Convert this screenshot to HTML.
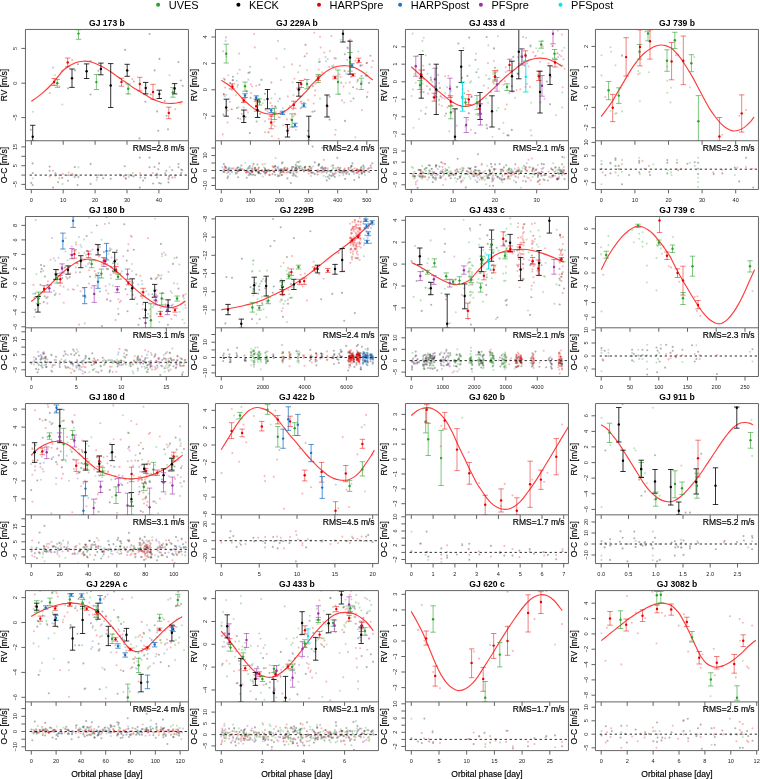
<!DOCTYPE html><html><head><meta charset="utf-8"><style>html,body{margin:0;padding:0;background:#fff;}svg{display:block;will-change:transform;}text{font-family:"Liberation Sans", sans-serif;}.s{stroke:#000;stroke-width:0.18px;}.t{stroke:#333;stroke-width:0.2px;}</style></head><body>
<svg width="760" height="779" viewBox="0 0 760 779">
<rect width="760" height="779" fill="#fff"/>
<circle cx="158.1" cy="4.7" r="2.0" fill="#2ca02c"/>
<text x="168.7" y="8.6" font-size="11" fill="#000">UVES</text>
<circle cx="238.4" cy="4.7" r="2.0" fill="#000000"/>
<text x="249.0" y="8.6" font-size="11" fill="#000">KECK</text>
<circle cx="319.0" cy="4.7" r="2.0" fill="#e60000"/>
<text x="329.6" y="8.6" font-size="11" fill="#000">HARPSpre</text>
<circle cx="400.1" cy="4.7" r="2.0" fill="#1f72c4"/>
<text x="410.7" y="8.6" font-size="11" fill="#000">HARPSpost</text>
<circle cx="480.9" cy="4.7" r="2.0" fill="#9932a8"/>
<text x="491.5" y="8.6" font-size="11" fill="#000">PFSpre</text>
<circle cx="560.5" cy="4.7" r="2.0" fill="#00e8f0"/>
<text x="571.1" y="8.6" font-size="11" fill="#000">PFSpost</text>
<clipPath id="c00a"><rect x="25.4" y="29.4" width="163.0" height="111.3"/></clipPath><clipPath id="c00b"><rect x="25.4" y="140.8" width="163.0" height="48.7"/></clipPath><text x="106.9" y="25.9" font-size="8.6" font-weight="bold" text-anchor="middle" fill="#000">GJ 173 b</text><g clip-path="url(#c00a)"><g stroke="rgba(0,0,0,0.3)" stroke-width="2.10" stroke-linecap="round"><path d="M30.8 129.7h0"/><path d="M67.9 88.3h0"/><path d="M90.5 94.5h0"/><path d="M78.0 64.3h0"/><path d="M90.5 61.0h0"/><path d="M75.1 70.4h0"/><path d="M98.4 70.7h0"/><path d="M149.6 34.0h0"/><path d="M125.1 49.9h0"/><path d="M159.4 58.9h0"/><path d="M178.4 62.1h0"/><path d="M154.6 70.4h0"/><path d="M180.8 80.5h0"/><path d="M182.7 85.8h0"/><path d="M133.8 81.5h0"/><path d="M145.3 101.7h0"/><path d="M164.7 101.0h0"/><path d="M157.1 111.4h0"/><path d="M166.6 115.8h0"/><path d="M158.2 130.7h0"/><path d="M168.0 129.3h0"/><path d="M139.5 138.4h0"/><path d="M150.8 94.5h0"/></g><g stroke="rgba(44,160,44,0.3)" stroke-width="2.10" stroke-linecap="round"><path d="M54.9 75.3h0"/><path d="M62.4 104.5h0"/><path d="M32.9 111.7h0"/><path d="M169.5 75.3h0"/><path d="M180.5 103.8h0"/><path d="M128.0 93.7h0"/></g><g stroke="rgba(230,0,0,0.28)" stroke-width="2.10" stroke-linecap="round"><path d="M53.1 67.6h0"/><path d="M72.2 59.9h0"/><path d="M62.1 70.7h0"/><path d="M49.7 93.0h0"/><path d="M59.5 86.6h0"/><path d="M132.3 79.1h0"/><path d="M175.2 109.3h0"/></g><path d="M31.20,101.40C32.97,100.10 38.17,96.67 41.80,93.60C45.43,90.53 49.28,87.02 53.00,83.00C56.72,78.98 60.38,72.87 64.10,69.50C67.82,66.13 72.12,64.18 75.30,62.80C78.48,61.42 80.40,61.28 83.20,61.20C86.00,61.12 88.75,61.28 92.10,62.30C95.45,63.32 100.22,65.73 103.30,67.30C106.38,68.87 108.45,70.30 110.60,71.70C112.75,73.10 114.33,74.38 116.20,75.70C118.07,77.02 119.93,78.30 121.80,79.60C123.67,80.90 125.53,82.20 127.40,83.50C129.27,84.80 131.13,86.18 133.00,87.40C134.87,88.62 136.75,89.68 138.60,90.80C140.45,91.92 142.25,92.98 144.10,94.10C145.95,95.22 147.83,96.47 149.70,97.50C151.57,98.53 153.43,99.52 155.30,100.30C157.17,101.08 159.03,101.70 160.90,102.20C162.77,102.70 164.63,103.10 166.50,103.30C168.37,103.50 170.23,103.48 172.10,103.40C173.97,103.32 175.93,103.10 177.70,102.80C179.47,102.50 181.87,101.80 182.70,101.60" fill="none" stroke="#ff1a1a" stroke-width="1.15" stroke-opacity="0.85"/><path d="M32.7,125.3V141.0M30.0,125.3H35.4M30.0,141.0H35.4" stroke="rgba(0,0,0,0.8)" stroke-width="1" fill="none"/><path d="M54.1,78.5V85.5M51.4,78.5H56.8M51.4,85.5H56.8" stroke="rgba(230,0,0,0.5)" stroke-width="1" fill="none"/><path d="M57.3,79.5V87.3M54.6,79.5H60.0M54.6,87.3H60.0" stroke="rgba(44,160,44,0.6)" stroke-width="1" fill="none"/><path d="M67.7,58.0V66.8M65.0,58.0H70.4M65.0,66.8H70.4" stroke="rgba(230,0,0,0.5)" stroke-width="1" fill="none"/><path d="M72.0,69.0V87.4M69.3,69.0H74.7M69.3,87.4H74.7" stroke="rgba(0,0,0,0.8)" stroke-width="1" fill="none"/><path d="M78.5,29.8V39.3M75.8,29.8H81.2M75.8,39.3H81.2" stroke="rgba(44,160,44,0.6)" stroke-width="1" fill="none"/><path d="M86.6,63.9V78.5M83.9,63.9H89.3M83.9,78.5H89.3" stroke="rgba(0,0,0,0.8)" stroke-width="1" fill="none"/><path d="M96.4,74.5V89.5M93.7,74.5H99.1M93.7,89.5H99.1" stroke="rgba(44,160,44,0.6)" stroke-width="1" fill="none"/><path d="M100.9,63.1V74.8M98.2,63.1H103.6M98.2,74.8H103.6" stroke="rgba(0,0,0,0.8)" stroke-width="1" fill="none"/><path d="M110.7,63.6V107.5M108.0,63.6H113.4M108.0,107.5H113.4" stroke="rgba(0,0,0,0.8)" stroke-width="1" fill="none"/><path d="M121.5,78.2V86.2M118.8,78.2H124.2M118.8,86.2H124.2" stroke="rgba(230,0,0,0.5)" stroke-width="1" fill="none"/><path d="M127.2,64.3V76.3M124.5,64.3H129.9M124.5,76.3H129.9" stroke="rgba(0,0,0,0.8)" stroke-width="1" fill="none"/><path d="M128.2,84.0V93.9M125.5,84.0H130.9M125.5,93.9H130.9" stroke="rgba(44,160,44,0.6)" stroke-width="1" fill="none"/><path d="M139.8,77.3V90.9M137.1,77.3H142.5M137.1,90.9H142.5" stroke="rgba(230,0,0,0.5)" stroke-width="1" fill="none"/><path d="M145.7,82.4V93.9M143.0,82.4H148.4M143.0,93.9H148.4" stroke="rgba(0,0,0,0.8)" stroke-width="1" fill="none"/><path d="M153.0,84.3V99.3M150.3,84.3H155.7M150.3,99.3H155.7" stroke="rgba(230,0,0,0.5)" stroke-width="1" fill="none"/><path d="M159.3,90.2V98.5M156.6,90.2H162.0M156.6,98.5H162.0" stroke="rgba(0,0,0,0.8)" stroke-width="1" fill="none"/><path d="M168.8,107.2V118.7M166.1,107.2H171.5M166.1,118.7H171.5" stroke="rgba(230,0,0,0.5)" stroke-width="1" fill="none"/><path d="M172.9,87.6V97.2M170.2,87.6H175.6M170.2,97.2H175.6" stroke="rgba(44,160,44,0.6)" stroke-width="1" fill="none"/><path d="M174.6,83.6V93.9M171.9,83.6H177.3M171.9,93.9H177.3" stroke="rgba(0,0,0,0.8)" stroke-width="1" fill="none"/><circle cx="32.7" cy="136.7" r="1.2" fill="#000000"/><circle cx="54.1" cy="81.9" r="1.2" fill="#e60000"/><circle cx="57.3" cy="83.3" r="1.2" fill="#2ca02c"/><circle cx="67.7" cy="62.4" r="1.2" fill="#e60000"/><circle cx="72.0" cy="78.2" r="1.2" fill="#000000"/><circle cx="78.5" cy="33.6" r="1.2" fill="#2ca02c"/><circle cx="86.6" cy="71.2" r="1.2" fill="#000000"/><circle cx="96.4" cy="82.1" r="1.2" fill="#2ca02c"/><circle cx="100.9" cy="69.0" r="1.2" fill="#000000"/><circle cx="110.7" cy="85.5" r="1.2" fill="#000000"/><circle cx="121.5" cy="81.9" r="1.2" fill="#e60000"/><circle cx="127.2" cy="70.4" r="1.2" fill="#000000"/><circle cx="128.2" cy="88.7" r="1.2" fill="#2ca02c"/><circle cx="139.8" cy="84.0" r="1.2" fill="#e60000"/><circle cx="145.7" cy="88.0" r="1.2" fill="#000000"/><circle cx="153.0" cy="92.0" r="1.2" fill="#e60000"/><circle cx="159.3" cy="94.1" r="1.2" fill="#000000"/><circle cx="168.8" cy="112.9" r="1.2" fill="#e60000"/><circle cx="172.9" cy="92.4" r="1.2" fill="#2ca02c"/><circle cx="174.6" cy="88.4" r="1.2" fill="#000000"/></g><g clip-path="url(#c00b)"><g stroke="rgba(0,0,0,0.3)" stroke-width="2.10" stroke-linecap="round"><path d="M32.6 163.4h0"/><path d="M32.8 173.1h0"/><path d="M31.3 182.9h0"/><path d="M32.6 185.0h0"/><path d="M49.6 166.6h0"/><path d="M49.6 170.7h0"/><path d="M55.4 173.4h0"/><path d="M59.5 175.3h0"/><path d="M58.2 182.2h0"/><path d="M62.2 177.9h0"/><path d="M53.0 187.6h0"/><path d="M68.1 175.3h0"/><path d="M67.9 180.7h0"/><path d="M72.5 175.3h0"/><path d="M74.8 167.1h0"/><path d="M74.8 177.1h0"/><path d="M78.4 177.1h0"/><path d="M77.6 185.0h0"/><path d="M76.8 175.3h0"/><path d="M90.6 163.9h0"/><path d="M90.6 175.3h0"/><path d="M90.6 183.9h0"/><path d="M97.1 177.5h0"/><path d="M98.1 175.3h0"/><path d="M102.5 175.3h0"/><path d="M103.2 178.2h0"/><path d="M110.7 178.8h0"/><path d="M119.9 174.7h0"/><path d="M123.8 176.1h0"/><path d="M124.7 166.2h0"/><path d="M126.0 178.6h0"/><path d="M131.5 175.5h0"/><path d="M133.5 176.4h0"/><path d="M139.8 157.6h0"/><path d="M140.4 177.5h0"/><path d="M143.1 180.6h0"/><path d="M144.8 175.3h0"/><path d="M145.0 178.0h0"/><path d="M139.8 187.6h0"/><path d="M149.5 157.6h0"/><path d="M149.5 167.3h0"/><path d="M151.4 175.5h0"/><path d="M154.5 167.0h0"/><path d="M153.1 183.5h0"/><path d="M156.9 173.9h0"/><path d="M157.5 175.3h0"/><path d="M159.1 163.4h0"/><path d="M158.3 169.2h0"/><path d="M159.1 183.0h0"/><path d="M160.8 183.5h0"/><path d="M156.9 177.5h0"/><path d="M165.2 173.3h0"/><path d="M166.3 170.8h0"/><path d="M172.2 170.0h0"/><path d="M169.1 176.1h0"/><path d="M168.5 179.1h0"/><path d="M168.5 182.4h0"/><path d="M172.4 177.5h0"/><path d="M174.9 175.5h0"/><path d="M178.5 164.0h0"/><path d="M178.5 167.3h0"/><path d="M181.2 169.5h0"/><path d="M182.3 170.3h0"/><path d="M181.2 173.0h0"/></g><g stroke="rgba(44,160,44,0.3)" stroke-width="2.10" stroke-linecap="round"><path d="M32.8 178.2h0"/><path d="M55.4 175.7h0"/><path d="M62.5 183.9h0"/><path d="M78.4 167.4h0"/><path d="M96.7 180.1h0"/><path d="M128.2 174.7h0"/><path d="M128.8 176.9h0"/><path d="M169.6 167.0h0"/><path d="M180.5 175.3h0"/></g><g stroke="rgba(230,0,0,0.28)" stroke-width="2.10" stroke-linecap="round"><path d="M53.0 170.7h0"/><path d="M49.6 176.4h0"/><path d="M59.3 178.2h0"/><path d="M62.8 173.9h0"/><path d="M68.7 172.5h0"/><path d="M72.2 173.9h0"/><path d="M120.5 175.5h0"/><path d="M125.4 178.3h0"/><path d="M132.8 173.0h0"/><path d="M140.1 173.0h0"/><path d="M152.7 173.0h0"/><path d="M168.9 177.2h0"/><path d="M174.9 177.5h0"/></g></g><line x1="29.6" y1="175.1" x2="186.9" y2="175.1" stroke="#222" stroke-width="0.95" stroke-dasharray="2.3,2.7"/><path d="M25.45,29.45H188.45V189.45H25.45ZM25.45,140.75H188.45" fill="none" stroke="#646464" stroke-width="1.00"/><path d="M21.4,48.4H25.4M21.4,83.2H25.4M21.4,117.6H25.4M21.4,146.9H25.4M21.4,156.3H25.4M21.4,165.7H25.4M21.4,175.1H25.4M21.4,184.4H25.4M31.3,189.4V193.4M31.3,140.8V144.8M63.2,189.4V193.4M63.2,140.8V144.8M95.1,189.4V193.4M95.1,140.8V144.8M127.0,189.4V193.4M127.0,140.8V144.8M158.9,189.4V193.4M158.9,140.8V144.8" stroke="#646464" stroke-width="1.00" fill="none"/><text transform="translate(17.4,48.4) rotate(-90)" font-size="5.6" text-anchor="middle" fill="#222">5</text><text transform="translate(17.4,83.2) rotate(-90)" font-size="5.6" text-anchor="middle" fill="#222">0</text><text transform="translate(17.4,117.6) rotate(-90)" font-size="5.6" text-anchor="middle" fill="#222">&#8722;5</text><text transform="translate(17.4,146.9) rotate(-90)" font-size="5.6" text-anchor="middle" fill="#222">15</text><text transform="translate(17.4,165.7) rotate(-90)" font-size="5.6" text-anchor="middle" fill="#222">5</text><text transform="translate(17.4,184.4) rotate(-90)" font-size="5.6" text-anchor="middle" fill="#222">&#8722;5</text><text x="31.3" y="202.1" font-size="5.6" text-anchor="middle" fill="#222">0</text><text x="63.2" y="202.1" font-size="5.6" text-anchor="middle" fill="#222">10</text><text x="95.1" y="202.1" font-size="5.6" text-anchor="middle" fill="#222">20</text><text x="127.0" y="202.1" font-size="5.6" text-anchor="middle" fill="#222">30</text><text x="158.9" y="202.1" font-size="5.6" text-anchor="middle" fill="#222">40</text><text transform="translate(6.6,85.1) rotate(-90)" font-size="8.5" text-anchor="middle" fill="#000" class="s">RV [m/s]</text><text transform="translate(6.6,165.1) rotate(-90)" font-size="8.5" text-anchor="middle" fill="#000" class="s">O-C [m/s]</text><text x="184.5" y="151.2" font-size="8.5" text-anchor="end" fill="#000" class="s">RMS=2.8 m/s</text>
<clipPath id="c01a"><rect x="215.4" y="29.4" width="163.0" height="111.3"/></clipPath><clipPath id="c01b"><rect x="215.4" y="140.8" width="163.0" height="48.7"/></clipPath><text x="296.9" y="25.9" font-size="8.6" font-weight="bold" text-anchor="middle" fill="#000">GJ 229A b</text><g clip-path="url(#c01a)"><g stroke="rgba(0,0,0,0.3)" stroke-width="2.10" stroke-linecap="round"><path d="M300.8 108.3h0"/><path d="M248.4 73.0h0"/><path d="M260.1 113.8h0"/><path d="M344.8 54.2h0"/><path d="M224.7 79.6h0"/><path d="M366.6 63.0h0"/><path d="M231.7 85.3h0"/><path d="M259.8 101.5h0"/><path d="M360.4 65.9h0"/><path d="M335.7 58.5h0"/><path d="M249.7 72.3h0"/><path d="M349.1 40.7h0"/><path d="M304.0 102.8h0"/><path d="M309.0 86.9h0"/><path d="M256.6 121.5h0"/><path d="M230.1 82.9h0"/><path d="M314.6 111.3h0"/><path d="M223.8 94.4h0"/><path d="M249.8 133.1h0"/><path d="M369.1 82.9h0"/><path d="M316.6 79.7h0"/><path d="M361.5 76.0h0"/><path d="M246.8 91.5h0"/><path d="M232.7 80.2h0"/><path d="M233.0 76.8h0"/><path d="M287.9 133.3h0"/><path d="M268.5 132.4h0"/><path d="M275.2 106.2h0"/><path d="M250.6 97.9h0"/><path d="M237.0 108.1h0"/><path d="M245.7 117.0h0"/><path d="M357.8 80.1h0"/><path d="M319.7 61.7h0"/><path d="M365.7 75.8h0"/><path d="M304.7 56.3h0"/><path d="M238.0 118.2h0"/><path d="M341.3 82.7h0"/><path d="M353.5 98.5h0"/><path d="M312.9 86.1h0"/><path d="M347.5 47.6h0"/><path d="M367.0 75.6h0"/><path d="M353.1 87.3h0"/><path d="M370.5 55.8h0"/><path d="M312.4 111.7h0"/><path d="M279.8 98.7h0"/><path d="M329.6 96.7h0"/><path d="M271.4 82.5h0"/><path d="M329.6 119.6h0"/><path d="M264.9 93.8h0"/><path d="M344.6 70.9h0"/><path d="M345.0 120.9h0"/><path d="M367.0 96.9h0"/><path d="M231.7 109.2h0"/><path d="M223.4 114.6h0"/><path d="M259.4 84.7h0"/><path d="M305.5 44.9h0"/><path d="M308.0 130.8h0"/></g><g stroke="rgba(44,160,44,0.3)" stroke-width="2.10" stroke-linecap="round"><path d="M238.6 107.2h0"/><path d="M318.7 62.0h0"/><path d="M282.9 108.3h0"/><path d="M246.4 90.8h0"/><path d="M236.0 95.1h0"/><path d="M255.6 98.2h0"/><path d="M345.8 83.0h0"/><path d="M248.0 112.5h0"/><path d="M262.7 103.2h0"/><path d="M288.8 108.1h0"/><path d="M366.5 72.6h0"/><path d="M339.5 94.0h0"/><path d="M257.8 116.5h0"/><path d="M333.3 65.4h0"/><path d="M325.5 56.9h0"/><path d="M271.3 98.3h0"/><path d="M275.1 94.0h0"/><path d="M278.2 101.2h0"/><path d="M228.2 75.2h0"/><path d="M280.0 117.3h0"/><path d="M237.7 73.5h0"/><path d="M354.0 13.7h0"/><path d="M295.9 129.7h0"/><path d="M307.0 70.2h0"/><path d="M292.6 82.2h0"/><path d="M357.6 63.3h0"/><path d="M237.4 87.0h0"/><path d="M260.9 79.7h0"/><path d="M349.6 93.4h0"/><path d="M284.1 67.1h0"/><path d="M284.6 48.9h0"/><path d="M340.7 39.7h0"/><path d="M226.5 56.5h0"/><path d="M358.3 51.6h0"/><path d="M293.4 95.1h0"/><path d="M335.7 129.9h0"/><path d="M319.3 59.3h0"/><path d="M355.4 137.3h0"/><path d="M264.3 99.9h0"/><path d="M298.1 72.3h0"/></g><g stroke="rgba(230,0,0,0.28)" stroke-width="2.10" stroke-linecap="round"><path d="M318.7 69.5h0"/><path d="M372.8 60.9h0"/><path d="M243.1 101.4h0"/><path d="M272.0 105.9h0"/><path d="M355.3 60.8h0"/><path d="M278.6 117.4h0"/><path d="M239.7 69.8h0"/><path d="M251.1 93.1h0"/><path d="M272.6 124.8h0"/><path d="M293.5 116.3h0"/><path d="M225.1 87.6h0"/><path d="M367.1 62.9h0"/><path d="M343.5 86.6h0"/><path d="M294.5 78.8h0"/><path d="M299.9 65.8h0"/><path d="M367.6 92.3h0"/><path d="M275.7 112.4h0"/><path d="M300.3 88.9h0"/><path d="M335.5 68.4h0"/><path d="M229.8 101.7h0"/><path d="M329.2 67.0h0"/><path d="M339.5 74.4h0"/><path d="M290.8 119.5h0"/><path d="M350.4 39.6h0"/><path d="M286.6 124.9h0"/><path d="M283.2 125.2h0"/><path d="M301.4 101.5h0"/><path d="M271.1 119.3h0"/><path d="M268.9 119.1h0"/><path d="M294.9 113.7h0"/><path d="M340.5 77.1h0"/><path d="M287.8 96.4h0"/><path d="M322.2 72.5h0"/><path d="M231.9 90.0h0"/><path d="M304.6 79.3h0"/><path d="M265.6 110.0h0"/><path d="M296.9 88.4h0"/><path d="M272.6 114.0h0"/><path d="M287.0 119.4h0"/><path d="M244.4 119.1h0"/><path d="M334.3 58.0h0"/><path d="M278.7 138.8h0"/><path d="M223.8 78.5h0"/><path d="M356.8 88.9h0"/><path d="M232.8 80.1h0"/><path d="M333.4 67.6h0"/><path d="M241.8 113.9h0"/><path d="M295.4 114.4h0"/><path d="M293.3 104.0h0"/><path d="M288.6 128.9h0"/><path d="M271.7 115.9h0"/><path d="M223.2 51.2h0"/><path d="M274.6 126.0h0"/><path d="M314.3 32.8h0"/><path d="M243.7 107.6h0"/><path d="M267.7 111.5h0"/><path d="M361.9 110.3h0"/><path d="M313.7 103.5h0"/><path d="M331.5 36.1h0"/><path d="M324.3 52.5h0"/><path d="M350.8 101.3h0"/><path d="M341.9 100.4h0"/><path d="M284.5 112.8h0"/><path d="M293.1 109.4h0"/><path d="M315.3 90.4h0"/><path d="M300.7 102.1h0"/><path d="M270.5 103.0h0"/><path d="M308.3 100.0h0"/><path d="M298.6 87.7h0"/><path d="M356.3 11.5h0"/><path d="M250.9 84.2h0"/><path d="M357.2 81.8h0"/><path d="M237.9 84.9h0"/><path d="M281.0 80.0h0"/><path d="M335.1 134.7h0"/><path d="M254.2 34.0h0"/><path d="M329.9 51.0h0"/><path d="M256.3 85.8h0"/><path d="M315.4 83.8h0"/><path d="M292.3 127.3h0"/><path d="M226.0 37.4h0"/><path d="M320.7 47.5h0"/><path d="M246.7 110.3h0"/><path d="M362.4 65.4h0"/><path d="M307.1 135.6h0"/><path d="M286.5 126.7h0"/><path d="M292.1 64.4h0"/><path d="M271.9 136.2h0"/><path d="M227.6 110.4h0"/><path d="M239.2 53.5h0"/><path d="M349.6 82.4h0"/><path d="M318.9 75.6h0"/><path d="M270.5 115.7h0"/><path d="M371.6 67.2h0"/><path d="M320.0 36.7h0"/><path d="M276.6 58.6h0"/><path d="M328.1 106.4h0"/><path d="M274.4 121.7h0"/><path d="M265.1 132.3h0"/><path d="M222.8 134.4h0"/><path d="M223.8 94.1h0"/><path d="M227.6 122.5h0"/><path d="M314.8 95.4h0"/><path d="M252.1 86.5h0"/><path d="M306.8 53.6h0"/><path d="M254.8 47.4h0"/></g><g stroke="rgba(31,114,196,0.3)" stroke-width="2.10" stroke-linecap="round"><path d="M298.6 90.5h0"/><path d="M229.6 88.9h0"/><path d="M332.1 66.4h0"/><path d="M229.4 98.9h0"/><path d="M289.9 106.2h0"/><path d="M351.2 77.0h0"/><path d="M226.2 94.7h0"/><path d="M326.1 61.2h0"/><path d="M275.6 107.2h0"/><path d="M362.4 81.5h0"/><path d="M236.8 80.8h0"/><path d="M344.2 102.5h0"/><path d="M265.0 121.3h0"/><path d="M360.7 65.0h0"/><path d="M224.7 96.4h0"/><path d="M348.1 48.6h0"/><path d="M347.2 59.9h0"/><path d="M225.6 40.9h0"/><path d="M327.7 59.0h0"/><path d="M250.2 66.9h0"/><path d="M320.0 98.8h0"/><path d="M328.6 116.5h0"/><path d="M248.3 79.6h0"/><path d="M261.8 79.9h0"/><path d="M240.4 118.9h0"/><path d="M346.2 73.5h0"/><path d="M277.9 40.9h0"/></g><path d="M221.20,80.10C222.97,81.32 228.17,84.23 231.80,87.40C235.43,90.57 240.20,96.30 243.00,99.10C245.80,101.90 246.75,102.60 248.60,104.20C250.45,105.80 252.25,107.48 254.10,108.70C255.95,109.92 257.83,110.70 259.70,111.50C261.57,112.30 263.43,113.03 265.30,113.50C267.17,113.97 269.03,114.23 270.90,114.30C272.77,114.37 274.63,114.18 276.50,113.90C278.37,113.62 280.23,113.38 282.10,112.60C283.97,111.82 285.83,110.52 287.70,109.20C289.57,107.88 291.15,106.73 293.30,104.70C295.45,102.67 298.45,99.22 300.60,97.00C302.75,94.78 304.33,93.45 306.20,91.40C308.07,89.35 309.93,86.75 311.80,84.70C313.67,82.65 315.53,80.88 317.40,79.10C319.27,77.32 321.13,75.50 323.00,74.00C324.87,72.50 326.75,71.22 328.60,70.10C330.45,68.98 332.25,67.98 334.10,67.30C335.95,66.62 337.83,66.27 339.70,66.00C341.57,65.73 343.43,65.67 345.30,65.70C347.17,65.73 349.03,65.73 350.90,66.20C352.77,66.67 354.63,67.57 356.50,68.50C358.37,69.43 360.23,70.55 362.10,71.80C363.97,73.05 365.93,74.63 367.70,76.00C369.47,77.37 371.87,79.33 372.70,80.00" fill="none" stroke="#ff1a1a" stroke-width="1.15" stroke-opacity="0.85"/><path d="M226.2,44.2V63.0M223.6,44.2H228.9M223.6,63.0H228.9" stroke="rgba(44,160,44,0.6)" stroke-width="1" fill="none"/><path d="M226.2,99.2V116.2M223.6,99.2H228.9M223.6,116.2H228.9" stroke="rgba(0,0,0,0.8)" stroke-width="1" fill="none"/><path d="M232.5,83.8V88.8M229.8,83.8H235.2M229.8,88.8H235.2" stroke="rgba(230,0,0,0.5)" stroke-width="1" fill="none"/><path d="M243.8,110.0V122.5M241.1,110.0H246.4M241.1,122.5H246.4" stroke="rgba(0,0,0,0.8)" stroke-width="1" fill="none"/><path d="M243.8,98.8V102.5M241.1,98.8H246.4M241.1,102.5H246.4" stroke="rgba(230,0,0,0.5)" stroke-width="1" fill="none"/><path d="M245.0,93.8V97.5M242.3,93.8H247.7M242.3,97.5H247.7" stroke="rgba(31,114,196,0.75)" stroke-width="1" fill="none"/><path d="M245.0,82.0V91.2M242.3,82.0H247.7M242.3,91.2H247.7" stroke="rgba(44,160,44,0.6)" stroke-width="1" fill="none"/><path d="M256.2,95.8V99.2M253.6,95.8H258.9M253.6,99.2H258.9" stroke="rgba(31,114,196,0.75)" stroke-width="1" fill="none"/><path d="M256.2,101.2V111.2M253.6,101.2H258.9M253.6,111.2H258.9" stroke="rgba(230,0,0,0.5)" stroke-width="1" fill="none"/><path d="M257.5,100.0V117.5M254.8,100.0H260.2M254.8,117.5H260.2" stroke="rgba(0,0,0,0.8)" stroke-width="1" fill="none"/><path d="M259.5,98.8V105.0M256.8,98.8H262.2M256.8,105.0H262.2" stroke="rgba(44,160,44,0.6)" stroke-width="1" fill="none"/><path d="M267.5,89.5V108.8M264.8,89.5H270.2M264.8,108.8H270.2" stroke="rgba(0,0,0,0.8)" stroke-width="1" fill="none"/><path d="M271.2,108.8V112.5M268.6,108.8H273.9M268.6,112.5H273.9" stroke="rgba(31,114,196,0.75)" stroke-width="1" fill="none"/><path d="M271.2,116.2V128.8M268.6,116.2H273.9M268.6,128.8H273.9" stroke="rgba(230,0,0,0.5)" stroke-width="1" fill="none"/><path d="M274.5,108.2V119.5M271.8,108.2H277.2M271.8,119.5H277.2" stroke="rgba(44,160,44,0.6)" stroke-width="1" fill="none"/><path d="M282.5,111.2V114.5M279.8,111.2H285.2M279.8,114.5H285.2" stroke="rgba(31,114,196,0.75)" stroke-width="1" fill="none"/><path d="M287.5,124.5V137.0M284.8,124.5H290.2M284.8,137.0H290.2" stroke="rgba(0,0,0,0.8)" stroke-width="1" fill="none"/><path d="M292.0,113.8V127.0M289.3,113.8H294.7M289.3,127.0H294.7" stroke="rgba(44,160,44,0.6)" stroke-width="1" fill="none"/><path d="M293.8,101.2V108.2M291.1,101.2H296.4M291.1,108.2H296.4" stroke="rgba(230,0,0,0.5)" stroke-width="1" fill="none"/><path d="M295.0,123.2V126.8M292.3,123.2H297.7M292.3,126.8H297.7" stroke="rgba(31,114,196,0.75)" stroke-width="1" fill="none"/><path d="M298.8,82.5V96.2M296.1,82.5H301.4M296.1,96.2H301.4" stroke="rgba(0,0,0,0.8)" stroke-width="1" fill="none"/><path d="M301.2,80.5V87.5M298.6,80.5H303.9M298.6,87.5H303.9" stroke="rgba(230,0,0,0.5)" stroke-width="1" fill="none"/><path d="M307.0,79.5V88.8M304.3,79.5H309.7M304.3,88.8H309.7" stroke="rgba(44,160,44,0.6)" stroke-width="1" fill="none"/><path d="M303.8,103.8V107.0M301.1,103.8H306.4M301.1,107.0H306.4" stroke="rgba(31,114,196,0.75)" stroke-width="1" fill="none"/><path d="M308.8,116.2V141.0M306.1,116.2H311.4M306.1,141.0H311.4" stroke="rgba(0,0,0,0.8)" stroke-width="1" fill="none"/><path d="M318.2,74.5V82.5M315.6,74.5H320.9M315.6,82.5H320.9" stroke="rgba(44,160,44,0.6)" stroke-width="1" fill="none"/><path d="M318.2,76.2V80.5M315.6,76.2H320.9M315.6,80.5H320.9" stroke="rgba(230,0,0,0.5)" stroke-width="1" fill="none"/><path d="M327.0,95.0V117.0M324.3,95.0H329.7M324.3,117.0H329.7" stroke="rgba(0,0,0,0.8)" stroke-width="1" fill="none"/><path d="M335.0,76.2V78.8M332.3,76.2H337.7M332.3,78.8H337.7" stroke="rgba(230,0,0,0.5)" stroke-width="1" fill="none"/><path d="M338.0,70.0V94.2M335.3,70.0H340.7M335.3,94.2H340.7" stroke="rgba(44,160,44,0.6)" stroke-width="1" fill="none"/><path d="M343.0,28.0V42.0M340.3,28.0H345.7M340.3,42.0H345.7" stroke="rgba(0,0,0,0.8)" stroke-width="1" fill="none"/><path d="M350.0,41.2V74.2M347.3,41.2H352.7M347.3,74.2H352.7" stroke="rgba(0,0,0,0.8)" stroke-width="1" fill="none"/><path d="M350.0,52.5V71.2M347.3,52.5H352.7M347.3,71.2H352.7" stroke="rgba(44,160,44,0.6)" stroke-width="1" fill="none"/><path d="M352.0,63.8V67.5M349.3,63.8H354.7M349.3,67.5H354.7" stroke="rgba(31,114,196,0.75)" stroke-width="1" fill="none"/><path d="M353.0,73.8V76.2M350.3,73.8H355.7M350.3,76.2H355.7" stroke="rgba(230,0,0,0.5)" stroke-width="1" fill="none"/><path d="M358.8,58.2V62.5M356.1,58.2H361.4M356.1,62.5H361.4" stroke="rgba(230,0,0,0.5)" stroke-width="1" fill="none"/><path d="M361.2,78.2V89.5M358.6,78.2H363.9M358.6,89.5H363.9" stroke="rgba(44,160,44,0.6)" stroke-width="1" fill="none"/><circle cx="226.2" cy="53.8" r="1.2" fill="#2ca02c"/><circle cx="226.2" cy="107.5" r="1.2" fill="#000000"/><circle cx="232.5" cy="86.8" r="1.2" fill="#e60000"/><circle cx="243.8" cy="116.2" r="1.2" fill="#000000"/><circle cx="243.8" cy="100.5" r="1.2" fill="#e60000"/><circle cx="245.0" cy="95.5" r="1.2" fill="#1f72c4"/><circle cx="245.0" cy="86.2" r="1.2" fill="#2ca02c"/><circle cx="256.2" cy="97.5" r="1.2" fill="#1f72c4"/><circle cx="256.2" cy="106.2" r="1.2" fill="#e60000"/><circle cx="257.5" cy="110.0" r="1.2" fill="#000000"/><circle cx="259.5" cy="102.0" r="1.2" fill="#2ca02c"/><circle cx="267.5" cy="99.0" r="1.2" fill="#000000"/><circle cx="271.2" cy="110.5" r="1.2" fill="#1f72c4"/><circle cx="271.2" cy="122.5" r="1.2" fill="#e60000"/><circle cx="274.5" cy="113.8" r="1.2" fill="#2ca02c"/><circle cx="282.5" cy="113.0" r="1.2" fill="#1f72c4"/><circle cx="287.5" cy="130.8" r="1.2" fill="#000000"/><circle cx="292.0" cy="120.0" r="1.2" fill="#2ca02c"/><circle cx="293.8" cy="105.0" r="1.2" fill="#e60000"/><circle cx="295.0" cy="125.0" r="1.2" fill="#1f72c4"/><circle cx="298.8" cy="89.5" r="1.2" fill="#000000"/><circle cx="301.2" cy="84.0" r="1.2" fill="#e60000"/><circle cx="307.0" cy="84.0" r="1.2" fill="#2ca02c"/><circle cx="303.8" cy="105.5" r="1.2" fill="#1f72c4"/><circle cx="308.8" cy="136.8" r="1.2" fill="#000000"/><circle cx="318.2" cy="78.8" r="1.2" fill="#2ca02c"/><circle cx="318.2" cy="78.2" r="1.2" fill="#e60000"/><circle cx="327.0" cy="105.8" r="1.2" fill="#000000"/><circle cx="335.0" cy="77.5" r="1.2" fill="#e60000"/><circle cx="338.0" cy="82.0" r="1.2" fill="#2ca02c"/><circle cx="343.0" cy="33.8" r="1.2" fill="#000000"/><circle cx="350.0" cy="57.5" r="1.2" fill="#000000"/><circle cx="350.0" cy="62.0" r="1.2" fill="#2ca02c"/><circle cx="352.0" cy="65.5" r="1.2" fill="#1f72c4"/><circle cx="353.0" cy="75.0" r="1.2" fill="#e60000"/><circle cx="358.8" cy="60.8" r="1.2" fill="#e60000"/><circle cx="361.2" cy="83.8" r="1.2" fill="#2ca02c"/></g><g clip-path="url(#c01b)"><g stroke="rgba(0,0,0,0.3)" stroke-width="2.10" stroke-linecap="round"><path d="M238.1 177.3h0"/><path d="M251.0 174.3h0"/><path d="M278.8 170.6h0"/><path d="M284.5 169.5h0"/><path d="M305.3 166.7h0"/><path d="M317.6 174.5h0"/><path d="M329.3 178.5h0"/><path d="M295.6 168.0h0"/><path d="M281.9 163.5h0"/><path d="M358.7 171.4h0"/><path d="M237.2 168.1h0"/><path d="M323.2 168.2h0"/><path d="M297.3 169.1h0"/><path d="M269.7 171.3h0"/><path d="M283.1 171.4h0"/><path d="M340.3 172.2h0"/><path d="M258.6 172.8h0"/><path d="M291.7 170.0h0"/><path d="M351.7 166.0h0"/><path d="M273.5 167.2h0"/><path d="M291.9 168.5h0"/><path d="M292.9 175.6h0"/><path d="M338.0 167.6h0"/><path d="M333.1 165.3h0"/><path d="M336.5 169.9h0"/><path d="M329.5 171.2h0"/><path d="M331.6 175.8h0"/><path d="M238.0 171.1h0"/><path d="M310.1 171.1h0"/><path d="M340.2 167.9h0"/><path d="M292.1 166.9h0"/><path d="M288.0 172.1h0"/><path d="M224.9 166.3h0"/><path d="M260.6 173.7h0"/><path d="M304.8 167.3h0"/><path d="M268.6 170.6h0"/><path d="M359.0 177.4h0"/><path d="M244.3 170.4h0"/><path d="M343.5 171.0h0"/><path d="M298.3 162.1h0"/><path d="M295.9 168.2h0"/><path d="M332.8 173.6h0"/><path d="M299.8 168.5h0"/><path d="M223.6 172.0h0"/><path d="M290.6 172.4h0"/><path d="M349.2 174.2h0"/><path d="M228.8 168.8h0"/><path d="M302.1 169.5h0"/><path d="M249.8 166.1h0"/><path d="M280.6 172.2h0"/><path d="M276.1 170.1h0"/><path d="M330.9 171.9h0"/><path d="M363.2 165.5h0"/><path d="M278.0 176.3h0"/><path d="M345.2 178.9h0"/><path d="M248.5 168.4h0"/><path d="M339.5 170.1h0"/><path d="M257.4 164.5h0"/><path d="M231.9 172.0h0"/><path d="M227.4 178.1h0"/><path d="M255.1 167.8h0"/><path d="M279.4 175.7h0"/><path d="M360.9 169.4h0"/><path d="M238.1 167.3h0"/><path d="M318.8 164.8h0"/><path d="M272.5 174.1h0"/><path d="M361.0 167.6h0"/><path d="M274.3 171.8h0"/><path d="M264.0 171.8h0"/><path d="M258.9 172.4h0"/><path d="M295.6 175.9h0"/><path d="M304.0 171.4h0"/><path d="M281.7 175.1h0"/><path d="M326.6 172.6h0"/><path d="M319.1 164.1h0"/><path d="M352.5 171.6h0"/><path d="M326.7 180.4h0"/><path d="M287.4 178.4h0"/><path d="M361.7 173.4h0"/><path d="M275.3 166.6h0"/><path d="M322.3 166.9h0"/><path d="M296.3 167.0h0"/><path d="M249.8 173.5h0"/><path d="M311.8 172.5h0"/><path d="M258.8 173.3h0"/><path d="M309.2 166.5h0"/><path d="M369.3 172.1h0"/><path d="M246.7 170.9h0"/><path d="M241.3 165.5h0"/><path d="M370.8 165.5h0"/><path d="M346.2 173.7h0"/><path d="M275.1 165.9h0"/><path d="M318.5 165.6h0"/><path d="M267.2 170.8h0"/><path d="M253.4 174.6h0"/><path d="M252.1 171.7h0"/><path d="M228.1 176.4h0"/><path d="M239.0 170.1h0"/><path d="M329.5 175.1h0"/><path d="M246.7 177.8h0"/><path d="M334.8 176.9h0"/><path d="M253.5 163.9h0"/><path d="M223.8 164.1h0"/><path d="M224.4 171.8h0"/><path d="M290.2 172.7h0"/><path d="M240.6 169.7h0"/><path d="M257.8 171.9h0"/><path d="M372.3 163.3h0"/><path d="M228.7 169.7h0"/><path d="M339.5 172.4h0"/><path d="M255.1 175.2h0"/><path d="M333.3 175.4h0"/><path d="M307.9 169.7h0"/><path d="M293.3 173.3h0"/><path d="M268.7 169.7h0"/><path d="M327.6 170.5h0"/><path d="M327.9 176.7h0"/><path d="M344.4 171.1h0"/><path d="M264.8 172.9h0"/><path d="M295.8 164.9h0"/><path d="M351.3 166.0h0"/><path d="M348.6 167.8h0"/><path d="M287.5 168.4h0"/><path d="M228.4 171.9h0"/><path d="M314.8 174.1h0"/><path d="M275.1 174.7h0"/><path d="M350.8 167.6h0"/><path d="M299.5 166.5h0"/><path d="M248.7 175.2h0"/><path d="M281.3 171.9h0"/><path d="M309.9 166.8h0"/><path d="M362.0 173.5h0"/><path d="M325.7 168.3h0"/><path d="M239.7 169.9h0"/><path d="M322.2 147.7h0"/><path d="M321.0 167.9h0"/><path d="M281.1 169.4h0"/><path d="M314.8 162.4h0"/><path d="M255.9 171.2h0"/><path d="M352.5 163.4h0"/><path d="M354.3 180.0h0"/><path d="M290.8 183.0h0"/><path d="M312.6 146.6h0"/><path d="M337.3 157.7h0"/><path d="M282.5 162.2h0"/></g><g stroke="rgba(44,160,44,0.3)" stroke-width="2.10" stroke-linecap="round"><path d="M265.1 164.0h0"/><path d="M352.7 171.0h0"/><path d="M363.8 166.2h0"/><path d="M254.4 169.0h0"/><path d="M331.8 165.9h0"/><path d="M264.1 167.3h0"/><path d="M297.5 166.0h0"/><path d="M258.2 172.5h0"/><path d="M240.7 168.9h0"/><path d="M333.6 168.0h0"/><path d="M297.1 176.8h0"/><path d="M343.3 175.1h0"/><path d="M305.3 166.8h0"/><path d="M295.1 169.2h0"/><path d="M323.6 175.8h0"/><path d="M252.8 166.0h0"/><path d="M361.6 167.0h0"/><path d="M245.5 162.8h0"/><path d="M308.5 169.8h0"/><path d="M333.0 167.9h0"/><path d="M303.4 170.1h0"/><path d="M283.2 170.7h0"/><path d="M258.7 171.7h0"/><path d="M265.4 170.7h0"/><path d="M258.6 167.9h0"/><path d="M311.4 168.4h0"/><path d="M287.1 170.5h0"/><path d="M252.1 175.2h0"/><path d="M325.8 176.7h0"/><path d="M247.4 168.8h0"/><path d="M347.7 172.8h0"/><path d="M302.1 168.1h0"/><path d="M310.9 175.9h0"/><path d="M262.8 176.5h0"/><path d="M285.5 167.8h0"/><path d="M311.2 171.0h0"/><path d="M237.3 173.3h0"/><path d="M317.2 170.4h0"/><path d="M324.4 171.0h0"/><path d="M325.1 167.8h0"/><path d="M335.8 168.2h0"/><path d="M306.2 169.7h0"/><path d="M298.4 167.1h0"/><path d="M319.7 171.8h0"/><path d="M265.1 168.3h0"/><path d="M269.3 175.3h0"/><path d="M279.8 173.9h0"/><path d="M343.4 173.3h0"/><path d="M275.6 158.1h0"/><path d="M284.6 167.6h0"/><path d="M254.7 169.0h0"/><path d="M365.0 175.1h0"/><path d="M296.8 162.4h0"/><path d="M299.8 161.4h0"/><path d="M294.4 174.6h0"/></g><g stroke="rgba(230,0,0,0.28)" stroke-width="2.10" stroke-linecap="round"><path d="M352.5 169.6h0"/><path d="M235.9 169.3h0"/><path d="M252.6 170.7h0"/><path d="M296.3 172.7h0"/><path d="M232.2 168.5h0"/><path d="M237.3 171.4h0"/><path d="M296.3 170.4h0"/><path d="M290.9 170.3h0"/><path d="M239.5 170.2h0"/><path d="M249.4 173.0h0"/><path d="M280.4 170.5h0"/><path d="M348.8 169.6h0"/><path d="M252.6 172.1h0"/><path d="M360.7 170.1h0"/><path d="M356.9 172.3h0"/><path d="M317.0 171.6h0"/><path d="M364.2 172.0h0"/><path d="M357.5 169.9h0"/><path d="M258.5 170.2h0"/><path d="M247.1 172.3h0"/><path d="M318.2 169.7h0"/><path d="M251.5 171.7h0"/><path d="M324.3 171.5h0"/><path d="M282.3 169.4h0"/><path d="M263.4 171.5h0"/><path d="M308.1 169.7h0"/><path d="M274.0 171.7h0"/><path d="M364.4 172.4h0"/><path d="M248.1 171.7h0"/><path d="M240.6 170.1h0"/><path d="M269.4 174.7h0"/><path d="M241.3 169.5h0"/><path d="M274.3 171.8h0"/><path d="M309.3 170.7h0"/><path d="M360.9 170.3h0"/><path d="M348.4 168.9h0"/><path d="M258.0 169.3h0"/><path d="M227.2 173.0h0"/><path d="M344.8 168.5h0"/><path d="M273.6 167.0h0"/><path d="M327.7 168.4h0"/><path d="M275.6 169.3h0"/><path d="M225.9 167.9h0"/><path d="M362.8 170.6h0"/><path d="M256.0 169.7h0"/><path d="M286.8 169.8h0"/><path d="M229.9 170.9h0"/><path d="M359.2 170.7h0"/><path d="M309.1 169.8h0"/><path d="M367.9 171.5h0"/><path d="M312.7 172.9h0"/><path d="M335.8 173.0h0"/><path d="M331.9 169.8h0"/><path d="M252.2 171.6h0"/><path d="M335.5 171.5h0"/><path d="M304.9 168.0h0"/><path d="M259.3 171.7h0"/><path d="M283.2 171.9h0"/><path d="M318.0 171.7h0"/><path d="M266.1 172.8h0"/><path d="M252.0 171.7h0"/><path d="M246.0 172.3h0"/><path d="M351.0 170.6h0"/><path d="M339.3 169.4h0"/><path d="M280.4 170.5h0"/><path d="M308.8 169.1h0"/><path d="M304.3 167.7h0"/><path d="M343.9 170.1h0"/><path d="M356.2 172.9h0"/><path d="M284.4 169.6h0"/><path d="M259.0 167.5h0"/><path d="M261.9 170.6h0"/><path d="M265.4 169.4h0"/><path d="M231.0 170.2h0"/><path d="M352.0 170.2h0"/><path d="M363.5 168.3h0"/><path d="M224.3 169.2h0"/><path d="M344.1 172.2h0"/><path d="M371.3 168.0h0"/><path d="M245.9 172.7h0"/><path d="M256.3 169.6h0"/><path d="M358.5 170.5h0"/><path d="M364.0 171.4h0"/><path d="M273.3 171.0h0"/><path d="M285.7 170.0h0"/><path d="M279.8 169.4h0"/><path d="M370.4 167.5h0"/><path d="M357.3 173.0h0"/><path d="M356.7 168.8h0"/><path d="M267.1 171.7h0"/><path d="M361.0 171.7h0"/><path d="M235.4 169.8h0"/><path d="M359.2 169.9h0"/><path d="M282.0 174.7h0"/><path d="M287.3 169.3h0"/><path d="M244.9 170.2h0"/><path d="M251.8 169.0h0"/><path d="M293.7 167.1h0"/><path d="M323.2 172.0h0"/><path d="M354.5 168.4h0"/><path d="M255.0 167.9h0"/><path d="M308.8 171.2h0"/><path d="M338.0 171.5h0"/><path d="M296.9 170.2h0"/><path d="M362.3 171.0h0"/><path d="M353.9 171.9h0"/><path d="M339.0 169.7h0"/><path d="M319.5 171.0h0"/><path d="M351.4 171.6h0"/><path d="M308.7 173.6h0"/><path d="M265.7 170.2h0"/><path d="M299.0 167.7h0"/><path d="M356.9 169.9h0"/><path d="M224.4 169.9h0"/><path d="M291.8 170.5h0"/><path d="M297.4 172.2h0"/><path d="M321.6 172.7h0"/><path d="M235.8 174.0h0"/><path d="M284.1 168.2h0"/><path d="M262.0 171.0h0"/><path d="M368.8 168.6h0"/><path d="M294.9 169.2h0"/><path d="M322.3 168.9h0"/><path d="M269.7 174.9h0"/><path d="M365.3 171.0h0"/><path d="M242.5 169.1h0"/><path d="M303.1 170.3h0"/><path d="M300.3 170.6h0"/><path d="M272.2 170.4h0"/><path d="M311.1 172.9h0"/><path d="M293.7 171.2h0"/><path d="M264.9 169.0h0"/><path d="M284.2 172.6h0"/><path d="M367.4 169.3h0"/><path d="M289.7 171.7h0"/><path d="M356.7 170.1h0"/><path d="M286.3 172.7h0"/><path d="M252.4 168.1h0"/><path d="M311.1 169.2h0"/><path d="M334.6 174.1h0"/><path d="M296.1 170.8h0"/><path d="M282.4 170.4h0"/><path d="M277.8 175.2h0"/><path d="M310.7 167.6h0"/><path d="M226.0 167.8h0"/><path d="M224.9 167.2h0"/><path d="M286.0 170.4h0"/><path d="M325.1 170.0h0"/><path d="M267.1 170.4h0"/><path d="M324.2 170.4h0"/><path d="M277.4 167.5h0"/><path d="M265.9 172.1h0"/><path d="M323.7 169.1h0"/><path d="M239.0 171.0h0"/><path d="M346.6 172.3h0"/><path d="M358.2 172.0h0"/><path d="M344.6 169.5h0"/><path d="M342.1 171.4h0"/><path d="M266.0 172.7h0"/><path d="M344.8 171.1h0"/><path d="M262.6 164.4h0"/><path d="M233.4 168.4h0"/><path d="M317.7 171.4h0"/><path d="M272.6 166.0h0"/><path d="M323.8 159.9h0"/></g><g stroke="rgba(31,114,196,0.3)" stroke-width="2.10" stroke-linecap="round"><path d="M235.6 172.4h0"/><path d="M363.7 169.6h0"/><path d="M247.1 170.5h0"/><path d="M364.4 171.9h0"/><path d="M248.3 171.7h0"/><path d="M227.1 169.6h0"/><path d="M293.7 174.5h0"/><path d="M364.5 167.6h0"/><path d="M361.7 172.3h0"/><path d="M237.9 169.8h0"/><path d="M265.0 169.8h0"/><path d="M322.0 171.3h0"/><path d="M280.7 169.6h0"/><path d="M249.9 174.5h0"/><path d="M278.3 168.7h0"/><path d="M347.9 171.4h0"/><path d="M352.8 171.2h0"/><path d="M313.1 166.5h0"/><path d="M222.4 167.4h0"/><path d="M251.0 171.0h0"/><path d="M334.3 173.7h0"/><path d="M308.2 171.0h0"/><path d="M368.4 168.2h0"/><path d="M228.8 167.5h0"/><path d="M294.8 170.7h0"/><path d="M236.4 173.0h0"/><path d="M330.9 176.1h0"/><path d="M280.7 172.6h0"/><path d="M250.0 168.1h0"/><path d="M225.8 167.2h0"/><path d="M296.6 168.7h0"/><path d="M359.1 174.5h0"/><path d="M248.6 167.1h0"/><path d="M332.0 170.6h0"/><path d="M230.6 168.3h0"/><path d="M265.3 174.5h0"/><path d="M255.3 169.6h0"/><path d="M341.8 171.4h0"/><path d="M230.1 174.0h0"/><path d="M339.4 175.6h0"/><path d="M227.8 170.2h0"/><path d="M278.3 166.9h0"/><path d="M353.8 171.4h0"/><path d="M275.5 169.1h0"/><path d="M255.9 170.1h0"/><path d="M300.8 166.2h0"/><path d="M305.0 169.7h0"/><path d="M313.4 172.7h0"/><path d="M346.0 172.1h0"/><path d="M353.9 173.9h0"/><path d="M327.5 171.0h0"/><path d="M222.7 170.9h0"/><path d="M252.2 169.9h0"/><path d="M325.0 167.8h0"/><path d="M342.3 173.0h0"/><path d="M293.2 167.0h0"/><path d="M250.6 171.3h0"/><path d="M322.5 170.5h0"/><path d="M262.1 170.0h0"/><path d="M240.0 168.0h0"/></g></g><line x1="219.6" y1="170.5" x2="376.9" y2="170.5" stroke="#222" stroke-width="0.95" stroke-dasharray="2.3,2.7"/><path d="M215.45,29.45H378.45V189.45H215.45ZM215.45,140.75H378.45" fill="none" stroke="#646464" stroke-width="1.00"/><path d="M211.4,37.0H215.4M211.4,63.4H215.4M211.4,89.8H215.4M211.4,116.2H215.4M211.4,148.0H215.4M211.4,155.5H215.4M211.4,163.0H215.4M211.4,170.5H215.4M211.4,178.0H215.4M211.4,185.5H215.4M221.3,189.4V193.4M221.3,140.8V144.8M250.4,189.4V193.4M250.4,140.8V144.8M279.5,189.4V193.4M279.5,140.8V144.8M308.6,189.4V193.4M308.6,140.8V144.8M337.7,189.4V193.4M337.7,140.8V144.8M366.8,189.4V193.4M366.8,140.8V144.8" stroke="#646464" stroke-width="1.00" fill="none"/><text transform="translate(207.4,37.0) rotate(-90)" font-size="5.6" text-anchor="middle" fill="#222">4</text><text transform="translate(207.4,63.4) rotate(-90)" font-size="5.6" text-anchor="middle" fill="#222">2</text><text transform="translate(207.4,89.8) rotate(-90)" font-size="5.6" text-anchor="middle" fill="#222">0</text><text transform="translate(207.4,116.2) rotate(-90)" font-size="5.6" text-anchor="middle" fill="#222">&#8722;2</text><text transform="translate(207.4,155.5) rotate(-90)" font-size="5.6" text-anchor="middle" fill="#222">10</text><text transform="translate(207.4,170.5) rotate(-90)" font-size="5.6" text-anchor="middle" fill="#222">0</text><text transform="translate(207.4,185.5) rotate(-90)" font-size="5.6" text-anchor="middle" fill="#222">&#8722;10</text><text x="221.3" y="202.1" font-size="5.6" text-anchor="middle" fill="#222">0</text><text x="250.4" y="202.1" font-size="5.6" text-anchor="middle" fill="#222">100</text><text x="279.5" y="202.1" font-size="5.6" text-anchor="middle" fill="#222">200</text><text x="308.6" y="202.1" font-size="5.6" text-anchor="middle" fill="#222">300</text><text x="337.7" y="202.1" font-size="5.6" text-anchor="middle" fill="#222">400</text><text x="366.8" y="202.1" font-size="5.6" text-anchor="middle" fill="#222">500</text><text transform="translate(196.6,85.1) rotate(-90)" font-size="8.5" text-anchor="middle" fill="#000" class="s">RV [m/s]</text><text transform="translate(196.6,165.1) rotate(-90)" font-size="8.5" text-anchor="middle" fill="#000" class="s">O-C [m/s]</text><text x="374.6" y="151.2" font-size="8.5" text-anchor="end" fill="#000" class="s">RMS=2.4 m/s</text>
<clipPath id="c02a"><rect x="405.4" y="29.4" width="163.0" height="111.3"/></clipPath><clipPath id="c02b"><rect x="405.4" y="140.8" width="163.0" height="48.7"/></clipPath><text x="487.0" y="25.9" font-size="8.6" font-weight="bold" text-anchor="middle" fill="#000">GJ 433 d</text><g clip-path="url(#c02a)"><g stroke="rgba(0,0,0,0.3)" stroke-width="2.10" stroke-linecap="round"><path d="M486.6 125.1h0"/><path d="M511.8 86.3h0"/><path d="M530.5 45.6h0"/><path d="M424.1 70.0h0"/><path d="M464.3 93.2h0"/><path d="M435.2 86.6h0"/><path d="M471.5 96.9h0"/><path d="M457.2 86.9h0"/><path d="M429.6 64.4h0"/><path d="M419.9 78.2h0"/><path d="M557.3 53.2h0"/><path d="M462.1 98.3h0"/><path d="M517.5 73.5h0"/><path d="M439.9 87.9h0"/><path d="M425.5 113.7h0"/><path d="M518.2 74.0h0"/><path d="M431.0 79.9h0"/><path d="M462.1 77.7h0"/><path d="M430.0 89.4h0"/><path d="M446.1 113.5h0"/><path d="M468.5 102.4h0"/><path d="M550.0 104.3h0"/><path d="M549.2 26.4h0"/><path d="M487.1 128.4h0"/><path d="M458.3 43.5h0"/><path d="M547.0 81.6h0"/><path d="M430.9 77.6h0"/><path d="M440.7 96.4h0"/><path d="M423.5 92.0h0"/><path d="M475.3 133.1h0"/><path d="M467.4 75.9h0"/><path d="M478.3 115.0h0"/><path d="M495.0 67.8h0"/><path d="M539.3 76.6h0"/><path d="M469.2 37.6h0"/><path d="M486.6 37.0h0"/><path d="M552.6 46.2h0"/><path d="M476.4 72.3h0"/><path d="M421.9 76.4h0"/><path d="M508.6 135.4h0"/><path d="M475.5 59.7h0"/><path d="M507.4 135.3h0"/><path d="M513.3 56.9h0"/><path d="M511.8 129.9h0"/><path d="M494.0 48.4h0"/></g><g stroke="rgba(44,160,44,0.3)" stroke-width="2.10" stroke-linecap="round"><path d="M422.4 40.9h0"/><path d="M537.9 51.0h0"/><path d="M478.7 77.4h0"/><path d="M412.9 89.4h0"/><path d="M432.2 82.1h0"/><path d="M426.2 107.5h0"/><path d="M499.5 129.0h0"/><path d="M465.3 126.5h0"/><path d="M414.5 73.7h0"/><path d="M438.8 100.5h0"/><path d="M461.7 83.0h0"/><path d="M538.0 74.4h0"/><path d="M415.7 82.8h0"/><path d="M435.8 78.7h0"/><path d="M491.2 92.3h0"/><path d="M488.4 79.0h0"/><path d="M441.9 105.8h0"/><path d="M526.2 56.9h0"/><path d="M488.0 102.8h0"/><path d="M445.3 93.1h0"/><path d="M427.6 73.8h0"/><path d="M486.2 75.2h0"/><path d="M451.3 104.9h0"/><path d="M456.9 109.1h0"/><path d="M564.3 47.8h0"/><path d="M461.6 97.0h0"/><path d="M560.2 64.5h0"/><path d="M450.9 91.0h0"/><path d="M562.6 65.4h0"/><path d="M542.0 40.8h0"/><path d="M478.0 69.3h0"/><path d="M531.2 102.8h0"/><path d="M462.1 108.0h0"/><path d="M510.3 72.3h0"/><path d="M417.7 55.8h0"/><path d="M555.1 -14.2h0"/><path d="M521.8 55.5h0"/><path d="M469.5 65.6h0"/><path d="M425.7 55.2h0"/><path d="M444.9 115.9h0"/><path d="M514.9 97.7h0"/><path d="M486.0 98.2h0"/><path d="M494.2 83.7h0"/><path d="M493.2 74.0h0"/><path d="M498.0 36.3h0"/><path d="M503.5 133.3h0"/><path d="M542.7 53.3h0"/><path d="M419.0 119.0h0"/><path d="M476.0 114.2h0"/><path d="M471.1 81.4h0"/><path d="M496.7 110.6h0"/><path d="M480.9 118.3h0"/><path d="M498.1 107.7h0"/><path d="M411.6 96.0h0"/><path d="M530.6 46.7h0"/><path d="M423.7 37.7h0"/><path d="M422.7 50.9h0"/><path d="M413.5 127.8h0"/><path d="M556.1 115.2h0"/><path d="M470.0 82.7h0"/><path d="M538.6 78.7h0"/><path d="M503.4 122.7h0"/><path d="M499.0 84.2h0"/><path d="M526.0 37.7h0"/><path d="M492.5 136.7h0"/><path d="M488.4 45.4h0"/><path d="M536.2 48.2h0"/><path d="M530.7 130.4h0"/><path d="M468.1 119.8h0"/><path d="M412.7 33.6h0"/><path d="M422.6 83.6h0"/><path d="M456.6 87.1h0"/><path d="M562.3 92.5h0"/></g><g stroke="rgba(230,0,0,0.28)" stroke-width="2.10" stroke-linecap="round"><path d="M510.9 61.2h0"/><path d="M439.2 104.5h0"/><path d="M504.9 81.3h0"/><path d="M526.8 83.9h0"/><path d="M564.6 68.8h0"/><path d="M561.2 56.3h0"/><path d="M420.5 92.2h0"/><path d="M437.2 91.7h0"/><path d="M462.5 88.9h0"/><path d="M518.1 57.1h0"/><path d="M542.7 46.4h0"/><path d="M497.6 70.4h0"/><path d="M525.3 54.1h0"/><path d="M562.7 87.2h0"/><path d="M439.3 99.4h0"/><path d="M423.2 65.8h0"/><path d="M426.9 86.1h0"/><path d="M520.3 89.2h0"/><path d="M503.7 84.7h0"/><path d="M550.9 76.8h0"/><path d="M448.7 95.6h0"/><path d="M559.4 54.7h0"/><path d="M525.5 86.9h0"/><path d="M445.1 76.2h0"/><path d="M493.2 82.5h0"/><path d="M479.7 101.5h0"/><path d="M428.1 93.6h0"/><path d="M453.2 111.4h0"/><path d="M424.1 79.3h0"/><path d="M533.3 52.2h0"/><path d="M525.5 55.4h0"/><path d="M468.3 91.1h0"/><path d="M452.3 152.6h0"/><path d="M415.4 65.6h0"/><path d="M450.2 86.4h0"/><path d="M470.9 129.7h0"/><path d="M523.1 37.1h0"/><path d="M516.6 90.1h0"/><path d="M524.5 65.6h0"/><path d="M552.5 45.6h0"/><path d="M529.3 -2.7h0"/><path d="M483.8 85.6h0"/><path d="M448.4 75.8h0"/><path d="M479.5 102.0h0"/><path d="M529.9 86.9h0"/><path d="M535.7 55.8h0"/><path d="M488.0 63.0h0"/><path d="M463.4 48.1h0"/><path d="M561.8 34.5h0"/><path d="M505.2 109.3h0"/><path d="M528.6 66.5h0"/><path d="M531.4 135.5h0"/><path d="M548.6 63.6h0"/><path d="M506.6 104.6h0"/><path d="M447.5 107.4h0"/></g><g stroke="rgba(153,50,168,0.3)" stroke-width="2.10" stroke-linecap="round"><path d="M540.1 62.0h0"/><path d="M444.4 98.8h0"/><path d="M563.5 59.2h0"/><path d="M534.9 56.3h0"/><path d="M442.3 97.9h0"/><path d="M505.8 72.1h0"/><path d="M468.7 113.1h0"/><path d="M495.1 88.4h0"/><path d="M500.6 81.0h0"/><path d="M562.0 50.8h0"/><path d="M512.3 91.9h0"/><path d="M505.7 67.2h0"/><path d="M527.2 63.4h0"/><path d="M548.8 22.0h0"/><path d="M509.3 93.1h0"/><path d="M450.5 100.2h0"/><path d="M438.2 74.9h0"/><path d="M488.3 88.0h0"/><path d="M493.8 61.0h0"/><path d="M476.0 53.7h0"/><path d="M469.0 113.5h0"/><path d="M562.2 107.5h0"/><path d="M447.1 87.3h0"/><path d="M520.5 48.9h0"/><path d="M563.6 15.9h0"/><path d="M439.1 83.3h0"/><path d="M540.5 102.4h0"/><path d="M564.2 28.7h0"/><path d="M557.8 30.6h0"/><path d="M456.7 125.6h0"/><path d="M421.1 110.7h0"/><path d="M544.5 98.8h0"/><path d="M489.6 78.7h0"/><path d="M449.3 131.2h0"/><path d="M558.1 57.0h0"/><path d="M498.8 128.9h0"/><path d="M471.6 96.1h0"/></g><path d="M411.20,66.70C412.03,67.45 414.43,69.60 416.20,71.20C417.97,72.80 419.93,74.62 421.80,76.30C423.67,77.98 425.53,79.63 427.40,81.30C429.27,82.97 431.13,84.62 433.00,86.30C434.87,87.98 436.75,89.82 438.60,91.40C440.45,92.98 442.25,94.32 444.10,95.80C445.95,97.28 447.83,98.98 449.70,100.30C451.57,101.62 453.43,102.77 455.30,103.70C457.17,104.63 459.40,105.43 460.90,105.90C462.40,106.37 463.18,106.45 464.30,106.50C465.42,106.55 466.30,106.43 467.60,106.20C468.90,105.97 470.42,105.72 472.10,105.10C473.78,104.48 475.80,103.72 477.70,102.50C479.60,101.28 481.40,99.63 483.50,97.80C485.60,95.97 488.18,93.48 490.30,91.50C492.42,89.52 494.28,87.77 496.20,85.90C498.12,84.03 499.93,82.08 501.80,80.30C503.67,78.52 505.53,76.78 507.40,75.20C509.27,73.62 511.13,72.28 513.00,70.80C514.87,69.32 516.75,67.70 518.60,66.30C520.45,64.90 522.25,63.47 524.10,62.40C525.95,61.33 527.83,60.55 529.70,59.90C531.57,59.25 533.62,58.80 535.30,58.50C536.98,58.20 537.93,58.05 539.80,58.10C541.67,58.15 544.45,58.37 546.50,58.80C548.55,59.23 550.23,59.92 552.10,60.70C553.97,61.48 556.02,62.52 557.70,63.50C559.38,64.48 561.45,66.08 562.20,66.60" fill="none" stroke="#ff1a1a" stroke-width="1.15" stroke-opacity="0.85"/><path d="M415.8,56.2V76.2M413.1,56.2H418.4M413.1,76.2H418.4" stroke="rgba(153,50,168,0.6)" stroke-width="1" fill="none"/><path d="M421.2,54.5V98.2M418.6,54.5H423.9M418.6,98.2H423.9" stroke="rgba(0,0,0,0.8)" stroke-width="1" fill="none"/><path d="M421.2,70.0V78.2M418.6,70.0H423.9M418.6,78.2H423.9" stroke="rgba(230,0,0,0.5)" stroke-width="1" fill="none"/><path d="M420.0,80.5V89.5M417.3,80.5H422.7M417.3,89.5H422.7" stroke="rgba(44,160,44,0.6)" stroke-width="1" fill="none"/><path d="M435.0,68.2V97.0M432.3,68.2H437.7M432.3,97.0H437.7" stroke="rgba(153,50,168,0.6)" stroke-width="1" fill="none"/><path d="M436.2,64.2V114.5M433.6,64.2H438.9M433.6,114.5H438.9" stroke="rgba(0,0,0,0.8)" stroke-width="1" fill="none"/><path d="M434.2,93.2V101.2M431.6,93.2H436.9M431.6,101.2H436.9" stroke="rgba(230,0,0,0.5)" stroke-width="1" fill="none"/><path d="M450.0,78.2V97.5M447.3,78.2H452.7M447.3,97.5H452.7" stroke="rgba(153,50,168,0.6)" stroke-width="1" fill="none"/><path d="M450.8,95.8V105.8M448.1,95.8H453.4M448.1,105.8H453.4" stroke="rgba(230,0,0,0.5)" stroke-width="1" fill="none"/><path d="M450.8,106.2V118.8M448.1,106.2H453.4M448.1,118.8H453.4" stroke="rgba(44,160,44,0.6)" stroke-width="1" fill="none"/><path d="M455.0,108.8V141.0M452.3,108.8H457.7M452.3,141.0H457.7" stroke="rgba(0,0,0,0.8)" stroke-width="1" fill="none"/><path d="M461.2,50.5V82.5M458.6,50.5H463.9M458.6,82.5H463.9" stroke="rgba(0,0,0,0.8)" stroke-width="1" fill="none"/><path d="M462.5,82.0V111.2M459.8,82.0H465.2M459.8,111.2H465.2" stroke="rgba(0,225,235,0.85)" stroke-width="1" fill="none"/><path d="M465.5,98.8V106.2M462.8,98.8H468.2M462.8,106.2H468.2" stroke="rgba(44,160,44,0.6)" stroke-width="1" fill="none"/><path d="M468.8,94.5V104.5M466.1,94.5H471.4M466.1,104.5H471.4" stroke="rgba(230,0,0,0.5)" stroke-width="1" fill="none"/><path d="M466.2,117.5V132.5M463.6,117.5H468.9M463.6,132.5H468.9" stroke="rgba(153,50,168,0.6)" stroke-width="1" fill="none"/><path d="M477.0,95.5V109.5M474.3,95.5H479.7M474.3,109.5H479.7" stroke="rgba(44,160,44,0.6)" stroke-width="1" fill="none"/><path d="M480.0,92.5V119.5M477.3,92.5H482.7M477.3,119.5H482.7" stroke="rgba(0,0,0,0.8)" stroke-width="1" fill="none"/><path d="M479.5,103.8V113.8M476.8,103.8H482.2M476.8,113.8H482.2" stroke="rgba(230,0,0,0.5)" stroke-width="1" fill="none"/><path d="M480.5,103.8V125.0M477.8,103.8H483.2M477.8,125.0H483.2" stroke="rgba(153,50,168,0.6)" stroke-width="1" fill="none"/><path d="M492.0,95.8V127.0M489.3,95.8H494.7M489.3,127.0H494.7" stroke="rgba(0,0,0,0.8)" stroke-width="1" fill="none"/><path d="M495.0,72.0V81.2M492.3,72.0H497.7M492.3,81.2H497.7" stroke="rgba(44,160,44,0.6)" stroke-width="1" fill="none"/><path d="M495.0,70.5V80.0M492.3,70.5H497.7M492.3,80.0H497.7" stroke="rgba(230,0,0,0.5)" stroke-width="1" fill="none"/><path d="M497.0,77.5V91.2M494.3,77.5H499.7M494.3,91.2H499.7" stroke="rgba(153,50,168,0.6)" stroke-width="1" fill="none"/><path d="M507.0,83.8V90.5M504.3,83.8H509.7M504.3,90.5H509.7" stroke="rgba(44,160,44,0.6)" stroke-width="1" fill="none"/><path d="M509.5,59.2V70.8M506.8,59.2H512.2M506.8,70.8H512.2" stroke="rgba(230,0,0,0.5)" stroke-width="1" fill="none"/><path d="M512.0,61.2V91.2M509.3,61.2H514.7M509.3,91.2H514.7" stroke="rgba(0,0,0,0.8)" stroke-width="1" fill="none"/><path d="M518.8,28.0V78.8M516.0,28.0H521.5M516.0,78.8H521.5" stroke="rgba(0,0,0,0.8)" stroke-width="1" fill="none"/><path d="M521.8,48.8V63.8M519.0,48.8H524.5M519.0,63.8H524.5" stroke="rgba(44,160,44,0.6)" stroke-width="1" fill="none"/><path d="M522.0,48.8V65.0M519.3,48.8H524.7M519.3,65.0H524.7" stroke="rgba(153,50,168,0.6)" stroke-width="1" fill="none"/><path d="M525.5,50.8V61.2M522.8,50.8H528.2M522.8,61.2H528.2" stroke="rgba(230,0,0,0.5)" stroke-width="1" fill="none"/><path d="M525.8,61.2V92.0M523.0,61.2H528.5M523.0,92.0H528.5" stroke="rgba(0,225,235,0.85)" stroke-width="1" fill="none"/><path d="M538.8,71.2V80.5M536.0,71.2H541.5M536.0,80.5H541.5" stroke="rgba(230,0,0,0.5)" stroke-width="1" fill="none"/><path d="M540.0,71.2V113.0M537.3,71.2H542.7M537.3,113.0H542.7" stroke="rgba(0,0,0,0.8)" stroke-width="1" fill="none"/><path d="M542.0,75.5V96.2M539.3,75.5H544.7M539.3,96.2H544.7" stroke="rgba(153,50,168,0.6)" stroke-width="1" fill="none"/><path d="M541.2,41.2V48.2M538.5,41.2H544.0M538.5,48.2H544.0" stroke="rgba(44,160,44,0.6)" stroke-width="1" fill="none"/><path d="M550.0,65.8V84.5M547.3,65.8H552.7M547.3,84.5H552.7" stroke="rgba(0,0,0,0.8)" stroke-width="1" fill="none"/><path d="M553.0,29.5V43.8M550.3,29.5H555.7M550.3,43.8H555.7" stroke="rgba(153,50,168,0.6)" stroke-width="1" fill="none"/><path d="M554.5,49.5V58.2M551.8,49.5H557.2M551.8,58.2H557.2" stroke="rgba(44,160,44,0.6)" stroke-width="1" fill="none"/><path d="M555.0,59.5V67.0M552.3,59.5H557.7M552.3,67.0H557.7" stroke="rgba(230,0,0,0.5)" stroke-width="1" fill="none"/><circle cx="415.8" cy="66.2" r="1.2" fill="#9932a8"/><circle cx="421.2" cy="76.2" r="1.2" fill="#000000"/><circle cx="421.2" cy="74.2" r="1.2" fill="#e60000"/><circle cx="420.0" cy="85.0" r="1.2" fill="#2ca02c"/><circle cx="435.0" cy="79.2" r="1.2" fill="#9932a8"/><circle cx="436.2" cy="89.5" r="1.2" fill="#000000"/><circle cx="434.2" cy="97.5" r="1.2" fill="#e60000"/><circle cx="450.0" cy="88.8" r="1.2" fill="#9932a8"/><circle cx="450.8" cy="101.8" r="1.2" fill="#e60000"/><circle cx="450.8" cy="112.5" r="1.2" fill="#2ca02c"/><circle cx="455.0" cy="136.8" r="1.2" fill="#000000"/><circle cx="461.2" cy="66.8" r="1.2" fill="#000000"/><circle cx="462.5" cy="96.8" r="1.2" fill="#00e8f0"/><circle cx="465.5" cy="102.5" r="1.2" fill="#2ca02c"/><circle cx="468.8" cy="99.5" r="1.2" fill="#e60000"/><circle cx="466.2" cy="125.0" r="1.2" fill="#9932a8"/><circle cx="477.0" cy="102.5" r="1.2" fill="#2ca02c"/><circle cx="480.0" cy="105.8" r="1.2" fill="#000000"/><circle cx="479.5" cy="108.8" r="1.2" fill="#e60000"/><circle cx="480.5" cy="113.8" r="1.2" fill="#9932a8"/><circle cx="492.0" cy="111.2" r="1.2" fill="#000000"/><circle cx="495.0" cy="76.2" r="1.2" fill="#2ca02c"/><circle cx="495.0" cy="76.8" r="1.2" fill="#e60000"/><circle cx="497.0" cy="84.5" r="1.2" fill="#9932a8"/><circle cx="507.0" cy="87.0" r="1.2" fill="#2ca02c"/><circle cx="509.5" cy="65.0" r="1.2" fill="#e60000"/><circle cx="512.0" cy="76.2" r="1.2" fill="#000000"/><circle cx="518.8" cy="51.8" r="1.2" fill="#000000"/><circle cx="521.8" cy="56.8" r="1.2" fill="#2ca02c"/><circle cx="522.0" cy="56.8" r="1.2" fill="#9932a8"/><circle cx="525.5" cy="55.5" r="1.2" fill="#e60000"/><circle cx="525.8" cy="76.8" r="1.2" fill="#00e8f0"/><circle cx="538.8" cy="76.2" r="1.2" fill="#e60000"/><circle cx="540.0" cy="92.0" r="1.2" fill="#000000"/><circle cx="542.0" cy="85.8" r="1.2" fill="#9932a8"/><circle cx="541.2" cy="44.5" r="1.2" fill="#2ca02c"/><circle cx="550.0" cy="75.0" r="1.2" fill="#000000"/><circle cx="553.0" cy="33.8" r="1.2" fill="#9932a8"/><circle cx="554.5" cy="53.8" r="1.2" fill="#2ca02c"/><circle cx="555.0" cy="62.5" r="1.2" fill="#e60000"/></g><g clip-path="url(#c02b)"><g stroke="rgba(0,0,0,0.3)" stroke-width="2.10" stroke-linecap="round"><path d="M495.8 174.9h0"/><path d="M502.1 179.6h0"/><path d="M557.3 179.0h0"/><path d="M515.6 176.6h0"/><path d="M476.0 170.5h0"/><path d="M449.1 175.0h0"/><path d="M521.8 171.0h0"/><path d="M557.3 179.6h0"/><path d="M491.7 166.7h0"/><path d="M459.9 177.7h0"/><path d="M503.3 170.9h0"/><path d="M553.3 175.9h0"/><path d="M508.7 176.3h0"/><path d="M465.3 174.3h0"/><path d="M437.5 174.8h0"/><path d="M501.3 169.7h0"/><path d="M428.8 165.3h0"/><path d="M419.5 170.1h0"/><path d="M561.2 172.1h0"/><path d="M435.8 166.7h0"/><path d="M518.0 170.8h0"/><path d="M489.9 172.1h0"/><path d="M433.2 177.4h0"/><path d="M544.5 180.1h0"/><path d="M512.0 172.6h0"/><path d="M426.6 168.0h0"/><path d="M537.9 177.1h0"/><path d="M562.8 171.7h0"/><path d="M451.2 173.9h0"/><path d="M479.0 174.5h0"/><path d="M460.6 176.5h0"/><path d="M452.9 174.5h0"/><path d="M422.9 175.9h0"/><path d="M519.3 169.8h0"/><path d="M516.2 171.8h0"/><path d="M420.4 170.3h0"/><path d="M431.9 168.7h0"/><path d="M503.9 179.5h0"/><path d="M492.4 172.8h0"/><path d="M489.4 170.5h0"/><path d="M535.9 170.1h0"/><path d="M538.3 174.4h0"/><path d="M439.5 166.6h0"/><path d="M463.5 168.4h0"/><path d="M492.4 179.1h0"/><path d="M489.2 178.2h0"/><path d="M547.9 180.5h0"/><path d="M508.1 176.7h0"/><path d="M432.1 175.4h0"/><path d="M479.6 174.0h0"/><path d="M434.4 172.4h0"/><path d="M490.0 171.1h0"/><path d="M475.1 170.1h0"/><path d="M462.8 170.5h0"/><path d="M487.6 178.2h0"/><path d="M544.2 175.2h0"/><path d="M532.5 173.7h0"/><path d="M457.6 179.0h0"/><path d="M499.6 164.0h0"/><path d="M516.0 182.2h0"/><path d="M480.1 172.5h0"/><path d="M467.1 173.9h0"/><path d="M493.8 169.0h0"/><path d="M557.6 172.9h0"/><path d="M434.6 178.6h0"/><path d="M455.3 170.5h0"/><path d="M499.7 178.6h0"/><path d="M461.5 172.0h0"/><path d="M539.2 173.0h0"/><path d="M527.2 170.7h0"/><path d="M461.3 181.3h0"/><path d="M459.6 176.6h0"/><path d="M509.0 168.7h0"/><path d="M504.5 178.9h0"/><path d="M456.3 172.5h0"/><path d="M497.9 176.9h0"/><path d="M449.1 176.1h0"/><path d="M441.1 177.3h0"/><path d="M421.2 176.2h0"/><path d="M466.7 171.1h0"/><path d="M562.9 173.3h0"/><path d="M470.0 168.8h0"/><path d="M508.7 172.8h0"/><path d="M497.3 176.8h0"/><path d="M557.3 178.4h0"/><path d="M560.4 171.4h0"/><path d="M520.8 172.9h0"/><path d="M479.4 170.5h0"/><path d="M540.4 173.8h0"/><path d="M516.8 171.4h0"/><path d="M541.6 175.7h0"/><path d="M560.7 169.8h0"/><path d="M429.9 165.5h0"/><path d="M420.8 172.8h0"/><path d="M545.2 174.6h0"/><path d="M559.1 169.9h0"/><path d="M515.3 164.3h0"/><path d="M505.1 173.5h0"/><path d="M471.9 173.6h0"/><path d="M473.8 171.8h0"/><path d="M453.7 175.1h0"/><path d="M532.1 170.9h0"/><path d="M502.5 169.5h0"/><path d="M558.7 173.5h0"/><path d="M555.6 167.5h0"/><path d="M564.5 179.1h0"/><path d="M429.2 170.5h0"/><path d="M435.9 177.7h0"/><path d="M423.1 173.0h0"/><path d="M541.6 171.7h0"/><path d="M525.8 181.4h0"/><path d="M518.9 174.1h0"/><path d="M478.2 170.7h0"/><path d="M457.0 169.2h0"/><path d="M440.5 172.3h0"/><path d="M415.0 176.5h0"/><path d="M489.5 169.8h0"/><path d="M468.5 168.1h0"/><path d="M503.9 167.4h0"/><path d="M488.6 174.9h0"/><path d="M424.6 169.5h0"/><path d="M430.7 174.6h0"/><path d="M436.3 165.2h0"/><path d="M491.2 174.0h0"/><path d="M470.1 168.7h0"/><path d="M488.3 177.5h0"/><path d="M418.5 169.8h0"/><path d="M512.0 172.1h0"/><path d="M552.9 169.8h0"/><path d="M511.6 170.0h0"/><path d="M539.8 179.9h0"/><path d="M552.2 175.7h0"/><path d="M443.9 173.5h0"/><path d="M534.7 174.4h0"/><path d="M543.9 164.2h0"/><path d="M491.0 163.9h0"/><path d="M493.2 185.8h0"/><path d="M482.0 173.0h0"/><path d="M538.0 175.5h0"/><path d="M450.7 178.2h0"/><path d="M494.6 169.3h0"/><path d="M564.1 170.1h0"/><path d="M478.0 154.3h0"/><path d="M508.5 169.8h0"/><path d="M562.2 164.2h0"/><path d="M432.8 182.1h0"/><path d="M525.4 168.4h0"/><path d="M417.6 187.9h0"/><path d="M457.6 158.8h0"/><path d="M474.0 176.4h0"/><path d="M429.0 177.5h0"/><path d="M433.5 173.5h0"/><path d="M428.3 173.8h0"/><path d="M441.2 162.3h0"/><path d="M533.1 168.5h0"/><path d="M419.9 176.5h0"/><path d="M447.2 173.2h0"/><path d="M436.0 165.5h0"/><path d="M465.8 187.4h0"/><path d="M541.8 163.9h0"/><path d="M495.1 164.4h0"/><path d="M524.1 166.0h0"/><path d="M561.7 170.8h0"/><path d="M475.0 166.9h0"/><path d="M477.2 182.1h0"/><path d="M482.5 177.5h0"/><path d="M562.3 156.9h0"/><path d="M414.4 176.1h0"/><path d="M493.0 180.6h0"/><path d="M506.1 165.3h0"/><path d="M447.1 170.3h0"/><path d="M558.2 178.7h0"/><path d="M440.6 178.1h0"/><path d="M552.8 175.5h0"/><path d="M455.6 174.6h0"/></g><g stroke="rgba(44,160,44,0.3)" stroke-width="2.10" stroke-linecap="round"><path d="M442.4 172.3h0"/><path d="M510.8 175.9h0"/><path d="M484.9 180.2h0"/><path d="M450.7 172.7h0"/><path d="M510.2 172.5h0"/><path d="M420.5 177.3h0"/><path d="M445.6 168.9h0"/><path d="M532.6 177.1h0"/><path d="M458.0 171.7h0"/><path d="M444.2 174.6h0"/><path d="M461.3 174.7h0"/><path d="M462.3 170.2h0"/><path d="M515.1 172.9h0"/><path d="M431.2 169.0h0"/><path d="M422.2 177.0h0"/><path d="M468.2 174.4h0"/><path d="M419.5 176.1h0"/><path d="M422.3 166.1h0"/><path d="M475.6 180.1h0"/><path d="M524.6 176.1h0"/><path d="M517.2 169.7h0"/><path d="M499.5 177.8h0"/><path d="M474.3 175.0h0"/><path d="M439.4 178.0h0"/><path d="M425.9 167.9h0"/><path d="M477.9 177.7h0"/><path d="M441.2 170.9h0"/><path d="M427.5 179.7h0"/><path d="M481.6 165.0h0"/><path d="M470.9 168.0h0"/><path d="M529.9 174.3h0"/><path d="M475.8 173.7h0"/><path d="M549.0 176.6h0"/><path d="M534.3 174.3h0"/><path d="M538.0 175.2h0"/><path d="M430.1 171.3h0"/><path d="M449.1 171.7h0"/><path d="M561.3 174.1h0"/><path d="M469.4 176.5h0"/><path d="M411.7 167.1h0"/><path d="M412.8 176.8h0"/><path d="M480.3 176.4h0"/><path d="M470.5 178.6h0"/><path d="M493.4 175.3h0"/><path d="M511.0 168.7h0"/><path d="M424.9 168.8h0"/><path d="M559.2 167.5h0"/><path d="M424.1 172.9h0"/><path d="M414.6 171.9h0"/><path d="M446.3 173.3h0"/><path d="M508.8 169.9h0"/><path d="M489.7 174.4h0"/><path d="M415.1 176.3h0"/><path d="M501.4 180.4h0"/><path d="M509.2 168.2h0"/><path d="M559.0 174.2h0"/><path d="M492.4 176.2h0"/><path d="M562.1 175.2h0"/><path d="M426.1 171.0h0"/><path d="M486.1 184.3h0"/><path d="M475.9 174.0h0"/><path d="M552.2 169.8h0"/><path d="M445.7 170.8h0"/><path d="M475.5 172.7h0"/><path d="M562.8 169.5h0"/><path d="M462.1 167.9h0"/><path d="M446.8 173.6h0"/><path d="M532.8 167.8h0"/><path d="M450.8 171.3h0"/><path d="M432.6 171.5h0"/><path d="M474.4 170.3h0"/><path d="M464.2 178.0h0"/><path d="M522.6 168.1h0"/><path d="M535.8 169.8h0"/><path d="M513.9 180.8h0"/><path d="M448.8 167.4h0"/><path d="M418.1 175.5h0"/><path d="M559.1 168.1h0"/><path d="M487.4 177.9h0"/><path d="M543.5 167.5h0"/><path d="M500.4 174.3h0"/><path d="M477.2 173.8h0"/><path d="M487.1 165.8h0"/><path d="M470.7 172.7h0"/><path d="M484.5 176.3h0"/><path d="M496.3 173.3h0"/><path d="M488.4 175.4h0"/><path d="M506.7 170.6h0"/><path d="M520.9 187.8h0"/><path d="M455.0 178.1h0"/><path d="M500.2 173.7h0"/><path d="M526.1 173.3h0"/><path d="M422.7 171.7h0"/><path d="M429.7 172.3h0"/><path d="M513.4 171.2h0"/><path d="M413.1 167.9h0"/><path d="M520.4 171.4h0"/><path d="M413.7 176.1h0"/><path d="M541.6 168.9h0"/><path d="M422.7 176.9h0"/><path d="M530.4 167.1h0"/><path d="M447.3 170.1h0"/><path d="M481.8 179.6h0"/><path d="M557.2 170.1h0"/><path d="M456.4 181.5h0"/><path d="M483.6 172.4h0"/><path d="M538.0 181.5h0"/><path d="M458.9 172.3h0"/><path d="M502.4 182.3h0"/><path d="M500.6 171.9h0"/><path d="M553.2 163.2h0"/><path d="M436.2 178.7h0"/><path d="M520.7 171.7h0"/></g><g stroke="rgba(230,0,0,0.28)" stroke-width="2.10" stroke-linecap="round"><path d="M563.7 167.0h0"/><path d="M507.2 174.2h0"/><path d="M485.1 171.0h0"/><path d="M550.4 177.5h0"/><path d="M510.0 178.7h0"/><path d="M518.8 171.0h0"/><path d="M475.7 174.6h0"/><path d="M483.4 178.8h0"/><path d="M421.3 174.3h0"/><path d="M558.9 178.4h0"/><path d="M543.3 179.4h0"/><path d="M476.2 167.0h0"/><path d="M555.2 167.6h0"/><path d="M450.8 175.5h0"/><path d="M514.4 174.6h0"/><path d="M551.4 168.9h0"/><path d="M460.1 169.3h0"/><path d="M534.3 171.4h0"/><path d="M526.2 170.4h0"/><path d="M564.1 173.6h0"/><path d="M494.0 178.6h0"/><path d="M527.4 177.6h0"/><path d="M532.7 169.7h0"/><path d="M479.4 173.2h0"/><path d="M487.9 177.3h0"/><path d="M545.9 175.1h0"/><path d="M525.3 169.5h0"/><path d="M541.1 174.4h0"/><path d="M421.0 171.6h0"/><path d="M456.2 173.8h0"/><path d="M507.7 178.7h0"/><path d="M457.5 170.9h0"/><path d="M494.2 170.6h0"/><path d="M507.7 172.4h0"/><path d="M525.9 167.5h0"/><path d="M412.6 173.8h0"/><path d="M442.5 167.1h0"/><path d="M501.3 178.9h0"/><path d="M555.1 175.6h0"/><path d="M508.5 177.7h0"/><path d="M500.4 169.5h0"/><path d="M425.1 176.4h0"/><path d="M548.6 171.6h0"/><path d="M512.0 174.9h0"/><path d="M518.1 171.6h0"/><path d="M538.8 172.5h0"/><path d="M504.9 174.6h0"/><path d="M513.6 173.1h0"/><path d="M445.5 179.4h0"/><path d="M462.8 180.4h0"/><path d="M415.8 182.3h0"/><path d="M538.7 181.1h0"/><path d="M452.3 173.0h0"/><path d="M440.2 175.8h0"/><path d="M555.2 171.2h0"/><path d="M479.8 173.4h0"/><path d="M564.9 174.2h0"/><path d="M414.4 178.4h0"/><path d="M528.8 178.1h0"/><path d="M532.8 169.3h0"/><path d="M433.3 172.9h0"/><path d="M445.2 163.7h0"/><path d="M420.0 174.3h0"/><path d="M490.1 174.8h0"/><path d="M489.7 185.9h0"/><path d="M537.6 181.9h0"/><path d="M442.8 169.7h0"/><path d="M422.0 178.6h0"/><path d="M420.8 170.0h0"/><path d="M425.0 177.1h0"/><path d="M467.6 171.3h0"/><path d="M530.7 180.4h0"/><path d="M531.8 158.5h0"/><path d="M539.5 184.3h0"/><path d="M442.5 163.1h0"/><path d="M518.4 167.9h0"/><path d="M529.1 167.4h0"/><path d="M518.2 177.4h0"/><path d="M478.0 175.1h0"/><path d="M471.2 170.8h0"/><path d="M473.3 174.2h0"/><path d="M471.4 174.1h0"/><path d="M508.8 173.1h0"/><path d="M481.7 178.0h0"/><path d="M481.8 163.9h0"/></g><g stroke="rgba(153,50,168,0.3)" stroke-width="2.10" stroke-linecap="round"><path d="M563.7 171.4h0"/><path d="M542.8 168.6h0"/><path d="M562.5 172.7h0"/><path d="M481.2 178.0h0"/><path d="M412.9 175.7h0"/><path d="M501.3 171.4h0"/><path d="M487.0 176.2h0"/><path d="M433.0 177.5h0"/><path d="M552.2 177.2h0"/><path d="M502.4 175.3h0"/><path d="M495.7 169.0h0"/><path d="M551.1 168.4h0"/><path d="M442.6 172.0h0"/><path d="M461.2 182.4h0"/><path d="M433.1 173.5h0"/><path d="M524.3 176.5h0"/><path d="M542.8 172.2h0"/><path d="M436.7 174.1h0"/><path d="M557.0 179.0h0"/><path d="M476.7 176.1h0"/><path d="M435.7 180.1h0"/><path d="M470.3 172.7h0"/><path d="M492.4 177.7h0"/><path d="M510.3 173.8h0"/><path d="M442.9 176.0h0"/><path d="M435.3 175.6h0"/><path d="M437.7 169.0h0"/><path d="M423.3 177.0h0"/><path d="M479.4 179.7h0"/><path d="M536.6 169.3h0"/><path d="M559.0 176.8h0"/><path d="M537.5 172.8h0"/><path d="M510.2 171.3h0"/><path d="M525.7 166.7h0"/><path d="M445.2 171.0h0"/><path d="M468.5 172.1h0"/><path d="M422.1 173.7h0"/><path d="M472.6 176.1h0"/><path d="M444.8 164.1h0"/><path d="M443.0 185.0h0"/><path d="M533.9 168.6h0"/><path d="M486.4 174.4h0"/><path d="M537.8 165.1h0"/><path d="M417.4 180.8h0"/><path d="M514.7 168.7h0"/><path d="M502.3 176.5h0"/><path d="M415.8 184.4h0"/><path d="M413.3 173.8h0"/><path d="M474.7 172.7h0"/><path d="M442.5 171.9h0"/><path d="M440.4 176.6h0"/><path d="M564.4 157.6h0"/><path d="M523.0 180.9h0"/><path d="M491.9 181.5h0"/><path d="M526.8 163.2h0"/><path d="M554.5 172.0h0"/><path d="M528.5 159.7h0"/></g></g><line x1="409.6" y1="173.5" x2="567.0" y2="173.5" stroke="#222" stroke-width="0.95" stroke-dasharray="2.3,2.7"/><path d="M405.45,29.45H568.45V189.45H405.45ZM405.45,140.75H568.45" fill="none" stroke="#646464" stroke-width="1.00"/><path d="M401.4,46.8H405.4M401.4,64.2H405.4M401.4,81.8H405.4M401.4,99.2H405.4M401.4,116.8H405.4M401.4,134.2H405.4M401.4,151.0H405.4M401.4,162.2H405.4M401.4,173.5H405.4M401.4,184.8H405.4M411.3,189.4V193.4M411.3,140.8V144.8M453.1,189.4V193.4M453.1,140.8V144.8M494.9,189.4V193.4M494.9,140.8V144.8M536.7,189.4V193.4M536.7,140.8V144.8" stroke="#646464" stroke-width="1.00" fill="none"/><text transform="translate(397.4,46.8) rotate(-90)" font-size="5.6" text-anchor="middle" fill="#222">2</text><text transform="translate(397.4,64.2) rotate(-90)" font-size="5.6" text-anchor="middle" fill="#222">1</text><text transform="translate(397.4,81.8) rotate(-90)" font-size="5.6" text-anchor="middle" fill="#222">0</text><text transform="translate(397.4,99.2) rotate(-90)" font-size="5.6" text-anchor="middle" fill="#222">&#8722;1</text><text transform="translate(397.4,116.8) rotate(-90)" font-size="5.6" text-anchor="middle" fill="#222">&#8722;2</text><text transform="translate(397.4,134.2) rotate(-90)" font-size="5.6" text-anchor="middle" fill="#222">&#8722;3</text><text transform="translate(397.4,151.0) rotate(-90)" font-size="5.6" text-anchor="middle" fill="#222">10</text><text transform="translate(397.4,162.2) rotate(-90)" font-size="5.6" text-anchor="middle" fill="#222">5</text><text transform="translate(397.4,173.5) rotate(-90)" font-size="5.6" text-anchor="middle" fill="#222">0</text><text transform="translate(397.4,184.8) rotate(-90)" font-size="5.6" text-anchor="middle" fill="#222">&#8722;5</text><text x="411.3" y="202.1" font-size="5.6" text-anchor="middle" fill="#222">0</text><text x="453.1" y="202.1" font-size="5.6" text-anchor="middle" fill="#222">10</text><text x="494.9" y="202.1" font-size="5.6" text-anchor="middle" fill="#222">20</text><text x="536.7" y="202.1" font-size="5.6" text-anchor="middle" fill="#222">30</text><text transform="translate(386.6,85.1) rotate(-90)" font-size="8.5" text-anchor="middle" fill="#000" class="s">RV [m/s]</text><text transform="translate(386.6,165.1) rotate(-90)" font-size="8.5" text-anchor="middle" fill="#000" class="s">O-C [m/s]</text><text x="564.6" y="151.2" font-size="8.5" text-anchor="end" fill="#000" class="s">RMS=2.1 m/s</text>
<clipPath id="c03a"><rect x="595.5" y="29.4" width="163.0" height="111.3"/></clipPath><clipPath id="c03b"><rect x="595.5" y="140.8" width="163.0" height="48.7"/></clipPath><text x="677.0" y="25.9" font-size="8.6" font-weight="bold" text-anchor="middle" fill="#000">GJ 739 b</text><g clip-path="url(#c03a)"><g stroke="rgba(44,160,44,0.3)" stroke-width="2.10" stroke-linecap="round"><path d="M601.5 55.3h0"/><path d="M610.5 47.3h0"/><path d="M611.2 51.7h0"/><path d="M601.5 75.4h0"/><path d="M615.5 65.3h0"/><path d="M622.0 56.0h0"/><path d="M610.5 111.0h0"/><path d="M622.0 111.4h0"/><path d="M616.6 113.2h0"/><path d="M639.9 73.2h0"/><path d="M638.2 71.1h0"/><path d="M639.9 101.3h0"/><path d="M648.9 72.2h0"/><path d="M645.1 31.6h0"/><path d="M667.3 80.8h0"/><path d="M671.0 87.7h0"/><path d="M667.3 92.7h0"/><path d="M670.5 102.4h0"/><path d="M667.3 66.8h0"/><path d="M690.0 87.3h0"/><path d="M694.3 57.1h0"/></g><g stroke="rgba(230,0,0,0.28)" stroke-width="2.10" stroke-linecap="round"><path d="M622.0 55.3h0"/><path d="M605.4 97.0h0"/><path d="M615.5 113.6h0"/><path d="M638.2 74.3h0"/><path d="M675.9 55.3h0"/><path d="M678.1 54.9h0"/><path d="M722.3 134.7h0"/><path d="M739.2 115.7h0"/><path d="M746.1 109.9h0"/></g><path d="M601.20,116.60C602.03,115.48 604.43,112.32 606.20,109.90C607.97,107.48 609.93,104.98 611.80,102.10C613.67,99.22 615.53,95.77 617.40,92.60C619.27,89.43 621.13,86.27 623.00,83.10C624.87,79.93 626.75,76.58 628.60,73.60C630.45,70.62 632.25,67.82 634.10,65.20C635.95,62.58 637.83,60.05 639.70,57.90C641.57,55.75 643.43,53.88 645.30,52.30C647.17,50.72 649.03,49.48 650.90,48.40C652.77,47.32 654.82,46.37 656.50,45.80C658.18,45.23 659.50,45.03 661.00,45.00C662.50,44.97 663.82,45.08 665.50,45.60C667.18,46.12 669.43,47.00 671.10,48.10C672.77,49.20 673.88,50.50 675.50,52.20C677.12,53.90 678.95,55.78 680.80,58.30C682.65,60.82 684.68,64.25 686.60,67.30C688.52,70.35 690.38,73.23 692.30,76.60C694.22,79.97 696.17,83.85 698.10,87.50C700.03,91.15 701.97,94.93 703.90,98.50C705.83,102.07 707.78,105.82 709.70,108.90C711.62,111.98 713.48,114.50 715.40,117.00C717.32,119.50 719.27,121.97 721.20,123.90C723.13,125.83 725.07,127.43 727.00,128.60C728.93,129.77 730.88,130.62 732.80,130.90C734.72,131.18 736.58,130.88 738.50,130.30C740.42,129.72 742.37,128.75 744.30,127.40C746.23,126.05 748.47,123.97 750.10,122.20C751.73,120.43 753.43,117.70 754.10,116.80" fill="none" stroke="#ff1a1a" stroke-width="1.15" stroke-opacity="0.85"/><path d="M608.6,81.5V99.7M605.9,81.5H611.3M605.9,99.7H611.3" stroke="rgba(44,160,44,0.6)" stroke-width="1" fill="none"/><path d="M612.7,94.4V121.6M610.0,94.4H615.4M610.0,121.6H615.4" stroke="rgba(230,0,0,0.5)" stroke-width="1" fill="none"/><path d="M618.8,87.8V103.4M616.1,87.8H621.5M616.1,103.4H621.5" stroke="rgba(44,160,44,0.6)" stroke-width="1" fill="none"/><path d="M626.1,37.7V76.1M623.4,37.7H628.8M623.4,76.1H628.8" stroke="rgba(230,0,0,0.5)" stroke-width="1" fill="none"/><path d="M639.5,44.5V59.1M636.8,44.5H642.2M636.8,59.1H642.2" stroke="rgba(44,160,44,0.6)" stroke-width="1" fill="none"/><path d="M640.0,29.9V65.9M637.3,29.9H642.7M637.3,65.9H642.7" stroke="rgba(230,0,0,0.5)" stroke-width="1" fill="none"/><path d="M648.0,31.1V40.8M645.3,31.1H650.7M645.3,40.8H650.7" stroke="rgba(44,160,44,0.6)" stroke-width="1" fill="none"/><path d="M650.0,29.9V59.1M647.3,29.9H652.7M647.3,59.1H652.7" stroke="rgba(230,0,0,0.5)" stroke-width="1" fill="none"/><path d="M667.0,49.8V71.3M664.3,49.8H669.7M664.3,71.3H669.7" stroke="rgba(44,160,44,0.6)" stroke-width="1" fill="none"/><path d="M671.6,42.5V79.8M668.9,42.5H674.3M668.9,79.8H674.3" stroke="rgba(230,0,0,0.5)" stroke-width="1" fill="none"/><path d="M674.8,32.3V48.6M672.1,32.3H677.5M672.1,48.6H677.5" stroke="rgba(44,160,44,0.6)" stroke-width="1" fill="none"/><path d="M683.3,36.0V84.6M680.6,36.0H686.0M680.6,84.6H686.0" stroke="rgba(230,0,0,0.5)" stroke-width="1" fill="none"/><path d="M691.4,54.7V71.7M688.7,54.7H694.1M688.7,71.7H694.1" stroke="rgba(44,160,44,0.6)" stroke-width="1" fill="none"/><path d="M698.4,95.6V141.0M695.7,95.6H701.1M695.7,141.0H701.1" stroke="rgba(44,160,44,0.6)" stroke-width="1" fill="none"/><path d="M719.4,117.5V141.0M716.7,117.5H722.1M716.7,141.0H722.1" stroke="rgba(230,0,0,0.5)" stroke-width="1" fill="none"/><path d="M741.7,94.9V132.1M739.0,94.9H744.4M739.0,132.1H744.4" stroke="rgba(230,0,0,0.5)" stroke-width="1" fill="none"/><circle cx="608.6" cy="90.2" r="1.2" fill="#2ca02c"/><circle cx="612.7" cy="107.8" r="1.2" fill="#e60000"/><circle cx="618.8" cy="95.6" r="1.2" fill="#2ca02c"/><circle cx="626.1" cy="57.1" r="1.2" fill="#e60000"/><circle cx="639.5" cy="51.8" r="1.2" fill="#2ca02c"/><circle cx="640.0" cy="46.9" r="1.2" fill="#e60000"/><circle cx="648.0" cy="33.5" r="1.2" fill="#2ca02c"/><circle cx="650.0" cy="41.3" r="1.2" fill="#e60000"/><circle cx="667.0" cy="60.8" r="1.2" fill="#2ca02c"/><circle cx="671.6" cy="61.5" r="1.2" fill="#e60000"/><circle cx="674.8" cy="40.3" r="1.2" fill="#2ca02c"/><circle cx="683.3" cy="60.8" r="1.2" fill="#e60000"/><circle cx="691.4" cy="63.2" r="1.2" fill="#2ca02c"/><circle cx="698.4" cy="121.2" r="1.2" fill="#2ca02c"/><circle cx="719.4" cy="136.5" r="1.2" fill="#e60000"/><circle cx="741.7" cy="113.4" r="1.2" fill="#e60000"/></g><g clip-path="url(#c03b)"><g stroke="rgba(0,0,0,0.3)" stroke-width="2.10" stroke-linecap="round"><path d="M601.5 164.2h0"/><path d="M601.5 168.7h0"/><path d="M605.4 175.2h0"/><path d="M610.5 162.7h0"/><path d="M610.5 173.4h0"/><path d="M615.5 158.3h0"/><path d="M615.5 159.9h0"/><path d="M615.5 165.9h0"/><path d="M618.7 165.9h0"/><path d="M618.7 169.1h0"/><path d="M622.0 184.2h0"/><path d="M629.1 175.0h0"/><path d="M639.2 160.9h0"/><path d="M639.2 162.7h0"/><path d="M639.2 172.4h0"/><path d="M644.6 168.7h0"/><path d="M649.4 171.9h0"/><path d="M650.0 175.0h0"/><path d="M667.3 160.1h0"/><path d="M667.3 162.7h0"/><path d="M667.3 173.4h0"/><path d="M677.0 162.7h0"/><path d="M678.1 170.2h0"/><path d="M687.4 163.7h0"/><path d="M694.7 162.2h0"/><path d="M698.1 162.7h0"/><path d="M698.1 168.7h0"/><path d="M698.1 174.1h0"/><path d="M713.7 174.1h0"/><path d="M722.3 173.4h0"/><path d="M734.8 167.6h0"/><path d="M739.2 181.4h0"/><path d="M746.1 157.7h0"/><path d="M753.2 187.5h0"/></g><g stroke="rgba(44,160,44,0.3)" stroke-width="2.10" stroke-linecap="round"><path d="M601.5 160.9h0"/><path d="M601.5 184.2h0"/><path d="M610.5 163.7h0"/><path d="M618.3 175.6h0"/><path d="M622.0 159.9h0"/><path d="M622.0 171.9h0"/><path d="M639.2 157.7h0"/><path d="M639.9 174.1h0"/><path d="M653.3 164.2h0"/><path d="M667.9 170.2h0"/><path d="M671.0 172.4h0"/><path d="M671.6 175.0h0"/><path d="M677.0 159.9h0"/><path d="M690.0 162.7h0"/><path d="M694.7 165.9h0"/><path d="M698.1 157.7h0"/><path d="M698.1 177.8h0"/><path d="M698.1 182.1h0"/><path d="M698.1 187.0h0"/><path d="M734.8 175.0h0"/></g><g stroke="rgba(230,0,0,0.28)" stroke-width="2.10" stroke-linecap="round"><path d="M602.6 172.4h0"/><path d="M615.5 172.4h0"/><path d="M622.0 164.2h0"/><path d="M642.5 160.9h0"/><path d="M649.0 165.9h0"/><path d="M676.6 169.1h0"/><path d="M681.3 168.7h0"/><path d="M713.3 172.4h0"/><path d="M722.3 169.8h0"/><path d="M737.4 167.6h0"/><path d="M746.1 167.0h0"/><path d="M752.5 168.7h0"/></g></g><line x1="599.7" y1="169.2" x2="757.0" y2="169.2" stroke="#222" stroke-width="0.95" stroke-dasharray="2.3,2.7"/><path d="M595.45,29.45H758.45V189.45H595.45ZM595.45,140.75H758.45" fill="none" stroke="#646464" stroke-width="1.00"/><path d="M591.5,46.4H595.5M591.5,66.8H595.5M591.5,87.1H595.5M591.5,107.4H595.5M591.5,127.7H595.5M591.5,142.4H595.5M591.5,155.8H595.5M591.5,169.2H595.5M591.5,182.6H595.5M601.3,189.4V193.4M601.3,140.8V144.8M634.9,189.4V193.4M634.9,140.8V144.8M668.5,189.4V193.4M668.5,140.8V144.8M702.1,189.4V193.4M702.1,140.8V144.8M735.7,189.4V193.4M735.7,140.8V144.8" stroke="#646464" stroke-width="1.00" fill="none"/><text transform="translate(587.5,46.4) rotate(-90)" font-size="5.6" text-anchor="middle" fill="#222">2</text><text transform="translate(587.5,66.8) rotate(-90)" font-size="5.6" text-anchor="middle" fill="#222">1</text><text transform="translate(587.5,87.1) rotate(-90)" font-size="5.6" text-anchor="middle" fill="#222">0</text><text transform="translate(587.5,107.4) rotate(-90)" font-size="5.6" text-anchor="middle" fill="#222">&#8722;1</text><text transform="translate(587.5,127.7) rotate(-90)" font-size="5.6" text-anchor="middle" fill="#222">&#8722;2</text><text transform="translate(587.5,142.4) rotate(-90)" font-size="5.6" text-anchor="middle" fill="#222">10</text><text transform="translate(587.5,155.8) rotate(-90)" font-size="5.6" text-anchor="middle" fill="#222">5</text><text transform="translate(587.5,169.2) rotate(-90)" font-size="5.6" text-anchor="middle" fill="#222">0</text><text transform="translate(587.5,182.6) rotate(-90)" font-size="5.6" text-anchor="middle" fill="#222">&#8722;5</text><text x="601.3" y="202.1" font-size="5.6" text-anchor="middle" fill="#222">0</text><text x="634.9" y="202.1" font-size="5.6" text-anchor="middle" fill="#222">10</text><text x="668.5" y="202.1" font-size="5.6" text-anchor="middle" fill="#222">20</text><text x="702.1" y="202.1" font-size="5.6" text-anchor="middle" fill="#222">30</text><text x="735.7" y="202.1" font-size="5.6" text-anchor="middle" fill="#222">40</text><text transform="translate(576.7,85.1) rotate(-90)" font-size="8.5" text-anchor="middle" fill="#000" class="s">RV [m/s]</text><text transform="translate(576.7,165.1) rotate(-90)" font-size="8.5" text-anchor="middle" fill="#000" class="s">O-C [m/s]</text><text x="754.6" y="151.2" font-size="8.5" text-anchor="end" fill="#000" class="s">RMS=2.3 m/s</text>
<clipPath id="c10a"><rect x="25.4" y="216.5" width="163.0" height="111.3"/></clipPath><clipPath id="c10b"><rect x="25.4" y="327.8" width="163.0" height="48.7"/></clipPath><text x="106.9" y="213.0" font-size="8.6" font-weight="bold" text-anchor="middle" fill="#000">GJ 180 b</text><g clip-path="url(#c10a)"><g stroke="rgba(0,0,0,0.3)" stroke-width="2.10" stroke-linecap="round"><path d="M44.2 288.6h0"/><path d="M44.9 276.5h0"/><path d="M108.1 269.1h0"/><path d="M106.7 268.7h0"/><path d="M139.8 318.6h0"/><path d="M113.0 263.2h0"/><path d="M62.3 278.1h0"/><path d="M54.8 295.0h0"/><path d="M167.9 324.7h0"/><path d="M156.8 313.8h0"/><path d="M90.1 276.6h0"/><path d="M132.6 294.7h0"/><path d="M152.4 294.3h0"/><path d="M69.7 277.3h0"/><path d="M44.1 266.1h0"/><path d="M151.9 333.1h0"/><path d="M34.4 297.6h0"/><path d="M98.4 273.1h0"/><path d="M46.5 297.9h0"/><path d="M43.7 302.1h0"/><path d="M39.9 296.3h0"/><path d="M64.8 267.6h0"/><path d="M165.6 304.6h0"/><path d="M47.5 284.7h0"/><path d="M40.4 284.8h0"/><path d="M110.0 250.6h0"/><path d="M87.1 250.7h0"/><path d="M44.7 296.2h0"/><path d="M145.1 308.9h0"/><path d="M120.3 273.6h0"/><path d="M111.0 266.8h0"/><path d="M132.8 286.3h0"/><path d="M41.0 271.7h0"/><path d="M154.2 300.4h0"/><path d="M126.7 260.6h0"/><path d="M125.6 289.1h0"/><path d="M97.0 275.6h0"/><path d="M99.9 291.5h0"/><path d="M106.6 217.0h0"/><path d="M176.7 257.5h0"/><path d="M183.4 295.4h0"/><path d="M136.2 274.6h0"/><path d="M41.6 268.9h0"/><path d="M81.0 261.6h0"/><path d="M96.8 225.5h0"/><path d="M35.3 309.6h0"/><path d="M103.9 252.1h0"/><path d="M151.5 279.0h0"/><path d="M67.5 278.5h0"/><path d="M173.0 263.9h0"/><path d="M41.0 265.0h0"/><path d="M82.9 295.9h0"/><path d="M160.9 243.9h0"/><path d="M80.0 272.2h0"/><path d="M110.4 300.9h0"/><path d="M116.8 250.4h0"/><path d="M35.2 293.6h0"/><path d="M101.9 326.0h0"/><path d="M138.5 324.7h0"/><path d="M162.7 293.1h0"/><path d="M160.8 278.6h0"/><path d="M150.9 278.2h0"/><path d="M124.3 224.3h0"/><path d="M127.5 311.3h0"/><path d="M86.6 236.0h0"/><path d="M178.5 288.6h0"/><path d="M118.5 314.1h0"/><path d="M133.8 249.7h0"/></g><g stroke="rgba(44,160,44,0.3)" stroke-width="2.10" stroke-linecap="round"><path d="M75.3 251.0h0"/><path d="M113.4 272.7h0"/><path d="M78.9 253.0h0"/><path d="M76.8 262.9h0"/><path d="M77.5 285.6h0"/><path d="M149.5 303.5h0"/><path d="M146.3 291.2h0"/><path d="M141.9 280.8h0"/><path d="M108.7 250.7h0"/><path d="M75.9 242.4h0"/><path d="M65.7 238.0h0"/><path d="M43.3 270.9h0"/><path d="M111.0 278.2h0"/><path d="M179.6 311.9h0"/><path d="M161.6 292.9h0"/><path d="M158.2 274.8h0"/><path d="M127.8 250.5h0"/><path d="M183.9 298.2h0"/><path d="M137.2 304.0h0"/><path d="M160.5 312.3h0"/><path d="M157.3 301.5h0"/><path d="M65.5 251.5h0"/><path d="M180.9 331.6h0"/><path d="M117.7 264.1h0"/><path d="M185.6 307.9h0"/><path d="M121.8 271.3h0"/><path d="M95.3 277.1h0"/><path d="M160.1 311.6h0"/><path d="M36.4 274.1h0"/><path d="M88.8 217.6h0"/><path d="M183.8 301.6h0"/><path d="M144.8 315.5h0"/><path d="M77.8 263.4h0"/><path d="M152.8 307.0h0"/><path d="M101.4 239.7h0"/><path d="M83.9 239.6h0"/><path d="M109.5 284.4h0"/><path d="M184.5 323.3h0"/><path d="M39.6 296.1h0"/><path d="M55.2 260.6h0"/><path d="M171.9 293.1h0"/><path d="M111.4 249.3h0"/><path d="M177.4 283.7h0"/><path d="M125.8 346.3h0"/><path d="M61.7 267.0h0"/><path d="M84.4 252.7h0"/><path d="M174.3 258.1h0"/><path d="M116.9 260.0h0"/><path d="M132.0 271.0h0"/><path d="M154.8 350.1h0"/><path d="M118.1 308.7h0"/><path d="M44.7 291.7h0"/><path d="M34.2 317.0h0"/><path d="M131.8 264.0h0"/><path d="M80.4 244.8h0"/><path d="M161.9 256.3h0"/><path d="M182.5 319.6h0"/><path d="M164.1 252.6h0"/><path d="M112.8 285.6h0"/><path d="M85.8 266.0h0"/><path d="M84.7 323.4h0"/><path d="M141.4 292.1h0"/><path d="M148.3 314.1h0"/><path d="M155.9 278.6h0"/><path d="M95.4 244.0h0"/><path d="M155.1 218.7h0"/><path d="M67.6 260.3h0"/></g><g stroke="rgba(230,0,0,0.28)" stroke-width="2.10" stroke-linecap="round"><path d="M66.1 276.7h0"/><path d="M156.7 290.1h0"/><path d="M143.5 292.6h0"/><path d="M47.7 296.8h0"/><path d="M121.1 278.9h0"/><path d="M163.5 299.2h0"/><path d="M84.4 259.3h0"/><path d="M58.2 270.0h0"/><path d="M95.8 274.1h0"/><path d="M75.8 267.6h0"/><path d="M182.9 296.5h0"/><path d="M60.4 285.6h0"/><path d="M63.6 286.8h0"/><path d="M142.5 309.2h0"/><path d="M101.6 264.8h0"/><path d="M61.6 267.2h0"/><path d="M140.8 295.9h0"/><path d="M112.5 267.5h0"/><path d="M135.3 297.7h0"/><path d="M72.7 289.3h0"/><path d="M108.2 293.5h0"/><path d="M174.4 315.1h0"/><path d="M50.6 259.7h0"/><path d="M80.6 291.2h0"/><path d="M185.2 305.1h0"/><path d="M70.5 254.8h0"/><path d="M47.9 281.2h0"/><path d="M76.8 263.0h0"/><path d="M118.2 289.5h0"/><path d="M149.8 309.5h0"/><path d="M76.1 244.5h0"/><path d="M89.1 283.6h0"/><path d="M127.3 294.5h0"/><path d="M118.4 299.2h0"/><path d="M89.1 270.3h0"/><path d="M75.9 272.4h0"/><path d="M152.2 297.6h0"/><path d="M70.3 273.2h0"/><path d="M142.4 297.9h0"/><path d="M82.0 258.6h0"/><path d="M95.2 260.4h0"/><path d="M83.4 288.5h0"/><path d="M133.4 282.8h0"/><path d="M94.7 271.1h0"/><path d="M33.5 284.9h0"/><path d="M140.3 275.7h0"/><path d="M43.6 348.7h0"/><path d="M128.4 244.2h0"/><path d="M105.0 224.0h0"/><path d="M85.7 297.4h0"/><path d="M98.9 256.5h0"/><path d="M150.0 316.2h0"/><path d="M119.7 302.1h0"/><path d="M99.8 247.1h0"/><path d="M63.8 302.8h0"/><path d="M157.3 277.4h0"/><path d="M79.0 324.6h0"/><path d="M185.5 294.3h0"/><path d="M131.8 236.8h0"/><path d="M115.5 320.0h0"/><path d="M109.1 223.2h0"/><path d="M55.8 293.4h0"/><path d="M158.9 275.6h0"/><path d="M165.6 254.9h0"/><path d="M107.1 299.1h0"/><path d="M148.1 238.3h0"/></g><g stroke="rgba(31,114,196,0.3)" stroke-width="2.10" stroke-linecap="round"><path d="M102.2 262.0h0"/><path d="M148.6 294.4h0"/><path d="M54.0 290.8h0"/><path d="M81.4 246.8h0"/><path d="M99.4 277.9h0"/><path d="M68.9 267.7h0"/><path d="M57.2 278.1h0"/><path d="M138.3 284.5h0"/><path d="M78.9 237.1h0"/><path d="M159.3 322.0h0"/><path d="M131.2 290.9h0"/><path d="M108.4 253.8h0"/><path d="M142.2 284.1h0"/><path d="M33.2 293.7h0"/><path d="M60.3 282.0h0"/></g><g stroke="rgba(153,50,168,0.3)" stroke-width="2.10" stroke-linecap="round"><path d="M91.5 232.5h0"/><path d="M170.8 291.3h0"/><path d="M90.9 253.9h0"/><path d="M89.4 262.8h0"/><path d="M160.6 307.8h0"/><path d="M171.3 319.0h0"/><path d="M58.6 257.7h0"/><path d="M171.9 306.0h0"/><path d="M106.2 290.4h0"/><path d="M92.5 249.5h0"/><path d="M74.0 289.7h0"/><path d="M88.0 264.0h0"/><path d="M156.1 294.4h0"/><path d="M120.9 300.7h0"/><path d="M87.6 251.5h0"/><path d="M53.8 258.3h0"/><path d="M105.6 286.3h0"/><path d="M171.4 305.5h0"/><path d="M176.1 315.6h0"/><path d="M71.8 246.5h0"/><path d="M68.0 289.5h0"/><path d="M173.9 283.3h0"/><path d="M86.1 254.8h0"/><path d="M110.7 274.9h0"/><path d="M172.9 304.5h0"/><path d="M127.7 250.7h0"/><path d="M116.5 259.5h0"/><path d="M59.6 294.0h0"/><path d="M111.6 257.6h0"/><path d="M47.3 303.4h0"/><path d="M91.4 287.9h0"/><path d="M123.2 256.2h0"/><path d="M52.1 238.1h0"/><path d="M130.8 235.9h0"/><path d="M179.4 264.5h0"/><path d="M109.9 248.2h0"/><path d="M35.7 220.0h0"/><path d="M73.4 217.5h0"/><path d="M106.9 300.0h0"/><path d="M142.8 304.2h0"/><path d="M161.4 275.4h0"/><path d="M168.5 271.9h0"/><path d="M155.6 278.9h0"/><path d="M162.0 253.9h0"/></g><path d="M31.20,301.50C32.03,300.85 34.43,299.10 36.20,297.60C37.97,296.10 39.93,294.18 41.80,292.50C43.67,290.82 45.53,289.27 47.40,287.50C49.27,285.73 51.13,283.77 53.00,281.90C54.87,280.03 56.75,278.07 58.60,276.30C60.45,274.53 62.25,272.88 64.10,271.30C65.95,269.72 67.83,268.20 69.70,266.80C71.57,265.40 73.43,263.97 75.30,262.90C77.17,261.83 79.03,261.02 80.90,260.40C82.77,259.78 84.63,259.38 86.50,259.20C88.37,259.02 90.23,259.05 92.10,259.30C93.97,259.55 95.75,260.05 97.70,260.70C99.65,261.35 101.65,262.20 103.80,263.20C105.95,264.20 108.53,265.37 110.60,266.70C112.67,268.03 114.33,269.60 116.20,271.20C118.07,272.80 119.93,274.62 121.80,276.30C123.67,277.98 125.53,279.53 127.40,281.30C129.27,283.07 131.13,285.13 133.00,286.90C134.87,288.67 136.75,290.32 138.60,291.90C140.45,293.48 142.25,295.00 144.10,296.40C145.95,297.80 147.83,299.08 149.70,300.30C151.57,301.52 153.43,302.77 155.30,303.70C157.17,304.63 159.03,305.32 160.90,305.90C162.77,306.48 165.00,306.92 166.50,307.20C168.00,307.48 168.58,307.63 169.90,307.60C171.22,307.57 172.73,307.47 174.40,307.00C176.07,306.53 178.05,305.78 179.90,304.80C181.75,303.82 184.57,301.72 185.50,301.10" fill="none" stroke="#ff1a1a" stroke-width="1.15" stroke-opacity="0.85"/><path d="M38.0,296.5V312.1M35.3,296.5H40.7M35.3,312.1H40.7" stroke="rgba(0,0,0,0.8)" stroke-width="1" fill="none"/><path d="M38.5,292.1V303.7M35.8,292.1H41.2M35.8,303.7H41.2" stroke="rgba(44,160,44,0.6)" stroke-width="1" fill="none"/><path d="M44.1,285.7V292.1M41.4,285.7H46.8M41.4,292.1H46.8" stroke="rgba(230,0,0,0.5)" stroke-width="1" fill="none"/><path d="M49.3,285.0V292.1M46.6,285.0H52.0M46.6,292.1H52.0" stroke="rgba(153,50,168,0.6)" stroke-width="1" fill="none"/><path d="M55.9,269.5V279.3M53.2,269.5H58.6M53.2,279.3H58.6" stroke="rgba(0,0,0,0.8)" stroke-width="1" fill="none"/><path d="M57.0,273.6V283.1M54.3,273.6H59.7M54.3,283.1H59.7" stroke="rgba(44,160,44,0.6)" stroke-width="1" fill="none"/><path d="M60.3,275.4V283.1M57.6,275.4H63.0M57.6,283.1H63.0" stroke="rgba(230,0,0,0.5)" stroke-width="1" fill="none"/><path d="M62.1,263.9V272.9M59.4,263.9H64.8M59.4,272.9H64.8" stroke="rgba(153,50,168,0.6)" stroke-width="1" fill="none"/><path d="M68.0,265.9V274.2M65.3,265.9H70.7M65.3,274.2H70.7" stroke="rgba(0,0,0,0.8)" stroke-width="1" fill="none"/><path d="M62.9,233.1V249.0M60.2,233.1H65.6M60.2,249.0H65.6" stroke="rgba(31,114,196,0.75)" stroke-width="1" fill="none"/><path d="M73.1,211.3V227.4M70.4,211.3H75.8M70.4,227.4H75.8" stroke="rgba(31,114,196,0.75)" stroke-width="1" fill="none"/><path d="M71.9,248.5V258.8M69.2,248.5H74.6M69.2,258.8H74.6" stroke="rgba(153,50,168,0.6)" stroke-width="1" fill="none"/><path d="M74.4,249.8V258.2M71.7,249.8H77.1M71.7,258.2H77.1" stroke="rgba(230,0,0,0.5)" stroke-width="1" fill="none"/><path d="M80.8,255.7V267.7M78.1,255.7H83.5M78.1,267.7H83.5" stroke="rgba(0,0,0,0.8)" stroke-width="1" fill="none"/><path d="M88.5,251.1V257.5M85.8,251.1H91.2M85.8,257.5H91.2" stroke="rgba(230,0,0,0.5)" stroke-width="1" fill="none"/><path d="M91.6,260.6V267.7M88.9,260.6H94.3M88.9,267.7H94.3" stroke="rgba(44,160,44,0.6)" stroke-width="1" fill="none"/><path d="M84.7,287.5V303.7M82.0,287.5H87.4M82.0,303.7H87.4" stroke="rgba(31,114,196,0.75)" stroke-width="1" fill="none"/><path d="M94.2,285.7V302.4M91.5,285.7H96.9M91.5,302.4H96.9" stroke="rgba(153,50,168,0.6)" stroke-width="1" fill="none"/><path d="M98.0,244.6V254.9M95.3,244.6H100.7M95.3,254.9H100.7" stroke="rgba(0,0,0,0.8)" stroke-width="1" fill="none"/><path d="M103.9,257.5V266.5M101.2,257.5H106.6M101.2,266.5H106.6" stroke="rgba(153,50,168,0.6)" stroke-width="1" fill="none"/><path d="M105.2,258.8V263.9M102.5,258.8H107.9M102.5,263.9H107.9" stroke="rgba(230,0,0,0.5)" stroke-width="1" fill="none"/><path d="M106.5,243.4V260.0M103.8,243.4H109.2M103.8,260.0H109.2" stroke="rgba(31,114,196,0.75)" stroke-width="1" fill="none"/><path d="M101.4,269.0V278.0M98.7,269.0H104.1M98.7,278.0H104.1" stroke="rgba(44,160,44,0.6)" stroke-width="1" fill="none"/><path d="M98.0,275.4V288.3M95.3,275.4H100.7M95.3,288.3H100.7" stroke="rgba(31,114,196,0.75)" stroke-width="1" fill="none"/><path d="M114.7,252.3V271.1M112.0,252.3H117.4M112.0,271.1H117.4" stroke="rgba(0,0,0,0.8)" stroke-width="1" fill="none"/><path d="M116.0,266.5V272.9M113.3,266.5H118.7M113.3,272.9H118.7" stroke="rgba(230,0,0,0.5)" stroke-width="1" fill="none"/><path d="M118.0,274.2V279.3M115.3,274.2H120.7M115.3,279.3H120.7" stroke="rgba(44,160,44,0.6)" stroke-width="1" fill="none"/><path d="M117.3,286.5V292.6M114.6,286.5H120.0M114.6,292.6H120.0" stroke="rgba(153,50,168,0.6)" stroke-width="1" fill="none"/><path d="M127.5,269.0V279.3M124.8,269.0H130.2M124.8,279.3H130.2" stroke="rgba(153,50,168,0.6)" stroke-width="1" fill="none"/><path d="M128.3,281.3V284.9M125.6,281.3H131.0M125.6,284.9H131.0" stroke="rgba(230,0,0,0.5)" stroke-width="1" fill="none"/><path d="M132.2,278.8V299.3M129.5,278.8H134.9M129.5,299.3H134.9" stroke="rgba(0,0,0,0.8)" stroke-width="1" fill="none"/><path d="M143.2,288.3V296.0M140.5,288.3H145.9M140.5,296.0H145.9" stroke="rgba(230,0,0,0.5)" stroke-width="1" fill="none"/><path d="M145.5,302.4V317.8M142.8,302.4H148.2M142.8,317.8H148.2" stroke="rgba(0,0,0,0.8)" stroke-width="1" fill="none"/><path d="M145.5,317.8V328.0M142.8,317.8H148.2M142.8,328.0H148.2" stroke="rgba(153,50,168,0.6)" stroke-width="1" fill="none"/><path d="M150.9,303.7V328.0M148.2,303.7H153.6M148.2,328.0H153.6" stroke="rgba(44,160,44,0.6)" stroke-width="1" fill="none"/><path d="M154.7,284.4V297.2M152.0,284.4H157.4M152.0,297.2H157.4" stroke="rgba(0,0,0,0.8)" stroke-width="1" fill="none"/><path d="M155.8,296.0V304.9M153.1,296.0H158.5M153.1,304.9H158.5" stroke="rgba(153,50,168,0.6)" stroke-width="1" fill="none"/><path d="M160.4,311.4V316.5M157.7,311.4H163.1M157.7,316.5H163.1" stroke="rgba(230,0,0,0.5)" stroke-width="1" fill="none"/><path d="M161.7,293.4V304.9M159.0,293.4H164.4M159.0,304.9H164.4" stroke="rgba(44,160,44,0.6)" stroke-width="1" fill="none"/><path d="M168.1,299.8V311.4M165.4,299.8H170.8M165.4,311.4H170.8" stroke="rgba(0,0,0,0.8)" stroke-width="1" fill="none"/><path d="M167.3,306.2V314.7M164.6,306.2H170.0M164.6,314.7H170.0" stroke="rgba(153,50,168,0.6)" stroke-width="1" fill="none"/><path d="M175.0,308.3V312.1M172.3,308.3H177.7M172.3,312.1H177.7" stroke="rgba(230,0,0,0.5)" stroke-width="1" fill="none"/><path d="M177.1,296.0V301.1M174.4,296.0H179.8M174.4,301.1H179.8" stroke="rgba(44,160,44,0.6)" stroke-width="1" fill="none"/><circle cx="38.0" cy="305.0" r="1.2" fill="#000000"/><circle cx="38.5" cy="298.5" r="1.2" fill="#2ca02c"/><circle cx="44.1" cy="289.0" r="1.2" fill="#e60000"/><circle cx="49.3" cy="288.3" r="1.2" fill="#9932a8"/><circle cx="55.9" cy="274.4" r="1.2" fill="#000000"/><circle cx="57.0" cy="278.0" r="1.2" fill="#2ca02c"/><circle cx="60.3" cy="279.3" r="1.2" fill="#e60000"/><circle cx="62.1" cy="268.5" r="1.2" fill="#9932a8"/><circle cx="68.0" cy="270.0" r="1.2" fill="#000000"/><circle cx="62.9" cy="241.0" r="1.2" fill="#1f72c4"/><circle cx="73.1" cy="220.8" r="1.2" fill="#1f72c4"/><circle cx="71.9" cy="254.9" r="1.2" fill="#9932a8"/><circle cx="74.4" cy="254.1" r="1.2" fill="#e60000"/><circle cx="80.8" cy="260.8" r="1.2" fill="#000000"/><circle cx="88.5" cy="254.1" r="1.2" fill="#e60000"/><circle cx="91.6" cy="263.9" r="1.2" fill="#2ca02c"/><circle cx="84.7" cy="296.0" r="1.2" fill="#1f72c4"/><circle cx="94.2" cy="293.9" r="1.2" fill="#9932a8"/><circle cx="98.0" cy="249.8" r="1.2" fill="#000000"/><circle cx="103.9" cy="260.8" r="1.2" fill="#9932a8"/><circle cx="105.2" cy="261.3" r="1.2" fill="#e60000"/><circle cx="106.5" cy="251.1" r="1.2" fill="#1f72c4"/><circle cx="101.4" cy="273.6" r="1.2" fill="#2ca02c"/><circle cx="98.0" cy="281.8" r="1.2" fill="#1f72c4"/><circle cx="114.7" cy="261.3" r="1.2" fill="#000000"/><circle cx="116.0" cy="269.8" r="1.2" fill="#e60000"/><circle cx="118.0" cy="276.7" r="1.2" fill="#2ca02c"/><circle cx="117.3" cy="289.5" r="1.2" fill="#9932a8"/><circle cx="127.5" cy="274.2" r="1.2" fill="#9932a8"/><circle cx="128.3" cy="283.1" r="1.2" fill="#e60000"/><circle cx="132.2" cy="288.3" r="1.2" fill="#000000"/><circle cx="143.2" cy="292.1" r="1.2" fill="#e60000"/><circle cx="145.5" cy="310.1" r="1.2" fill="#000000"/><circle cx="145.5" cy="322.9" r="1.2" fill="#9932a8"/><circle cx="150.9" cy="320.3" r="1.2" fill="#2ca02c"/><circle cx="154.7" cy="290.8" r="1.2" fill="#000000"/><circle cx="155.8" cy="300.3" r="1.2" fill="#9932a8"/><circle cx="160.4" cy="313.9" r="1.2" fill="#e60000"/><circle cx="161.7" cy="298.5" r="1.2" fill="#2ca02c"/><circle cx="168.1" cy="305.5" r="1.2" fill="#000000"/><circle cx="167.3" cy="310.1" r="1.2" fill="#9932a8"/><circle cx="175.0" cy="310.1" r="1.2" fill="#e60000"/><circle cx="177.1" cy="298.5" r="1.2" fill="#2ca02c"/></g><g clip-path="url(#c10b)"><g stroke="rgba(0,0,0,0.3)" stroke-width="2.10" stroke-linecap="round"><path d="M134.0 360.6h0"/><path d="M132.9 364.5h0"/><path d="M85.4 363.0h0"/><path d="M40.4 359.6h0"/><path d="M65.8 367.3h0"/><path d="M145.5 358.0h0"/><path d="M78.8 365.3h0"/><path d="M143.2 361.1h0"/><path d="M162.3 360.0h0"/><path d="M100.5 366.0h0"/><path d="M38.8 365.0h0"/><path d="M36.1 368.9h0"/><path d="M76.6 367.6h0"/><path d="M78.1 365.5h0"/><path d="M165.7 353.5h0"/><path d="M143.1 363.6h0"/><path d="M138.2 356.4h0"/><path d="M46.4 367.0h0"/><path d="M173.8 359.9h0"/><path d="M137.8 368.5h0"/><path d="M125.5 363.3h0"/><path d="M49.7 362.1h0"/><path d="M129.9 363.6h0"/><path d="M150.8 360.8h0"/><path d="M180.2 365.8h0"/><path d="M72.7 363.8h0"/><path d="M120.7 360.5h0"/><path d="M91.7 365.1h0"/><path d="M45.0 361.4h0"/><path d="M126.9 350.6h0"/><path d="M79.8 366.1h0"/><path d="M43.3 353.5h0"/><path d="M149.3 364.3h0"/><path d="M117.1 363.6h0"/><path d="M137.5 358.6h0"/><path d="M95.9 362.9h0"/><path d="M59.8 367.0h0"/><path d="M82.5 361.4h0"/><path d="M138.3 359.9h0"/><path d="M59.8 363.5h0"/><path d="M85.6 355.9h0"/><path d="M85.1 372.2h0"/><path d="M105.9 360.9h0"/><path d="M150.6 366.4h0"/><path d="M181.4 358.8h0"/><path d="M64.2 361.2h0"/><path d="M101.5 370.6h0"/><path d="M93.1 369.9h0"/><path d="M102.7 357.7h0"/><path d="M68.0 367.4h0"/><path d="M125.4 349.7h0"/><path d="M69.6 361.3h0"/><path d="M89.4 358.9h0"/><path d="M64.7 351.5h0"/><path d="M155.5 354.3h0"/><path d="M98.3 372.2h0"/><path d="M170.5 358.5h0"/><path d="M140.4 360.0h0"/><path d="M141.2 377.0h0"/><path d="M125.2 357.4h0"/><path d="M71.1 354.2h0"/><path d="M126.6 354.9h0"/><path d="M145.8 363.1h0"/><path d="M168.8 362.1h0"/><path d="M164.7 368.3h0"/><path d="M148.8 361.8h0"/><path d="M74.4 355.1h0"/><path d="M77.3 361.4h0"/><path d="M179.7 364.0h0"/><path d="M148.0 369.5h0"/><path d="M137.6 357.5h0"/><path d="M114.6 361.5h0"/><path d="M45.2 357.4h0"/><path d="M171.5 359.9h0"/><path d="M65.6 354.1h0"/><path d="M92.3 353.2h0"/><path d="M97.9 360.0h0"/><path d="M109.9 370.4h0"/><path d="M150.9 363.9h0"/><path d="M144.9 361.7h0"/><path d="M150.8 366.0h0"/><path d="M176.7 364.6h0"/><path d="M173.4 366.2h0"/><path d="M79.1 355.5h0"/><path d="M88.4 362.0h0"/><path d="M94.2 361.9h0"/><path d="M45.8 358.8h0"/><path d="M47.5 362.2h0"/><path d="M158.3 358.6h0"/><path d="M89.0 358.5h0"/><path d="M41.9 358.4h0"/><path d="M147.3 365.2h0"/><path d="M118.1 363.8h0"/><path d="M45.8 356.9h0"/><path d="M175.8 367.9h0"/><path d="M184.7 360.2h0"/><path d="M146.8 367.5h0"/><path d="M63.6 355.8h0"/><path d="M85.3 358.4h0"/><path d="M165.7 358.7h0"/><path d="M89.8 362.3h0"/><path d="M46.0 364.6h0"/><path d="M41.3 365.7h0"/><path d="M36.1 359.2h0"/><path d="M121.5 360.8h0"/><path d="M160.3 375.1h0"/><path d="M109.5 372.0h0"/><path d="M119.1 362.8h0"/><path d="M146.7 371.7h0"/><path d="M38.8 356.1h0"/><path d="M182.1 374.9h0"/><path d="M154.9 355.9h0"/><path d="M144.8 359.6h0"/><path d="M51.6 355.2h0"/><path d="M73.2 349.6h0"/><path d="M37.5 372.4h0"/><path d="M118.2 361.8h0"/><path d="M161.3 365.8h0"/><path d="M50.1 387.7h0"/><path d="M130.8 366.2h0"/><path d="M140.3 363.6h0"/><path d="M31.3 363.5h0"/><path d="M43.9 358.4h0"/><path d="M74.4 370.9h0"/><path d="M56.0 356.8h0"/><path d="M51.4 370.8h0"/><path d="M41.6 356.4h0"/><path d="M170.0 353.0h0"/><path d="M76.0 353.2h0"/><path d="M94.1 358.6h0"/><path d="M71.9 362.2h0"/><path d="M177.4 356.0h0"/><path d="M38.5 369.5h0"/><path d="M157.1 365.6h0"/><path d="M168.8 361.0h0"/><path d="M169.8 365.2h0"/><path d="M177.4 360.2h0"/></g><g stroke="rgba(44,160,44,0.3)" stroke-width="2.10" stroke-linecap="round"><path d="M147.9 372.3h0"/><path d="M184.3 362.9h0"/><path d="M66.1 368.3h0"/><path d="M168.1 362.1h0"/><path d="M42.0 363.1h0"/><path d="M170.7 358.1h0"/><path d="M42.5 367.4h0"/><path d="M83.9 360.4h0"/><path d="M112.3 362.7h0"/><path d="M168.4 365.2h0"/><path d="M136.8 360.0h0"/><path d="M86.1 357.1h0"/><path d="M144.5 366.5h0"/><path d="M51.1 354.5h0"/><path d="M167.4 367.9h0"/><path d="M118.7 363.3h0"/><path d="M176.1 363.0h0"/><path d="M133.3 373.4h0"/><path d="M119.1 361.4h0"/><path d="M34.1 364.5h0"/><path d="M71.7 379.6h0"/><path d="M143.3 361.5h0"/><path d="M117.0 359.9h0"/><path d="M163.8 355.0h0"/><path d="M37.5 362.6h0"/><path d="M181.0 366.1h0"/><path d="M79.7 367.9h0"/><path d="M54.9 364.7h0"/><path d="M94.5 368.7h0"/><path d="M46.0 367.1h0"/><path d="M147.4 357.9h0"/><path d="M168.7 370.0h0"/><path d="M181.4 362.9h0"/><path d="M56.1 360.0h0"/><path d="M104.3 359.9h0"/><path d="M125.9 364.8h0"/><path d="M41.4 359.5h0"/><path d="M82.2 363.0h0"/><path d="M64.1 362.6h0"/><path d="M183.7 365.6h0"/><path d="M117.3 366.4h0"/><path d="M136.3 363.6h0"/><path d="M61.5 359.3h0"/><path d="M150.2 367.7h0"/><path d="M44.3 365.1h0"/><path d="M168.7 366.7h0"/><path d="M145.1 368.4h0"/><path d="M129.6 365.5h0"/><path d="M111.9 359.8h0"/><path d="M101.0 366.4h0"/><path d="M111.7 366.9h0"/><path d="M180.3 358.2h0"/><path d="M103.8 365.0h0"/><path d="M130.7 364.1h0"/><path d="M113.1 362.8h0"/><path d="M170.9 363.3h0"/><path d="M165.7 386.0h0"/><path d="M34.9 361.8h0"/><path d="M110.9 360.7h0"/><path d="M120.9 362.8h0"/><path d="M43.7 352.0h0"/><path d="M123.9 356.4h0"/><path d="M164.7 371.7h0"/><path d="M132.7 371.3h0"/><path d="M168.2 376.9h0"/><path d="M71.0 363.4h0"/><path d="M89.2 372.3h0"/><path d="M149.9 378.2h0"/><path d="M72.3 369.2h0"/><path d="M165.8 366.2h0"/><path d="M151.0 353.0h0"/><path d="M169.4 352.5h0"/><path d="M78.1 351.7h0"/><path d="M132.2 379.0h0"/><path d="M94.1 363.8h0"/></g><g stroke="rgba(230,0,0,0.28)" stroke-width="2.10" stroke-linecap="round"><path d="M94.6 361.7h0"/><path d="M150.9 362.5h0"/><path d="M132.0 362.6h0"/><path d="M123.3 364.4h0"/><path d="M71.2 372.8h0"/><path d="M163.8 358.9h0"/><path d="M152.0 369.6h0"/><path d="M37.5 363.2h0"/><path d="M43.8 354.0h0"/><path d="M182.1 359.3h0"/><path d="M171.9 360.5h0"/><path d="M93.0 360.9h0"/><path d="M119.3 365.0h0"/><path d="M33.9 357.3h0"/><path d="M119.5 348.9h0"/><path d="M71.0 363.1h0"/><path d="M156.2 368.5h0"/><path d="M182.5 366.1h0"/><path d="M139.9 358.9h0"/><path d="M158.8 359.3h0"/><path d="M84.2 366.8h0"/><path d="M93.9 364.1h0"/><path d="M150.4 363.5h0"/><path d="M177.6 356.5h0"/><path d="M168.4 358.7h0"/><path d="M95.4 360.2h0"/><path d="M183.9 365.5h0"/><path d="M156.3 360.8h0"/><path d="M114.7 361.4h0"/><path d="M116.3 371.7h0"/><path d="M124.1 353.3h0"/><path d="M82.8 373.7h0"/><path d="M52.1 367.1h0"/><path d="M185.5 359.8h0"/><path d="M139.4 362.3h0"/><path d="M176.0 364.0h0"/><path d="M135.1 361.7h0"/><path d="M102.8 360.9h0"/><path d="M53.4 365.2h0"/><path d="M69.8 368.2h0"/><path d="M134.7 356.0h0"/><path d="M96.1 361.3h0"/><path d="M170.7 369.5h0"/><path d="M159.3 357.8h0"/><path d="M96.1 371.8h0"/><path d="M151.6 354.9h0"/><path d="M112.7 372.1h0"/><path d="M47.4 359.5h0"/><path d="M81.9 367.0h0"/><path d="M59.9 361.1h0"/><path d="M105.0 363.2h0"/><path d="M145.2 350.3h0"/><path d="M110.0 366.6h0"/><path d="M77.5 363.0h0"/><path d="M85.6 367.3h0"/><path d="M166.6 363.8h0"/></g><g stroke="rgba(31,114,196,0.3)" stroke-width="2.10" stroke-linecap="round"><path d="M137.8 370.6h0"/><path d="M72.5 363.9h0"/><path d="M52.2 371.9h0"/><path d="M104.7 364.5h0"/><path d="M42.4 367.6h0"/><path d="M166.2 360.3h0"/><path d="M121.4 365.0h0"/><path d="M112.9 361.1h0"/><path d="M41.5 365.0h0"/><path d="M121.7 364.8h0"/><path d="M76.9 359.9h0"/><path d="M159.2 361.8h0"/><path d="M180.0 361.9h0"/><path d="M108.2 360.5h0"/><path d="M40.7 354.9h0"/><path d="M147.0 354.9h0"/><path d="M76.2 365.9h0"/><path d="M65.5 360.0h0"/><path d="M139.5 360.2h0"/><path d="M118.1 354.4h0"/><path d="M35.9 358.2h0"/><path d="M118.6 352.2h0"/></g><g stroke="rgba(153,50,168,0.3)" stroke-width="2.10" stroke-linecap="round"><path d="M141.9 366.8h0"/><path d="M82.9 364.5h0"/><path d="M155.1 367.0h0"/><path d="M73.0 365.7h0"/><path d="M79.1 365.2h0"/><path d="M154.2 357.1h0"/><path d="M176.4 367.1h0"/><path d="M141.9 356.4h0"/><path d="M54.6 359.9h0"/><path d="M81.0 369.8h0"/><path d="M52.7 365.0h0"/><path d="M46.5 366.8h0"/><path d="M159.4 363.3h0"/><path d="M67.7 355.0h0"/><path d="M117.8 366.2h0"/><path d="M156.4 361.2h0"/><path d="M79.0 369.5h0"/><path d="M38.2 351.9h0"/><path d="M137.6 361.9h0"/><path d="M59.6 365.1h0"/><path d="M123.9 361.3h0"/><path d="M82.5 360.7h0"/><path d="M109.3 359.9h0"/><path d="M34.2 360.3h0"/><path d="M176.8 360.4h0"/><path d="M168.8 361.7h0"/><path d="M44.5 353.2h0"/><path d="M154.9 369.6h0"/><path d="M32.7 362.0h0"/><path d="M82.7 371.3h0"/><path d="M50.4 362.7h0"/><path d="M157.7 367.5h0"/><path d="M162.5 366.4h0"/><path d="M43.1 352.9h0"/><path d="M182.4 373.6h0"/><path d="M148.3 351.6h0"/><path d="M183.0 372.0h0"/><path d="M148.0 365.1h0"/><path d="M167.1 352.0h0"/><path d="M176.5 361.8h0"/><path d="M65.0 366.0h0"/><path d="M72.4 363.9h0"/><path d="M164.1 357.9h0"/><path d="M168.8 371.2h0"/><path d="M41.0 358.4h0"/><path d="M157.6 362.0h0"/><path d="M76.9 349.5h0"/><path d="M172.3 348.5h0"/><path d="M74.3 351.2h0"/><path d="M152.2 366.3h0"/></g></g><line x1="29.6" y1="362.3" x2="186.9" y2="362.3" stroke="#222" stroke-width="0.95" stroke-dasharray="2.3,2.7"/><path d="M25.45,216.50H188.45V376.50H25.45ZM25.45,327.80H188.45" fill="none" stroke="#646464" stroke-width="1.00"/><path d="M21.4,225.4H25.4M21.4,239.9H25.4M21.4,254.4H25.4M21.4,268.8H25.4M21.4,283.3H25.4M21.4,297.8H25.4M21.4,312.3H25.4M21.4,326.8H25.4M21.4,331.8H25.4M21.4,339.5H25.4M21.4,347.1H25.4M21.4,354.7H25.4M21.4,362.3H25.4M21.4,369.8H25.4M31.3,376.5V380.5M31.3,327.8V331.8M76.3,376.5V380.5M76.3,327.8V331.8M121.3,376.5V380.5M121.3,327.8V331.8M166.3,376.5V380.5M166.3,327.8V331.8" stroke="#646464" stroke-width="1.00" fill="none"/><text transform="translate(17.4,225.4) rotate(-90)" font-size="5.6" text-anchor="middle" fill="#222">8</text><text transform="translate(17.4,239.9) rotate(-90)" font-size="5.6" text-anchor="middle" fill="#222">6</text><text transform="translate(17.4,254.4) rotate(-90)" font-size="5.6" text-anchor="middle" fill="#222">4</text><text transform="translate(17.4,268.8) rotate(-90)" font-size="5.6" text-anchor="middle" fill="#222">2</text><text transform="translate(17.4,283.3) rotate(-90)" font-size="5.6" text-anchor="middle" fill="#222">0</text><text transform="translate(17.4,297.8) rotate(-90)" font-size="5.6" text-anchor="middle" fill="#222">&#8722;2</text><text transform="translate(17.4,312.3) rotate(-90)" font-size="5.6" text-anchor="middle" fill="#222">&#8722;4</text><text transform="translate(17.4,326.8) rotate(-90)" font-size="5.6" text-anchor="middle" fill="#222">&#8722;6</text><text transform="translate(17.4,339.5) rotate(-90)" font-size="5.6" text-anchor="middle" fill="#222">15</text><text transform="translate(17.4,354.7) rotate(-90)" font-size="5.6" text-anchor="middle" fill="#222">5</text><text transform="translate(17.4,369.8) rotate(-90)" font-size="5.6" text-anchor="middle" fill="#222">&#8722;5</text><text x="31.3" y="389.2" font-size="5.6" text-anchor="middle" fill="#222">0</text><text x="76.3" y="389.2" font-size="5.6" text-anchor="middle" fill="#222">5</text><text x="121.3" y="389.2" font-size="5.6" text-anchor="middle" fill="#222">10</text><text x="166.3" y="389.2" font-size="5.6" text-anchor="middle" fill="#222">15</text><text transform="translate(6.6,272.1) rotate(-90)" font-size="8.5" text-anchor="middle" fill="#000" class="s">RV [m/s]</text><text transform="translate(6.6,352.1) rotate(-90)" font-size="8.5" text-anchor="middle" fill="#000" class="s">O-C [m/s]</text><text x="184.5" y="338.3" font-size="8.5" text-anchor="end" fill="#000" class="s">RMS=3.1 m/s</text>
<clipPath id="c11a"><rect x="215.4" y="216.5" width="163.0" height="111.3"/></clipPath><clipPath id="c11b"><rect x="215.4" y="327.8" width="163.0" height="48.7"/></clipPath><text x="296.9" y="213.0" font-size="8.6" font-weight="bold" text-anchor="middle" fill="#000">GJ 229B</text><g clip-path="url(#c11a)"><g stroke="rgba(0,0,0,0.3)" stroke-width="2.10" stroke-linecap="round"><path d="M261.5 281.3h0"/><path d="M259.1 286.3h0"/><path d="M253.9 289.0h0"/><path d="M253.3 260.5h0"/><path d="M259.7 319.3h0"/><path d="M267.3 302.1h0"/><path d="M266.2 278.9h0"/><path d="M265.6 358.9h0"/><path d="M259.3 289.7h0"/><path d="M265.3 288.2h0"/><path d="M261.0 345.8h0"/><path d="M266.6 344.0h0"/><path d="M262.2 303.4h0"/><path d="M258.1 293.6h0"/><path d="M265.7 280.7h0"/><path d="M289.4 272.3h0"/><path d="M282.8 295.5h0"/><path d="M290.9 284.0h0"/><path d="M282.9 316.9h0"/><path d="M286.9 257.0h0"/><path d="M283.0 286.7h0"/><path d="M288.0 303.7h0"/><path d="M342.0 292.9h0"/><path d="M250.5 287.1h0"/><path d="M225.4 323.4h0"/><path d="M371.0 243.3h0"/><path d="M232.0 277.8h0"/><path d="M226.4 277.1h0"/><path d="M290.9 297.8h0"/><path d="M293.9 238.1h0"/><path d="M270.4 246.3h0"/><path d="M241.9 258.8h0"/><path d="M332.3 293.9h0"/><path d="M356.3 258.3h0"/><path d="M321.2 299.3h0"/><path d="M280.7 227.3h0"/><path d="M274.4 240.7h0"/><path d="M354.8 313.1h0"/><path d="M273.1 219.0h0"/><path d="M251.9 319.1h0"/><path d="M344.2 320.8h0"/><path d="M273.8 286.5h0"/><path d="M310.4 231.2h0"/><path d="M363.4 223.5h0"/><path d="M272.8 292.8h0"/><path d="M338.6 252.7h0"/><path d="M351.0 248.6h0"/></g><g stroke="rgba(44,160,44,0.3)" stroke-width="2.10" stroke-linecap="round"><path d="M253.0 291.4h0"/><path d="M253.0 288.6h0"/><path d="M253.8 353.2h0"/><path d="M254.6 282.9h0"/><path d="M252.9 264.2h0"/><path d="M253.4 295.5h0"/><path d="M256.9 323.3h0"/><path d="M260.1 283.7h0"/><path d="M254.1 290.5h0"/><path d="M256.5 314.3h0"/><path d="M252.4 270.9h0"/><path d="M257.5 299.1h0"/><path d="M252.0 271.8h0"/><path d="M256.3 283.4h0"/><path d="M257.0 303.3h0"/><path d="M266.5 300.7h0"/><path d="M262.8 305.1h0"/><path d="M262.0 296.9h0"/><path d="M266.9 270.6h0"/><path d="M263.1 279.1h0"/><path d="M263.6 309.1h0"/><path d="M266.4 317.2h0"/><path d="M259.7 271.0h0"/><path d="M267.6 295.7h0"/><path d="M265.8 281.9h0"/><path d="M292.1 287.1h0"/><path d="M292.3 297.5h0"/><path d="M281.4 279.3h0"/><path d="M289.6 298.0h0"/><path d="M285.2 301.1h0"/><path d="M286.9 322.1h0"/><path d="M282.1 300.0h0"/><path d="M291.2 277.2h0"/><path d="M286.6 270.6h0"/><path d="M289.3 294.2h0"/><path d="M280.2 301.6h0"/><path d="M288.8 273.3h0"/><path d="M283.5 303.9h0"/><path d="M280.8 266.3h0"/></g><g stroke="rgba(230,0,0,0.28)" stroke-width="2.10" stroke-linecap="round"><path d="M292.1 256.1h0"/><path d="M281.7 311.0h0"/><path d="M287.8 299.8h0"/><path d="M283.6 262.7h0"/><path d="M281.2 299.6h0"/><path d="M282.8 308.3h0"/><path d="M288.5 289.6h0"/><path d="M283.6 290.2h0"/><path d="M288.0 267.9h0"/><path d="M352.6 228.8h0"/><path d="M358.9 236.3h0"/><path d="M353.0 253.9h0"/><path d="M355.4 257.8h0"/><path d="M355.1 242.5h0"/><path d="M353.4 227.7h0"/><path d="M357.6 230.7h0"/><path d="M353.4 246.3h0"/><path d="M356.3 225.1h0"/><path d="M358.3 201.6h0"/><path d="M360.6 222.3h0"/><path d="M359.4 242.1h0"/><path d="M350.6 245.2h0"/><path d="M354.6 220.1h0"/><path d="M357.8 257.7h0"/><path d="M353.8 231.3h0"/><path d="M352.2 256.6h0"/><path d="M356.0 233.8h0"/><path d="M359.9 229.3h0"/><path d="M352.5 222.1h0"/><path d="M355.7 232.6h0"/><path d="M357.5 242.8h0"/><path d="M359.7 218.0h0"/><path d="M352.0 233.0h0"/><path d="M350.4 262.9h0"/><path d="M358.5 237.4h0"/><path d="M356.2 224.4h0"/><path d="M359.1 235.3h0"/><path d="M356.9 228.1h0"/><path d="M359.7 260.0h0"/><path d="M354.5 248.6h0"/><path d="M353.7 243.9h0"/><path d="M352.3 241.6h0"/><path d="M358.6 232.1h0"/><path d="M360.2 228.2h0"/><path d="M350.1 237.7h0"/><path d="M351.5 230.5h0"/><path d="M351.5 249.5h0"/><path d="M356.8 247.1h0"/><path d="M351.5 238.0h0"/><path d="M359.9 230.3h0"/><path d="M359.6 235.1h0"/><path d="M359.9 227.7h0"/><path d="M355.1 248.4h0"/><path d="M351.0 233.0h0"/><path d="M357.5 234.7h0"/><path d="M353.0 251.4h0"/><path d="M360.9 221.5h0"/><path d="M350.3 243.0h0"/><path d="M353.7 236.7h0"/><path d="M355.0 215.6h0"/><path d="M359.1 228.4h0"/><path d="M350.9 243.0h0"/><path d="M360.9 247.6h0"/><path d="M360.5 224.7h0"/><path d="M350.2 240.7h0"/><path d="M358.3 227.8h0"/><path d="M355.6 229.1h0"/><path d="M351.3 229.8h0"/><path d="M353.5 227.1h0"/><path d="M356.0 238.6h0"/><path d="M360.3 239.7h0"/><path d="M355.1 220.3h0"/><path d="M351.6 240.2h0"/><path d="M360.8 229.7h0"/><path d="M356.7 253.1h0"/><path d="M355.8 226.9h0"/><path d="M355.2 249.8h0"/><path d="M353.8 245.3h0"/><path d="M358.4 225.0h0"/><path d="M350.3 249.6h0"/><path d="M355.5 249.0h0"/><path d="M354.7 239.9h0"/><path d="M357.8 254.7h0"/><path d="M350.5 237.4h0"/><path d="M354.7 226.3h0"/><path d="M354.1 229.4h0"/><path d="M360.6 243.4h0"/><path d="M359.3 229.0h0"/><path d="M356.0 245.7h0"/><path d="M351.4 233.9h0"/><path d="M358.5 221.5h0"/><path d="M359.7 234.2h0"/><path d="M359.4 243.9h0"/><path d="M359.1 215.1h0"/><path d="M357.2 251.2h0"/><path d="M351.7 257.6h0"/><path d="M356.5 246.2h0"/><path d="M354.1 238.3h0"/><path d="M350.6 252.4h0"/><path d="M352.8 226.6h0"/><path d="M354.6 240.3h0"/><path d="M360.5 211.0h0"/><path d="M356.0 244.7h0"/><path d="M358.2 221.4h0"/><path d="M358.4 233.9h0"/><path d="M352.1 228.6h0"/><path d="M359.2 246.4h0"/><path d="M352.1 259.4h0"/><path d="M357.9 258.5h0"/><path d="M359.9 232.9h0"/><path d="M352.7 244.1h0"/><path d="M359.2 215.4h0"/><path d="M350.1 223.8h0"/><path d="M360.7 238.2h0"/><path d="M356.5 244.0h0"/><path d="M359.5 215.1h0"/><path d="M359.5 243.3h0"/><path d="M356.5 248.7h0"/><path d="M354.8 222.2h0"/><path d="M323.5 278.8h0"/><path d="M302.4 286.4h0"/><path d="M313.6 261.8h0"/><path d="M306.9 300.5h0"/><path d="M343.0 248.3h0"/><path d="M300.6 274.7h0"/><path d="M317.5 266.7h0"/><path d="M319.3 274.4h0"/><path d="M344.3 271.0h0"/><path d="M304.9 273.6h0"/></g><g stroke="rgba(31,114,196,0.3)" stroke-width="2.10" stroke-linecap="round"><path d="M371.0 228.1h0"/><path d="M371.3 214.9h0"/><path d="M370.2 214.7h0"/><path d="M363.9 245.1h0"/><path d="M364.0 210.5h0"/><path d="M366.4 216.9h0"/><path d="M364.4 198.4h0"/><path d="M363.6 196.2h0"/><path d="M370.2 223.6h0"/><path d="M364.4 242.9h0"/><path d="M367.6 233.0h0"/><path d="M365.4 217.7h0"/><path d="M370.4 208.4h0"/><path d="M366.8 219.8h0"/><path d="M368.6 223.6h0"/><path d="M365.2 235.3h0"/><path d="M368.7 226.6h0"/><path d="M369.5 199.8h0"/><path d="M363.8 215.4h0"/><path d="M371.6 222.8h0"/><path d="M370.6 212.4h0"/><path d="M363.6 238.7h0"/><path d="M366.1 227.7h0"/><path d="M367.5 214.1h0"/><path d="M364.5 227.6h0"/><path d="M363.7 221.3h0"/><path d="M364.7 219.3h0"/><path d="M366.5 213.7h0"/><path d="M367.0 240.4h0"/><path d="M367.6 237.9h0"/><path d="M369.2 212.5h0"/><path d="M365.0 228.6h0"/><path d="M364.0 229.4h0"/><path d="M366.5 230.9h0"/><path d="M372.3 225.5h0"/><path d="M371.7 221.7h0"/><path d="M366.1 213.9h0"/><path d="M369.0 225.6h0"/><path d="M371.1 221.0h0"/><path d="M363.9 256.2h0"/></g><path d="M221.30,309.60C222.88,309.38 227.90,308.77 230.80,308.30C233.70,307.83 236.07,307.37 238.70,306.80C241.33,306.23 243.97,305.55 246.60,304.90C249.23,304.25 251.87,303.70 254.50,302.90C257.13,302.10 259.78,301.15 262.40,300.10C265.02,299.05 267.08,298.07 270.20,296.60C273.32,295.13 277.53,293.10 281.10,291.30C284.67,289.50 288.10,287.87 291.60,285.80C295.10,283.73 298.60,281.35 302.10,278.90C305.60,276.45 309.08,273.82 312.60,271.10C316.12,268.38 319.68,265.42 323.20,262.60C326.72,259.78 330.43,256.68 333.70,254.20C336.97,251.72 339.68,250.03 342.80,247.70C345.92,245.37 349.20,242.90 352.40,240.20C355.60,237.50 358.68,234.47 362.00,231.50C365.32,228.53 370.58,223.92 372.30,222.40" fill="none" stroke="#ff1a1a" stroke-width="1.15" stroke-opacity="0.85"/><path d="M228.0,304.4V314.7M225.3,304.4H230.7M225.3,314.7H230.7" stroke="rgba(0,0,0,0.8)" stroke-width="1" fill="none"/><path d="M241.3,319.1V328.0M238.6,319.1H244.0M238.6,328.0H244.0" stroke="rgba(0,0,0,0.8)" stroke-width="1" fill="none"/><path d="M252.4,302.4V312.1M249.7,302.4H255.1M249.7,312.1H255.1" stroke="rgba(44,160,44,0.6)" stroke-width="1" fill="none"/><path d="M259.3,305.5V310.1M256.6,305.5H262.0M256.6,310.1H262.0" stroke="rgba(44,160,44,0.6)" stroke-width="1" fill="none"/><path d="M254.2,277.2V293.4M251.5,277.2H256.9M251.5,293.4H256.9" stroke="rgba(0,0,0,0.8)" stroke-width="1" fill="none"/><path d="M266.2,276.2V296.0M263.5,276.2H268.9M263.5,296.0H268.9" stroke="rgba(0,0,0,0.8)" stroke-width="1" fill="none"/><path d="M268.3,297.2V303.7M265.6,297.2H271.0M265.6,303.7H271.0" stroke="rgba(44,160,44,0.6)" stroke-width="1" fill="none"/><path d="M282.4,280.6V294.7M279.7,280.6H285.1M279.7,294.7H285.1" stroke="rgba(0,0,0,0.8)" stroke-width="1" fill="none"/><path d="M281.9,281.9V289.5M279.2,281.9H284.6M279.2,289.5H284.6" stroke="rgba(44,160,44,0.6)" stroke-width="1" fill="none"/><path d="M282.4,289.5V294.2M279.7,289.5H285.1M279.7,294.2H285.1" stroke="rgba(230,0,0,0.5)" stroke-width="1" fill="none"/><path d="M288.8,274.2V278.8M286.1,274.2H291.5M286.1,278.8H291.5" stroke="rgba(44,160,44,0.6)" stroke-width="1" fill="none"/><path d="M291.4,269.0V275.4M288.7,269.0H294.1M288.7,275.4H294.1" stroke="rgba(230,0,0,0.5)" stroke-width="1" fill="none"/><path d="M298.5,265.2V269.0M295.8,265.2H301.2M295.8,269.0H301.2" stroke="rgba(44,160,44,0.6)" stroke-width="1" fill="none"/><path d="M293.9,279.3V289.5M291.2,279.3H296.6M291.2,289.5H296.6" stroke="rgba(0,0,0,0.8)" stroke-width="1" fill="none"/><path d="M299.8,279.3V284.4M297.1,279.3H302.5M297.1,284.4H302.5" stroke="rgba(230,0,0,0.5)" stroke-width="1" fill="none"/><path d="M304.2,278.0V284.4M301.5,278.0H306.9M301.5,284.4H306.9" stroke="rgba(230,0,0,0.5)" stroke-width="1" fill="none"/><path d="M314.5,267.0V271.1M311.8,267.0H317.2M311.8,271.1H317.2" stroke="rgba(230,0,0,0.5)" stroke-width="1" fill="none"/><path d="M317.5,265.2V272.9M314.8,265.2H320.2M314.8,272.9H320.2" stroke="rgba(0,0,0,0.8)" stroke-width="1" fill="none"/><path d="M327.8,268.5V272.4M325.1,268.5H330.5M325.1,272.4H330.5" stroke="rgba(230,0,0,0.5)" stroke-width="1" fill="none"/><path d="M335.0,264.4V274.2M332.3,264.4H337.7M332.3,274.2H337.7" stroke="rgba(0,0,0,0.8)" stroke-width="1" fill="none"/><path d="M342.2,248.5V271.6M339.5,248.5H344.9M339.5,271.6H344.9" stroke="rgba(0,0,0,0.8)" stroke-width="1" fill="none"/><path d="M352.2,238.7V242.1M349.5,238.7H354.9M349.5,242.1H354.9" stroke="rgba(230,0,0,0.5)" stroke-width="1" fill="none"/><path d="M358.1,235.7V238.2M355.4,235.7H360.8M355.4,238.2H360.8" stroke="rgba(230,0,0,0.5)" stroke-width="1" fill="none"/><path d="M365.8,219.0V221.5M363.1,219.0H368.5M363.1,221.5H368.5" stroke="rgba(31,114,196,0.75)" stroke-width="1" fill="none"/><path d="M366.5,224.1V228.0M363.8,224.1H369.2M363.8,228.0H369.2" stroke="rgba(31,114,196,0.75)" stroke-width="1" fill="none"/><path d="M368.3,231.8V235.7M365.6,231.8H371.0M365.6,235.7H371.0" stroke="rgba(31,114,196,0.75)" stroke-width="1" fill="none"/><path d="M367.1,240.3V243.4M364.4,240.3H369.8M364.4,243.4H369.8" stroke="rgba(31,114,196,0.75)" stroke-width="1" fill="none"/><path d="M372.2,220.8V224.1M369.5,220.8H374.9M369.5,224.1H374.9" stroke="rgba(31,114,196,0.75)" stroke-width="1" fill="none"/><circle cx="228.0" cy="309.6" r="1.2" fill="#000000"/><circle cx="241.3" cy="323.7" r="1.2" fill="#000000"/><circle cx="252.4" cy="307.5" r="1.2" fill="#2ca02c"/><circle cx="259.3" cy="307.8" r="1.2" fill="#2ca02c"/><circle cx="254.2" cy="285.2" r="1.2" fill="#000000"/><circle cx="266.2" cy="286.0" r="1.2" fill="#000000"/><circle cx="268.3" cy="300.6" r="1.2" fill="#2ca02c"/><circle cx="282.4" cy="287.0" r="1.2" fill="#000000"/><circle cx="281.9" cy="285.7" r="1.2" fill="#2ca02c"/><circle cx="282.4" cy="291.6" r="1.2" fill="#e60000"/><circle cx="288.8" cy="276.2" r="1.2" fill="#2ca02c"/><circle cx="291.4" cy="272.1" r="1.2" fill="#e60000"/><circle cx="298.5" cy="267.0" r="1.2" fill="#2ca02c"/><circle cx="293.9" cy="284.4" r="1.2" fill="#000000"/><circle cx="299.8" cy="281.8" r="1.2" fill="#e60000"/><circle cx="304.2" cy="281.1" r="1.2" fill="#e60000"/><circle cx="314.5" cy="269.0" r="1.2" fill="#e60000"/><circle cx="317.5" cy="269.0" r="1.2" fill="#000000"/><circle cx="327.8" cy="270.6" r="1.2" fill="#e60000"/><circle cx="335.0" cy="269.0" r="1.2" fill="#000000"/><circle cx="342.2" cy="260.0" r="1.2" fill="#000000"/><circle cx="352.2" cy="240.3" r="1.2" fill="#e60000"/><circle cx="358.1" cy="236.9" r="1.2" fill="#e60000"/><circle cx="365.8" cy="220.3" r="1.2" fill="#1f72c4"/><circle cx="366.5" cy="225.9" r="1.2" fill="#1f72c4"/><circle cx="368.3" cy="233.6" r="1.2" fill="#1f72c4"/><circle cx="367.1" cy="241.8" r="1.2" fill="#1f72c4"/><circle cx="372.2" cy="222.3" r="1.2" fill="#1f72c4"/></g><g clip-path="url(#c11b)"><g stroke="rgba(0,0,0,0.3)" stroke-width="2.10" stroke-linecap="round"><path d="M223.7 358.0h0"/><path d="M223.8 358.0h0"/><path d="M223.8 353.6h0"/><path d="M223.2 361.1h0"/><path d="M224.1 357.7h0"/><path d="M223.2 355.6h0"/><path d="M229.5 354.4h0"/><path d="M228.0 349.7h0"/><path d="M230.3 359.2h0"/><path d="M229.5 357.5h0"/><path d="M229.0 356.9h0"/><path d="M229.7 362.2h0"/><path d="M230.5 360.6h0"/><path d="M230.7 362.0h0"/><path d="M237.1 347.8h0"/><path d="M236.9 355.2h0"/><path d="M237.3 356.6h0"/><path d="M236.5 353.3h0"/><path d="M244.7 360.3h0"/><path d="M244.9 359.1h0"/><path d="M244.5 355.5h0"/><path d="M246.1 361.0h0"/><path d="M245.7 358.5h0"/><path d="M244.9 360.7h0"/><path d="M253.9 351.3h0"/><path d="M250.9 352.0h0"/><path d="M254.3 362.3h0"/><path d="M254.1 353.8h0"/><path d="M253.9 364.6h0"/><path d="M250.9 355.5h0"/><path d="M254.0 354.2h0"/><path d="M257.7 357.5h0"/><path d="M259.2 356.2h0"/><path d="M259.4 352.1h0"/><path d="M266.1 363.3h0"/><path d="M266.7 357.1h0"/><path d="M265.5 358.7h0"/><path d="M267.5 361.3h0"/><path d="M267.9 361.1h0"/><path d="M265.4 352.7h0"/><path d="M266.9 358.0h0"/><path d="M273.5 356.1h0"/><path d="M273.1 356.4h0"/><path d="M273.3 354.3h0"/><path d="M273.8 358.1h0"/><path d="M282.5 360.3h0"/><path d="M283.9 356.8h0"/><path d="M283.5 358.9h0"/><path d="M282.6 361.5h0"/><path d="M284.0 357.7h0"/><path d="M297.9 358.4h0"/><path d="M298.1 356.6h0"/><path d="M296.4 350.9h0"/><path d="M298.8 354.3h0"/><path d="M311.1 357.4h0"/><path d="M310.3 349.7h0"/><path d="M310.9 359.3h0"/><path d="M310.8 356.8h0"/><path d="M312.3 356.7h0"/><path d="M309.8 360.7h0"/><path d="M310.5 356.2h0"/><path d="M316.1 353.2h0"/><path d="M315.5 361.4h0"/><path d="M316.1 353.6h0"/><path d="M315.8 359.3h0"/><path d="M316.3 365.3h0"/><path d="M321.4 353.6h0"/><path d="M321.1 353.5h0"/><path d="M321.8 355.8h0"/><path d="M322.4 357.4h0"/><path d="M321.8 356.3h0"/><path d="M320.3 358.5h0"/><path d="M321.3 357.3h0"/><path d="M322.4 354.3h0"/><path d="M332.2 357.6h0"/><path d="M333.3 358.1h0"/><path d="M334.4 354.1h0"/><path d="M332.6 358.3h0"/><path d="M334.2 355.1h0"/><path d="M333.0 356.5h0"/><path d="M333.9 364.0h0"/><path d="M333.8 350.8h0"/><path d="M341.8 351.6h0"/><path d="M340.0 355.7h0"/><path d="M338.5 359.7h0"/><path d="M341.7 356.5h0"/><path d="M340.8 357.1h0"/><path d="M339.2 353.9h0"/><path d="M340.7 349.8h0"/><path d="M337.4 356.9h0"/><path d="M338.8 362.9h0"/><path d="M340.8 351.9h0"/><path d="M337.1 359.1h0"/><path d="M341.7 357.1h0"/><path d="M353.0 355.6h0"/><path d="M351.0 356.0h0"/><path d="M352.0 355.1h0"/><path d="M349.4 356.7h0"/><path d="M352.9 356.1h0"/><path d="M351.1 358.2h0"/><path d="M348.9 358.9h0"/><path d="M353.1 358.1h0"/><path d="M349.2 357.0h0"/><path d="M352.7 353.7h0"/><path d="M349.5 356.3h0"/><path d="M350.3 359.1h0"/><path d="M349.3 351.7h0"/><path d="M349.2 355.7h0"/><path d="M354.0 361.8h0"/><path d="M349.7 352.7h0"/><path d="M360.0 354.7h0"/><path d="M358.5 354.4h0"/><path d="M357.2 359.4h0"/><path d="M357.6 354.1h0"/><path d="M356.5 362.9h0"/><path d="M360.1 357.4h0"/><path d="M357.2 358.7h0"/><path d="M359.5 354.1h0"/><path d="M360.1 357.7h0"/><path d="M359.4 355.2h0"/><path d="M359.8 356.1h0"/><path d="M357.1 357.1h0"/><path d="M356.2 356.7h0"/><path d="M357.6 352.3h0"/><path d="M363.5 357.5h0"/><path d="M365.9 355.6h0"/><path d="M367.8 348.6h0"/><path d="M363.6 353.5h0"/><path d="M365.7 356.4h0"/><path d="M365.3 355.4h0"/><path d="M365.2 361.3h0"/><path d="M366.3 357.9h0"/><path d="M366.7 352.7h0"/><path d="M365.0 360.6h0"/><path d="M367.9 362.4h0"/><path d="M365.0 361.4h0"/><path d="M367.5 360.3h0"/><path d="M367.2 355.6h0"/><path d="M365.5 356.0h0"/><path d="M364.9 357.0h0"/><path d="M367.6 361.7h0"/><path d="M372.8 362.2h0"/><path d="M370.5 361.3h0"/><path d="M370.5 356.1h0"/><path d="M372.2 357.4h0"/><path d="M370.6 359.1h0"/><path d="M370.8 355.7h0"/><path d="M372.7 357.8h0"/><path d="M373.0 359.8h0"/><path d="M372.5 357.8h0"/><path d="M370.7 354.3h0"/><path d="M358.4 358.4h0"/><path d="M361.1 369.5h0"/><path d="M349.0 362.0h0"/><path d="M353.6 355.4h0"/><path d="M371.6 355.9h0"/><path d="M355.1 357.2h0"/><path d="M358.0 344.7h0"/><path d="M348.2 352.4h0"/><path d="M346.2 345.9h0"/><path d="M354.0 357.0h0"/><path d="M360.8 367.2h0"/><path d="M360.7 353.1h0"/><path d="M360.6 368.9h0"/><path d="M347.9 360.8h0"/><path d="M364.0 352.9h0"/><path d="M348.2 370.5h0"/><path d="M354.1 361.7h0"/><path d="M350.0 364.9h0"/><path d="M354.4 366.9h0"/><path d="M357.9 352.6h0"/><path d="M369.6 354.7h0"/><path d="M356.5 364.8h0"/><path d="M356.8 346.1h0"/><path d="M367.5 365.3h0"/><path d="M361.9 346.8h0"/></g><g stroke="rgba(44,160,44,0.3)" stroke-width="2.10" stroke-linecap="round"><path d="M253.0 350.4h0"/><path d="M254.6 360.9h0"/><path d="M251.2 365.3h0"/><path d="M251.1 348.7h0"/><path d="M253.5 360.5h0"/><path d="M253.8 357.7h0"/><path d="M254.3 350.1h0"/><path d="M253.3 351.3h0"/><path d="M253.8 357.9h0"/><path d="M255.1 347.6h0"/><path d="M251.3 360.2h0"/><path d="M255.1 352.9h0"/><path d="M251.4 352.9h0"/><path d="M254.9 357.7h0"/><path d="M252.9 351.1h0"/><path d="M253.5 361.0h0"/><path d="M254.7 354.5h0"/><path d="M254.0 366.8h0"/><path d="M254.8 358.9h0"/><path d="M252.9 356.3h0"/><path d="M252.4 355.4h0"/><path d="M251.2 353.0h0"/><path d="M253.5 362.3h0"/><path d="M258.9 356.4h0"/><path d="M260.4 360.2h0"/><path d="M259.5 357.9h0"/><path d="M260.3 355.0h0"/><path d="M259.8 353.5h0"/><path d="M258.6 359.2h0"/><path d="M258.7 352.7h0"/><path d="M258.0 358.0h0"/><path d="M260.7 353.7h0"/><path d="M257.6 354.5h0"/><path d="M259.3 355.1h0"/><path d="M260.9 359.5h0"/><path d="M260.8 369.2h0"/><path d="M259.2 358.6h0"/><path d="M257.4 359.7h0"/><path d="M258.1 354.7h0"/><path d="M258.4 358.7h0"/><path d="M257.9 362.0h0"/><path d="M259.9 359.1h0"/><path d="M258.6 358.9h0"/><path d="M259.7 357.9h0"/><path d="M258.7 351.6h0"/><path d="M258.4 355.6h0"/><path d="M260.8 361.9h0"/><path d="M258.7 358.1h0"/><path d="M257.6 353.6h0"/><path d="M257.6 347.3h0"/><path d="M267.5 359.5h0"/><path d="M266.5 356.7h0"/><path d="M267.5 351.5h0"/><path d="M266.3 351.5h0"/><path d="M266.2 355.4h0"/><path d="M266.0 361.9h0"/><path d="M266.0 357.7h0"/><path d="M266.5 360.1h0"/><path d="M267.2 357.1h0"/><path d="M266.1 361.6h0"/><path d="M265.8 359.7h0"/><path d="M282.7 362.6h0"/><path d="M281.3 357.1h0"/><path d="M282.7 351.9h0"/><path d="M281.8 353.5h0"/><path d="M282.5 353.2h0"/><path d="M283.2 352.2h0"/><path d="M289.9 357.1h0"/><path d="M290.4 355.4h0"/><path d="M290.4 358.9h0"/><path d="M290.7 354.1h0"/><path d="M289.3 352.3h0"/><path d="M297.3 351.8h0"/><path d="M298.9 351.3h0"/><path d="M299.6 352.7h0"/><path d="M298.9 361.0h0"/><path d="M297.3 361.4h0"/><path d="M299.1 355.0h0"/><path d="M297.4 353.8h0"/><path d="M299.2 354.3h0"/><path d="M298.3 360.5h0"/><path d="M298.6 362.8h0"/></g><g stroke="rgba(230,0,0,0.28)" stroke-width="2.10" stroke-linecap="round"><path d="M282.3 357.5h0"/><path d="M282.9 356.5h0"/><path d="M281.9 344.9h0"/><path d="M283.1 352.9h0"/><path d="M282.6 360.2h0"/><path d="M289.2 352.2h0"/><path d="M289.6 366.3h0"/><path d="M290.1 354.5h0"/><path d="M289.6 354.1h0"/><path d="M289.5 356.0h0"/><path d="M289.2 358.7h0"/><path d="M289.7 356.5h0"/><path d="M302.9 355.6h0"/><path d="M304.0 355.2h0"/><path d="M303.7 358.0h0"/><path d="M304.1 356.6h0"/><path d="M304.5 365.7h0"/><path d="M310.3 358.0h0"/><path d="M311.8 362.5h0"/><path d="M311.1 355.0h0"/><path d="M315.4 359.7h0"/><path d="M316.3 356.5h0"/><path d="M316.4 356.5h0"/><path d="M316.9 360.7h0"/><path d="M317.0 354.7h0"/><path d="M326.9 351.4h0"/><path d="M327.4 359.6h0"/><path d="M326.9 360.0h0"/><path d="M327.6 357.0h0"/><path d="M327.1 355.9h0"/><path d="M349.2 367.6h0"/><path d="M353.9 360.0h0"/><path d="M351.9 356.2h0"/><path d="M351.3 359.7h0"/><path d="M352.5 356.4h0"/><path d="M351.3 355.8h0"/><path d="M353.9 359.0h0"/><path d="M353.8 359.6h0"/><path d="M348.9 357.4h0"/><path d="M349.6 352.8h0"/><path d="M351.8 355.7h0"/><path d="M353.5 358.1h0"/><path d="M353.2 356.2h0"/><path d="M352.3 356.4h0"/><path d="M350.4 360.6h0"/><path d="M351.2 353.3h0"/><path d="M353.9 360.0h0"/><path d="M351.7 357.2h0"/><path d="M353.7 359.5h0"/><path d="M349.5 361.2h0"/><path d="M351.1 358.5h0"/><path d="M352.7 357.8h0"/><path d="M350.9 363.0h0"/><path d="M349.6 353.1h0"/><path d="M350.5 358.2h0"/><path d="M349.0 357.3h0"/><path d="M350.2 356.5h0"/><path d="M351.6 358.8h0"/><path d="M353.3 361.1h0"/><path d="M353.1 357.3h0"/><path d="M348.8 360.1h0"/><path d="M349.1 360.9h0"/><path d="M352.6 356.0h0"/><path d="M351.0 360.6h0"/><path d="M352.2 354.4h0"/><path d="M351.8 354.3h0"/><path d="M351.2 359.7h0"/><path d="M350.9 353.9h0"/><path d="M350.5 355.7h0"/><path d="M349.2 358.2h0"/><path d="M352.9 357.5h0"/><path d="M350.4 358.6h0"/><path d="M349.1 359.1h0"/><path d="M350.8 361.6h0"/><path d="M349.4 356.0h0"/><path d="M349.2 355.5h0"/><path d="M350.9 350.3h0"/><path d="M349.8 356.2h0"/><path d="M353.9 358.8h0"/><path d="M352.1 353.7h0"/><path d="M352.1 358.3h0"/><path d="M352.6 362.8h0"/><path d="M350.0 356.9h0"/><path d="M349.8 350.7h0"/><path d="M350.5 351.4h0"/><path d="M352.7 359.8h0"/><path d="M350.3 366.0h0"/><path d="M350.6 360.6h0"/><path d="M353.1 352.6h0"/><path d="M348.8 364.7h0"/><path d="M350.2 355.6h0"/><path d="M351.8 358.3h0"/><path d="M348.7 358.5h0"/><path d="M353.1 360.7h0"/><path d="M356.1 357.0h0"/><path d="M356.8 360.1h0"/><path d="M358.7 354.0h0"/><path d="M357.3 358.4h0"/><path d="M360.1 355.6h0"/><path d="M359.1 361.3h0"/><path d="M358.8 355.1h0"/><path d="M356.9 354.9h0"/><path d="M358.0 354.6h0"/><path d="M359.3 355.7h0"/><path d="M358.6 361.1h0"/><path d="M359.4 359.8h0"/><path d="M357.7 356.5h0"/><path d="M358.6 360.9h0"/><path d="M359.3 362.3h0"/><path d="M359.6 356.4h0"/><path d="M357.0 350.7h0"/><path d="M359.3 362.0h0"/><path d="M358.0 360.3h0"/><path d="M358.3 359.2h0"/><path d="M359.6 352.8h0"/><path d="M356.6 358.2h0"/><path d="M359.8 355.6h0"/><path d="M356.9 355.8h0"/><path d="M358.1 356.6h0"/><path d="M357.3 353.9h0"/><path d="M358.0 361.1h0"/><path d="M358.3 359.4h0"/><path d="M358.8 355.6h0"/><path d="M358.9 354.7h0"/><path d="M356.2 355.0h0"/><path d="M357.0 360.2h0"/><path d="M358.7 352.8h0"/><path d="M358.4 358.7h0"/><path d="M356.9 357.4h0"/><path d="M358.4 354.5h0"/><path d="M357.1 359.3h0"/><path d="M356.7 355.3h0"/><path d="M357.7 358.4h0"/><path d="M358.6 360.8h0"/><path d="M359.8 364.0h0"/><path d="M360.0 358.5h0"/><path d="M359.2 353.6h0"/><path d="M359.5 357.2h0"/><path d="M358.5 354.1h0"/><path d="M358.1 358.8h0"/><path d="M359.9 360.1h0"/><path d="M356.4 355.1h0"/><path d="M356.6 359.7h0"/><path d="M358.4 355.5h0"/><path d="M357.9 355.8h0"/><path d="M357.4 354.6h0"/><path d="M359.2 362.1h0"/><path d="M357.2 353.7h0"/><path d="M360.5 356.3h0"/><path d="M356.9 354.0h0"/></g><g stroke="rgba(31,114,196,0.3)" stroke-width="2.10" stroke-linecap="round"><path d="M363.7 357.1h0"/><path d="M366.0 355.6h0"/><path d="M367.1 355.6h0"/><path d="M365.1 360.2h0"/><path d="M365.5 356.2h0"/><path d="M367.7 350.2h0"/><path d="M364.6 357.1h0"/><path d="M364.8 353.0h0"/><path d="M363.1 357.5h0"/><path d="M367.8 355.3h0"/><path d="M366.7 364.6h0"/><path d="M363.0 364.3h0"/><path d="M368.0 356.4h0"/><path d="M366.0 356.0h0"/><path d="M363.2 359.7h0"/><path d="M365.3 354.1h0"/><path d="M362.6 353.8h0"/><path d="M364.6 356.9h0"/><path d="M367.5 352.9h0"/><path d="M363.7 356.1h0"/><path d="M363.8 352.4h0"/><path d="M363.3 356.8h0"/><path d="M366.9 357.9h0"/><path d="M367.6 357.0h0"/><path d="M363.0 362.6h0"/><path d="M366.2 358.0h0"/><path d="M367.7 353.9h0"/><path d="M363.2 351.7h0"/><path d="M366.0 357.6h0"/><path d="M363.4 361.8h0"/><path d="M366.7 361.6h0"/><path d="M363.1 360.0h0"/><path d="M366.8 357.8h0"/><path d="M364.9 355.0h0"/><path d="M362.8 356.6h0"/><path d="M362.9 357.1h0"/><path d="M365.1 359.2h0"/><path d="M363.1 360.8h0"/><path d="M363.2 363.1h0"/><path d="M367.7 357.0h0"/><path d="M363.3 354.4h0"/><path d="M364.1 357.1h0"/><path d="M366.3 363.4h0"/><path d="M362.9 357.5h0"/><path d="M364.6 361.6h0"/><path d="M364.9 354.7h0"/><path d="M362.6 356.2h0"/><path d="M366.3 361.2h0"/><path d="M362.6 359.6h0"/><path d="M367.7 356.4h0"/><path d="M363.0 357.4h0"/><path d="M367.2 355.2h0"/><path d="M362.7 363.0h0"/><path d="M363.3 354.1h0"/><path d="M362.6 356.9h0"/><path d="M367.0 354.5h0"/><path d="M366.6 357.6h0"/><path d="M365.4 361.5h0"/><path d="M365.6 349.3h0"/><path d="M367.9 357.9h0"/><path d="M367.9 358.5h0"/><path d="M367.0 360.2h0"/><path d="M364.0 357.8h0"/><path d="M372.9 356.1h0"/><path d="M372.9 358.5h0"/><path d="M372.7 357.0h0"/><path d="M371.9 355.3h0"/><path d="M370.3 358.0h0"/><path d="M372.4 364.1h0"/><path d="M371.7 356.5h0"/><path d="M370.9 356.0h0"/><path d="M372.6 358.8h0"/><path d="M373.1 363.2h0"/><path d="M372.1 356.6h0"/><path d="M370.8 358.3h0"/><path d="M370.3 359.2h0"/><path d="M372.5 358.0h0"/><path d="M370.9 354.3h0"/><path d="M371.7 354.0h0"/><path d="M372.3 354.9h0"/><path d="M372.0 359.0h0"/><path d="M370.6 355.1h0"/><path d="M373.0 357.4h0"/></g></g><line x1="219.6" y1="357.5" x2="376.9" y2="357.5" stroke="#222" stroke-width="0.95" stroke-dasharray="2.3,2.7"/><path d="M215.45,216.50H378.45V376.50H215.45ZM215.45,327.80H378.45" fill="none" stroke="#646464" stroke-width="1.00"/><path d="M211.4,218.9H215.4M211.4,237.1H215.4M211.4,255.3H215.4M211.4,273.5H215.4M211.4,291.7H215.4M211.4,309.9H215.4M211.4,334.5H215.4M211.4,342.2H215.4M211.4,349.9H215.4M211.4,357.5H215.4M211.4,365.2H215.4M211.4,372.9H215.4M221.3,376.5V380.5M221.3,327.8V331.8M263.0,376.5V380.5M263.0,327.8V331.8M304.7,376.5V380.5M304.7,327.8V331.8M346.4,376.5V380.5M346.4,327.8V331.8" stroke="#646464" stroke-width="1.00" fill="none"/><text transform="translate(207.4,218.9) rotate(-90)" font-size="5.6" text-anchor="middle" fill="#222">&#8722;8</text><text transform="translate(207.4,237.1) rotate(-90)" font-size="5.6" text-anchor="middle" fill="#222">&#8722;10</text><text transform="translate(207.4,255.3) rotate(-90)" font-size="5.6" text-anchor="middle" fill="#222">&#8722;12</text><text transform="translate(207.4,273.5) rotate(-90)" font-size="5.6" text-anchor="middle" fill="#222">&#8722;14</text><text transform="translate(207.4,291.7) rotate(-90)" font-size="5.6" text-anchor="middle" fill="#222">&#8722;16</text><text transform="translate(207.4,309.9) rotate(-90)" font-size="5.6" text-anchor="middle" fill="#222">&#8722;18</text><text transform="translate(207.4,342.2) rotate(-90)" font-size="5.6" text-anchor="middle" fill="#222">10</text><text transform="translate(207.4,357.5) rotate(-90)" font-size="5.6" text-anchor="middle" fill="#222">0</text><text transform="translate(207.4,372.9) rotate(-90)" font-size="5.6" text-anchor="middle" fill="#222">&#8722;10</text><text x="221.3" y="389.2" font-size="5.6" text-anchor="middle" fill="#222">0</text><text x="263.0" y="389.2" font-size="5.6" text-anchor="middle" fill="#222">2000</text><text x="304.7" y="389.2" font-size="5.6" text-anchor="middle" fill="#222">4000</text><text x="346.4" y="389.2" font-size="5.6" text-anchor="middle" fill="#222">6000</text><text transform="translate(196.6,272.1) rotate(-90)" font-size="8.5" text-anchor="middle" fill="#000" class="s">RV [m/s]</text><text transform="translate(196.6,352.1) rotate(-90)" font-size="8.5" text-anchor="middle" fill="#000" class="s">O-C [m/s]</text><text x="374.6" y="338.3" font-size="8.5" text-anchor="end" fill="#000" class="s">RMS=2.4 m/s</text>
<clipPath id="c12a"><rect x="405.4" y="216.5" width="163.0" height="111.3"/></clipPath><clipPath id="c12b"><rect x="405.4" y="327.8" width="163.0" height="48.7"/></clipPath><text x="487.0" y="213.0" font-size="8.6" font-weight="bold" text-anchor="middle" fill="#000">GJ 433 c</text><g clip-path="url(#c12a)"><g stroke="rgba(0,0,0,0.3)" stroke-width="2.10" stroke-linecap="round"><path d="M425.6 287.8h0"/><path d="M518.3 254.6h0"/><path d="M431.2 304.7h0"/><path d="M423.1 271.2h0"/><path d="M469.1 262.2h0"/><path d="M446.5 295.9h0"/><path d="M514.3 251.2h0"/><path d="M559.4 278.5h0"/><path d="M496.7 247.8h0"/><path d="M480.5 256.3h0"/><path d="M541.5 265.3h0"/><path d="M499.6 258.6h0"/><path d="M416.6 281.0h0"/><path d="M530.2 265.3h0"/><path d="M517.2 250.4h0"/><path d="M445.1 243.8h0"/><path d="M470.8 278.6h0"/><path d="M468.3 271.7h0"/><path d="M411.5 261.0h0"/><path d="M458.9 284.0h0"/><path d="M564.0 288.5h0"/><path d="M480.7 273.1h0"/><path d="M559.7 304.5h0"/><path d="M524.4 224.1h0"/><path d="M530.1 314.9h0"/><path d="M421.7 310.9h0"/><path d="M468.4 311.3h0"/><path d="M469.9 228.6h0"/><path d="M455.8 279.4h0"/><path d="M497.4 317.5h0"/><path d="M470.9 324.6h0"/><path d="M444.5 251.9h0"/><path d="M531.3 297.3h0"/><path d="M531.2 264.1h0"/><path d="M531.5 213.2h0"/><path d="M533.3 235.8h0"/><path d="M531.9 255.5h0"/><path d="M532.4 260.5h0"/><path d="M559.5 268.8h0"/><path d="M561.7 258.6h0"/><path d="M562.1 249.6h0"/><path d="M560.0 234.5h0"/><path d="M561.1 276.8h0"/><path d="M561.9 273.6h0"/><path d="M559.3 249.5h0"/><path d="M559.4 285.3h0"/><path d="M560.1 235.5h0"/><path d="M504.1 245.4h0"/><path d="M506.6 305.1h0"/><path d="M506.2 240.9h0"/><path d="M505.6 300.8h0"/><path d="M506.7 299.7h0"/><path d="M504.8 215.2h0"/><path d="M506.4 249.0h0"/><path d="M506.2 241.3h0"/><path d="M503.7 244.0h0"/><path d="M486.7 277.4h0"/><path d="M493.1 252.9h0"/><path d="M491.9 265.5h0"/><path d="M487.7 243.9h0"/><path d="M486.4 294.7h0"/><path d="M490.7 270.3h0"/><path d="M480.2 224.8h0"/><path d="M487.3 235.4h0"/><path d="M486.2 285.1h0"/><path d="M488.1 259.7h0"/></g><g stroke="rgba(44,160,44,0.3)" stroke-width="2.10" stroke-linecap="round"><path d="M428.4 288.6h0"/><path d="M528.6 252.5h0"/><path d="M540.7 262.6h0"/><path d="M504.4 257.2h0"/><path d="M522.8 216.1h0"/><path d="M467.7 263.6h0"/><path d="M477.1 282.3h0"/><path d="M539.8 236.5h0"/><path d="M556.5 284.4h0"/><path d="M427.4 263.2h0"/><path d="M498.5 250.6h0"/><path d="M483.0 301.6h0"/><path d="M478.7 271.5h0"/><path d="M510.8 224.1h0"/><path d="M444.8 288.8h0"/><path d="M422.1 268.8h0"/><path d="M491.9 278.3h0"/><path d="M455.8 312.3h0"/><path d="M524.3 213.7h0"/><path d="M538.4 246.8h0"/><path d="M485.5 253.3h0"/><path d="M564.8 250.3h0"/><path d="M429.4 294.5h0"/><path d="M473.3 297.7h0"/><path d="M538.9 270.2h0"/><path d="M561.7 276.9h0"/><path d="M543.9 276.2h0"/><path d="M429.1 281.8h0"/><path d="M530.7 231.6h0"/><path d="M480.9 285.4h0"/><path d="M526.6 239.6h0"/><path d="M452.9 281.6h0"/><path d="M503.2 273.6h0"/><path d="M524.0 279.1h0"/><path d="M531.4 289.4h0"/><path d="M523.2 250.8h0"/><path d="M536.9 244.6h0"/><path d="M450.0 323.2h0"/><path d="M538.5 230.4h0"/><path d="M545.6 263.0h0"/><path d="M430.4 294.0h0"/><path d="M463.6 219.7h0"/><path d="M420.7 300.4h0"/><path d="M545.0 276.6h0"/><path d="M528.0 310.5h0"/><path d="M543.2 292.0h0"/><path d="M495.9 319.2h0"/><path d="M472.9 292.5h0"/><path d="M564.7 261.7h0"/><path d="M428.3 258.8h0"/><path d="M464.1 288.4h0"/><path d="M472.2 283.5h0"/><path d="M469.2 277.3h0"/><path d="M472.0 272.2h0"/><path d="M469.3 268.2h0"/><path d="M471.0 284.8h0"/><path d="M470.8 268.8h0"/><path d="M471.9 274.3h0"/><path d="M470.6 262.4h0"/><path d="M469.0 242.2h0"/><path d="M472.9 265.8h0"/><path d="M471.0 294.7h0"/><path d="M469.6 283.0h0"/><path d="M469.1 285.3h0"/><path d="M469.6 276.3h0"/><path d="M470.0 291.9h0"/><path d="M470.0 271.6h0"/><path d="M469.4 258.7h0"/><path d="M471.2 292.0h0"/><path d="M470.0 295.6h0"/><path d="M469.1 270.4h0"/><path d="M470.1 281.3h0"/><path d="M470.4 230.6h0"/><path d="M471.9 265.2h0"/><path d="M469.3 273.7h0"/><path d="M470.0 302.0h0"/><path d="M506.7 256.9h0"/><path d="M504.1 280.9h0"/><path d="M506.6 228.6h0"/><path d="M505.9 272.9h0"/><path d="M503.9 232.4h0"/><path d="M506.8 254.3h0"/><path d="M506.6 247.9h0"/><path d="M505.7 235.4h0"/><path d="M504.9 253.8h0"/><path d="M506.1 266.6h0"/><path d="M505.6 280.7h0"/><path d="M493.6 252.1h0"/><path d="M490.2 247.2h0"/><path d="M493.3 264.5h0"/><path d="M485.2 258.1h0"/><path d="M478.9 244.7h0"/><path d="M478.5 279.1h0"/><path d="M483.4 250.1h0"/><path d="M492.0 273.0h0"/><path d="M486.9 274.6h0"/><path d="M491.7 252.2h0"/><path d="M490.9 256.2h0"/><path d="M481.8 270.7h0"/><path d="M481.3 266.8h0"/><path d="M491.8 250.3h0"/><path d="M479.5 273.2h0"/></g><g stroke="rgba(230,0,0,0.28)" stroke-width="2.10" stroke-linecap="round"><path d="M445.9 299.4h0"/><path d="M505.3 241.4h0"/><path d="M523.0 227.1h0"/><path d="M545.1 248.2h0"/><path d="M472.6 284.6h0"/><path d="M414.4 263.9h0"/><path d="M563.1 236.9h0"/><path d="M495.0 266.4h0"/><path d="M468.2 318.7h0"/><path d="M492.6 258.4h0"/><path d="M462.0 295.1h0"/><path d="M519.6 287.3h0"/><path d="M522.0 242.6h0"/><path d="M522.9 264.0h0"/><path d="M523.0 228.4h0"/><path d="M520.5 242.8h0"/><path d="M520.5 237.5h0"/><path d="M523.7 242.6h0"/><path d="M518.1 223.3h0"/><path d="M523.6 245.4h0"/><path d="M518.1 237.8h0"/><path d="M518.4 265.9h0"/><path d="M519.0 264.5h0"/><path d="M523.5 253.9h0"/><path d="M522.5 238.5h0"/><path d="M520.3 256.4h0"/><path d="M523.7 224.5h0"/><path d="M524.0 242.2h0"/><path d="M520.9 254.0h0"/><path d="M517.9 227.0h0"/><path d="M522.3 254.2h0"/><path d="M517.4 247.0h0"/><path d="M519.6 252.7h0"/><path d="M522.6 279.4h0"/><path d="M523.2 268.5h0"/><path d="M519.7 259.5h0"/><path d="M517.1 264.8h0"/><path d="M522.4 236.3h0"/><path d="M517.9 266.4h0"/><path d="M522.9 233.4h0"/><path d="M523.7 258.9h0"/><path d="M523.9 232.1h0"/><path d="M522.8 279.0h0"/><path d="M518.8 259.1h0"/><path d="M517.5 271.0h0"/><path d="M518.0 256.0h0"/><path d="M523.3 240.1h0"/><path d="M519.5 276.0h0"/><path d="M519.1 249.9h0"/><path d="M523.2 264.3h0"/><path d="M520.6 244.7h0"/><path d="M532.4 269.4h0"/><path d="M533.9 282.6h0"/><path d="M532.3 244.0h0"/><path d="M534.8 223.2h0"/><path d="M532.3 243.2h0"/><path d="M531.6 263.4h0"/><path d="M532.2 248.0h0"/><path d="M533.4 277.2h0"/><path d="M533.7 241.6h0"/><path d="M533.0 212.7h0"/><path d="M533.4 266.2h0"/><path d="M534.9 264.8h0"/><path d="M533.1 211.0h0"/><path d="M534.9 239.0h0"/><path d="M532.3 271.5h0"/><path d="M531.8 285.8h0"/><path d="M532.1 240.9h0"/><path d="M531.9 224.0h0"/><path d="M533.2 264.4h0"/><path d="M560.6 237.5h0"/><path d="M562.9 254.5h0"/><path d="M560.1 280.1h0"/><path d="M562.7 266.2h0"/><path d="M559.7 262.8h0"/><path d="M560.2 235.3h0"/><path d="M560.7 259.8h0"/><path d="M559.7 259.5h0"/><path d="M560.8 251.5h0"/><path d="M562.9 272.0h0"/><path d="M561.0 250.5h0"/><path d="M562.1 274.2h0"/><path d="M562.0 255.2h0"/><path d="M561.6 259.8h0"/><path d="M562.7 293.1h0"/><path d="M560.4 258.6h0"/><path d="M559.5 274.5h0"/><path d="M561.4 281.1h0"/><path d="M560.0 255.1h0"/><path d="M560.9 253.2h0"/><path d="M562.8 244.1h0"/></g><g stroke="rgba(153,50,168,0.3)" stroke-width="2.10" stroke-linecap="round"><path d="M529.2 260.3h0"/><path d="M441.4 293.2h0"/><path d="M556.7 229.7h0"/><path d="M472.7 279.8h0"/><path d="M510.2 218.4h0"/><path d="M413.6 296.7h0"/><path d="M490.4 247.3h0"/><path d="M512.7 253.4h0"/><path d="M489.1 263.8h0"/><path d="M444.4 229.1h0"/><path d="M554.3 303.7h0"/><path d="M430.6 240.4h0"/><path d="M537.2 270.7h0"/><path d="M454.3 256.5h0"/><path d="M479.9 238.7h0"/><path d="M415.1 245.9h0"/></g><path d="M411.50,262.40C413.38,263.40 418.95,266.12 422.80,268.40C426.65,270.68 431.05,274.00 434.60,276.10C438.15,278.20 441.13,279.67 444.10,281.00C447.07,282.33 450.43,283.50 452.40,284.10C454.37,284.70 454.33,284.65 455.90,284.60C457.47,284.55 459.43,284.63 461.80,283.80C464.17,282.97 467.33,281.88 470.10,279.60C472.87,277.32 475.43,273.25 478.40,270.10C481.37,266.95 485.13,263.17 487.90,260.70C490.67,258.23 492.90,256.65 495.00,255.30C497.10,253.95 497.83,253.48 500.50,252.60C503.17,251.72 507.48,250.55 511.00,250.00C514.52,249.45 518.08,249.22 521.60,249.30C525.12,249.38 528.60,249.82 532.10,250.50C535.60,251.18 539.08,252.25 542.60,253.40C546.12,254.55 549.68,255.95 553.20,257.40C556.72,258.85 561.95,261.32 563.70,262.10" fill="none" stroke="#ff1a1a" stroke-width="1.15" stroke-opacity="0.85"/><path d="M419.8,248.0V264.7M417.1,248.0H422.5M417.1,264.7H422.5" stroke="rgba(0,0,0,0.8)" stroke-width="1" fill="none"/><path d="M420.3,271.6V280.6M417.6,271.6H423.0M417.6,280.6H423.0" stroke="rgba(153,50,168,0.6)" stroke-width="1" fill="none"/><path d="M427.5,270.3V274.2M424.8,270.3H430.2M424.8,274.2H430.2" stroke="rgba(44,160,44,0.6)" stroke-width="1" fill="none"/><path d="M430.8,282.4V294.7M428.1,282.4H433.5M428.1,294.7H433.5" stroke="rgba(0,0,0,0.8)" stroke-width="1" fill="none"/><path d="M433.9,275.4V284.4M431.2,275.4H436.6M431.2,284.4H436.6" stroke="rgba(153,50,168,0.6)" stroke-width="1" fill="none"/><path d="M434.4,258.8V267.0M431.7,258.8H437.1M431.7,267.0H437.1" stroke="rgba(44,160,44,0.6)" stroke-width="1" fill="none"/><path d="M446.2,272.9V279.8M443.5,272.9H448.9M443.5,279.8H448.9" stroke="rgba(44,160,44,0.6)" stroke-width="1" fill="none"/><path d="M447.2,294.2V328.0M444.5,294.2H449.9M444.5,328.0H449.9" stroke="rgba(0,0,0,0.8)" stroke-width="1" fill="none"/><path d="M449.8,279.3V287.0M447.1,279.3H452.5M447.1,287.0H452.5" stroke="rgba(153,50,168,0.6)" stroke-width="1" fill="none"/><path d="M453.1,279.8V283.9M450.4,279.8H455.8M450.4,283.9H455.8" stroke="rgba(44,160,44,0.6)" stroke-width="1" fill="none"/><path d="M459.5,276.7V284.4M456.8,276.7H462.2M456.8,284.4H462.2" stroke="rgba(44,160,44,0.6)" stroke-width="1" fill="none"/><path d="M463.9,265.9V274.2M461.2,265.9H466.6M461.2,274.2H466.6" stroke="rgba(153,50,168,0.6)" stroke-width="1" fill="none"/><path d="M464.7,283.9V308.8M462.0,283.9H467.4M462.0,308.8H467.4" stroke="rgba(0,0,0,0.8)" stroke-width="1" fill="none"/><path d="M467.8,303.1V318.5M465.1,303.1H470.5M465.1,318.5H470.5" stroke="rgba(230,0,0,0.5)" stroke-width="1" fill="none"/><path d="M471.1,276.2V282.4M468.4,276.2H473.8M468.4,282.4H473.8" stroke="rgba(44,160,44,0.6)" stroke-width="1" fill="none"/><path d="M480.6,283.1V292.1M477.9,283.1H483.3M477.9,292.1H483.3" stroke="rgba(44,160,44,0.6)" stroke-width="1" fill="none"/><path d="M481.4,247.2V271.6M478.7,247.2H484.1M478.7,271.6H484.1" stroke="rgba(0,0,0,0.8)" stroke-width="1" fill="none"/><path d="M483.9,271.6V279.8M481.2,271.6H486.6M481.2,279.8H486.6" stroke="rgba(230,0,0,0.5)" stroke-width="1" fill="none"/><path d="M482.6,256.2V263.9M479.9,256.2H485.3M479.9,263.9H485.3" stroke="rgba(44,160,44,0.6)" stroke-width="1" fill="none"/><path d="M488.5,254.9V269.0M485.8,254.9H491.2M485.8,269.0H491.2" stroke="rgba(0,225,235,0.85)" stroke-width="1" fill="none"/><path d="M491.6,230.0V261.3M488.9,230.0H494.3M488.9,261.3H494.3" stroke="rgba(0,0,0,0.8)" stroke-width="1" fill="none"/><path d="M491.6,239.5V249.8M488.9,239.5H494.3M488.9,249.8H494.3" stroke="rgba(44,160,44,0.6)" stroke-width="1" fill="none"/><path d="M493.7,265.2V272.9M491.0,265.2H496.4M491.0,272.9H496.4" stroke="rgba(230,0,0,0.5)" stroke-width="1" fill="none"/><path d="M503.2,231.8V245.9M500.5,231.8H505.9M500.5,245.9H505.9" stroke="rgba(230,0,0,0.5)" stroke-width="1" fill="none"/><path d="M505.0,252.3V258.8M502.3,252.3H507.7M502.3,258.8H507.7" stroke="rgba(44,160,44,0.6)" stroke-width="1" fill="none"/><path d="M510.1,234.4V251.6M507.4,234.4H512.8M507.4,251.6H512.8" stroke="rgba(0,0,0,0.8)" stroke-width="1" fill="none"/><path d="M510.4,245.9V252.3M507.7,245.9H513.1M507.7,252.3H513.1" stroke="rgba(230,0,0,0.5)" stroke-width="1" fill="none"/><path d="M520.6,257.5V280.6M517.9,257.5H523.3M517.9,280.6H523.3" stroke="rgba(0,0,0,0.8)" stroke-width="1" fill="none"/><path d="M519.8,244.6V249.8M517.1,244.6H522.5M517.1,249.8H522.5" stroke="rgba(230,0,0,0.5)" stroke-width="1" fill="none"/><path d="M532.7,257.5V263.9M530.0,257.5H535.4M530.0,263.9H535.4" stroke="rgba(230,0,0,0.5)" stroke-width="1" fill="none"/><path d="M539.1,250.5V275.4M536.4,250.5H541.8M536.4,275.4H541.8" stroke="rgba(0,0,0,0.8)" stroke-width="1" fill="none"/><path d="M538.3,260.0V275.4M535.6,260.0H541.0M535.6,275.4H541.0" stroke="rgba(230,0,0,0.5)" stroke-width="1" fill="none"/><path d="M549.4,216.4V233.1M546.7,216.4H552.1M546.7,233.1H552.1" stroke="rgba(0,0,0,0.8)" stroke-width="1" fill="none"/><path d="M554.0,259.5V274.2M551.3,259.5H556.7M551.3,274.2H556.7" stroke="rgba(153,50,168,0.6)" stroke-width="1" fill="none"/><path d="M561.4,257.5V261.3M558.7,257.5H564.1M558.7,261.3H564.1" stroke="rgba(230,0,0,0.5)" stroke-width="1" fill="none"/><circle cx="419.8" cy="256.2" r="1.2" fill="#000000"/><circle cx="420.3" cy="276.0" r="1.2" fill="#9932a8"/><circle cx="427.5" cy="272.1" r="1.2" fill="#2ca02c"/><circle cx="430.8" cy="288.3" r="1.2" fill="#000000"/><circle cx="433.9" cy="279.3" r="1.2" fill="#9932a8"/><circle cx="434.4" cy="263.1" r="1.2" fill="#2ca02c"/><circle cx="446.2" cy="276.2" r="1.2" fill="#2ca02c"/><circle cx="447.2" cy="323.7" r="1.2" fill="#000000"/><circle cx="449.8" cy="283.1" r="1.2" fill="#9932a8"/><circle cx="453.1" cy="281.8" r="1.2" fill="#2ca02c"/><circle cx="459.5" cy="280.6" r="1.2" fill="#2ca02c"/><circle cx="463.9" cy="270.3" r="1.2" fill="#9932a8"/><circle cx="464.7" cy="296.0" r="1.2" fill="#000000"/><circle cx="467.8" cy="310.8" r="1.2" fill="#e60000"/><circle cx="471.1" cy="279.8" r="1.2" fill="#2ca02c"/><circle cx="480.6" cy="287.5" r="1.2" fill="#2ca02c"/><circle cx="481.4" cy="259.5" r="1.2" fill="#000000"/><circle cx="483.9" cy="275.7" r="1.2" fill="#e60000"/><circle cx="482.6" cy="260.0" r="1.2" fill="#2ca02c"/><circle cx="488.5" cy="262.1" r="1.2" fill="#00e8f0"/><circle cx="491.6" cy="244.6" r="1.2" fill="#000000"/><circle cx="491.6" cy="244.6" r="1.2" fill="#2ca02c"/><circle cx="493.7" cy="269.8" r="1.2" fill="#e60000"/><circle cx="503.2" cy="238.7" r="1.2" fill="#e60000"/><circle cx="505.0" cy="255.7" r="1.2" fill="#2ca02c"/><circle cx="510.1" cy="242.8" r="1.2" fill="#000000"/><circle cx="510.4" cy="249.0" r="1.2" fill="#e60000"/><circle cx="520.6" cy="269.5" r="1.2" fill="#000000"/><circle cx="519.8" cy="247.2" r="1.2" fill="#e60000"/><circle cx="532.7" cy="261.3" r="1.2" fill="#e60000"/><circle cx="539.1" cy="263.1" r="1.2" fill="#000000"/><circle cx="538.3" cy="268.5" r="1.2" fill="#e60000"/><circle cx="549.4" cy="220.8" r="1.2" fill="#000000"/><circle cx="554.0" cy="267.0" r="1.2" fill="#9932a8"/><circle cx="561.4" cy="259.3" r="1.2" fill="#e60000"/></g><g clip-path="url(#c12b)"><g stroke="rgba(0,0,0,0.3)" stroke-width="2.10" stroke-linecap="round"><path d="M411.9 369.7h0"/><path d="M417.4 362.2h0"/><path d="M412.1 360.5h0"/><path d="M415.2 356.5h0"/><path d="M412.1 368.0h0"/><path d="M415.9 355.2h0"/><path d="M412.1 361.4h0"/><path d="M417.6 359.0h0"/><path d="M413.1 358.6h0"/><path d="M417.6 362.7h0"/><path d="M413.9 363.8h0"/><path d="M415.7 351.5h0"/><path d="M425.1 361.1h0"/><path d="M430.0 354.3h0"/><path d="M428.9 359.8h0"/><path d="M430.3 356.8h0"/><path d="M430.9 361.1h0"/><path d="M434.2 356.2h0"/><path d="M432.5 358.6h0"/><path d="M431.5 361.0h0"/><path d="M430.2 368.4h0"/><path d="M433.8 358.2h0"/><path d="M434.7 353.0h0"/><path d="M434.6 357.8h0"/><path d="M429.3 362.5h0"/><path d="M433.3 353.7h0"/><path d="M429.9 356.6h0"/><path d="M433.3 365.5h0"/><path d="M434.8 367.9h0"/><path d="M434.0 362.1h0"/><path d="M433.8 359.1h0"/><path d="M430.2 363.8h0"/><path d="M430.1 355.0h0"/><path d="M427.9 368.1h0"/><path d="M423.2 365.4h0"/><path d="M424.3 362.1h0"/><path d="M428.8 358.3h0"/><path d="M426.6 359.4h0"/><path d="M424.3 368.9h0"/><path d="M424.2 355.1h0"/><path d="M426.4 361.0h0"/><path d="M431.0 362.7h0"/><path d="M424.5 364.5h0"/><path d="M426.2 364.5h0"/><path d="M423.8 361.2h0"/><path d="M425.6 358.7h0"/><path d="M430.8 355.6h0"/><path d="M423.1 356.3h0"/><path d="M425.9 358.1h0"/><path d="M430.8 358.6h0"/><path d="M433.0 358.4h0"/><path d="M446.6 365.0h0"/><path d="M443.6 359.6h0"/><path d="M440.2 360.3h0"/><path d="M450.2 353.0h0"/><path d="M450.4 360.9h0"/><path d="M448.5 356.5h0"/><path d="M450.2 355.1h0"/><path d="M445.2 359.5h0"/><path d="M439.7 354.6h0"/><path d="M441.0 363.5h0"/><path d="M442.1 361.0h0"/><path d="M441.0 361.5h0"/><path d="M446.5 361.0h0"/><path d="M441.2 365.2h0"/><path d="M440.9 360.1h0"/><path d="M448.3 364.0h0"/><path d="M443.1 357.2h0"/><path d="M447.5 364.9h0"/><path d="M448.2 353.3h0"/><path d="M445.9 357.7h0"/><path d="M440.5 361.0h0"/><path d="M446.4 349.9h0"/><path d="M444.4 353.4h0"/><path d="M456.8 366.4h0"/><path d="M459.7 354.0h0"/><path d="M455.0 360.2h0"/><path d="M459.1 359.2h0"/><path d="M458.8 358.8h0"/><path d="M456.5 354.6h0"/><path d="M454.6 361.8h0"/><path d="M455.8 366.2h0"/><path d="M454.4 360.5h0"/><path d="M455.8 361.2h0"/><path d="M460.0 364.4h0"/><path d="M457.9 359.5h0"/><path d="M472.3 364.6h0"/><path d="M471.7 369.0h0"/><path d="M472.0 360.7h0"/><path d="M482.8 356.4h0"/><path d="M483.3 365.3h0"/><path d="M481.5 351.7h0"/><path d="M479.2 365.2h0"/><path d="M481.3 363.1h0"/><path d="M483.0 362.8h0"/><path d="M480.2 359.7h0"/><path d="M478.0 354.5h0"/><path d="M481.1 367.5h0"/><path d="M480.0 354.4h0"/><path d="M483.3 360.0h0"/><path d="M482.2 363.3h0"/><path d="M479.0 363.8h0"/><path d="M481.0 361.2h0"/><path d="M478.8 352.2h0"/><path d="M484.0 355.0h0"/><path d="M479.0 352.5h0"/><path d="M482.6 364.3h0"/><path d="M478.6 352.1h0"/><path d="M492.6 366.5h0"/><path d="M493.0 357.3h0"/><path d="M492.6 355.3h0"/><path d="M491.7 362.4h0"/><path d="M490.1 352.6h0"/><path d="M492.1 353.1h0"/><path d="M493.7 355.8h0"/><path d="M490.8 359.9h0"/><path d="M505.1 354.3h0"/><path d="M505.5 357.7h0"/><path d="M502.6 358.9h0"/><path d="M501.7 355.4h0"/><path d="M504.2 359.8h0"/><path d="M501.8 364.5h0"/><path d="M506.1 360.8h0"/><path d="M519.5 357.4h0"/><path d="M520.9 361.7h0"/><path d="M515.8 363.2h0"/><path d="M517.2 362.0h0"/><path d="M516.6 367.3h0"/><path d="M521.4 366.2h0"/><path d="M516.6 355.7h0"/><path d="M520.8 362.9h0"/><path d="M520.0 361.1h0"/><path d="M521.6 362.2h0"/><path d="M516.2 360.2h0"/><path d="M520.3 361.2h0"/><path d="M521.5 362.8h0"/><path d="M518.3 357.3h0"/><path d="M516.9 358.1h0"/><path d="M519.5 360.8h0"/><path d="M518.7 365.7h0"/><path d="M517.6 366.2h0"/><path d="M516.7 363.1h0"/><path d="M532.5 353.4h0"/><path d="M531.0 358.4h0"/><path d="M533.5 359.7h0"/><path d="M531.9 366.6h0"/><path d="M532.4 364.6h0"/><path d="M533.1 363.5h0"/><path d="M551.8 364.6h0"/><path d="M550.9 366.8h0"/><path d="M551.5 364.1h0"/><path d="M551.7 368.3h0"/><path d="M550.1 361.6h0"/><path d="M548.6 359.9h0"/><path d="M550.8 362.9h0"/><path d="M551.7 359.3h0"/><path d="M549.1 358.3h0"/><path d="M562.2 360.6h0"/><path d="M562.3 363.5h0"/><path d="M561.3 363.9h0"/><path d="M560.3 363.3h0"/><path d="M558.9 363.2h0"/><path d="M558.7 365.0h0"/><path d="M561.2 366.1h0"/><path d="M559.0 359.8h0"/><path d="M562.2 364.2h0"/><path d="M559.3 352.5h0"/><path d="M561.2 361.3h0"/><path d="M560.1 363.3h0"/><path d="M561.4 359.0h0"/><path d="M535.5 351.6h0"/><path d="M494.1 358.8h0"/><path d="M437.3 370.4h0"/><path d="M546.2 367.2h0"/><path d="M500.3 366.5h0"/><path d="M412.1 366.4h0"/><path d="M419.3 362.0h0"/><path d="M434.3 357.3h0"/><path d="M539.5 366.7h0"/><path d="M499.8 357.6h0"/></g><g stroke="rgba(44,160,44,0.3)" stroke-width="2.10" stroke-linecap="round"><path d="M426.6 356.4h0"/><path d="M428.2 360.0h0"/><path d="M427.7 357.5h0"/><path d="M432.4 363.2h0"/><path d="M432.7 358.9h0"/><path d="M424.5 364.3h0"/><path d="M426.7 357.8h0"/><path d="M429.5 358.0h0"/><path d="M431.8 361.0h0"/><path d="M424.4 368.8h0"/><path d="M435.2 355.7h0"/><path d="M425.8 361.4h0"/><path d="M423.3 360.5h0"/><path d="M430.6 357.3h0"/><path d="M423.4 358.4h0"/><path d="M428.2 355.1h0"/><path d="M426.6 361.0h0"/><path d="M427.2 361.9h0"/><path d="M431.4 365.3h0"/><path d="M434.8 362.1h0"/><path d="M428.7 357.8h0"/><path d="M432.7 357.2h0"/><path d="M427.1 361.9h0"/><path d="M422.9 365.5h0"/><path d="M429.8 365.4h0"/><path d="M425.8 355.2h0"/><path d="M429.6 365.4h0"/><path d="M422.8 363.9h0"/><path d="M428.0 353.4h0"/><path d="M432.8 368.8h0"/><path d="M433.4 360.2h0"/><path d="M423.9 361.4h0"/><path d="M423.7 368.4h0"/><path d="M443.4 356.5h0"/><path d="M448.6 357.8h0"/><path d="M441.3 352.6h0"/><path d="M449.5 363.5h0"/><path d="M441.9 368.9h0"/><path d="M442.9 365.3h0"/><path d="M447.7 355.7h0"/><path d="M459.7 356.0h0"/><path d="M453.9 360.6h0"/><path d="M460.9 356.9h0"/><path d="M461.0 364.3h0"/><path d="M455.5 361.2h0"/><path d="M457.0 354.9h0"/><path d="M453.9 365.9h0"/><path d="M460.3 361.2h0"/><path d="M458.8 357.8h0"/><path d="M460.7 355.7h0"/><path d="M457.9 360.3h0"/><path d="M459.8 355.0h0"/><path d="M459.8 355.8h0"/><path d="M457.3 349.3h0"/><path d="M458.0 364.0h0"/><path d="M459.3 369.3h0"/><path d="M455.3 362.1h0"/><path d="M461.3 361.3h0"/><path d="M454.4 360.6h0"/><path d="M460.4 361.8h0"/><path d="M455.4 363.0h0"/><path d="M456.5 361.0h0"/><path d="M460.8 355.8h0"/><path d="M471.2 361.3h0"/><path d="M470.4 359.8h0"/><path d="M470.9 361.4h0"/><path d="M470.4 358.1h0"/><path d="M469.2 363.2h0"/><path d="M469.5 359.0h0"/><path d="M471.3 356.6h0"/><path d="M471.0 358.9h0"/><path d="M471.0 363.1h0"/><path d="M470.0 360.3h0"/><path d="M471.6 368.8h0"/><path d="M471.5 361.9h0"/><path d="M470.1 359.8h0"/><path d="M472.2 371.8h0"/><path d="M472.1 365.2h0"/><path d="M471.4 359.6h0"/><path d="M471.1 358.1h0"/><path d="M470.5 353.9h0"/><path d="M471.1 363.1h0"/><path d="M469.8 358.4h0"/><path d="M471.0 347.7h0"/><path d="M472.0 362.3h0"/><path d="M469.4 361.7h0"/><path d="M472.3 360.7h0"/><path d="M470.8 356.8h0"/><path d="M470.2 358.7h0"/><path d="M472.0 363.9h0"/><path d="M481.2 362.0h0"/><path d="M482.9 362.6h0"/><path d="M478.9 362.1h0"/><path d="M483.6 354.6h0"/><path d="M479.2 354.4h0"/><path d="M478.3 361.5h0"/><path d="M477.8 360.1h0"/><path d="M483.7 367.5h0"/><path d="M480.3 361.5h0"/><path d="M483.6 360.6h0"/><path d="M482.1 362.9h0"/><path d="M478.5 360.3h0"/><path d="M482.8 368.4h0"/><path d="M478.8 357.5h0"/><path d="M479.4 358.2h0"/><path d="M478.1 360.3h0"/><path d="M482.8 355.3h0"/><path d="M480.8 355.4h0"/><path d="M481.2 360.1h0"/><path d="M480.8 361.8h0"/><path d="M480.0 359.6h0"/><path d="M482.2 360.6h0"/><path d="M482.3 361.3h0"/><path d="M480.4 363.8h0"/><path d="M492.7 353.5h0"/><path d="M493.3 365.4h0"/><path d="M490.6 361.3h0"/><path d="M491.4 354.7h0"/><path d="M490.7 360.3h0"/><path d="M490.5 354.0h0"/><path d="M490.0 355.8h0"/><path d="M490.1 361.8h0"/><path d="M492.3 358.3h0"/><path d="M493.1 365.6h0"/><path d="M491.4 358.1h0"/><path d="M493.2 362.9h0"/><path d="M492.0 355.2h0"/><path d="M491.9 359.1h0"/><path d="M491.6 362.6h0"/><path d="M493.1 356.8h0"/><path d="M493.4 363.3h0"/><path d="M493.5 357.6h0"/><path d="M493.0 356.1h0"/><path d="M491.6 361.6h0"/><path d="M493.5 370.0h0"/><path d="M490.6 360.9h0"/><path d="M490.8 358.7h0"/><path d="M492.5 361.4h0"/><path d="M490.2 355.0h0"/><path d="M493.4 359.1h0"/><path d="M492.8 361.9h0"/><path d="M491.0 360.4h0"/><path d="M490.2 361.7h0"/><path d="M490.9 352.8h0"/><path d="M491.6 361.0h0"/><path d="M491.3 361.8h0"/><path d="M504.2 363.3h0"/><path d="M504.2 363.5h0"/><path d="M504.6 355.9h0"/><path d="M501.7 362.8h0"/><path d="M505.2 352.5h0"/><path d="M501.9 358.2h0"/><path d="M504.8 359.3h0"/><path d="M505.9 360.6h0"/><path d="M505.3 355.8h0"/><path d="M503.8 362.4h0"/><path d="M505.9 362.4h0"/><path d="M504.6 366.3h0"/><path d="M506.6 360.1h0"/><path d="M505.9 356.4h0"/><path d="M506.3 367.7h0"/><path d="M504.7 366.9h0"/><path d="M504.8 366.6h0"/><path d="M503.1 354.0h0"/><path d="M503.0 363.9h0"/><path d="M503.7 360.0h0"/><path d="M503.1 363.7h0"/><path d="M504.7 369.2h0"/><path d="M504.9 361.4h0"/><path d="M502.6 363.2h0"/><path d="M502.2 360.6h0"/><path d="M505.6 365.3h0"/><path d="M504.0 356.8h0"/><path d="M504.8 354.9h0"/><path d="M470.7 358.2h0"/><path d="M476.1 355.1h0"/><path d="M530.4 363.0h0"/><path d="M514.6 368.5h0"/><path d="M412.4 352.9h0"/><path d="M504.0 366.9h0"/></g><g stroke="rgba(230,0,0,0.28)" stroke-width="2.10" stroke-linecap="round"><path d="M520.4 356.4h0"/><path d="M516.5 355.0h0"/><path d="M515.1 360.5h0"/><path d="M517.6 363.5h0"/><path d="M516.6 361.0h0"/><path d="M518.3 359.9h0"/><path d="M516.2 366.9h0"/><path d="M515.7 361.5h0"/><path d="M521.1 362.0h0"/><path d="M521.1 359.3h0"/><path d="M520.5 355.6h0"/><path d="M520.0 361.3h0"/><path d="M518.7 356.4h0"/><path d="M520.0 360.2h0"/><path d="M518.8 354.0h0"/><path d="M521.5 358.5h0"/><path d="M521.0 355.3h0"/><path d="M515.6 360.3h0"/><path d="M516.2 356.8h0"/><path d="M517.0 358.8h0"/><path d="M521.2 357.2h0"/><path d="M516.1 361.5h0"/><path d="M518.0 352.5h0"/><path d="M515.5 359.9h0"/><path d="M519.3 359.8h0"/><path d="M521.0 362.2h0"/><path d="M520.1 362.4h0"/><path d="M521.1 358.0h0"/><path d="M518.0 366.5h0"/><path d="M520.5 358.8h0"/><path d="M521.3 359.0h0"/><path d="M515.9 366.7h0"/><path d="M520.9 357.1h0"/><path d="M515.5 359.6h0"/><path d="M521.6 359.0h0"/><path d="M517.6 357.8h0"/><path d="M516.5 354.2h0"/><path d="M522.0 364.0h0"/><path d="M521.8 359.2h0"/><path d="M520.5 358.9h0"/><path d="M520.0 358.5h0"/><path d="M532.1 363.2h0"/><path d="M532.2 357.5h0"/><path d="M533.9 362.3h0"/><path d="M533.6 354.3h0"/><path d="M533.1 356.1h0"/><path d="M533.9 358.7h0"/><path d="M533.6 363.3h0"/><path d="M533.8 363.0h0"/><path d="M533.5 358.0h0"/><path d="M532.1 362.4h0"/><path d="M533.7 368.0h0"/><path d="M533.1 357.9h0"/><path d="M533.8 361.5h0"/><path d="M531.5 359.3h0"/><path d="M533.1 355.0h0"/><path d="M533.2 365.7h0"/><path d="M531.9 361.1h0"/><path d="M532.6 360.7h0"/><path d="M531.9 356.5h0"/><path d="M560.8 357.0h0"/><path d="M558.2 360.6h0"/><path d="M560.7 356.3h0"/><path d="M559.3 369.5h0"/><path d="M559.5 360.6h0"/><path d="M559.5 361.5h0"/><path d="M559.5 359.2h0"/><path d="M560.2 353.8h0"/><path d="M561.4 359.1h0"/><path d="M561.5 363.7h0"/><path d="M560.6 356.6h0"/><path d="M559.9 359.2h0"/><path d="M558.2 367.2h0"/><path d="M561.9 362.1h0"/><path d="M562.0 368.6h0"/><path d="M558.9 354.4h0"/><path d="M558.9 362.7h0"/><path d="M560.3 356.9h0"/><path d="M562.3 366.3h0"/><path d="M562.2 369.4h0"/><path d="M561.4 358.8h0"/><path d="M561.7 365.2h0"/><path d="M559.5 362.4h0"/><path d="M559.6 366.2h0"/><path d="M558.8 353.0h0"/><path d="M558.6 362.9h0"/><path d="M560.5 361.7h0"/><path d="M560.9 361.7h0"/><path d="M561.1 350.5h0"/><path d="M558.8 356.5h0"/><path d="M560.5 363.2h0"/><path d="M559.8 359.3h0"/><path d="M425.9 363.8h0"/><path d="M559.7 373.5h0"/><path d="M452.6 372.5h0"/><path d="M506.6 357.4h0"/><path d="M516.0 361.8h0"/><path d="M470.9 351.1h0"/><path d="M515.7 357.5h0"/><path d="M522.5 359.7h0"/><path d="M551.0 338.6h0"/><path d="M539.6 362.7h0"/><path d="M490.4 351.8h0"/><path d="M489.5 351.6h0"/><path d="M511.3 358.3h0"/><path d="M490.7 349.5h0"/><path d="M509.2 364.2h0"/><path d="M426.7 360.6h0"/></g><g stroke="rgba(153,50,168,0.3)" stroke-width="2.10" stroke-linecap="round"><path d="M414.0 362.9h0"/><path d="M415.5 363.0h0"/><path d="M412.5 362.3h0"/><path d="M417.4 363.5h0"/><path d="M416.4 356.0h0"/><path d="M415.7 364.0h0"/><path d="M413.4 361.7h0"/><path d="M417.2 359.9h0"/><path d="M424.0 366.8h0"/><path d="M432.9 369.0h0"/><path d="M428.4 359.6h0"/><path d="M428.4 354.7h0"/><path d="M426.8 364.0h0"/><path d="M431.5 358.1h0"/><path d="M426.3 357.4h0"/><path d="M431.6 358.6h0"/><path d="M426.9 364.9h0"/><path d="M423.8 365.3h0"/><path d="M431.9 355.6h0"/><path d="M432.1 356.2h0"/><path d="M431.8 368.1h0"/><path d="M425.0 360.3h0"/><path d="M425.5 354.5h0"/><path d="M432.2 359.5h0"/><path d="M422.7 359.4h0"/><path d="M432.5 355.7h0"/><path d="M441.6 359.2h0"/><path d="M440.1 353.6h0"/><path d="M447.9 363.4h0"/><path d="M443.8 365.9h0"/><path d="M449.1 365.7h0"/><path d="M443.9 362.3h0"/><path d="M450.0 366.5h0"/><path d="M446.0 351.7h0"/><path d="M446.7 356.2h0"/><path d="M443.1 360.8h0"/><path d="M483.2 365.6h0"/><path d="M480.8 363.3h0"/><path d="M479.1 359.5h0"/><path d="M481.5 361.3h0"/><path d="M482.9 358.0h0"/><path d="M482.4 356.1h0"/><path d="M483.8 359.3h0"/><path d="M551.9 359.0h0"/><path d="M551.8 368.8h0"/><path d="M550.5 357.1h0"/><path d="M543.7 350.8h0"/><path d="M454.3 371.3h0"/><path d="M516.3 361.0h0"/><path d="M521.2 357.1h0"/><path d="M498.8 360.2h0"/><path d="M457.4 371.4h0"/><path d="M447.9 360.4h0"/><path d="M510.2 360.1h0"/></g></g><line x1="409.6" y1="360.6" x2="567.0" y2="360.6" stroke="#222" stroke-width="0.95" stroke-dasharray="2.3,2.7"/><path d="M405.45,216.50H568.45V376.50H405.45ZM405.45,327.80H568.45" fill="none" stroke="#646464" stroke-width="1.00"/><path d="M401.4,220.3H405.4M401.4,242.2H405.4M401.4,264.1H405.4M401.4,286.0H405.4M401.4,307.9H405.4M401.4,337.8H405.4M401.4,349.3H405.4M401.4,360.6H405.4M401.4,372.1H405.4M411.3,376.5V380.5M411.3,327.8V331.8M442.8,376.5V380.5M442.8,327.8V331.8M474.3,376.5V380.5M474.3,327.8V331.8M505.8,376.5V380.5M505.8,327.8V331.8M537.3,376.5V380.5M537.3,327.8V331.8" stroke="#646464" stroke-width="1.00" fill="none"/><text transform="translate(397.4,220.3) rotate(-90)" font-size="5.6" text-anchor="middle" fill="#222">4</text><text transform="translate(397.4,242.2) rotate(-90)" font-size="5.6" text-anchor="middle" fill="#222">2</text><text transform="translate(397.4,264.1) rotate(-90)" font-size="5.6" text-anchor="middle" fill="#222">0</text><text transform="translate(397.4,286.0) rotate(-90)" font-size="5.6" text-anchor="middle" fill="#222">&#8722;2</text><text transform="translate(397.4,307.9) rotate(-90)" font-size="5.6" text-anchor="middle" fill="#222">&#8722;4</text><text transform="translate(397.4,337.8) rotate(-90)" font-size="5.6" text-anchor="middle" fill="#222">10</text><text transform="translate(397.4,349.3) rotate(-90)" font-size="5.6" text-anchor="middle" fill="#222">5</text><text transform="translate(397.4,360.6) rotate(-90)" font-size="5.6" text-anchor="middle" fill="#222">0</text><text transform="translate(397.4,372.1) rotate(-90)" font-size="5.6" text-anchor="middle" fill="#222">&#8722;5</text><text x="411.3" y="389.2" font-size="5.6" text-anchor="middle" fill="#222">0</text><text x="442.8" y="389.2" font-size="5.6" text-anchor="middle" fill="#222">1000</text><text x="474.3" y="389.2" font-size="5.6" text-anchor="middle" fill="#222">2000</text><text x="505.8" y="389.2" font-size="5.6" text-anchor="middle" fill="#222">3000</text><text x="537.3" y="389.2" font-size="5.6" text-anchor="middle" fill="#222">4000</text><text transform="translate(386.6,272.1) rotate(-90)" font-size="8.5" text-anchor="middle" fill="#000" class="s">RV [m/s]</text><text transform="translate(386.6,352.1) rotate(-90)" font-size="8.5" text-anchor="middle" fill="#000" class="s">O-C [m/s]</text><text x="564.6" y="338.3" font-size="8.5" text-anchor="end" fill="#000" class="s">RMS=2.1 m/s</text>
<clipPath id="c13a"><rect x="595.5" y="216.5" width="163.0" height="111.3"/></clipPath><clipPath id="c13b"><rect x="595.5" y="327.8" width="163.0" height="48.7"/></clipPath><text x="677.0" y="213.0" font-size="8.6" font-weight="bold" text-anchor="middle" fill="#000">GJ 739 c</text><g clip-path="url(#c13a)"><g stroke="rgba(44,160,44,0.3)" stroke-width="2.10" stroke-linecap="round"><path d="M601.0 247.3h0"/><path d="M601.0 254.4h0"/><path d="M608.4 235.9h0"/><path d="M608.4 245.1h0"/><path d="M601.5 311.4h0"/><path d="M632.1 230.0h0"/><path d="M633.8 242.3h0"/><path d="M639.2 233.7h0"/><path d="M642.5 232.2h0"/><path d="M639.2 238.7h0"/><path d="M642.5 241.9h0"/><path d="M646.8 243.6h0"/><path d="M642.5 246.6h0"/><path d="M646.8 265.6h0"/><path d="M646.8 282.5h0"/><path d="M656.5 290.4h0"/><path d="M656.5 258.1h0"/><path d="M657.6 246.2h0"/><path d="M659.3 243.0h0"/><path d="M660.8 248.4h0"/><path d="M661.9 253.8h0"/><path d="M673.1 237.1h0"/><path d="M752.5 291.1h0"/></g><g stroke="rgba(230,0,0,0.28)" stroke-width="2.10" stroke-linecap="round"><path d="M603.2 274.7h0"/><path d="M663.6 246.6h0"/><path d="M666.2 250.5h0"/><path d="M668.8 266.3h0"/><path d="M671.0 267.4h0"/><path d="M679.2 281.8h0"/><path d="M694.7 296.9h0"/><path d="M697.5 296.3h0"/><path d="M696.9 310.9h0"/><path d="M700.3 315.7h0"/></g><path d="M601.20,269.80C602.03,268.12 604.43,262.97 606.20,259.70C607.97,256.43 609.93,253.08 611.80,250.20C613.67,247.32 615.53,244.82 617.40,242.40C619.27,239.98 621.13,237.65 623.00,235.70C624.87,233.75 626.75,232.10 628.60,230.70C630.45,229.30 632.62,228.05 634.10,227.30C635.58,226.55 636.18,226.30 637.50,226.20C638.82,226.10 640.32,226.15 642.00,226.70C643.68,227.25 645.73,228.28 647.60,229.50C649.47,230.72 651.33,232.13 653.20,234.00C655.07,235.87 656.93,238.37 658.80,240.70C660.67,243.03 662.53,245.38 664.40,248.00C666.27,250.62 668.23,253.35 670.00,256.40C671.77,259.45 673.23,262.90 675.00,266.30C676.77,269.70 678.73,273.47 680.60,276.80C682.47,280.13 684.33,283.13 686.20,286.30C688.07,289.47 689.93,292.73 691.80,295.80C693.67,298.87 695.53,301.90 697.40,304.70C699.27,307.50 701.13,310.27 703.00,312.60C704.87,314.93 706.75,317.03 708.60,318.70C710.45,320.37 712.52,321.75 714.10,322.60C715.68,323.45 716.78,323.70 718.10,323.80C719.42,323.90 720.42,323.95 722.00,323.20C723.58,322.45 725.73,321.07 727.60,319.30C729.47,317.53 731.33,315.22 733.20,312.60C735.07,309.98 736.93,306.97 738.80,303.60C740.67,300.23 742.55,296.32 744.40,292.40C746.25,288.48 748.20,283.87 749.90,280.10C751.60,276.33 753.82,271.52 754.60,269.80" fill="none" stroke="#ff1a1a" stroke-width="1.15" stroke-opacity="0.85"/><path d="M606.2,251.2V258.2M603.5,251.2H609.0M603.5,258.2H609.0" stroke="rgba(44,160,44,0.6)" stroke-width="1" fill="none"/><path d="M638.0,224.2V227.5M635.3,224.2H640.7M635.3,227.5H640.7" stroke="rgba(44,160,44,0.6)" stroke-width="1" fill="none"/><path d="M659.5,215.0V232.5M656.8,215.0H662.2M656.8,232.5H662.2" stroke="rgba(230,0,0,0.5)" stroke-width="1" fill="none"/><path d="M658.8,240.0V245.0M656.0,240.0H661.5M656.0,245.0H661.5" stroke="rgba(44,160,44,0.6)" stroke-width="1" fill="none"/><path d="M672.5,245.0V252.5M669.8,245.0H675.2M669.8,252.5H675.2" stroke="rgba(44,160,44,0.6)" stroke-width="1" fill="none"/><path d="M667.0,252.0V259.5M664.3,252.0H669.7M664.3,259.5H669.7" stroke="rgba(230,0,0,0.5)" stroke-width="1" fill="none"/><path d="M677.5,268.8V277.5M674.8,268.8H680.2M674.8,277.5H680.2" stroke="rgba(230,0,0,0.5)" stroke-width="1" fill="none"/><path d="M683.0,266.2V295.0M680.3,266.2H685.7M680.3,295.0H685.7" stroke="rgba(230,0,0,0.5)" stroke-width="1" fill="none"/><path d="M683.0,292.5V304.5M680.3,292.5H685.7M680.3,304.5H685.7" stroke="rgba(44,160,44,0.6)" stroke-width="1" fill="none"/><path d="M692.5,256.2V276.2M689.8,256.2H695.2M689.8,276.2H695.2" stroke="rgba(44,160,44,0.6)" stroke-width="1" fill="none"/><path d="M698.0,300.5V308.8M695.3,300.5H700.7M695.3,308.8H700.7" stroke="rgba(230,0,0,0.5)" stroke-width="1" fill="none"/><path d="M750.0,260.8V272.0M747.3,260.8H752.7M747.3,272.0H752.7" stroke="rgba(44,160,44,0.6)" stroke-width="1" fill="none"/><circle cx="606.2" cy="255.0" r="1.2" fill="#2ca02c"/><circle cx="638.0" cy="225.8" r="1.2" fill="#2ca02c"/><circle cx="659.5" cy="220.5" r="1.2" fill="#e60000"/><circle cx="658.8" cy="242.5" r="1.2" fill="#2ca02c"/><circle cx="672.5" cy="248.8" r="1.2" fill="#2ca02c"/><circle cx="667.0" cy="255.8" r="1.2" fill="#e60000"/><circle cx="677.5" cy="273.0" r="1.2" fill="#e60000"/><circle cx="683.0" cy="280.5" r="1.2" fill="#e60000"/><circle cx="683.0" cy="298.2" r="1.2" fill="#2ca02c"/><circle cx="692.5" cy="266.2" r="1.2" fill="#2ca02c"/><circle cx="698.0" cy="305.0" r="1.2" fill="#e60000"/><circle cx="750.0" cy="266.2" r="1.2" fill="#2ca02c"/></g><g clip-path="url(#c13b)"><g stroke="rgba(0,0,0,0.3)" stroke-width="2.10" stroke-linecap="round"><path d="M601.5 348.1h0"/><path d="M603.2 360.4h0"/><path d="M604.7 350.7h0"/><path d="M608.4 356.1h0"/><path d="M632.1 349.7h0"/><path d="M632.1 356.1h0"/><path d="M633.8 354.0h0"/><path d="M632.1 360.4h0"/><path d="M638.2 355.5h0"/><path d="M642.5 349.7h0"/><path d="M642.5 355.1h0"/><path d="M647.2 350.3h0"/><path d="M646.8 355.5h0"/><path d="M647.2 374.5h0"/><path d="M656.5 347.5h0"/><path d="M657.6 350.7h0"/><path d="M656.5 355.1h0"/><path d="M659.7 361.5h0"/><path d="M657.1 372.3h0"/><path d="M660.8 348.6h0"/><path d="M666.2 344.7h0"/><path d="M665.1 367.6h0"/><path d="M670.5 352.9h0"/><path d="M672.7 346.9h0"/><path d="M672.7 350.7h0"/><path d="M675.9 357.2h0"/><path d="M682.4 349.7h0"/><path d="M692.1 345.3h0"/><path d="M698.1 351.8h0"/><path d="M694.7 361.5h0"/><path d="M696.4 358.9h0"/><path d="M716.9 374.1h0"/><path d="M752.5 349.2h0"/></g><g stroke="rgba(44,160,44,0.3)" stroke-width="2.10" stroke-linecap="round"><path d="M601.5 350.3h0"/><path d="M601.5 352.9h0"/><path d="M601.5 371.2h0"/><path d="M608.4 349.7h0"/><path d="M608.4 352.9h0"/><path d="M632.1 352.9h0"/><path d="M633.8 361.5h0"/><path d="M638.2 349.7h0"/><path d="M639.2 358.9h0"/><path d="M642.5 358.9h0"/><path d="M647.2 344.7h0"/><path d="M646.8 361.5h0"/><path d="M647.2 369.1h0"/><path d="M658.0 358.9h0"/><path d="M659.3 352.9h0"/><path d="M656.5 362.6h0"/><path d="M660.8 344.7h0"/><path d="M660.8 356.1h0"/><path d="M682.4 362.0h0"/><path d="M696.4 345.3h0"/><path d="M749.9 351.8h0"/><path d="M752.5 361.5h0"/></g><g stroke="rgba(230,0,0,0.28)" stroke-width="2.10" stroke-linecap="round"><path d="M602.6 359.4h0"/><path d="M666.2 354.0h0"/><path d="M668.4 359.4h0"/><path d="M670.5 358.3h0"/><path d="M674.8 356.1h0"/><path d="M677.0 355.1h0"/><path d="M682.4 355.1h0"/><path d="M694.7 354.0h0"/><path d="M699.7 355.1h0"/><path d="M699.7 358.9h0"/><path d="M716.9 355.1h0"/></g></g><line x1="599.7" y1="356.0" x2="757.0" y2="356.0" stroke="#222" stroke-width="0.95" stroke-dasharray="2.3,2.7"/><path d="M595.45,216.50H758.45V376.50H595.45ZM595.45,327.80H758.45" fill="none" stroke="#646464" stroke-width="1.00"/><path d="M591.5,228.8H595.5M591.5,243.5H595.5M591.5,258.2H595.5M591.5,273.0H595.5M591.5,287.8H595.5M591.5,302.5H595.5M591.5,317.2H595.5M591.5,330.0H595.5M591.5,343.0H595.5M591.5,356.0H595.5M591.5,369.0H595.5M601.2,376.5V380.5M601.2,327.8V331.8M630.0,376.5V380.5M630.0,327.8V331.8M658.8,376.5V380.5M658.8,327.8V331.8M687.5,376.5V380.5M687.5,327.8V331.8M716.2,376.5V380.5M716.2,327.8V331.8M745.0,376.5V380.5M745.0,327.8V331.8" stroke="#646464" stroke-width="1.00" fill="none"/><text transform="translate(587.5,228.8) rotate(-90)" font-size="5.6" text-anchor="middle" fill="#222">6</text><text transform="translate(587.5,243.5) rotate(-90)" font-size="5.6" text-anchor="middle" fill="#222">4</text><text transform="translate(587.5,258.2) rotate(-90)" font-size="5.6" text-anchor="middle" fill="#222">2</text><text transform="translate(587.5,273.0) rotate(-90)" font-size="5.6" text-anchor="middle" fill="#222">0</text><text transform="translate(587.5,287.8) rotate(-90)" font-size="5.6" text-anchor="middle" fill="#222">&#8722;2</text><text transform="translate(587.5,302.5) rotate(-90)" font-size="5.6" text-anchor="middle" fill="#222">&#8722;4</text><text transform="translate(587.5,317.2) rotate(-90)" font-size="5.6" text-anchor="middle" fill="#222">&#8722;6</text><text transform="translate(587.5,330.0) rotate(-90)" font-size="5.6" text-anchor="middle" fill="#222">10</text><text transform="translate(587.5,343.0) rotate(-90)" font-size="5.6" text-anchor="middle" fill="#222">5</text><text transform="translate(587.5,356.0) rotate(-90)" font-size="5.6" text-anchor="middle" fill="#222">0</text><text transform="translate(587.5,369.0) rotate(-90)" font-size="5.6" text-anchor="middle" fill="#222">&#8722;5</text><text x="601.2" y="389.2" font-size="5.6" text-anchor="middle" fill="#222">0</text><text x="630.0" y="389.2" font-size="5.6" text-anchor="middle" fill="#222">50</text><text x="658.8" y="389.2" font-size="5.6" text-anchor="middle" fill="#222">100</text><text x="687.5" y="389.2" font-size="5.6" text-anchor="middle" fill="#222">150</text><text x="716.2" y="389.2" font-size="5.6" text-anchor="middle" fill="#222">200</text><text x="745.0" y="389.2" font-size="5.6" text-anchor="middle" fill="#222">250</text><text transform="translate(576.7,272.1) rotate(-90)" font-size="8.5" text-anchor="middle" fill="#000" class="s">RV [m/s]</text><text transform="translate(576.7,352.1) rotate(-90)" font-size="8.5" text-anchor="middle" fill="#000" class="s">O-C [m/s]</text><text x="754.6" y="338.3" font-size="8.5" text-anchor="end" fill="#000" class="s">RMS=2.3 m/s</text>
<clipPath id="c20a"><rect x="25.4" y="403.6" width="163.0" height="111.3"/></clipPath><clipPath id="c20b"><rect x="25.4" y="514.9" width="163.0" height="48.7"/></clipPath><text x="106.9" y="400.1" font-size="8.6" font-weight="bold" text-anchor="middle" fill="#000">GJ 180 d</text><g clip-path="url(#c20a)"><g stroke="rgba(0,0,0,0.3)" stroke-width="2.10" stroke-linecap="round"><path d="M143.9 487.0h0"/><path d="M140.0 453.4h0"/><path d="M153.4 501.5h0"/><path d="M49.8 412.9h0"/><path d="M114.3 466.8h0"/><path d="M139.6 491.7h0"/><path d="M72.8 422.8h0"/><path d="M96.9 457.2h0"/><path d="M176.6 449.6h0"/><path d="M71.8 451.7h0"/><path d="M122.2 485.1h0"/><path d="M56.1 462.1h0"/><path d="M183.9 449.0h0"/><path d="M47.5 436.7h0"/><path d="M60.8 451.5h0"/><path d="M181.0 468.1h0"/><path d="M99.2 475.5h0"/><path d="M115.3 479.0h0"/><path d="M42.8 437.7h0"/><path d="M37.5 460.2h0"/><path d="M62.3 460.3h0"/><path d="M73.3 459.5h0"/><path d="M58.8 455.4h0"/><path d="M63.7 409.8h0"/><path d="M129.0 446.9h0"/><path d="M168.7 470.8h0"/><path d="M175.6 437.6h0"/><path d="M35.4 445.2h0"/><path d="M79.7 472.0h0"/><path d="M162.0 479.5h0"/><path d="M51.6 424.1h0"/><path d="M45.6 419.7h0"/><path d="M40.2 463.5h0"/><path d="M109.8 489.9h0"/><path d="M143.1 448.8h0"/><path d="M39.8 419.1h0"/><path d="M109.8 502.4h0"/><path d="M78.9 472.7h0"/><path d="M138.1 460.8h0"/><path d="M164.3 449.3h0"/><path d="M81.2 467.9h0"/><path d="M184.0 481.3h0"/><path d="M128.6 433.0h0"/><path d="M140.8 511.0h0"/><path d="M72.3 421.1h0"/><path d="M51.9 441.3h0"/><path d="M55.4 411.4h0"/><path d="M31.2 490.1h0"/><path d="M146.1 497.3h0"/><path d="M98.6 511.7h0"/><path d="M37.3 480.5h0"/><path d="M174.6 466.5h0"/><path d="M143.1 483.7h0"/><path d="M149.8 464.1h0"/><path d="M146.0 483.4h0"/><path d="M145.2 481.7h0"/><path d="M147.0 464.5h0"/><path d="M150.0 482.1h0"/></g><g stroke="rgba(44,160,44,0.3)" stroke-width="2.10" stroke-linecap="round"><path d="M165.4 494.1h0"/><path d="M154.9 465.1h0"/><path d="M31.1 464.1h0"/><path d="M45.8 445.6h0"/><path d="M52.6 422.9h0"/><path d="M180.8 443.6h0"/><path d="M146.9 477.9h0"/><path d="M167.0 464.7h0"/><path d="M41.1 452.5h0"/><path d="M82.7 451.9h0"/><path d="M67.6 442.6h0"/><path d="M149.3 474.5h0"/><path d="M179.9 440.8h0"/><path d="M104.7 471.0h0"/><path d="M124.8 479.4h0"/><path d="M175.3 456.7h0"/><path d="M95.6 476.0h0"/><path d="M82.1 463.1h0"/><path d="M63.7 420.8h0"/><path d="M165.4 454.0h0"/><path d="M142.1 459.5h0"/><path d="M173.2 465.8h0"/><path d="M91.4 437.2h0"/><path d="M86.6 444.0h0"/><path d="M147.0 463.8h0"/><path d="M101.3 462.3h0"/><path d="M32.6 449.2h0"/><path d="M169.1 445.5h0"/><path d="M132.9 465.5h0"/><path d="M110.4 453.2h0"/><path d="M126.0 478.8h0"/><path d="M70.5 449.6h0"/><path d="M66.0 461.3h0"/><path d="M88.4 498.1h0"/><path d="M170.0 443.2h0"/><path d="M182.0 452.8h0"/><path d="M95.0 502.7h0"/><path d="M40.9 479.7h0"/><path d="M62.1 421.4h0"/><path d="M181.7 486.4h0"/><path d="M156.2 503.2h0"/><path d="M158.2 513.2h0"/><path d="M176.6 456.0h0"/><path d="M73.7 439.7h0"/><path d="M110.2 443.3h0"/><path d="M56.1 484.3h0"/><path d="M179.9 495.9h0"/><path d="M45.5 419.9h0"/><path d="M148.8 493.6h0"/><path d="M69.0 480.7h0"/><path d="M156.3 447.0h0"/><path d="M128.0 432.6h0"/><path d="M112.0 497.0h0"/><path d="M146.2 496.3h0"/><path d="M102.2 477.1h0"/><path d="M122.8 415.3h0"/><path d="M149.6 480.8h0"/></g><g stroke="rgba(230,0,0,0.28)" stroke-width="2.10" stroke-linecap="round"><path d="M102.8 466.0h0"/><path d="M170.2 482.8h0"/><path d="M57.1 449.0h0"/><path d="M48.2 407.0h0"/><path d="M74.6 415.0h0"/><path d="M61.9 467.2h0"/><path d="M52.6 444.1h0"/><path d="M180.4 482.9h0"/><path d="M82.2 440.5h0"/><path d="M96.1 450.2h0"/><path d="M57.7 410.1h0"/><path d="M146.5 474.7h0"/><path d="M178.4 460.3h0"/><path d="M145.1 498.8h0"/><path d="M81.3 463.2h0"/><path d="M78.6 449.2h0"/><path d="M108.1 471.2h0"/><path d="M57.5 448.2h0"/><path d="M32.8 460.6h0"/><path d="M100.8 474.3h0"/><path d="M75.2 437.5h0"/><path d="M85.1 480.6h0"/><path d="M73.9 469.0h0"/><path d="M122.9 477.7h0"/><path d="M115.4 456.8h0"/><path d="M41.0 448.3h0"/><path d="M40.4 467.1h0"/><path d="M166.8 444.6h0"/><path d="M94.0 469.4h0"/><path d="M43.5 471.6h0"/><path d="M127.8 461.3h0"/><path d="M47.9 449.3h0"/><path d="M88.7 464.6h0"/><path d="M103.5 457.2h0"/><path d="M177.3 456.7h0"/><path d="M51.5 447.7h0"/><path d="M97.7 494.4h0"/><path d="M63.7 420.6h0"/><path d="M119.5 466.9h0"/><path d="M171.8 455.4h0"/><path d="M175.0 478.9h0"/><path d="M120.7 439.6h0"/><path d="M107.9 472.5h0"/><path d="M117.2 512.8h0"/><path d="M148.9 433.9h0"/><path d="M77.1 473.4h0"/><path d="M180.5 446.0h0"/><path d="M159.8 436.5h0"/><path d="M147.0 490.2h0"/><path d="M79.3 453.5h0"/><path d="M63.0 473.9h0"/><path d="M81.1 486.3h0"/><path d="M86.5 481.6h0"/><path d="M146.9 505.4h0"/><path d="M96.6 498.8h0"/><path d="M57.2 464.2h0"/><path d="M111.4 479.6h0"/><path d="M182.8 399.5h0"/><path d="M98.9 468.0h0"/><path d="M82.3 451.4h0"/><path d="M167.6 447.3h0"/><path d="M67.1 437.0h0"/><path d="M159.9 498.7h0"/><path d="M32.4 501.7h0"/><path d="M100.3 423.2h0"/><path d="M72.3 512.3h0"/><path d="M51.8 459.2h0"/><path d="M86.5 506.2h0"/><path d="M115.3 476.0h0"/><path d="M72.4 422.1h0"/><path d="M35.1 466.4h0"/><path d="M136.6 424.3h0"/><path d="M42.5 420.8h0"/><path d="M113.3 405.4h0"/><path d="M118.9 475.1h0"/><path d="M61.8 478.5h0"/><path d="M32.3 448.2h0"/><path d="M143.5 406.8h0"/><path d="M155.9 474.9h0"/><path d="M135.2 460.6h0"/><path d="M45.6 428.1h0"/><path d="M150.0 432.7h0"/><path d="M35.0 410.3h0"/><path d="M140.8 442.7h0"/><path d="M145.1 479.4h0"/><path d="M143.3 492.8h0"/><path d="M144.9 482.1h0"/><path d="M140.2 471.8h0"/><path d="M139.6 479.4h0"/><path d="M138.8 477.0h0"/><path d="M144.0 503.5h0"/><path d="M143.0 512.1h0"/><path d="M141.5 465.3h0"/><path d="M148.0 463.9h0"/><path d="M140.4 476.8h0"/><path d="M148.3 461.4h0"/><path d="M147.5 501.9h0"/><path d="M142.0 479.6h0"/><path d="M138.7 445.2h0"/><path d="M147.3 473.1h0"/><path d="M138.6 479.2h0"/><path d="M139.3 491.6h0"/><path d="M141.5 478.0h0"/><path d="M143.0 499.2h0"/><path d="M144.6 482.7h0"/><path d="M145.5 497.8h0"/><path d="M145.8 469.7h0"/><path d="M138.2 481.0h0"/></g><g stroke="rgba(31,114,196,0.3)" stroke-width="2.10" stroke-linecap="round"><path d="M83.4 464.1h0"/><path d="M169.9 443.8h0"/><path d="M51.6 458.6h0"/><path d="M133.8 475.5h0"/><path d="M43.9 462.6h0"/><path d="M139.4 486.7h0"/><path d="M88.8 446.1h0"/><path d="M66.8 455.8h0"/><path d="M73.8 427.8h0"/><path d="M83.4 483.4h0"/><path d="M149.4 481.4h0"/><path d="M42.8 451.0h0"/></g><g stroke="rgba(153,50,168,0.3)" stroke-width="2.10" stroke-linecap="round"><path d="M151.0 473.7h0"/><path d="M135.5 455.2h0"/><path d="M168.9 471.1h0"/><path d="M49.8 421.9h0"/><path d="M101.0 492.4h0"/><path d="M61.8 467.3h0"/><path d="M34.9 470.4h0"/><path d="M138.9 494.3h0"/><path d="M164.2 474.6h0"/><path d="M121.1 483.7h0"/><path d="M127.5 483.0h0"/><path d="M32.3 474.7h0"/><path d="M155.0 501.5h0"/><path d="M107.2 456.5h0"/><path d="M180.2 426.3h0"/><path d="M81.9 449.8h0"/><path d="M131.6 460.9h0"/><path d="M78.4 463.1h0"/><path d="M110.9 465.8h0"/><path d="M88.7 472.6h0"/><path d="M129.7 450.6h0"/><path d="M179.9 439.0h0"/><path d="M114.2 521.9h0"/><path d="M44.8 450.1h0"/><path d="M73.9 441.7h0"/><path d="M101.1 535.0h0"/><path d="M181.9 466.0h0"/><path d="M53.3 457.1h0"/><path d="M168.9 476.2h0"/><path d="M122.5 475.9h0"/><path d="M42.5 468.9h0"/><path d="M56.2 478.1h0"/><path d="M139.1 466.9h0"/><path d="M77.6 478.5h0"/><path d="M41.8 456.6h0"/><path d="M107.4 463.3h0"/><path d="M180.8 477.2h0"/><path d="M147.5 470.8h0"/><path d="M47.7 404.6h0"/><path d="M177.7 475.1h0"/><path d="M128.2 448.5h0"/><path d="M141.8 480.0h0"/><path d="M131.2 421.0h0"/><path d="M51.3 513.2h0"/><path d="M113.6 439.3h0"/></g><path d="M31.20,455.40C32.03,454.53 34.43,451.72 36.20,450.20C37.97,448.68 39.93,447.42 41.80,446.30C43.67,445.18 45.53,444.25 47.40,443.50C49.27,442.75 51.33,442.17 53.00,441.80C54.67,441.43 55.92,441.22 57.40,441.30C58.88,441.38 60.22,441.75 61.90,442.30C63.58,442.85 65.63,443.57 67.50,444.60C69.37,445.63 71.23,447.02 73.10,448.50C74.97,449.98 76.83,451.82 78.70,453.50C80.57,455.18 82.43,456.92 84.30,458.60C86.17,460.28 88.03,462.02 89.90,463.60C91.77,465.18 93.63,466.80 95.50,468.10C97.37,469.40 99.35,470.48 101.10,471.40C102.85,472.32 104.42,473.00 106.00,473.60C107.58,474.20 108.90,474.48 110.60,475.00C112.30,475.52 114.33,476.20 116.20,476.70C118.07,477.20 119.93,477.67 121.80,478.00C123.67,478.33 125.53,478.57 127.40,478.70C129.27,478.83 131.13,478.87 133.00,478.80C134.87,478.73 136.75,478.58 138.60,478.30C140.45,478.02 142.25,477.55 144.10,477.10C145.95,476.65 147.83,476.18 149.70,475.60C151.57,475.02 153.43,474.35 155.30,473.60C157.17,472.85 159.03,472.03 160.90,471.10C162.77,470.17 164.63,469.27 166.50,468.00C168.37,466.73 170.23,465.00 172.10,463.50C173.97,462.00 175.93,460.40 177.70,459.00C179.47,457.60 181.87,455.75 182.70,455.10" fill="none" stroke="#ff1a1a" stroke-width="1.15" stroke-opacity="0.85"/><path d="M34.6,442.7V462.4M31.9,442.7H37.3M31.9,462.4H37.3" stroke="rgba(0,0,0,0.8)" stroke-width="1" fill="none"/><path d="M42.3,447.8V454.7M39.6,447.8H45.0M39.6,454.7H45.0" stroke="rgba(230,0,0,0.5)" stroke-width="1" fill="none"/><path d="M46.7,447.0V458.6M44.0,447.0H49.4M44.0,458.6H49.4" stroke="rgba(153,50,168,0.6)" stroke-width="1" fill="none"/><path d="M49.5,432.9V439.3M46.8,432.9H52.2M46.8,439.3H52.2" stroke="rgba(44,160,44,0.6)" stroke-width="1" fill="none"/><path d="M56.5,405.0V412.9M53.8,405.0H59.2M53.8,412.9H59.2" stroke="rgba(31,114,196,0.75)" stroke-width="1" fill="none"/><path d="M59.8,409.3V442.7M57.1,409.3H62.5M57.1,442.7H62.5" stroke="rgba(0,0,0,0.8)" stroke-width="1" fill="none"/><path d="M59.5,432.9V440.6M56.8,432.9H62.2M56.8,440.6H62.2" stroke="rgba(153,50,168,0.6)" stroke-width="1" fill="none"/><path d="M63.6,428.3V459.9M60.9,428.3H66.3M60.9,459.9H66.3" stroke="rgba(44,160,44,0.6)" stroke-width="1" fill="none"/><path d="M72.6,430.4V439.3M69.9,430.4H75.3M69.9,439.3H75.3" stroke="rgba(44,160,44,0.6)" stroke-width="1" fill="none"/><path d="M74.4,435.0V447.0M71.7,435.0H77.1M71.7,447.0H77.1" stroke="rgba(153,50,168,0.6)" stroke-width="1" fill="none"/><path d="M76.2,459.9V471.4M73.5,459.9H78.9M73.5,471.4H78.9" stroke="rgba(230,0,0,0.5)" stroke-width="1" fill="none"/><path d="M85.5,441.1V470.1M82.8,441.1H88.2M82.8,470.1H88.2" stroke="rgba(0,0,0,0.8)" stroke-width="1" fill="none"/><path d="M85.5,458.6V468.8M82.8,458.6H88.2M82.8,468.8H88.2" stroke="rgba(230,0,0,0.5)" stroke-width="1" fill="none"/><path d="M87.2,461.2V470.1M84.5,461.2H89.9M84.5,470.1H89.9" stroke="rgba(44,160,44,0.6)" stroke-width="1" fill="none"/><path d="M85.5,481.7V495.8M82.8,481.7H88.2M82.8,495.8H88.2" stroke="rgba(31,114,196,0.75)" stroke-width="1" fill="none"/><path d="M83.4,495.8V515.0M80.7,495.8H86.1M80.7,515.0H86.1" stroke="rgba(31,114,196,0.75)" stroke-width="1" fill="none"/><path d="M93.7,499.1V515.0M91.0,499.1H96.4M91.0,515.0H96.4" stroke="rgba(153,50,168,0.6)" stroke-width="1" fill="none"/><path d="M99.3,456.0V471.9M96.6,456.0H102.0M96.6,471.9H102.0" stroke="rgba(0,0,0,0.8)" stroke-width="1" fill="none"/><path d="M99.3,456.0V466.3M96.6,456.0H102.0M96.6,466.3H102.0" stroke="rgba(230,0,0,0.5)" stroke-width="1" fill="none"/><path d="M102.6,467.6V475.3M99.9,467.6H105.3M99.9,475.3H105.3" stroke="rgba(44,160,44,0.6)" stroke-width="1" fill="none"/><path d="M100.6,481.2V492.5M97.9,481.2H103.3M97.9,492.5H103.3" stroke="rgba(153,50,168,0.6)" stroke-width="1" fill="none"/><path d="M112.1,444.5V460.6M109.4,444.5H114.8M109.4,460.6H114.8" stroke="rgba(0,0,0,0.8)" stroke-width="1" fill="none"/><path d="M116.0,486.8V503.5M113.3,486.8H118.7M113.3,503.5H118.7" stroke="rgba(44,160,44,0.6)" stroke-width="1" fill="none"/><path d="M118.6,478.6V492.5M115.9,478.6H121.3M115.9,492.5H121.3" stroke="rgba(153,50,168,0.6)" stroke-width="1" fill="none"/><path d="M127.5,493.2V515.0M124.8,493.2H130.2M124.8,515.0H130.2" stroke="rgba(153,50,168,0.6)" stroke-width="1" fill="none"/><path d="M131.4,492.5V506.1M128.7,492.5H134.1M128.7,506.1H134.1" stroke="rgba(0,0,0,0.8)" stroke-width="1" fill="none"/><path d="M131.6,467.1V481.7M128.9,467.1H134.3M128.9,481.7H134.3" stroke="rgba(230,0,0,0.5)" stroke-width="1" fill="none"/><path d="M131.6,479.1V515.0M128.9,479.1H134.3M128.9,515.0H134.3" stroke="rgba(44,160,44,0.6)" stroke-width="1" fill="none"/><path d="M144.2,464.2V471.9M141.5,464.2H146.9M141.5,471.9H146.9" stroke="rgba(0,0,0,0.8)" stroke-width="1" fill="none"/><path d="M145.8,468.3V473.5M143.1,468.3H148.5M143.1,473.5H148.5" stroke="rgba(230,0,0,0.5)" stroke-width="1" fill="none"/><path d="M143.7,483.0V490.7M141.0,483.0H146.4M141.0,490.7H146.4" stroke="rgba(44,160,44,0.6)" stroke-width="1" fill="none"/><path d="M149.6,488.1V515.0M146.9,488.1H152.3M146.9,515.0H152.3" stroke="rgba(153,50,168,0.6)" stroke-width="1" fill="none"/><path d="M153.5,462.4V475.3M150.8,462.4H156.2M150.8,475.3H156.2" stroke="rgba(44,160,44,0.6)" stroke-width="1" fill="none"/><path d="M157.3,470.1V475.3M154.6,470.1H160.0M154.6,475.3H160.0" stroke="rgba(230,0,0,0.5)" stroke-width="1" fill="none"/><path d="M163.5,468.8V481.7M160.8,468.8H166.2M160.8,481.7H166.2" stroke="rgba(0,0,0,0.8)" stroke-width="1" fill="none"/><path d="M163.5,472.7V491.9M160.8,472.7H166.2M160.8,491.9H166.2" stroke="rgba(153,50,168,0.6)" stroke-width="1" fill="none"/><path d="M171.9,458.6V471.4M169.2,458.6H174.6M169.2,471.4H174.6" stroke="rgba(44,160,44,0.6)" stroke-width="1" fill="none"/><path d="M171.9,458.1V470.1M169.2,458.1H174.6M169.2,470.1H174.6" stroke="rgba(0,0,0,0.8)" stroke-width="1" fill="none"/><path d="M173.7,452.2V461.2M171.0,452.2H176.4M171.0,461.2H176.4" stroke="rgba(230,0,0,0.5)" stroke-width="1" fill="none"/><path d="M172.4,477.1V494.0M169.7,477.1H175.1M169.7,494.0H175.1" stroke="rgba(153,50,168,0.6)" stroke-width="1" fill="none"/><circle cx="34.6" cy="452.2" r="1.2" fill="#000000"/><circle cx="42.3" cy="451.4" r="1.2" fill="#e60000"/><circle cx="46.7" cy="452.2" r="1.2" fill="#9932a8"/><circle cx="49.5" cy="436.0" r="1.2" fill="#2ca02c"/><circle cx="56.5" cy="407.8" r="1.2" fill="#1f72c4"/><circle cx="59.8" cy="426.0" r="1.2" fill="#000000"/><circle cx="59.5" cy="436.8" r="1.2" fill="#9932a8"/><circle cx="63.6" cy="444.0" r="1.2" fill="#2ca02c"/><circle cx="72.6" cy="435.0" r="1.2" fill="#2ca02c"/><circle cx="74.4" cy="440.6" r="1.2" fill="#9932a8"/><circle cx="76.2" cy="465.8" r="1.2" fill="#e60000"/><circle cx="85.5" cy="452.2" r="1.2" fill="#000000"/><circle cx="85.5" cy="463.7" r="1.2" fill="#e60000"/><circle cx="87.2" cy="465.0" r="1.2" fill="#2ca02c"/><circle cx="85.5" cy="488.6" r="1.2" fill="#1f72c4"/><circle cx="83.4" cy="510.7" r="1.2" fill="#1f72c4"/><circle cx="93.7" cy="508.1" r="1.2" fill="#9932a8"/><circle cx="99.3" cy="463.7" r="1.2" fill="#000000"/><circle cx="99.3" cy="461.2" r="1.2" fill="#e60000"/><circle cx="102.6" cy="471.4" r="1.2" fill="#2ca02c"/><circle cx="100.6" cy="486.8" r="1.2" fill="#9932a8"/><circle cx="112.1" cy="452.2" r="1.2" fill="#000000"/><circle cx="116.0" cy="495.3" r="1.2" fill="#2ca02c"/><circle cx="118.6" cy="485.0" r="1.2" fill="#9932a8"/><circle cx="127.5" cy="505.5" r="1.2" fill="#9932a8"/><circle cx="131.4" cy="499.1" r="1.2" fill="#000000"/><circle cx="131.6" cy="474.0" r="1.2" fill="#e60000"/><circle cx="131.6" cy="501.7" r="1.2" fill="#2ca02c"/><circle cx="144.2" cy="468.8" r="1.2" fill="#000000"/><circle cx="145.8" cy="470.9" r="1.2" fill="#e60000"/><circle cx="143.7" cy="486.8" r="1.2" fill="#2ca02c"/><circle cx="149.6" cy="507.3" r="1.2" fill="#9932a8"/><circle cx="153.5" cy="469.6" r="1.2" fill="#2ca02c"/><circle cx="157.3" cy="472.7" r="1.2" fill="#e60000"/><circle cx="163.5" cy="475.3" r="1.2" fill="#000000"/><circle cx="163.5" cy="482.5" r="1.2" fill="#9932a8"/><circle cx="171.9" cy="464.2" r="1.2" fill="#2ca02c"/><circle cx="171.9" cy="464.2" r="1.2" fill="#000000"/><circle cx="173.7" cy="456.5" r="1.2" fill="#e60000"/><circle cx="172.4" cy="485.5" r="1.2" fill="#9932a8"/></g><g clip-path="url(#c20b)"><g stroke="rgba(0,0,0,0.3)" stroke-width="2.10" stroke-linecap="round"><path d="M133.8 546.3h0"/><path d="M177.0 554.9h0"/><path d="M102.9 551.9h0"/><path d="M88.4 549.3h0"/><path d="M83.4 552.1h0"/><path d="M170.9 550.1h0"/><path d="M176.0 546.3h0"/><path d="M108.5 550.1h0"/><path d="M39.2 552.8h0"/><path d="M151.9 554.3h0"/><path d="M59.3 543.0h0"/><path d="M74.5 549.6h0"/><path d="M31.5 551.5h0"/><path d="M151.1 556.8h0"/><path d="M43.8 546.1h0"/><path d="M45.2 551.2h0"/><path d="M55.8 547.1h0"/><path d="M127.6 552.0h0"/><path d="M179.4 552.0h0"/><path d="M176.4 547.7h0"/><path d="M140.2 543.0h0"/><path d="M84.8 554.8h0"/><path d="M51.2 552.2h0"/><path d="M121.3 553.5h0"/><path d="M172.4 554.0h0"/><path d="M125.4 550.2h0"/><path d="M95.2 555.2h0"/><path d="M80.2 549.9h0"/><path d="M113.4 544.1h0"/><path d="M129.9 550.3h0"/><path d="M36.9 558.2h0"/><path d="M131.4 545.2h0"/><path d="M34.9 553.3h0"/><path d="M53.9 546.2h0"/><path d="M58.0 548.4h0"/><path d="M101.2 558.5h0"/><path d="M160.8 547.5h0"/><path d="M158.3 556.6h0"/><path d="M180.8 547.8h0"/><path d="M147.0 547.4h0"/><path d="M32.0 549.7h0"/><path d="M101.9 551.8h0"/><path d="M117.5 539.9h0"/><path d="M132.7 549.9h0"/><path d="M124.8 548.7h0"/><path d="M148.4 557.2h0"/><path d="M171.4 544.0h0"/><path d="M59.2 550.1h0"/><path d="M38.8 542.6h0"/><path d="M94.4 541.9h0"/><path d="M96.0 547.2h0"/><path d="M91.4 547.8h0"/><path d="M167.1 556.9h0"/><path d="M97.3 551.9h0"/><path d="M109.0 544.7h0"/><path d="M165.2 553.1h0"/><path d="M174.8 545.9h0"/><path d="M157.0 560.3h0"/><path d="M89.2 540.8h0"/><path d="M135.6 553.8h0"/><path d="M124.2 547.2h0"/><path d="M166.6 544.0h0"/><path d="M162.0 545.0h0"/><path d="M139.9 544.7h0"/><path d="M120.2 546.2h0"/><path d="M144.1 559.9h0"/><path d="M79.0 551.4h0"/><path d="M67.5 549.6h0"/><path d="M120.0 546.7h0"/><path d="M120.7 541.3h0"/><path d="M102.8 551.3h0"/><path d="M90.4 549.2h0"/><path d="M98.2 547.9h0"/><path d="M103.7 554.3h0"/><path d="M44.7 548.5h0"/><path d="M46.6 552.0h0"/><path d="M173.6 554.9h0"/><path d="M183.8 547.4h0"/><path d="M85.6 544.5h0"/><path d="M121.3 543.2h0"/><path d="M114.9 549.9h0"/><path d="M52.9 546.8h0"/><path d="M80.0 550.7h0"/><path d="M46.8 550.9h0"/><path d="M66.5 548.0h0"/><path d="M111.4 551.0h0"/><path d="M134.5 547.9h0"/><path d="M169.0 540.2h0"/><path d="M87.6 550.6h0"/><path d="M146.3 545.3h0"/><path d="M64.3 546.9h0"/><path d="M87.6 557.5h0"/><path d="M150.4 557.5h0"/><path d="M140.6 548.1h0"/><path d="M142.0 550.7h0"/><path d="M144.1 551.8h0"/><path d="M147.4 547.8h0"/><path d="M150.6 547.5h0"/><path d="M138.4 549.6h0"/><path d="M150.4 551.9h0"/><path d="M146.4 547.4h0"/><path d="M144.7 549.2h0"/><path d="M138.8 549.2h0"/><path d="M150.6 553.1h0"/><path d="M149.2 540.7h0"/><path d="M147.3 552.7h0"/><path d="M144.8 546.5h0"/><path d="M142.4 540.2h0"/><path d="M151.4 557.6h0"/><path d="M144.7 536.9h0"/><path d="M140.3 548.3h0"/><path d="M145.4 548.7h0"/><path d="M150.8 552.6h0"/><path d="M145.4 554.0h0"/><path d="M140.5 549.6h0"/><path d="M118.4 549.8h0"/><path d="M89.9 540.7h0"/><path d="M176.0 537.1h0"/><path d="M159.7 552.2h0"/><path d="M50.5 550.8h0"/><path d="M181.8 539.2h0"/><path d="M84.3 547.1h0"/><path d="M85.5 544.8h0"/><path d="M128.9 532.9h0"/><path d="M36.6 547.9h0"/><path d="M161.5 555.3h0"/><path d="M140.2 538.4h0"/><path d="M75.0 554.1h0"/><path d="M44.4 525.9h0"/><path d="M157.7 550.4h0"/><path d="M83.8 554.5h0"/><path d="M185.3 552.0h0"/><path d="M39.6 532.5h0"/><path d="M118.3 537.8h0"/><path d="M185.6 547.2h0"/><path d="M174.6 563.0h0"/><path d="M95.2 544.6h0"/><path d="M141.0 557.0h0"/><path d="M159.7 546.3h0"/><path d="M49.9 550.1h0"/><path d="M143.9 542.9h0"/><path d="M166.6 544.9h0"/><path d="M128.7 540.9h0"/><path d="M87.0 556.6h0"/></g><g stroke="rgba(44,160,44,0.3)" stroke-width="2.10" stroke-linecap="round"><path d="M91.3 546.6h0"/><path d="M59.2 556.4h0"/><path d="M108.6 548.8h0"/><path d="M65.4 557.7h0"/><path d="M172.3 553.5h0"/><path d="M79.9 548.7h0"/><path d="M42.6 557.3h0"/><path d="M150.1 549.2h0"/><path d="M44.8 550.8h0"/><path d="M139.6 549.2h0"/><path d="M98.6 540.4h0"/><path d="M150.9 543.7h0"/><path d="M143.7 547.7h0"/><path d="M182.8 544.1h0"/><path d="M86.8 550.7h0"/><path d="M60.1 542.5h0"/><path d="M60.4 545.9h0"/><path d="M182.0 554.6h0"/><path d="M155.2 555.2h0"/><path d="M86.0 548.2h0"/><path d="M83.3 553.2h0"/><path d="M109.3 544.9h0"/><path d="M138.1 548.2h0"/><path d="M87.3 552.2h0"/><path d="M100.7 546.5h0"/><path d="M92.8 544.6h0"/><path d="M130.4 547.3h0"/><path d="M68.0 543.8h0"/><path d="M134.5 549.0h0"/><path d="M171.5 543.3h0"/><path d="M47.1 543.9h0"/><path d="M110.9 553.5h0"/><path d="M185.5 547.3h0"/><path d="M139.4 545.3h0"/><path d="M43.0 552.3h0"/><path d="M44.7 551.3h0"/><path d="M181.4 538.3h0"/><path d="M116.2 546.5h0"/><path d="M159.6 543.8h0"/><path d="M43.1 554.1h0"/><path d="M148.9 548.8h0"/><path d="M132.6 551.5h0"/><path d="M133.8 548.8h0"/><path d="M178.4 551.7h0"/><path d="M79.6 543.9h0"/><path d="M120.6 546.0h0"/><path d="M120.4 548.8h0"/><path d="M152.2 537.2h0"/><path d="M102.6 556.2h0"/><path d="M166.8 544.6h0"/><path d="M78.2 563.2h0"/><path d="M108.6 540.8h0"/><path d="M107.5 550.2h0"/><path d="M53.7 546.6h0"/><path d="M44.5 561.3h0"/><path d="M129.3 539.9h0"/><path d="M31.8 547.4h0"/><path d="M101.1 549.9h0"/></g><g stroke="rgba(230,0,0,0.28)" stroke-width="2.10" stroke-linecap="round"><path d="M161.2 552.7h0"/><path d="M119.9 541.2h0"/><path d="M57.0 543.9h0"/><path d="M133.2 551.2h0"/><path d="M101.7 549.2h0"/><path d="M80.0 551.1h0"/><path d="M158.5 548.0h0"/><path d="M127.0 554.9h0"/><path d="M82.3 553.8h0"/><path d="M183.7 547.6h0"/><path d="M68.1 550.8h0"/><path d="M149.4 552.0h0"/><path d="M69.1 548.8h0"/><path d="M127.7 540.1h0"/><path d="M178.6 553.0h0"/><path d="M179.4 551.8h0"/><path d="M161.4 548.6h0"/><path d="M157.9 547.3h0"/><path d="M62.5 551.5h0"/><path d="M32.2 540.5h0"/><path d="M32.2 555.6h0"/><path d="M83.2 547.2h0"/><path d="M92.2 544.5h0"/><path d="M162.9 555.4h0"/><path d="M163.2 543.6h0"/><path d="M185.8 542.4h0"/><path d="M132.5 549.9h0"/><path d="M176.0 553.6h0"/><path d="M119.4 553.9h0"/><path d="M104.3 551.9h0"/><path d="M120.6 551.1h0"/><path d="M129.1 541.2h0"/><path d="M40.2 553.2h0"/><path d="M54.9 552.0h0"/><path d="M67.8 551.2h0"/><path d="M107.5 549.2h0"/><path d="M130.5 555.1h0"/><path d="M46.4 546.3h0"/><path d="M49.1 543.8h0"/><path d="M175.5 551.4h0"/><path d="M131.4 553.8h0"/><path d="M83.9 555.6h0"/><path d="M165.0 547.1h0"/><path d="M48.2 547.6h0"/><path d="M87.3 546.5h0"/><path d="M148.0 549.6h0"/><path d="M145.3 555.8h0"/><path d="M147.5 544.7h0"/><path d="M142.3 544.2h0"/><path d="M145.8 544.2h0"/><path d="M147.7 555.4h0"/><path d="M145.5 549.5h0"/><path d="M151.5 554.7h0"/><path d="M144.8 546.1h0"/><path d="M140.1 550.8h0"/><path d="M141.9 557.1h0"/><path d="M141.5 550.7h0"/><path d="M150.7 550.9h0"/><path d="M144.0 550.8h0"/><path d="M144.7 553.5h0"/><path d="M149.4 546.8h0"/><path d="M147.4 545.8h0"/><path d="M142.7 552.1h0"/><path d="M141.0 545.7h0"/><path d="M143.9 548.8h0"/><path d="M150.8 551.0h0"/><path d="M147.7 548.0h0"/><path d="M142.2 551.2h0"/><path d="M147.9 541.8h0"/><path d="M145.8 559.0h0"/><path d="M139.8 551.2h0"/><path d="M149.3 552.2h0"/><path d="M147.9 546.7h0"/><path d="M150.0 545.4h0"/><path d="M146.6 551.9h0"/><path d="M138.2 552.1h0"/><path d="M139.3 542.9h0"/><path d="M146.5 540.5h0"/><path d="M144.6 552.3h0"/><path d="M148.0 548.3h0"/><path d="M139.6 539.5h0"/><path d="M147.0 556.5h0"/><path d="M166.0 540.5h0"/><path d="M96.1 546.2h0"/><path d="M127.2 547.1h0"/><path d="M97.0 538.1h0"/><path d="M134.5 554.0h0"/><path d="M152.3 540.4h0"/><path d="M57.5 554.3h0"/><path d="M74.5 552.6h0"/><path d="M94.0 559.7h0"/><path d="M85.5 544.7h0"/><path d="M51.5 541.9h0"/><path d="M170.1 542.6h0"/><path d="M75.8 546.9h0"/><path d="M135.6 556.4h0"/><path d="M72.4 554.0h0"/><path d="M172.4 560.3h0"/><path d="M90.0 554.7h0"/><path d="M162.5 547.1h0"/><path d="M76.5 545.7h0"/><path d="M131.0 564.6h0"/><path d="M61.4 544.1h0"/></g><g stroke="rgba(31,114,196,0.3)" stroke-width="2.10" stroke-linecap="round"><path d="M179.4 546.4h0"/><path d="M91.1 545.4h0"/><path d="M43.5 549.2h0"/><path d="M163.0 547.5h0"/><path d="M39.7 549.0h0"/><path d="M171.8 549.7h0"/><path d="M77.6 553.6h0"/><path d="M161.4 545.2h0"/><path d="M60.3 549.4h0"/><path d="M181.2 551.3h0"/><path d="M183.1 544.2h0"/><path d="M73.1 553.7h0"/><path d="M173.8 549.2h0"/><path d="M57.5 550.6h0"/><path d="M165.4 549.0h0"/><path d="M135.1 557.4h0"/><path d="M93.9 545.3h0"/><path d="M156.4 540.9h0"/><path d="M125.8 549.4h0"/><path d="M68.1 541.9h0"/><path d="M69.1 549.1h0"/><path d="M57.3 552.2h0"/><path d="M61.4 547.9h0"/><path d="M108.1 541.2h0"/><path d="M84.4 548.8h0"/><path d="M162.0 555.0h0"/><path d="M117.2 552.3h0"/><path d="M104.3 548.1h0"/><path d="M143.5 541.9h0"/></g><g stroke="rgba(153,50,168,0.3)" stroke-width="2.10" stroke-linecap="round"><path d="M115.1 549.1h0"/><path d="M39.1 552.1h0"/><path d="M145.8 546.4h0"/><path d="M147.8 551.2h0"/><path d="M98.2 546.1h0"/><path d="M54.3 552.3h0"/><path d="M147.8 550.7h0"/><path d="M98.7 546.2h0"/><path d="M150.0 543.1h0"/><path d="M63.2 540.6h0"/><path d="M112.6 554.2h0"/><path d="M168.6 552.5h0"/><path d="M133.3 549.8h0"/><path d="M74.7 546.7h0"/><path d="M177.9 540.7h0"/><path d="M104.0 550.6h0"/><path d="M159.9 547.5h0"/><path d="M52.4 546.0h0"/><path d="M44.1 546.3h0"/><path d="M159.0 542.0h0"/><path d="M181.4 551.5h0"/><path d="M138.6 550.2h0"/><path d="M108.4 556.8h0"/><path d="M185.2 555.4h0"/><path d="M157.1 548.5h0"/><path d="M67.4 546.5h0"/><path d="M174.4 549.3h0"/><path d="M86.1 546.6h0"/><path d="M156.3 539.6h0"/><path d="M128.5 550.7h0"/><path d="M48.7 551.6h0"/><path d="M145.8 549.6h0"/><path d="M34.5 556.9h0"/><path d="M110.3 548.3h0"/><path d="M126.2 564.4h0"/><path d="M44.2 547.8h0"/></g></g><line x1="29.6" y1="549.4" x2="186.9" y2="549.4" stroke="#222" stroke-width="0.95" stroke-dasharray="2.3,2.7"/><path d="M25.45,403.55H188.45V563.55H25.45ZM25.45,514.85H188.45" fill="none" stroke="#646464" stroke-width="1.00"/><path d="M21.4,409.1H25.4M21.4,427.1H25.4M21.4,445.0H25.4M21.4,463.0H25.4M21.4,480.9H25.4M21.4,498.9H25.4M21.4,518.8H25.4M21.4,526.5H25.4M21.4,534.2H25.4M21.4,541.8H25.4M21.4,549.4H25.4M21.4,556.9H25.4M31.3,563.5V567.5M31.3,514.9V518.9M59.8,563.5V567.5M59.8,514.9V518.9M88.3,563.5V567.5M88.3,514.9V518.9M116.8,563.5V567.5M116.8,514.9V518.9M145.3,563.5V567.5M145.3,514.9V518.9M173.8,563.5V567.5M173.8,514.9V518.9" stroke="#646464" stroke-width="1.00" fill="none"/><text transform="translate(17.4,409.1) rotate(-90)" font-size="5.6" text-anchor="middle" fill="#222">6</text><text transform="translate(17.4,427.1) rotate(-90)" font-size="5.6" text-anchor="middle" fill="#222">4</text><text transform="translate(17.4,445.0) rotate(-90)" font-size="5.6" text-anchor="middle" fill="#222">2</text><text transform="translate(17.4,463.0) rotate(-90)" font-size="5.6" text-anchor="middle" fill="#222">0</text><text transform="translate(17.4,480.9) rotate(-90)" font-size="5.6" text-anchor="middle" fill="#222">&#8722;2</text><text transform="translate(17.4,498.9) rotate(-90)" font-size="5.6" text-anchor="middle" fill="#222">&#8722;4</text><text transform="translate(17.4,526.5) rotate(-90)" font-size="5.6" text-anchor="middle" fill="#222">15</text><text transform="translate(17.4,541.8) rotate(-90)" font-size="5.6" text-anchor="middle" fill="#222">5</text><text transform="translate(17.4,556.9) rotate(-90)" font-size="5.6" text-anchor="middle" fill="#222">&#8722;5</text><text x="31.3" y="576.2" font-size="5.6" text-anchor="middle" fill="#222">0</text><text x="59.8" y="576.2" font-size="5.6" text-anchor="middle" fill="#222">20</text><text x="88.3" y="576.2" font-size="5.6" text-anchor="middle" fill="#222">40</text><text x="116.8" y="576.2" font-size="5.6" text-anchor="middle" fill="#222">60</text><text x="145.3" y="576.2" font-size="5.6" text-anchor="middle" fill="#222">80</text><text x="173.8" y="576.2" font-size="5.6" text-anchor="middle" fill="#222">100</text><text transform="translate(6.6,459.2) rotate(-90)" font-size="8.5" text-anchor="middle" fill="#000" class="s">RV [m/s]</text><text transform="translate(6.6,539.2) rotate(-90)" font-size="8.5" text-anchor="middle" fill="#000" class="s">O-C [m/s]</text><text x="184.5" y="525.4" font-size="8.5" text-anchor="end" fill="#000" class="s">RMS=3.1 m/s</text>
<clipPath id="c21a"><rect x="215.4" y="403.6" width="163.0" height="111.3"/></clipPath><clipPath id="c21b"><rect x="215.4" y="514.9" width="163.0" height="48.7"/></clipPath><text x="296.9" y="400.1" font-size="8.6" font-weight="bold" text-anchor="middle" fill="#000">GJ 422 b</text><g clip-path="url(#c21a)"><g stroke="rgba(44,160,44,0.3)" stroke-width="2.10" stroke-linecap="round"><path d="M241.3 406.9h0"/><path d="M234.0 415.5h0"/><path d="M236.6 419.2h0"/><path d="M270.7 424.6h0"/><path d="M351.4 483.9h0"/><path d="M364.5 425.0h0"/><path d="M365.0 491.5h0"/></g><g stroke="rgba(230,0,0,0.28)" stroke-width="2.10" stroke-linecap="round"><path d="M231.8 409.0h0"/><path d="M243.5 424.6h0"/><path d="M246.3 442.3h0"/><path d="M232.3 453.1h0"/><path d="M239.2 461.7h0"/><path d="M221.5 473.1h0"/><path d="M253.8 416.0h0"/><path d="M264.6 475.9h0"/><path d="M265.1 481.1h0"/><path d="M273.7 476.8h0"/><path d="M277.1 459.5h0"/><path d="M279.3 450.0h0"/><path d="M275.4 410.6h0"/><path d="M284.1 508.7h0"/><path d="M302.4 493.6h0"/><path d="M305.6 442.9h0"/><path d="M311.0 487.2h0"/><path d="M313.8 461.7h0"/><path d="M299.6 448.7h0"/><path d="M342.7 437.1h0"/><path d="M338.4 508.3h0"/><path d="M349.2 507.0h0"/><path d="M346.6 489.7h0"/><path d="M357.4 454.4h0"/><path d="M361.7 427.2h0"/><path d="M366.1 414.9h0"/><path d="M372.5 454.8h0"/></g><g stroke="rgba(31,114,196,0.3)" stroke-width="2.10" stroke-linecap="round"><path d="M335.8 484.6h0"/></g><path d="M221.20,449.80C222.03,448.43 224.43,444.47 226.20,441.60C227.97,438.73 229.93,435.58 231.80,432.60C233.67,429.62 235.53,426.40 237.40,423.70C239.27,421.00 241.13,418.55 243.00,416.40C244.87,414.25 246.75,412.20 248.60,410.80C250.45,409.40 252.70,408.55 254.10,408.00C255.50,407.45 255.68,407.43 257.00,407.50C258.32,407.57 260.23,407.85 262.00,408.40C263.77,408.95 265.73,409.75 267.60,410.80C269.47,411.85 271.33,413.02 273.20,414.70C275.07,416.38 276.93,418.65 278.80,420.90C280.67,423.15 282.53,425.78 284.40,428.20C286.27,430.62 288.18,433.22 290.00,435.40C291.82,437.58 293.53,439.23 295.30,441.30C297.07,443.37 298.78,445.60 300.60,447.80C302.42,450.00 304.33,452.35 306.20,454.50C308.07,456.65 309.93,458.73 311.80,460.70C313.67,462.67 315.53,464.53 317.40,466.30C319.27,468.07 321.13,469.72 323.00,471.30C324.87,472.88 326.75,474.58 328.60,475.80C330.45,477.02 332.25,477.90 334.10,478.60C335.95,479.30 338.02,479.72 339.70,480.00C341.38,480.28 342.70,480.35 344.20,480.30C345.70,480.25 347.02,480.27 348.70,479.70C350.38,479.13 352.43,478.20 354.30,476.90C356.17,475.60 358.03,474.05 359.90,471.90C361.77,469.75 363.63,466.70 365.50,464.00C367.37,461.30 369.62,458.02 371.10,455.70C372.58,453.38 373.85,451.03 374.40,450.10" fill="none" stroke="#ff1a1a" stroke-width="1.15" stroke-opacity="0.85"/><path d="M231.6,422.7V438.6M228.9,422.7H234.3M228.9,438.6H234.3" stroke="rgba(230,0,0,0.5)" stroke-width="1" fill="none"/><path d="M240.0,412.4V418.8M237.3,412.4H242.7M237.3,418.8H242.7" stroke="rgba(44,160,44,0.6)" stroke-width="1" fill="none"/><path d="M242.1,429.1V436.8M239.4,429.1H244.8M239.4,436.8H244.8" stroke="rgba(230,0,0,0.5)" stroke-width="1" fill="none"/><path d="M261.8,421.4V430.9M259.1,421.4H264.5M259.1,430.9H264.5" stroke="rgba(230,0,0,0.5)" stroke-width="1" fill="none"/><path d="M267.5,404.7V414.4M264.8,404.7H270.2M264.8,414.4H270.2" stroke="rgba(44,160,44,0.6)" stroke-width="1" fill="none"/><path d="M277.8,415.5V423.9M275.1,415.5H280.5M275.1,423.9H280.5" stroke="rgba(230,0,0,0.5)" stroke-width="1" fill="none"/><path d="M277.8,426.5V447.0M275.1,426.5H280.5M275.1,447.0H280.5" stroke="rgba(44,160,44,0.6)" stroke-width="1" fill="none"/><path d="M283.1,429.1V448.3M280.4,429.1H285.8M280.4,448.3H285.8" stroke="rgba(31,114,196,0.75)" stroke-width="1" fill="none"/><path d="M288.3,406.8V430.4M285.6,406.8H291.0M285.6,430.4H291.0" stroke="rgba(31,114,196,0.75)" stroke-width="1" fill="none"/><path d="M290.1,416.2V426.5M287.4,416.2H292.8M287.4,426.5H292.8" stroke="rgba(230,0,0,0.5)" stroke-width="1" fill="none"/><path d="M294.7,422.7V435.5M292.0,422.7H297.4M292.0,435.5H297.4" stroke="rgba(44,160,44,0.6)" stroke-width="1" fill="none"/><path d="M297.8,414.4V435.5M295.1,414.4H300.5M295.1,435.5H300.5" stroke="rgba(31,114,196,0.75)" stroke-width="1" fill="none"/><path d="M304.7,470.1V480.9M302.0,470.1H307.4M302.0,480.9H307.4" stroke="rgba(230,0,0,0.5)" stroke-width="1" fill="none"/><path d="M311.1,444.5V461.7M308.4,444.5H313.8M308.4,461.7H313.8" stroke="rgba(31,114,196,0.75)" stroke-width="1" fill="none"/><path d="M321.6,462.4V482.2M318.9,462.4H324.3M318.9,482.2H324.3" stroke="rgba(230,0,0,0.5)" stroke-width="1" fill="none"/><path d="M322.2,476.5V498.4M319.5,476.5H324.9M319.5,498.4H324.9" stroke="rgba(31,114,196,0.75)" stroke-width="1" fill="none"/><path d="M335.5,501.7V515.0M332.8,501.7H338.2M332.8,515.0H338.2" stroke="rgba(230,0,0,0.5)" stroke-width="1" fill="none"/><path d="M345.8,465.5V481.7M343.1,465.5H348.5M343.1,481.7H348.5" stroke="rgba(230,0,0,0.5)" stroke-width="1" fill="none"/><path d="M349.6,480.4V491.4M346.9,480.4H352.3M346.9,491.4H352.3" stroke="rgba(44,160,44,0.6)" stroke-width="1" fill="none"/><path d="M362.4,439.3V448.3M359.7,439.3H365.1M359.7,448.3H365.1" stroke="rgba(230,0,0,0.5)" stroke-width="1" fill="none"/><path d="M362.4,461.7V476.0M359.7,461.7H365.1M359.7,476.0H365.1" stroke="rgba(44,160,44,0.6)" stroke-width="1" fill="none"/><circle cx="231.6" cy="430.9" r="1.2" fill="#e60000"/><circle cx="240.0" cy="415.5" r="1.2" fill="#2ca02c"/><circle cx="242.1" cy="432.9" r="1.2" fill="#e60000"/><circle cx="261.8" cy="426.5" r="1.2" fill="#e60000"/><circle cx="267.5" cy="409.8" r="1.2" fill="#2ca02c"/><circle cx="277.8" cy="419.6" r="1.2" fill="#e60000"/><circle cx="277.8" cy="436.8" r="1.2" fill="#2ca02c"/><circle cx="283.1" cy="438.6" r="1.2" fill="#1f72c4"/><circle cx="288.3" cy="419.3" r="1.2" fill="#1f72c4"/><circle cx="290.1" cy="421.4" r="1.2" fill="#e60000"/><circle cx="294.7" cy="428.3" r="1.2" fill="#2ca02c"/><circle cx="297.8" cy="424.7" r="1.2" fill="#1f72c4"/><circle cx="304.7" cy="475.3" r="1.2" fill="#e60000"/><circle cx="311.1" cy="452.9" r="1.2" fill="#1f72c4"/><circle cx="321.6" cy="471.9" r="1.2" fill="#e60000"/><circle cx="322.2" cy="487.6" r="1.2" fill="#1f72c4"/><circle cx="335.5" cy="510.7" r="1.2" fill="#e60000"/><circle cx="345.8" cy="473.5" r="1.2" fill="#e60000"/><circle cx="349.6" cy="486.0" r="1.2" fill="#2ca02c"/><circle cx="362.4" cy="444.0" r="1.2" fill="#e60000"/><circle cx="362.4" cy="469.4" r="1.2" fill="#2ca02c"/></g><g clip-path="url(#c21b)"><g stroke="rgba(0,0,0,0.3)" stroke-width="2.10" stroke-linecap="round"><path d="M230.5 531.2h0"/><path d="M229.7 537.7h0"/><path d="M233.3 536.1h0"/><path d="M236.6 546.9h0"/><path d="M240.9 544.8h0"/><path d="M253.4 537.7h0"/><path d="M254.3 541.3h0"/><path d="M262.9 541.3h0"/><path d="M265.1 543.1h0"/><path d="M273.3 537.0h0"/><path d="M274.3 541.3h0"/><path d="M272.8 546.9h0"/><path d="M279.7 543.1h0"/><path d="M277.6 548.4h0"/><path d="M283.0 541.3h0"/><path d="M289.5 540.5h0"/><path d="M289.5 543.1h0"/><path d="M300.2 540.5h0"/><path d="M306.1 547.4h0"/><path d="M295.9 561.4h0"/><path d="M311.0 540.5h0"/><path d="M322.5 540.5h0"/><path d="M334.8 540.5h0"/><path d="M346.6 541.3h0"/><path d="M353.1 538.3h0"/><path d="M359.6 540.5h0"/><path d="M366.1 536.6h0"/><path d="M368.2 534.9h0"/><path d="M372.5 542.0h0"/></g><g stroke="rgba(44,160,44,0.3)" stroke-width="2.10" stroke-linecap="round"><path d="M232.3 540.5h0"/><path d="M241.3 540.5h0"/><path d="M239.8 543.1h0"/><path d="M277.6 540.5h0"/><path d="M348.4 540.5h0"/><path d="M363.9 541.3h0"/></g><g stroke="rgba(230,0,0,0.28)" stroke-width="2.10" stroke-linecap="round"><path d="M221.5 542.6h0"/><path d="M231.8 542.6h0"/><path d="M245.6 544.1h0"/><path d="M258.2 537.7h0"/><path d="M265.1 537.0h0"/><path d="M265.1 547.4h0"/><path d="M277.1 536.6h0"/><path d="M280.8 537.7h0"/><path d="M284.1 548.4h0"/><path d="M290.1 537.0h0"/><path d="M295.9 531.2h0"/><path d="M296.6 534.9h0"/><path d="M302.4 543.1h0"/><path d="M302.4 545.2h0"/><path d="M307.8 539.2h0"/><path d="M330.5 544.1h0"/><path d="M338.0 543.1h0"/><path d="M342.3 536.6h0"/><path d="M349.9 543.1h0"/><path d="M352.0 536.6h0"/><path d="M357.4 538.7h0"/><path d="M361.7 536.6h0"/><path d="M367.1 540.9h0"/></g><g stroke="rgba(31,114,196,0.3)" stroke-width="2.10" stroke-linecap="round"><path d="M298.1 539.2h0"/><path d="M321.8 542.0h0"/></g></g><line x1="219.6" y1="540.7" x2="376.9" y2="540.7" stroke="#222" stroke-width="0.95" stroke-dasharray="2.3,2.7"/><path d="M215.45,403.55H378.45V563.55H215.45ZM215.45,514.85H378.45" fill="none" stroke="#646464" stroke-width="1.00"/><path d="M211.4,410.3H215.4M211.4,427.6H215.4M211.4,445.0H215.4M211.4,462.4H215.4M211.4,479.7H215.4M211.4,497.1H215.4M211.4,514.4H215.4M211.4,524.0H215.4M211.4,532.3H215.4M211.4,540.7H215.4M211.4,549.0H215.4M211.4,557.4H215.4M221.3,563.5V567.5M221.3,514.9V518.9M259.2,563.5V567.5M259.2,514.9V518.9M297.0,563.5V567.5M297.0,514.9V518.9M334.9,563.5V567.5M334.9,514.9V518.9M372.7,563.5V567.5M372.7,514.9V518.9" stroke="#646464" stroke-width="1.00" fill="none"/><text transform="translate(207.4,410.3) rotate(-90)" font-size="5.6" text-anchor="middle" fill="#222">4</text><text transform="translate(207.4,427.6) rotate(-90)" font-size="5.6" text-anchor="middle" fill="#222">2</text><text transform="translate(207.4,445.0) rotate(-90)" font-size="5.6" text-anchor="middle" fill="#222">0</text><text transform="translate(207.4,462.4) rotate(-90)" font-size="5.6" text-anchor="middle" fill="#222">&#8722;2</text><text transform="translate(207.4,479.7) rotate(-90)" font-size="5.6" text-anchor="middle" fill="#222">&#8722;4</text><text transform="translate(207.4,497.1) rotate(-90)" font-size="5.6" text-anchor="middle" fill="#222">&#8722;6</text><text transform="translate(207.4,514.4) rotate(-90)" font-size="5.6" text-anchor="middle" fill="#222">&#8722;8</text><text transform="translate(207.4,524.0) rotate(-90)" font-size="5.6" text-anchor="middle" fill="#222">20</text><text transform="translate(207.4,540.7) rotate(-90)" font-size="5.6" text-anchor="middle" fill="#222">0</text><text transform="translate(207.4,557.4) rotate(-90)" font-size="5.6" text-anchor="middle" fill="#222">&#8722;20</text><text x="221.3" y="576.2" font-size="5.6" text-anchor="middle" fill="#222">0</text><text x="259.2" y="576.2" font-size="5.6" text-anchor="middle" fill="#222">5</text><text x="297.0" y="576.2" font-size="5.6" text-anchor="middle" fill="#222">10</text><text x="334.9" y="576.2" font-size="5.6" text-anchor="middle" fill="#222">15</text><text x="372.7" y="576.2" font-size="5.6" text-anchor="middle" fill="#222">20</text><text transform="translate(196.6,459.2) rotate(-90)" font-size="8.5" text-anchor="middle" fill="#000" class="s">RV [m/s]</text><text transform="translate(196.6,539.2) rotate(-90)" font-size="8.5" text-anchor="middle" fill="#000" class="s">O-C [m/s]</text><text x="374.6" y="525.4" font-size="8.5" text-anchor="end" fill="#000" class="s">RMS=4.5 m/s</text>
<clipPath id="c22a"><rect x="405.4" y="403.6" width="163.0" height="111.3"/></clipPath><clipPath id="c22b"><rect x="405.4" y="514.9" width="163.0" height="48.7"/></clipPath><text x="487.0" y="400.1" font-size="8.6" font-weight="bold" text-anchor="middle" fill="#000">GJ 620 b</text><g clip-path="url(#c22a)"><g stroke="rgba(44,160,44,0.3)" stroke-width="2.10" stroke-linecap="round"><path d="M462.2 417.7h0"/></g><g stroke="rgba(230,0,0,0.28)" stroke-width="2.10" stroke-linecap="round"><path d="M441.3 425.7h0"/><path d="M440.6 446.2h0"/><path d="M468.7 452.2h0"/><path d="M479.0 483.3h0"/><path d="M504.7 483.9h0"/><path d="M512.5 495.4h0"/><path d="M501.0 506.1h0"/><path d="M547.4 472.7h0"/><path d="M544.2 481.8h0"/><path d="M562.1 424.6h0"/><path d="M532.3 479.6h0"/></g><path d="M411.20,415.50C412.25,414.67 415.42,411.75 417.50,410.50C419.58,409.25 421.95,408.48 423.70,408.00C425.45,407.52 426.35,407.40 428.00,407.60C429.65,407.80 431.62,408.20 433.60,409.20C435.58,410.20 437.82,411.62 439.90,413.60C441.98,415.58 444.03,417.98 446.10,421.10C448.17,424.22 450.23,428.15 452.30,432.30C454.37,436.45 456.42,441.55 458.50,446.00C460.58,450.45 462.72,454.65 464.80,459.00C466.88,463.35 468.93,467.93 471.00,472.10C473.07,476.27 475.70,481.33 477.20,484.00C478.70,486.67 478.70,486.17 480.00,488.10C481.30,490.03 483.12,493.10 485.00,495.60C486.88,498.10 489.22,501.12 491.30,503.10C493.38,505.08 495.22,506.45 497.50,507.50C499.78,508.55 502.50,509.40 505.00,509.40C507.50,509.40 510.00,508.75 512.50,507.50C515.00,506.25 517.50,504.40 520.00,501.90C522.50,499.40 525.00,495.83 527.50,492.50C530.00,489.17 532.50,485.65 535.00,481.90C537.50,478.15 540.00,474.07 542.50,470.00C545.00,465.93 547.50,461.67 550.00,457.50C552.50,453.33 555.00,449.17 557.50,445.00C560.00,440.83 563.00,435.83 565.00,432.50C567.00,429.17 568.75,426.25 569.50,425.00" fill="none" stroke="#ff1a1a" stroke-width="1.15" stroke-opacity="0.85"/><path d="M425.7,408.5V432.9M423.0,408.5H428.4M423.0,432.9H428.4" stroke="rgba(44,160,44,0.6)" stroke-width="1" fill="none"/><path d="M426.7,404.7V422.7M424.0,404.7H429.4M424.0,422.7H429.4" stroke="rgba(230,0,0,0.5)" stroke-width="1" fill="none"/><path d="M428.2,423.4V455.5M425.5,423.4H430.9M425.5,455.5H430.9" stroke="rgba(44,160,44,0.6)" stroke-width="1" fill="none"/><path d="M441.1,430.4V485.5M438.4,430.4H443.8M438.4,485.5H443.8" stroke="rgba(44,160,44,0.6)" stroke-width="1" fill="none"/><path d="M444.7,412.4V429.1M442.0,412.4H447.4M442.0,429.1H447.4" stroke="rgba(230,0,0,0.5)" stroke-width="1" fill="none"/><path d="M457.0,428.6V470.6M454.3,428.6H459.7M454.3,470.6H459.7" stroke="rgba(230,0,0,0.5)" stroke-width="1" fill="none"/><path d="M469.3,462.4V484.2M466.6,462.4H472.0M466.6,484.2H472.0" stroke="rgba(230,0,0,0.5)" stroke-width="1" fill="none"/><path d="M485.2,495.3V515.0M482.5,495.3H487.9M482.5,515.0H487.9" stroke="rgba(230,0,0,0.5)" stroke-width="1" fill="none"/><path d="M501.1,488.9V512.0M498.4,488.9H503.8M498.4,512.0H503.8" stroke="rgba(230,0,0,0.5)" stroke-width="1" fill="none"/><path d="M516.8,497.8V515.0M514.1,497.8H519.5M514.1,515.0H519.5" stroke="rgba(230,0,0,0.5)" stroke-width="1" fill="none"/><path d="M530.1,461.2V507.3M527.4,461.2H532.8M527.4,507.3H532.8" stroke="rgba(230,0,0,0.5)" stroke-width="1" fill="none"/><path d="M540.9,470.1V489.4M538.2,470.1H543.6M538.2,489.4H543.6" stroke="rgba(230,0,0,0.5)" stroke-width="1" fill="none"/><path d="M556.3,438.6V474.8M553.6,438.6H559.0M553.6,474.8H559.0" stroke="rgba(230,0,0,0.5)" stroke-width="1" fill="none"/><circle cx="425.7" cy="421.4" r="1.2" fill="#2ca02c"/><circle cx="426.7" cy="409.8" r="1.2" fill="#e60000"/><circle cx="428.2" cy="439.3" r="1.2" fill="#2ca02c"/><circle cx="441.1" cy="458.1" r="1.2" fill="#2ca02c"/><circle cx="444.7" cy="420.6" r="1.2" fill="#e60000"/><circle cx="457.0" cy="449.6" r="1.2" fill="#e60000"/><circle cx="469.3" cy="473.2" r="1.2" fill="#e60000"/><circle cx="485.2" cy="504.8" r="1.2" fill="#e60000"/><circle cx="501.1" cy="500.4" r="1.2" fill="#e60000"/><circle cx="516.8" cy="510.7" r="1.2" fill="#e60000"/><circle cx="530.1" cy="484.2" r="1.2" fill="#e60000"/><circle cx="540.9" cy="479.6" r="1.2" fill="#e60000"/><circle cx="556.3" cy="456.8" r="1.2" fill="#e60000"/></g><g clip-path="url(#c22b)"><g stroke="rgba(0,0,0,0.3)" stroke-width="2.10" stroke-linecap="round"><path d="M426.6 531.6h0"/><path d="M420.5 543.5h0"/><path d="M411.5 551.3h0"/><path d="M426.6 552.1h0"/><path d="M428.3 556.6h0"/><path d="M441.3 548.4h0"/><path d="M441.3 554.5h0"/><path d="M447.1 555.6h0"/><path d="M447.1 557.7h0"/><path d="M456.8 554.5h0"/><path d="M462.2 545.2h0"/><path d="M469.3 543.7h0"/><path d="M468.7 549.1h0"/><path d="M469.3 559.7h0"/><path d="M479.4 554.5h0"/><path d="M490.9 545.9h0"/><path d="M500.0 553.0h0"/><path d="M504.3 555.6h0"/><path d="M512.5 555.6h0"/><path d="M519.4 550.6h0"/><path d="M529.7 549.1h0"/><path d="M534.0 553.8h0"/><path d="M543.5 552.1h0"/><path d="M547.9 554.9h0"/><path d="M556.1 559.2h0"/><path d="M562.5 551.3h0"/></g><g stroke="rgba(44,160,44,0.3)" stroke-width="2.10" stroke-linecap="round"><path d="M411.5 531.8h0"/><path d="M425.5 554.9h0"/><path d="M428.3 559.7h0"/><path d="M441.3 562.0h0"/><path d="M462.2 543.7h0"/></g><g stroke="rgba(230,0,0,0.28)" stroke-width="2.10" stroke-linecap="round"><path d="M420.5 543.7h0"/><path d="M427.2 552.1h0"/><path d="M441.3 558.8h0"/><path d="M447.1 545.2h0"/><path d="M447.1 552.1h0"/><path d="M469.3 554.9h0"/><path d="M478.8 551.3h0"/><path d="M490.9 556.6h0"/><path d="M500.0 551.7h0"/><path d="M504.3 545.9h0"/><path d="M512.5 549.1h0"/><path d="M519.4 557.1h0"/><path d="M529.7 551.3h0"/><path d="M544.2 555.6h0"/><path d="M556.1 554.9h0"/><path d="M562.5 549.1h0"/></g></g><line x1="409.6" y1="552.4" x2="567.0" y2="552.4" stroke="#222" stroke-width="0.95" stroke-dasharray="2.3,2.7"/><path d="M405.45,403.55H568.45V563.55H405.45ZM405.45,514.85H568.45" fill="none" stroke="#646464" stroke-width="1.00"/><path d="M401.4,414.4H405.4M401.4,429.3H405.4M401.4,444.2H405.4M401.4,459.1H405.4M401.4,474.0H405.4M401.4,488.8H405.4M401.4,503.7H405.4M401.4,516.8H405.4M401.4,523.9H405.4M401.4,531.0H405.4M401.4,538.1H405.4M401.4,545.3H405.4M401.4,552.4H405.4M401.4,559.5H405.4M411.3,563.5V567.5M411.3,514.9V518.9M433.1,563.5V567.5M433.1,514.9V518.9M454.9,563.5V567.5M454.9,514.9V518.9M476.6,563.5V567.5M476.6,514.9V518.9M498.4,563.5V567.5M498.4,514.9V518.9M520.2,563.5V567.5M520.2,514.9V518.9M542.0,563.5V567.5M542.0,514.9V518.9M563.7,563.5V567.5M563.7,514.9V518.9" stroke="#646464" stroke-width="1.00" fill="none"/><text transform="translate(397.4,414.4) rotate(-90)" font-size="5.6" text-anchor="middle" fill="#222">3</text><text transform="translate(397.4,429.3) rotate(-90)" font-size="5.6" text-anchor="middle" fill="#222">2</text><text transform="translate(397.4,444.2) rotate(-90)" font-size="5.6" text-anchor="middle" fill="#222">1</text><text transform="translate(397.4,459.1) rotate(-90)" font-size="5.6" text-anchor="middle" fill="#222">0</text><text transform="translate(397.4,474.0) rotate(-90)" font-size="5.6" text-anchor="middle" fill="#222">&#8722;1</text><text transform="translate(397.4,488.8) rotate(-90)" font-size="5.6" text-anchor="middle" fill="#222">&#8722;2</text><text transform="translate(397.4,503.7) rotate(-90)" font-size="5.6" text-anchor="middle" fill="#222">&#8722;3</text><text transform="translate(397.4,516.8) rotate(-90)" font-size="5.6" text-anchor="middle" fill="#222">10</text><text transform="translate(397.4,531.0) rotate(-90)" font-size="5.6" text-anchor="middle" fill="#222">6</text><text transform="translate(397.4,545.3) rotate(-90)" font-size="5.6" text-anchor="middle" fill="#222">2</text><text transform="translate(397.4,559.5) rotate(-90)" font-size="5.6" text-anchor="middle" fill="#222">&#8722;2</text><text x="411.3" y="576.2" font-size="5.6" text-anchor="middle" fill="#222">0</text><text x="433.1" y="576.2" font-size="5.6" text-anchor="middle" fill="#222">1</text><text x="454.9" y="576.2" font-size="5.6" text-anchor="middle" fill="#222">2</text><text x="476.6" y="576.2" font-size="5.6" text-anchor="middle" fill="#222">3</text><text x="498.4" y="576.2" font-size="5.6" text-anchor="middle" fill="#222">4</text><text x="520.2" y="576.2" font-size="5.6" text-anchor="middle" fill="#222">5</text><text x="542.0" y="576.2" font-size="5.6" text-anchor="middle" fill="#222">6</text><text x="563.7" y="576.2" font-size="5.6" text-anchor="middle" fill="#222">7</text><text transform="translate(386.6,459.2) rotate(-90)" font-size="8.5" text-anchor="middle" fill="#000" class="s">RV [m/s]</text><text transform="translate(386.6,539.2) rotate(-90)" font-size="8.5" text-anchor="middle" fill="#000" class="s">O-C [m/s]</text><text x="564.6" y="525.4" font-size="8.5" text-anchor="end" fill="#000" class="s">RMS=1.7 m/s</text>
<clipPath id="c23a"><rect x="595.5" y="403.6" width="163.0" height="111.3"/></clipPath><clipPath id="c23b"><rect x="595.5" y="514.9" width="163.0" height="48.7"/></clipPath><text x="677.0" y="400.1" font-size="8.6" font-weight="bold" text-anchor="middle" fill="#000">GJ 911 b</text><g clip-path="url(#c23a)"><g stroke="rgba(0,0,0,0.3)" stroke-width="2.10" stroke-linecap="round"><path d="M605.4 450.5h0"/><path d="M655.0 455.2h0"/><path d="M645.1 491.5h0"/><path d="M641.4 495.8h0"/><path d="M639.2 479.6h0"/><path d="M701.2 453.7h0"/><path d="M685.6 512.6h0"/><path d="M690.0 512.6h0"/><path d="M622.6 404.1h0"/></g><g stroke="rgba(44,160,44,0.3)" stroke-width="2.10" stroke-linecap="round"><path d="M601.5 417.7h0"/><path d="M610.5 445.1h0"/><path d="M652.8 407.7h0"/><path d="M634.3 448.3h0"/><path d="M635.6 450.5h0"/><path d="M641.4 466.0h0"/><path d="M645.1 473.1h0"/><path d="M646.8 483.3h0"/><path d="M659.7 495.8h0"/><path d="M654.3 499.7h0"/><path d="M681.3 465.6h0"/><path d="M601.5 507.0h0"/><path d="M751.5 419.8h0"/><path d="M752.1 455.9h0"/></g><path d="M601.10,424.80C602.12,425.50 605.17,427.08 607.20,429.00C609.23,430.92 611.27,433.75 613.30,436.30C615.33,438.85 617.37,441.35 619.40,444.30C621.43,447.25 623.47,450.75 625.50,454.00C627.53,457.25 629.57,460.55 631.60,463.80C633.63,467.05 635.67,470.25 637.70,473.50C639.73,476.75 641.77,480.35 643.80,483.30C645.83,486.25 647.87,488.97 649.90,491.20C651.93,493.43 653.97,495.17 656.00,496.70C658.03,498.23 660.07,499.55 662.10,500.40C664.13,501.25 666.13,501.73 668.20,501.80C670.27,501.87 672.30,501.77 674.50,500.80C676.70,499.83 679.18,497.87 681.40,496.00C683.62,494.13 685.65,491.95 687.80,489.60C689.95,487.25 692.15,484.58 694.30,481.90C696.45,479.22 698.57,476.50 700.70,473.50C702.83,470.50 704.97,467.10 707.10,463.90C709.23,460.70 711.37,457.50 713.50,454.30C715.63,451.10 717.77,447.80 719.90,444.70C722.03,441.60 724.15,438.48 726.30,435.70C728.45,432.92 730.65,430.03 732.80,428.00C734.95,425.97 737.17,424.42 739.20,423.50C741.23,422.58 743.28,422.57 745.00,422.50C746.72,422.43 748.17,422.72 749.50,423.10C750.83,423.48 752.42,424.52 753.00,424.80" fill="none" stroke="#ff1a1a" stroke-width="1.15" stroke-opacity="0.85"/><path d="M609.5,423.2V442.5M606.8,423.2H612.2M606.8,442.5H612.2" stroke="rgba(44,160,44,0.6)" stroke-width="1" fill="none"/><path d="M618.8,407.5V442.0M616.0,407.5H621.5M616.0,442.0H621.5" stroke="rgba(0,0,0,0.8)" stroke-width="1" fill="none"/><path d="M623.0,450.2V471.5M620.3,450.2H625.7M620.3,471.5H625.7" stroke="rgba(0,0,0,0.8)" stroke-width="1" fill="none"/><path d="M641.2,462.5V477.0M638.5,462.5H644.0M638.5,477.0H644.0" stroke="rgba(44,160,44,0.6)" stroke-width="1" fill="none"/><path d="M641.2,460.2V477.5M638.5,460.2H644.0M638.5,477.5H644.0" stroke="rgba(0,0,0,0.8)" stroke-width="1" fill="none"/><path d="M655.0,469.5V493.2M652.3,469.5H657.7M652.3,493.2H657.7" stroke="rgba(0,0,0,0.8)" stroke-width="1" fill="none"/><path d="M655.8,492.0V506.2M653.0,492.0H658.5M653.0,506.2H658.5" stroke="rgba(44,160,44,0.6)" stroke-width="1" fill="none"/><path d="M670.8,469.5V505.0M668.0,469.5H673.5M668.0,505.0H673.5" stroke="rgba(0,0,0,0.8)" stroke-width="1" fill="none"/><path d="M675.0,470.8V497.8M672.3,470.8H677.7M672.3,497.8H677.7" stroke="rgba(44,160,44,0.6)" stroke-width="1" fill="none"/><path d="M678.8,502.0V514.5M676.0,502.0H681.5M676.0,514.5H681.5" stroke="rgba(0,0,0,0.8)" stroke-width="1" fill="none"/><path d="M682.0,482.0V494.5M679.3,482.0H684.7M679.3,494.5H684.7" stroke="rgba(44,160,44,0.6)" stroke-width="1" fill="none"/><path d="M696.2,468.8V494.0M693.5,468.8H699.0M693.5,494.0H699.0" stroke="rgba(0,0,0,0.8)" stroke-width="1" fill="none"/><path d="M697.0,473.2V498.2M694.3,473.2H699.7M694.3,498.2H699.7" stroke="rgba(44,160,44,0.6)" stroke-width="1" fill="none"/><path d="M698.0,440.2V477.0M695.3,440.2H700.7M695.3,477.0H700.7" stroke="rgba(230,0,0,0.5)" stroke-width="1" fill="none"/><path d="M715.5,467.8V504.5M712.8,467.8H718.2M712.8,504.5H718.2" stroke="rgba(0,0,0,0.8)" stroke-width="1" fill="none"/><path d="M736.8,407.0V428.2M734.0,407.0H739.5M734.0,428.2H739.5" stroke="rgba(0,0,0,0.8)" stroke-width="1" fill="none"/><path d="M750.5,432.5V448.2M747.8,432.5H753.2M747.8,448.2H753.2" stroke="rgba(44,160,44,0.6)" stroke-width="1" fill="none"/><circle cx="609.5" cy="432.8" r="1.2" fill="#2ca02c"/><circle cx="618.8" cy="424.5" r="1.2" fill="#000000"/><circle cx="623.0" cy="460.8" r="1.2" fill="#000000"/><circle cx="641.2" cy="469.5" r="1.2" fill="#2ca02c"/><circle cx="641.2" cy="469.0" r="1.2" fill="#000000"/><circle cx="655.0" cy="481.5" r="1.2" fill="#000000"/><circle cx="655.8" cy="499.0" r="1.2" fill="#2ca02c"/><circle cx="670.8" cy="487.0" r="1.2" fill="#000000"/><circle cx="675.0" cy="484.0" r="1.2" fill="#2ca02c"/><circle cx="678.8" cy="510.8" r="1.2" fill="#000000"/><circle cx="682.0" cy="488.2" r="1.2" fill="#2ca02c"/><circle cx="696.2" cy="482.0" r="1.2" fill="#000000"/><circle cx="697.0" cy="485.8" r="1.2" fill="#2ca02c"/><circle cx="698.0" cy="458.2" r="1.2" fill="#e60000"/><circle cx="715.5" cy="485.8" r="1.2" fill="#000000"/><circle cx="736.8" cy="407.8" r="1.2" fill="#000000"/><circle cx="750.5" cy="440.2" r="1.2" fill="#2ca02c"/></g><g clip-path="url(#c23b)"><g stroke="rgba(0,0,0,0.3)" stroke-width="2.10" stroke-linecap="round"><path d="M601.5 541.3h0"/><path d="M605.4 543.1h0"/><path d="M604.7 547.4h0"/><path d="M610.1 539.2h0"/><path d="M610.1 545.6h0"/><path d="M610.1 559.9h0"/><path d="M620.5 531.2h0"/><path d="M622.6 537.7h0"/><path d="M622.6 548.4h0"/><path d="M619.8 541.7h0"/><path d="M627.4 544.1h0"/><path d="M627.4 561.4h0"/><path d="M634.3 531.6h0"/><path d="M634.3 538.3h0"/><path d="M635.6 546.9h0"/><path d="M639.2 542.0h0"/><path d="M640.7 544.8h0"/><path d="M642.5 545.6h0"/><path d="M645.7 545.2h0"/><path d="M645.1 542.0h0"/><path d="M655.0 537.7h0"/><path d="M652.8 542.0h0"/><path d="M651.5 545.2h0"/><path d="M652.8 548.4h0"/><path d="M657.1 561.4h0"/><path d="M659.7 559.9h0"/><path d="M659.3 544.1h0"/><path d="M671.6 542.6h0"/><path d="M674.8 541.3h0"/><path d="M675.3 547.4h0"/><path d="M674.8 555.6h0"/><path d="M678.1 546.9h0"/><path d="M681.3 543.1h0"/><path d="M681.3 547.4h0"/><path d="M683.5 540.5h0"/><path d="M683.5 554.9h0"/><path d="M690.0 548.4h0"/><path d="M690.0 546.3h0"/><path d="M698.1 543.1h0"/><path d="M715.8 549.2h0"/><path d="M724.5 540.9h0"/><path d="M737.0 542.0h0"/><path d="M743.5 536.1h0"/><path d="M743.9 540.5h0"/><path d="M752.1 536.1h0"/><path d="M752.5 537.7h0"/><path d="M752.1 549.2h0"/></g><g stroke="rgba(44,160,44,0.3)" stroke-width="2.10" stroke-linecap="round"><path d="M601.5 544.1h0"/><path d="M601.5 555.6h0"/><path d="M601.5 559.9h0"/><path d="M610.1 542.6h0"/><path d="M635.6 540.9h0"/><path d="M644.2 543.1h0"/><path d="M652.8 531.6h0"/><path d="M652.8 555.6h0"/><path d="M652.8 560.3h0"/><path d="M676.6 545.2h0"/><path d="M680.9 539.8h0"/><path d="M681.3 547.8h0"/><path d="M752.1 541.3h0"/><path d="M748.2 547.4h0"/></g><g stroke="rgba(230,0,0,0.28)" stroke-width="2.10" stroke-linecap="round"><path d="M685.6 544.1h0"/><path d="M697.5 541.3h0"/><path d="M724.0 542.6h0"/></g></g><line x1="599.7" y1="544.0" x2="757.0" y2="544.0" stroke="#222" stroke-width="0.95" stroke-dasharray="2.3,2.7"/><path d="M595.45,403.55H758.45V563.55H595.45ZM595.45,514.85H758.45" fill="none" stroke="#646464" stroke-width="1.00"/><path d="M591.5,415.8H595.5M591.5,431.4H595.5M591.5,446.9H595.5M591.5,462.6H595.5M591.5,478.1H595.5M591.5,493.8H595.5M591.5,509.4H595.5M591.5,522.0H595.5M591.5,533.0H595.5M591.5,544.0H595.5M591.5,555.0H595.5M601.2,563.5V567.5M601.2,514.9V518.9M628.5,563.5V567.5M628.5,514.9V518.9M655.8,563.5V567.5M655.8,514.9V518.9M683.0,563.5V567.5M683.0,514.9V518.9M710.2,563.5V567.5M710.2,514.9V518.9M737.5,563.5V567.5M737.5,514.9V518.9" stroke="#646464" stroke-width="1.00" fill="none"/><text transform="translate(587.5,415.8) rotate(-90)" font-size="5.6" text-anchor="middle" fill="#222">6</text><text transform="translate(587.5,431.4) rotate(-90)" font-size="5.6" text-anchor="middle" fill="#222">4</text><text transform="translate(587.5,446.9) rotate(-90)" font-size="5.6" text-anchor="middle" fill="#222">2</text><text transform="translate(587.5,462.6) rotate(-90)" font-size="5.6" text-anchor="middle" fill="#222">0</text><text transform="translate(587.5,478.1) rotate(-90)" font-size="5.6" text-anchor="middle" fill="#222">&#8722;2</text><text transform="translate(587.5,493.8) rotate(-90)" font-size="5.6" text-anchor="middle" fill="#222">&#8722;4</text><text transform="translate(587.5,509.4) rotate(-90)" font-size="5.6" text-anchor="middle" fill="#222">&#8722;6</text><text transform="translate(587.5,522.0) rotate(-90)" font-size="5.6" text-anchor="middle" fill="#222">20</text><text transform="translate(587.5,533.0) rotate(-90)" font-size="5.6" text-anchor="middle" fill="#222">10</text><text transform="translate(587.5,544.0) rotate(-90)" font-size="5.6" text-anchor="middle" fill="#222">0</text><text transform="translate(587.5,555.0) rotate(-90)" font-size="5.6" text-anchor="middle" fill="#222">&#8722;10</text><text x="601.2" y="576.2" font-size="5.6" text-anchor="middle" fill="#222">0.0</text><text x="628.5" y="576.2" font-size="5.6" text-anchor="middle" fill="#222">0.5</text><text x="655.8" y="576.2" font-size="5.6" text-anchor="middle" fill="#222">1.0</text><text x="683.0" y="576.2" font-size="5.6" text-anchor="middle" fill="#222">1.5</text><text x="710.2" y="576.2" font-size="5.6" text-anchor="middle" fill="#222">2.0</text><text x="737.5" y="576.2" font-size="5.6" text-anchor="middle" fill="#222">2.5</text><text transform="translate(576.7,459.2) rotate(-90)" font-size="8.5" text-anchor="middle" fill="#000" class="s">RV [m/s]</text><text transform="translate(576.7,539.2) rotate(-90)" font-size="8.5" text-anchor="middle" fill="#000" class="s">O-C [m/s]</text><text x="754.6" y="525.4" font-size="8.5" text-anchor="end" fill="#000" class="s">RMS=5.2 m/s</text>
<clipPath id="c30a"><rect x="25.4" y="590.6" width="163.0" height="111.3"/></clipPath><clipPath id="c30b"><rect x="25.4" y="701.9" width="163.0" height="48.7"/></clipPath><text x="106.9" y="587.1" font-size="8.6" font-weight="bold" text-anchor="middle" fill="#000">GJ 229A c</text><g clip-path="url(#c30a)"><g stroke="rgba(0,0,0,0.3)" stroke-width="2.10" stroke-linecap="round"><path d="M118.4 617.0h0"/><path d="M81.1 597.1h0"/><path d="M57.7 627.0h0"/><path d="M132.3 667.3h0"/><path d="M37.8 620.8h0"/><path d="M113.1 628.3h0"/><path d="M98.6 643.8h0"/><path d="M176.0 606.2h0"/><path d="M90.8 623.2h0"/><path d="M143.7 632.9h0"/><path d="M83.5 585.3h0"/><path d="M178.2 591.8h0"/><path d="M181.1 604.0h0"/><path d="M171.7 625.8h0"/><path d="M99.5 649.3h0"/><path d="M147.2 658.8h0"/><path d="M102.4 611.5h0"/><path d="M122.1 638.5h0"/><path d="M124.4 654.2h0"/><path d="M91.0 591.3h0"/><path d="M37.3 626.6h0"/><path d="M78.6 598.9h0"/><path d="M158.9 654.7h0"/><path d="M42.9 615.6h0"/><path d="M179.3 596.6h0"/><path d="M47.3 624.8h0"/><path d="M120.2 635.7h0"/><path d="M75.2 608.3h0"/><path d="M52.3 592.6h0"/><path d="M170.2 627.1h0"/><path d="M154.9 644.2h0"/><path d="M124.1 631.0h0"/><path d="M138.4 652.9h0"/><path d="M154.7 625.2h0"/><path d="M114.1 591.4h0"/><path d="M151.6 639.9h0"/><path d="M182.1 574.7h0"/><path d="M100.5 600.3h0"/><path d="M121.1 623.9h0"/><path d="M77.4 633.8h0"/><path d="M39.9 573.0h0"/><path d="M70.6 625.0h0"/><path d="M70.1 628.3h0"/><path d="M105.3 596.8h0"/><path d="M68.5 662.4h0"/><path d="M99.7 689.3h0"/><path d="M104.6 669.5h0"/><path d="M142.6 648.8h0"/><path d="M79.2 645.2h0"/><path d="M123.3 671.1h0"/><path d="M146.8 650.1h0"/><path d="M84.6 688.9h0"/><path d="M56.0 606.5h0"/><path d="M83.4 663.4h0"/><path d="M48.8 693.2h0"/><path d="M168.8 666.1h0"/><path d="M38.7 674.9h0"/><path d="M117.6 693.8h0"/><path d="M160.7 662.3h0"/><path d="M98.7 650.8h0"/></g><g stroke="rgba(44,160,44,0.3)" stroke-width="2.10" stroke-linecap="round"><path d="M176.7 619.6h0"/><path d="M162.6 617.7h0"/><path d="M179.3 637.5h0"/><path d="M130.9 644.3h0"/><path d="M160.1 640.3h0"/><path d="M53.9 586.0h0"/><path d="M150.0 630.8h0"/><path d="M134.2 647.7h0"/><path d="M51.8 593.2h0"/><path d="M144.2 634.1h0"/><path d="M55.9 591.4h0"/><path d="M181.8 625.3h0"/><path d="M135.7 637.4h0"/><path d="M63.1 619.7h0"/><path d="M157.1 629.3h0"/><path d="M92.9 625.9h0"/><path d="M136.5 646.3h0"/><path d="M33.5 609.0h0"/><path d="M111.0 652.2h0"/><path d="M117.5 617.1h0"/><path d="M123.7 622.0h0"/><path d="M184.0 650.0h0"/><path d="M141.6 659.8h0"/><path d="M156.8 636.9h0"/><path d="M118.2 618.0h0"/><path d="M38.6 621.8h0"/><path d="M175.9 640.0h0"/><path d="M175.0 644.9h0"/><path d="M165.4 643.5h0"/><path d="M54.4 633.2h0"/><path d="M178.5 618.5h0"/><path d="M46.3 620.9h0"/><path d="M42.5 611.5h0"/><path d="M90.1 597.4h0"/><path d="M135.9 652.3h0"/><path d="M41.3 601.6h0"/><path d="M52.5 612.4h0"/><path d="M53.4 591.3h0"/><path d="M53.8 658.7h0"/><path d="M46.7 623.6h0"/><path d="M87.1 592.9h0"/><path d="M40.1 591.0h0"/><path d="M177.0 578.4h0"/><path d="M137.4 661.4h0"/><path d="M100.5 598.2h0"/><path d="M150.1 666.2h0"/><path d="M132.8 659.1h0"/><path d="M119.9 646.1h0"/><path d="M147.7 668.8h0"/><path d="M106.2 687.4h0"/><path d="M94.3 616.9h0"/><path d="M123.5 692.0h0"/><path d="M40.0 670.8h0"/><path d="M68.9 670.2h0"/><path d="M167.1 649.6h0"/><path d="M144.6 654.7h0"/><path d="M75.7 606.4h0"/><path d="M85.6 688.3h0"/><path d="M175.1 660.1h0"/><path d="M102.0 635.9h0"/><path d="M160.6 640.1h0"/><path d="M96.8 620.8h0"/><path d="M147.1 625.2h0"/><path d="M42.0 662.9h0"/><path d="M118.8 620.8h0"/><path d="M38.6 646.5h0"/><path d="M102.5 667.7h0"/></g><g stroke="rgba(230,0,0,0.28)" stroke-width="2.10" stroke-linecap="round"><path d="M79.1 588.7h0"/><path d="M67.5 612.3h0"/><path d="M107.0 630.2h0"/><path d="M170.7 647.4h0"/><path d="M135.2 657.4h0"/><path d="M77.3 610.5h0"/><path d="M65.2 605.2h0"/><path d="M92.9 614.5h0"/><path d="M106.0 616.4h0"/><path d="M116.5 665.3h0"/><path d="M112.9 634.3h0"/><path d="M168.4 621.5h0"/><path d="M34.8 594.5h0"/><path d="M167.0 639.5h0"/><path d="M122.4 599.1h0"/><path d="M62.8 622.2h0"/><path d="M71.7 589.4h0"/><path d="M164.9 644.8h0"/><path d="M149.2 629.6h0"/><path d="M120.8 670.1h0"/><path d="M170.4 598.4h0"/><path d="M178.6 642.8h0"/><path d="M123.7 642.4h0"/><path d="M64.6 616.4h0"/><path d="M171.0 642.6h0"/><path d="M164.1 619.5h0"/><path d="M80.7 587.6h0"/><path d="M177.2 604.9h0"/><path d="M97.2 610.3h0"/><path d="M116.5 652.2h0"/><path d="M141.7 621.9h0"/><path d="M124.0 639.8h0"/><path d="M126.2 650.5h0"/><path d="M82.8 602.2h0"/><path d="M142.2 637.0h0"/><path d="M33.9 631.3h0"/><path d="M164.7 630.4h0"/><path d="M35.2 606.4h0"/><path d="M144.0 655.6h0"/><path d="M115.4 645.3h0"/><path d="M138.5 636.6h0"/><path d="M105.8 616.2h0"/><path d="M57.9 596.6h0"/><path d="M128.2 647.5h0"/><path d="M140.1 635.0h0"/><path d="M54.1 623.7h0"/><path d="M161.2 642.8h0"/><path d="M92.6 627.6h0"/><path d="M100.1 636.7h0"/><path d="M144.0 645.5h0"/><path d="M134.1 658.9h0"/><path d="M89.2 614.7h0"/><path d="M50.5 562.0h0"/><path d="M173.4 587.4h0"/><path d="M100.7 625.5h0"/><path d="M134.2 662.8h0"/><path d="M93.2 605.8h0"/><path d="M96.7 635.4h0"/><path d="M156.4 654.0h0"/><path d="M118.3 629.4h0"/><path d="M122.5 634.5h0"/><path d="M65.1 578.0h0"/><path d="M113.9 609.8h0"/><path d="M148.5 667.2h0"/><path d="M56.7 593.2h0"/><path d="M141.8 651.7h0"/><path d="M69.0 696.7h0"/><path d="M105.7 698.5h0"/><path d="M153.7 663.4h0"/><path d="M59.9 670.3h0"/><path d="M129.9 691.6h0"/><path d="M103.8 598.8h0"/><path d="M138.6 681.6h0"/><path d="M130.8 668.4h0"/></g><g stroke="rgba(31,114,196,0.3)" stroke-width="2.10" stroke-linecap="round"><path d="M101.8 624.2h0"/><path d="M157.0 632.4h0"/><path d="M89.4 602.5h0"/><path d="M125.4 647.2h0"/><path d="M81.7 602.0h0"/><path d="M110.6 620.8h0"/><path d="M164.4 653.6h0"/><path d="M124.1 644.2h0"/><path d="M52.3 623.2h0"/><path d="M125.7 636.0h0"/><path d="M84.4 599.8h0"/><path d="M176.5 627.1h0"/><path d="M44.5 616.1h0"/><path d="M119.4 631.2h0"/><path d="M139.1 658.0h0"/><path d="M106.2 633.7h0"/><path d="M83.9 599.0h0"/><path d="M137.1 669.0h0"/><path d="M36.3 605.7h0"/><path d="M104.1 621.0h0"/><path d="M82.8 588.3h0"/><path d="M54.7 580.0h0"/><path d="M106.7 580.8h0"/><path d="M147.8 653.8h0"/><path d="M141.1 640.7h0"/><path d="M64.4 573.6h0"/><path d="M41.9 601.2h0"/><path d="M167.3 643.0h0"/><path d="M95.5 630.3h0"/><path d="M155.7 656.5h0"/><path d="M168.2 599.7h0"/><path d="M117.0 641.7h0"/><path d="M107.4 634.6h0"/><path d="M92.7 641.3h0"/><path d="M107.6 594.5h0"/><path d="M33.6 643.4h0"/><path d="M48.5 638.4h0"/><path d="M149.9 638.0h0"/><path d="M122.4 637.5h0"/><path d="M75.1 645.4h0"/><path d="M91.2 649.0h0"/><path d="M136.0 668.1h0"/><path d="M153.4 642.9h0"/><path d="M92.2 647.1h0"/><path d="M138.2 692.6h0"/><path d="M128.7 688.4h0"/><path d="M131.9 597.5h0"/><path d="M40.3 623.9h0"/><path d="M82.2 645.3h0"/></g><path d="M31.20,616.60C32.03,616.08 34.43,614.48 36.20,613.50C37.97,612.52 39.93,611.58 41.80,610.70C43.67,609.82 45.53,608.95 47.40,608.20C49.27,607.45 51.13,606.77 53.00,606.20C54.87,605.63 56.75,605.23 58.60,604.80C60.45,604.37 62.25,603.87 64.10,603.60C65.95,603.33 67.83,603.23 69.70,603.20C71.57,603.17 73.43,603.22 75.30,603.40C77.17,603.58 79.03,603.88 80.90,604.30C82.77,604.72 84.63,605.20 86.50,605.90C88.37,606.60 90.23,607.52 92.10,608.50C93.97,609.48 95.72,610.25 97.70,611.80C99.68,613.35 101.85,615.57 104.00,617.80C106.15,620.03 108.57,622.85 110.60,625.20C112.63,627.55 114.33,629.57 116.20,631.90C118.07,634.23 119.93,636.77 121.80,639.20C123.67,641.63 125.53,644.58 127.40,646.50C129.27,648.42 131.33,649.87 133.00,650.70C134.67,651.53 135.92,651.55 137.40,651.50C138.88,651.45 140.22,651.15 141.90,650.40C143.58,649.65 145.63,648.50 147.50,647.00C149.37,645.50 151.23,643.27 153.10,641.40C154.97,639.53 156.83,637.67 158.70,635.80C160.57,633.93 162.43,631.97 164.30,630.20C166.17,628.43 168.03,626.78 169.90,625.20C171.77,623.62 173.45,622.10 175.50,620.70C177.55,619.30 181.08,617.45 182.20,616.80" fill="none" stroke="#ff1a1a" stroke-width="1.15" stroke-opacity="0.85"/><path d="M36.7,600.7V612.2M34.0,600.7H39.4M34.0,612.2H39.4" stroke="rgba(44,160,44,0.6)" stroke-width="1" fill="none"/><path d="M36.7,603.2V610.2M34.0,603.2H39.4M34.0,610.2H39.4" stroke="rgba(0,0,0,0.8)" stroke-width="1" fill="none"/><path d="M40.3,616.1V621.2M37.6,616.1H43.0M37.6,621.2H43.0" stroke="rgba(230,0,0,0.5)" stroke-width="1" fill="none"/><path d="M45.7,605.8V609.1M43.0,605.8H48.4M43.0,609.1H48.4" stroke="rgba(31,114,196,0.75)" stroke-width="1" fill="none"/><path d="M50.0,598.1V605.8M47.3,598.1H52.7M47.3,605.8H52.7" stroke="rgba(44,160,44,0.6)" stroke-width="1" fill="none"/><path d="M55.2,606.6V610.4M52.5,606.6H57.9M52.5,610.4H57.9" stroke="rgba(230,0,0,0.5)" stroke-width="1" fill="none"/><path d="M55.2,614.3V626.3M52.5,614.3H57.9M52.5,626.3H57.9" stroke="rgba(0,0,0,0.8)" stroke-width="1" fill="none"/><path d="M55.9,615.3V620.4M53.2,615.3H58.6M53.2,620.4H58.6" stroke="rgba(31,114,196,0.75)" stroke-width="1" fill="none"/><path d="M69.8,593.8V605.8M67.1,593.8H72.5M67.1,605.8H72.5" stroke="rgba(44,160,44,0.6)" stroke-width="1" fill="none"/><path d="M71.3,593.5V596.3M68.6,593.5H74.0M68.6,596.3H74.0" stroke="rgba(31,114,196,0.75)" stroke-width="1" fill="none"/><path d="M69.8,602.5V606.3M67.1,602.5H72.5M67.1,606.3H72.5" stroke="rgba(230,0,0,0.5)" stroke-width="1" fill="none"/><path d="M72.6,627.1V650.2M69.9,627.1H75.3M69.9,650.2H75.3" stroke="rgba(0,0,0,0.8)" stroke-width="1" fill="none"/><path d="M81.6,593.8V597.3M78.9,593.8H84.3M78.9,597.3H84.3" stroke="rgba(31,114,196,0.75)" stroke-width="1" fill="none"/><path d="M82.6,599.4V608.9M79.9,599.4H85.3M79.9,608.9H85.3" stroke="rgba(44,160,44,0.6)" stroke-width="1" fill="none"/><path d="M82.6,606.3V633.5M79.9,606.3H85.3M79.9,633.5H85.3" stroke="rgba(0,0,0,0.8)" stroke-width="1" fill="none"/><path d="M86.7,607.6V610.4M84.0,607.6H89.4M84.0,610.4H89.4" stroke="rgba(230,0,0,0.5)" stroke-width="1" fill="none"/><path d="M96.2,605.8V617.4M93.5,605.8H98.9M93.5,617.4H98.9" stroke="rgba(44,160,44,0.6)" stroke-width="1" fill="none"/><path d="M98.0,603.2V619.2M95.3,603.2H100.7M95.3,619.2H100.7" stroke="rgba(0,0,0,0.8)" stroke-width="1" fill="none"/><path d="M96.7,609.7V614.3M94.0,609.7H99.4M94.0,614.3H99.4" stroke="rgba(230,0,0,0.5)" stroke-width="1" fill="none"/><path d="M100.1,595.5V603.2M97.4,595.5H102.8M97.4,603.2H102.8" stroke="rgba(31,114,196,0.75)" stroke-width="1" fill="none"/><path d="M108.3,626.3V645.6M105.6,626.3H111.0M105.6,645.6H111.0" stroke="rgba(0,0,0,0.8)" stroke-width="1" fill="none"/><path d="M112.1,634.0V643.5M109.4,634.0H114.8M109.4,643.5H114.8" stroke="rgba(44,160,44,0.6)" stroke-width="1" fill="none"/><path d="M115.5,637.4V641.0M112.8,637.4H118.2M112.8,641.0H118.2" stroke="rgba(230,0,0,0.5)" stroke-width="1" fill="none"/><path d="M118.0,643.8V648.2M115.3,643.8H120.7M115.3,648.2H120.7" stroke="rgba(31,114,196,0.75)" stroke-width="1" fill="none"/><path d="M126.5,628.4V641.0M123.8,628.4H129.2M123.8,641.0H129.2" stroke="rgba(0,0,0,0.8)" stroke-width="1" fill="none"/><path d="M125.2,652.8V657.1M122.5,652.8H127.9M122.5,657.1H127.9" stroke="rgba(31,114,196,0.75)" stroke-width="1" fill="none"/><path d="M130.4,648.2V650.7M127.7,648.2H133.1M127.7,650.7H133.1" stroke="rgba(230,0,0,0.5)" stroke-width="1" fill="none"/><path d="M138.6,658.4V672.5M135.9,658.4H141.3M135.9,672.5H141.3" stroke="rgba(44,160,44,0.6)" stroke-width="1" fill="none"/><path d="M127.8,684.1V702.0M125.1,684.1H130.5M125.1,702.0H130.5" stroke="rgba(44,160,44,0.6)" stroke-width="1" fill="none"/><path d="M141.1,674.3V691.8M138.4,674.3H143.8M138.4,691.8H143.8" stroke="rgba(0,0,0,0.8)" stroke-width="1" fill="none"/><path d="M147.5,675.1V688.7M144.8,675.1H150.2M144.8,688.7H150.2" stroke="rgba(31,114,196,0.75)" stroke-width="1" fill="none"/><path d="M147.5,646.4V648.9M144.8,646.4H150.2M144.8,648.9H150.2" stroke="rgba(230,0,0,0.5)" stroke-width="1" fill="none"/><path d="M154.7,642.5V646.9M152.0,642.5H157.4M152.0,646.9H157.4" stroke="rgba(31,114,196,0.75)" stroke-width="1" fill="none"/><path d="M159.6,614.3V621.2M156.9,614.3H162.3M156.9,621.2H162.3" stroke="rgba(44,160,44,0.6)" stroke-width="1" fill="none"/><path d="M159.6,628.1V630.7M156.9,628.1H162.3M156.9,630.7H162.3" stroke="rgba(230,0,0,0.5)" stroke-width="1" fill="none"/><path d="M171.9,625.1V641.0M169.2,625.1H174.6M169.2,641.0H174.6" stroke="rgba(0,0,0,0.8)" stroke-width="1" fill="none"/><path d="M173.2,626.3V631.5M170.5,626.3H175.9M170.5,631.5H175.9" stroke="rgba(230,0,0,0.5)" stroke-width="1" fill="none"/><path d="M172.4,625.6V630.7M169.7,625.6H175.1M169.7,630.7H175.1" stroke="rgba(31,114,196,0.75)" stroke-width="1" fill="none"/><path d="M177.8,594.3V605.8M175.1,594.3H180.5M175.1,605.8H180.5" stroke="rgba(44,160,44,0.6)" stroke-width="1" fill="none"/><circle cx="36.7" cy="607.1" r="1.2" fill="#2ca02c"/><circle cx="36.7" cy="606.6" r="1.2" fill="#000000"/><circle cx="40.3" cy="618.6" r="1.2" fill="#e60000"/><circle cx="45.7" cy="607.6" r="1.2" fill="#1f72c4"/><circle cx="50.0" cy="602.5" r="1.2" fill="#2ca02c"/><circle cx="55.2" cy="608.4" r="1.2" fill="#e60000"/><circle cx="55.2" cy="619.9" r="1.2" fill="#000000"/><circle cx="55.9" cy="617.9" r="1.2" fill="#1f72c4"/><circle cx="69.8" cy="599.4" r="1.2" fill="#2ca02c"/><circle cx="71.3" cy="594.8" r="1.2" fill="#1f72c4"/><circle cx="69.8" cy="604.0" r="1.2" fill="#e60000"/><circle cx="72.6" cy="638.4" r="1.2" fill="#000000"/><circle cx="81.6" cy="595.5" r="1.2" fill="#1f72c4"/><circle cx="82.6" cy="603.2" r="1.2" fill="#2ca02c"/><circle cx="82.6" cy="619.9" r="1.2" fill="#000000"/><circle cx="86.7" cy="608.9" r="1.2" fill="#e60000"/><circle cx="96.2" cy="610.9" r="1.2" fill="#2ca02c"/><circle cx="98.0" cy="611.5" r="1.2" fill="#000000"/><circle cx="96.7" cy="612.2" r="1.2" fill="#e60000"/><circle cx="100.1" cy="599.4" r="1.2" fill="#1f72c4"/><circle cx="108.3" cy="636.1" r="1.2" fill="#000000"/><circle cx="112.1" cy="638.7" r="1.2" fill="#2ca02c"/><circle cx="115.5" cy="639.2" r="1.2" fill="#e60000"/><circle cx="118.0" cy="646.1" r="1.2" fill="#1f72c4"/><circle cx="126.5" cy="634.8" r="1.2" fill="#000000"/><circle cx="125.2" cy="655.1" r="1.2" fill="#1f72c4"/><circle cx="130.4" cy="649.4" r="1.2" fill="#e60000"/><circle cx="138.6" cy="665.3" r="1.2" fill="#2ca02c"/><circle cx="127.8" cy="697.4" r="1.2" fill="#2ca02c"/><circle cx="141.1" cy="682.8" r="1.2" fill="#000000"/><circle cx="147.5" cy="682.0" r="1.2" fill="#1f72c4"/><circle cx="147.5" cy="647.6" r="1.2" fill="#e60000"/><circle cx="154.7" cy="644.6" r="1.2" fill="#1f72c4"/><circle cx="159.6" cy="617.9" r="1.2" fill="#2ca02c"/><circle cx="159.6" cy="629.4" r="1.2" fill="#e60000"/><circle cx="171.9" cy="632.8" r="1.2" fill="#000000"/><circle cx="173.2" cy="628.9" r="1.2" fill="#e60000"/><circle cx="172.4" cy="628.1" r="1.2" fill="#1f72c4"/><circle cx="177.8" cy="599.9" r="1.2" fill="#2ca02c"/></g><g clip-path="url(#c30b)"><g stroke="rgba(0,0,0,0.3)" stroke-width="2.10" stroke-linecap="round"><path d="M31.4 729.6h0"/><path d="M93.9 731.2h0"/><path d="M42.8 735.1h0"/><path d="M163.3 737.3h0"/><path d="M88.5 731.2h0"/><path d="M83.4 734.4h0"/><path d="M148.3 730.3h0"/><path d="M141.9 732.4h0"/><path d="M156.7 726.9h0"/><path d="M163.1 735.0h0"/><path d="M68.0 734.0h0"/><path d="M32.3 740.3h0"/><path d="M71.6 739.2h0"/><path d="M120.6 738.0h0"/><path d="M136.2 734.8h0"/><path d="M121.5 734.0h0"/><path d="M142.3 729.1h0"/><path d="M97.6 735.6h0"/><path d="M123.3 735.3h0"/><path d="M153.4 735.1h0"/><path d="M179.1 735.6h0"/><path d="M84.7 736.4h0"/><path d="M162.7 728.6h0"/><path d="M97.1 730.9h0"/><path d="M146.4 730.4h0"/><path d="M49.0 732.5h0"/><path d="M105.6 730.4h0"/><path d="M33.6 733.4h0"/><path d="M129.0 737.0h0"/><path d="M51.3 728.0h0"/><path d="M178.8 733.3h0"/><path d="M156.3 724.0h0"/><path d="M114.2 731.0h0"/><path d="M54.4 732.0h0"/><path d="M57.9 736.2h0"/><path d="M42.3 730.9h0"/><path d="M102.7 729.6h0"/><path d="M87.0 735.4h0"/><path d="M140.8 731.1h0"/><path d="M44.5 730.5h0"/><path d="M118.2 734.4h0"/><path d="M142.0 734.8h0"/><path d="M155.0 732.1h0"/><path d="M109.7 730.2h0"/><path d="M98.6 726.7h0"/><path d="M126.4 734.7h0"/><path d="M155.7 737.8h0"/><path d="M117.3 722.2h0"/><path d="M139.6 734.7h0"/><path d="M160.5 729.7h0"/><path d="M101.5 738.2h0"/><path d="M35.2 731.9h0"/><path d="M137.6 727.0h0"/><path d="M137.4 733.4h0"/><path d="M150.8 729.2h0"/><path d="M130.1 734.9h0"/><path d="M58.9 733.0h0"/><path d="M181.9 732.3h0"/><path d="M161.1 731.5h0"/><path d="M118.3 724.8h0"/><path d="M135.4 728.8h0"/><path d="M118.8 722.9h0"/><path d="M146.4 728.1h0"/><path d="M100.1 730.8h0"/><path d="M125.3 731.9h0"/><path d="M165.7 735.9h0"/><path d="M52.5 737.6h0"/><path d="M37.3 732.7h0"/><path d="M150.9 730.2h0"/><path d="M47.5 730.3h0"/><path d="M122.5 737.5h0"/><path d="M45.5 728.7h0"/><path d="M68.6 730.3h0"/><path d="M49.3 732.6h0"/><path d="M88.4 727.7h0"/><path d="M162.9 728.7h0"/><path d="M121.4 732.6h0"/><path d="M82.8 727.0h0"/><path d="M173.6 737.2h0"/><path d="M52.3 731.2h0"/><path d="M173.2 736.7h0"/><path d="M78.6 737.2h0"/><path d="M97.9 734.9h0"/><path d="M108.7 728.7h0"/><path d="M94.6 737.6h0"/><path d="M128.5 728.7h0"/><path d="M67.0 729.7h0"/><path d="M164.2 727.9h0"/><path d="M54.7 730.1h0"/><path d="M90.8 735.3h0"/><path d="M88.9 734.7h0"/><path d="M34.8 721.6h0"/><path d="M114.7 731.8h0"/><path d="M109.6 732.2h0"/><path d="M53.2 730.0h0"/><path d="M104.9 727.5h0"/><path d="M87.3 727.1h0"/><path d="M68.8 730.7h0"/><path d="M99.0 733.2h0"/><path d="M58.3 733.5h0"/><path d="M78.1 730.5h0"/><path d="M56.1 739.1h0"/><path d="M39.5 730.0h0"/><path d="M98.8 734.6h0"/><path d="M83.8 726.5h0"/><path d="M178.1 730.3h0"/><path d="M61.1 730.2h0"/><path d="M146.7 729.9h0"/><path d="M60.5 729.7h0"/><path d="M110.5 725.1h0"/><path d="M76.5 725.2h0"/><path d="M171.0 734.7h0"/><path d="M125.3 732.0h0"/><path d="M72.2 731.3h0"/><path d="M45.2 735.5h0"/><path d="M36.8 731.6h0"/><path d="M43.8 729.9h0"/><path d="M72.0 734.3h0"/><path d="M49.9 727.6h0"/><path d="M152.9 728.5h0"/><path d="M86.2 721.0h0"/><path d="M132.6 728.0h0"/><path d="M127.7 718.3h0"/><path d="M111.1 726.1h0"/><path d="M110.7 727.3h0"/><path d="M36.6 732.6h0"/><path d="M167.4 744.0h0"/><path d="M117.1 735.6h0"/><path d="M91.9 722.2h0"/><path d="M146.7 713.7h0"/><path d="M114.5 726.2h0"/><path d="M162.9 719.6h0"/><path d="M65.3 728.9h0"/><path d="M94.4 737.4h0"/><path d="M45.3 722.9h0"/><path d="M66.3 726.8h0"/></g><g stroke="rgba(44,160,44,0.3)" stroke-width="2.10" stroke-linecap="round"><path d="M157.4 730.3h0"/><path d="M75.9 726.1h0"/><path d="M91.1 726.6h0"/><path d="M86.7 732.3h0"/><path d="M40.3 731.8h0"/><path d="M172.9 725.1h0"/><path d="M56.8 726.5h0"/><path d="M37.8 725.9h0"/><path d="M136.9 732.3h0"/><path d="M179.6 727.9h0"/><path d="M143.5 729.3h0"/><path d="M145.5 735.7h0"/><path d="M45.6 731.9h0"/><path d="M83.6 726.7h0"/><path d="M106.2 731.0h0"/><path d="M177.4 734.9h0"/><path d="M150.8 726.5h0"/><path d="M120.3 728.6h0"/><path d="M82.7 731.0h0"/><path d="M80.9 729.3h0"/><path d="M164.8 734.3h0"/><path d="M42.4 729.0h0"/><path d="M147.0 728.2h0"/><path d="M131.1 735.4h0"/><path d="M57.6 733.9h0"/><path d="M119.7 728.0h0"/><path d="M94.4 734.1h0"/><path d="M156.8 730.7h0"/><path d="M46.1 730.5h0"/><path d="M79.7 728.1h0"/><path d="M170.8 726.6h0"/><path d="M69.0 733.7h0"/><path d="M176.9 725.8h0"/><path d="M106.7 733.4h0"/><path d="M112.7 726.3h0"/><path d="M172.3 730.5h0"/><path d="M63.5 727.7h0"/><path d="M133.8 733.7h0"/><path d="M36.6 734.2h0"/><path d="M174.8 734.3h0"/><path d="M102.3 733.0h0"/><path d="M156.1 727.9h0"/><path d="M32.1 731.9h0"/><path d="M110.8 736.1h0"/><path d="M137.9 732.7h0"/><path d="M181.3 739.1h0"/><path d="M150.8 720.4h0"/><path d="M93.4 732.1h0"/><path d="M92.5 734.0h0"/></g><g stroke="rgba(230,0,0,0.28)" stroke-width="2.10" stroke-linecap="round"><path d="M173.3 729.1h0"/><path d="M173.9 733.9h0"/><path d="M90.3 730.9h0"/><path d="M48.3 732.7h0"/><path d="M161.8 730.6h0"/><path d="M148.7 731.9h0"/><path d="M107.9 731.3h0"/><path d="M169.3 732.4h0"/><path d="M56.4 735.0h0"/><path d="M99.5 731.7h0"/><path d="M117.7 733.5h0"/><path d="M172.2 731.7h0"/><path d="M54.0 729.5h0"/><path d="M176.1 729.5h0"/><path d="M38.3 732.4h0"/><path d="M104.4 731.3h0"/><path d="M124.0 730.0h0"/><path d="M163.1 729.8h0"/><path d="M179.8 731.7h0"/><path d="M89.2 729.9h0"/><path d="M113.6 729.5h0"/><path d="M163.8 733.9h0"/><path d="M153.5 732.6h0"/><path d="M144.6 731.6h0"/><path d="M94.2 733.1h0"/><path d="M126.8 732.1h0"/><path d="M125.4 730.5h0"/><path d="M35.4 731.0h0"/><path d="M164.3 732.4h0"/><path d="M89.8 727.4h0"/><path d="M103.3 730.2h0"/><path d="M149.6 735.2h0"/><path d="M75.7 732.9h0"/><path d="M86.1 730.3h0"/><path d="M85.0 730.8h0"/><path d="M50.6 731.8h0"/><path d="M133.7 732.0h0"/><path d="M164.2 731.1h0"/><path d="M94.3 729.0h0"/><path d="M90.1 734.2h0"/><path d="M33.4 729.8h0"/><path d="M88.6 731.0h0"/><path d="M158.2 731.3h0"/><path d="M120.2 731.1h0"/><path d="M78.5 732.2h0"/><path d="M45.4 732.8h0"/><path d="M64.9 732.8h0"/><path d="M178.8 731.9h0"/><path d="M48.3 731.5h0"/><path d="M118.8 730.0h0"/><path d="M72.8 731.3h0"/><path d="M114.3 731.7h0"/><path d="M173.0 731.0h0"/><path d="M126.6 729.3h0"/><path d="M160.7 730.9h0"/><path d="M76.0 728.0h0"/><path d="M84.8 730.2h0"/><path d="M94.4 733.3h0"/><path d="M100.0 731.8h0"/><path d="M68.9 733.5h0"/><path d="M178.0 731.9h0"/><path d="M55.2 730.4h0"/><path d="M86.5 732.3h0"/><path d="M177.2 732.1h0"/><path d="M34.5 731.6h0"/><path d="M156.3 732.1h0"/><path d="M48.2 732.2h0"/><path d="M118.2 731.6h0"/><path d="M158.8 735.1h0"/><path d="M177.7 729.4h0"/><path d="M123.2 731.1h0"/><path d="M159.2 732.6h0"/><path d="M131.9 730.9h0"/><path d="M39.3 732.7h0"/><path d="M97.6 731.4h0"/><path d="M117.5 734.2h0"/><path d="M132.7 733.7h0"/><path d="M166.3 731.1h0"/><path d="M92.8 731.9h0"/><path d="M113.5 731.8h0"/><path d="M53.1 731.3h0"/><path d="M40.3 730.2h0"/><path d="M137.4 730.0h0"/><path d="M148.2 732.6h0"/><path d="M170.8 731.0h0"/><path d="M168.0 731.7h0"/><path d="M79.0 729.7h0"/><path d="M176.9 732.3h0"/><path d="M173.0 730.2h0"/><path d="M36.0 729.3h0"/><path d="M174.9 731.3h0"/><path d="M111.1 732.9h0"/><path d="M131.4 734.1h0"/><path d="M147.5 732.3h0"/><path d="M91.4 729.4h0"/><path d="M85.7 731.7h0"/><path d="M80.6 733.3h0"/><path d="M113.2 729.0h0"/><path d="M34.5 730.9h0"/><path d="M168.7 729.8h0"/><path d="M99.6 731.6h0"/><path d="M42.7 733.3h0"/><path d="M113.9 730.9h0"/><path d="M124.2 730.8h0"/><path d="M140.0 731.9h0"/><path d="M68.0 729.6h0"/><path d="M129.2 731.8h0"/><path d="M46.4 729.2h0"/><path d="M130.4 731.1h0"/><path d="M42.8 730.7h0"/><path d="M48.9 732.1h0"/><path d="M46.4 731.5h0"/><path d="M42.8 729.7h0"/><path d="M145.7 730.3h0"/><path d="M61.7 733.5h0"/><path d="M56.2 730.9h0"/><path d="M79.4 730.4h0"/><path d="M61.6 731.5h0"/><path d="M156.5 729.2h0"/><path d="M148.3 730.2h0"/><path d="M161.0 727.2h0"/><path d="M42.0 726.9h0"/><path d="M142.7 724.5h0"/><path d="M107.5 727.5h0"/><path d="M102.0 731.9h0"/></g><g stroke="rgba(31,114,196,0.3)" stroke-width="2.10" stroke-linecap="round"><path d="M128.1 726.6h0"/><path d="M141.7 729.3h0"/><path d="M106.4 731.0h0"/><path d="M126.8 732.5h0"/><path d="M168.1 730.0h0"/><path d="M68.1 733.2h0"/><path d="M182.9 728.6h0"/><path d="M138.2 731.4h0"/><path d="M96.5 730.1h0"/><path d="M139.0 733.5h0"/><path d="M101.0 734.4h0"/><path d="M120.3 732.6h0"/><path d="M72.0 733.4h0"/><path d="M145.2 729.2h0"/><path d="M149.9 727.3h0"/><path d="M34.7 732.0h0"/><path d="M72.6 732.4h0"/><path d="M93.2 733.1h0"/><path d="M83.5 732.8h0"/><path d="M78.3 729.6h0"/><path d="M165.8 734.6h0"/><path d="M62.0 733.2h0"/><path d="M56.7 734.9h0"/><path d="M152.0 731.8h0"/><path d="M168.1 730.0h0"/><path d="M80.2 729.6h0"/><path d="M137.3 731.0h0"/><path d="M92.0 733.4h0"/><path d="M40.1 730.4h0"/><path d="M91.5 730.5h0"/><path d="M147.9 731.4h0"/><path d="M110.8 732.1h0"/><path d="M83.6 727.7h0"/><path d="M86.3 728.9h0"/><path d="M36.3 729.5h0"/><path d="M60.1 733.3h0"/><path d="M141.3 732.3h0"/><path d="M98.0 732.6h0"/><path d="M176.4 733.9h0"/><path d="M179.3 733.6h0"/><path d="M61.3 733.4h0"/><path d="M103.0 731.0h0"/><path d="M127.5 732.4h0"/><path d="M161.3 729.1h0"/><path d="M119.2 731.9h0"/><path d="M119.1 727.3h0"/><path d="M169.0 730.3h0"/><path d="M129.9 734.6h0"/><path d="M104.5 728.4h0"/><path d="M108.9 732.7h0"/></g></g><line x1="29.6" y1="731.5" x2="186.9" y2="731.5" stroke="#222" stroke-width="0.95" stroke-dasharray="2.3,2.7"/><path d="M25.45,590.60H188.45V750.60H25.45ZM25.45,701.90H188.45" fill="none" stroke="#646464" stroke-width="1.00"/><path d="M21.4,597.6H25.4M21.4,622.5H25.4M21.4,647.4H25.4M21.4,672.4H25.4M21.4,697.3H25.4M21.4,708.6H25.4M21.4,716.3H25.4M21.4,724.0H25.4M21.4,731.5H25.4M21.4,739.2H25.4M21.4,746.8H25.4M31.3,750.6V754.6M31.3,701.9V705.9M56.1,750.6V754.6M56.1,701.9V705.9M80.9,750.6V754.6M80.9,701.9V705.9M105.7,750.6V754.6M105.7,701.9V705.9M130.5,750.6V754.6M130.5,701.9V705.9M155.3,750.6V754.6M155.3,701.9V705.9M180.1,750.6V754.6M180.1,701.9V705.9" stroke="#646464" stroke-width="1.00" fill="none"/><text transform="translate(17.4,597.6) rotate(-90)" font-size="5.6" text-anchor="middle" fill="#222">2</text><text transform="translate(17.4,622.5) rotate(-90)" font-size="5.6" text-anchor="middle" fill="#222">0</text><text transform="translate(17.4,647.4) rotate(-90)" font-size="5.6" text-anchor="middle" fill="#222">&#8722;2</text><text transform="translate(17.4,672.4) rotate(-90)" font-size="5.6" text-anchor="middle" fill="#222">&#8722;4</text><text transform="translate(17.4,697.3) rotate(-90)" font-size="5.6" text-anchor="middle" fill="#222">&#8722;6</text><text transform="translate(17.4,716.3) rotate(-90)" font-size="5.6" text-anchor="middle" fill="#222">10</text><text transform="translate(17.4,731.5) rotate(-90)" font-size="5.6" text-anchor="middle" fill="#222">0</text><text transform="translate(17.4,746.8) rotate(-90)" font-size="5.6" text-anchor="middle" fill="#222">&#8722;10</text><text x="31.3" y="763.3" font-size="5.6" text-anchor="middle" fill="#222">0</text><text x="56.1" y="763.3" font-size="5.6" text-anchor="middle" fill="#222">20</text><text x="80.9" y="763.3" font-size="5.6" text-anchor="middle" fill="#222">40</text><text x="105.7" y="763.3" font-size="5.6" text-anchor="middle" fill="#222">60</text><text x="130.5" y="763.3" font-size="5.6" text-anchor="middle" fill="#222">80</text><text x="155.3" y="763.3" font-size="5.6" text-anchor="middle" fill="#222">100</text><text x="180.1" y="763.3" font-size="5.6" text-anchor="middle" fill="#222">120</text><text transform="translate(6.6,646.3) rotate(-90)" font-size="8.5" text-anchor="middle" fill="#000" class="s">RV [m/s]</text><text transform="translate(6.6,726.3) rotate(-90)" font-size="8.5" text-anchor="middle" fill="#000" class="s">O-C [m/s]</text><text x="184.5" y="712.4" font-size="8.5" text-anchor="end" fill="#000" class="s">RMS=2.4 m/s</text><text x="106.9" y="777.2" font-size="8.5" text-anchor="middle" fill="#000" class="s">Orbital phase [day]</text>
<clipPath id="c31a"><rect x="215.4" y="590.6" width="163.0" height="111.3"/></clipPath><clipPath id="c31b"><rect x="215.4" y="701.9" width="163.0" height="48.7"/></clipPath><text x="296.9" y="587.1" font-size="8.6" font-weight="bold" text-anchor="middle" fill="#000">GJ 433 b</text><g clip-path="url(#c31a)"><g stroke="rgba(0,0,0,0.3)" stroke-width="2.10" stroke-linecap="round"><path d="M354.4 606.6h0"/><path d="M236.8 636.1h0"/><path d="M269.5 687.8h0"/><path d="M306.0 647.1h0"/><path d="M326.5 633.1h0"/><path d="M358.1 638.3h0"/><path d="M263.1 658.1h0"/><path d="M280.6 676.7h0"/><path d="M355.4 588.8h0"/><path d="M370.9 654.2h0"/><path d="M355.7 623.8h0"/><path d="M343.5 607.1h0"/><path d="M280.8 651.9h0"/><path d="M260.6 710.2h0"/><path d="M239.0 660.9h0"/><path d="M313.3 632.8h0"/><path d="M311.6 649.0h0"/><path d="M344.0 632.2h0"/><path d="M360.2 637.2h0"/><path d="M222.7 646.7h0"/><path d="M289.2 660.5h0"/><path d="M350.8 612.3h0"/><path d="M263.9 668.2h0"/><path d="M331.0 631.8h0"/><path d="M309.6 620.8h0"/><path d="M297.5 694.4h0"/><path d="M249.7 665.6h0"/><path d="M274.3 673.2h0"/><path d="M366.9 613.3h0"/><path d="M294.9 658.3h0"/><path d="M363.4 617.9h0"/><path d="M315.3 651.8h0"/><path d="M334.6 624.7h0"/><path d="M257.7 666.9h0"/><path d="M256.1 699.2h0"/><path d="M360.6 580.4h0"/><path d="M273.5 678.9h0"/><path d="M236.7 683.2h0"/><path d="M361.6 656.0h0"/><path d="M252.8 681.2h0"/><path d="M330.4 597.9h0"/><path d="M260.1 676.7h0"/><path d="M269.9 682.2h0"/><path d="M366.7 667.1h0"/><path d="M269.5 673.1h0"/><path d="M222.6 663.8h0"/><path d="M324.1 646.7h0"/><path d="M305.8 673.9h0"/><path d="M373.1 661.7h0"/></g><g stroke="rgba(44,160,44,0.3)" stroke-width="2.10" stroke-linecap="round"><path d="M359.6 607.6h0"/><path d="M260.8 653.2h0"/><path d="M283.2 667.2h0"/><path d="M284.0 701.4h0"/><path d="M344.3 606.6h0"/><path d="M226.4 637.3h0"/><path d="M326.6 644.6h0"/><path d="M316.5 640.5h0"/><path d="M352.4 607.3h0"/><path d="M245.0 642.8h0"/><path d="M250.6 680.1h0"/><path d="M323.9 610.7h0"/><path d="M348.9 621.6h0"/><path d="M239.0 641.2h0"/><path d="M308.8 644.3h0"/><path d="M322.5 630.5h0"/><path d="M250.7 645.8h0"/><path d="M236.1 651.4h0"/><path d="M221.5 636.0h0"/><path d="M345.5 599.8h0"/><path d="M252.7 663.9h0"/><path d="M221.7 626.4h0"/><path d="M345.0 626.7h0"/><path d="M330.4 598.2h0"/><path d="M263.5 647.9h0"/><path d="M371.2 604.9h0"/><path d="M253.3 679.2h0"/><path d="M341.8 588.8h0"/><path d="M358.6 603.4h0"/><path d="M235.0 656.7h0"/><path d="M279.2 664.7h0"/><path d="M224.1 642.1h0"/><path d="M266.3 683.9h0"/><path d="M242.4 646.5h0"/><path d="M298.4 628.5h0"/><path d="M274.9 690.6h0"/><path d="M361.3 625.9h0"/><path d="M317.4 623.9h0"/><path d="M240.7 668.8h0"/><path d="M355.9 602.4h0"/><path d="M227.0 676.4h0"/><path d="M293.8 638.3h0"/><path d="M321.0 644.1h0"/><path d="M346.6 605.9h0"/><path d="M318.4 639.1h0"/><path d="M343.2 607.8h0"/><path d="M332.3 590.5h0"/><path d="M298.5 681.8h0"/><path d="M276.7 674.5h0"/><path d="M345.6 609.4h0"/><path d="M361.2 610.5h0"/><path d="M355.1 608.9h0"/><path d="M289.0 669.4h0"/><path d="M348.2 611.0h0"/><path d="M229.6 663.7h0"/><path d="M369.6 600.6h0"/><path d="M223.1 612.1h0"/><path d="M245.1 649.8h0"/><path d="M333.2 612.1h0"/><path d="M266.3 684.1h0"/><path d="M249.6 669.3h0"/><path d="M240.0 664.2h0"/><path d="M356.2 594.9h0"/><path d="M248.1 673.9h0"/><path d="M253.2 682.9h0"/><path d="M345.6 644.1h0"/><path d="M354.4 616.7h0"/><path d="M369.7 610.7h0"/><path d="M260.8 692.7h0"/><path d="M353.4 605.9h0"/><path d="M224.8 633.2h0"/><path d="M286.8 666.1h0"/><path d="M325.9 624.2h0"/><path d="M233.6 619.0h0"/><path d="M365.0 597.8h0"/><path d="M290.8 660.8h0"/><path d="M239.0 649.3h0"/><path d="M332.9 607.0h0"/><path d="M226.2 600.1h0"/><path d="M291.1 644.7h0"/><path d="M287.6 665.2h0"/><path d="M264.5 699.7h0"/><path d="M323.7 638.3h0"/><path d="M367.9 611.7h0"/><path d="M334.5 629.3h0"/><path d="M227.3 650.7h0"/><path d="M322.5 638.5h0"/><path d="M240.1 693.9h0"/><path d="M241.9 650.1h0"/><path d="M344.2 625.1h0"/><path d="M269.8 665.1h0"/><path d="M286.5 638.8h0"/><path d="M351.1 591.2h0"/><path d="M313.6 651.3h0"/><path d="M349.3 616.0h0"/><path d="M259.2 633.6h0"/><path d="M240.8 596.0h0"/><path d="M241.0 603.4h0"/><path d="M339.8 690.8h0"/><path d="M292.6 642.9h0"/><path d="M358.1 688.7h0"/><path d="M339.6 653.0h0"/><path d="M316.1 673.2h0"/><path d="M276.3 697.5h0"/><path d="M292.9 653.9h0"/><path d="M322.3 696.8h0"/><path d="M281.6 672.0h0"/><path d="M350.5 618.0h0"/><path d="M221.7 622.5h0"/><path d="M316.7 608.6h0"/><path d="M265.1 645.0h0"/></g><g stroke="rgba(230,0,0,0.28)" stroke-width="2.10" stroke-linecap="round"><path d="M233.8 646.1h0"/><path d="M308.8 664.3h0"/><path d="M263.7 684.9h0"/><path d="M312.8 628.1h0"/><path d="M372.9 633.9h0"/><path d="M221.3 625.5h0"/><path d="M235.3 648.2h0"/><path d="M360.1 648.2h0"/><path d="M231.7 644.0h0"/><path d="M310.1 672.1h0"/><path d="M265.8 668.0h0"/><path d="M335.5 605.5h0"/><path d="M349.7 594.8h0"/><path d="M321.1 590.8h0"/><path d="M295.1 673.1h0"/><path d="M301.9 657.7h0"/><path d="M273.0 677.4h0"/><path d="M234.0 671.2h0"/><path d="M295.0 663.9h0"/><path d="M282.4 693.6h0"/><path d="M335.5 632.3h0"/><path d="M226.6 660.8h0"/><path d="M297.0 637.3h0"/><path d="M245.2 647.7h0"/><path d="M298.6 647.6h0"/><path d="M261.2 704.5h0"/><path d="M324.5 640.6h0"/><path d="M334.8 620.4h0"/><path d="M323.4 622.0h0"/><path d="M319.5 600.2h0"/><path d="M356.3 613.7h0"/><path d="M342.3 629.8h0"/><path d="M299.0 656.1h0"/><path d="M345.8 622.8h0"/><path d="M310.8 670.5h0"/><path d="M355.3 617.1h0"/><path d="M347.4 608.4h0"/><path d="M251.8 665.4h0"/><path d="M370.5 621.8h0"/><path d="M254.3 674.8h0"/><path d="M272.9 678.1h0"/><path d="M293.6 665.8h0"/><path d="M239.1 670.2h0"/><path d="M237.7 683.1h0"/><path d="M221.8 665.3h0"/><path d="M322.2 645.1h0"/><path d="M356.5 658.6h0"/><path d="M250.6 691.3h0"/><path d="M309.2 698.2h0"/><path d="M308.4 668.0h0"/><path d="M343.3 677.2h0"/><path d="M277.6 681.2h0"/><path d="M266.7 654.0h0"/><path d="M326.3 681.6h0"/></g><g stroke="rgba(153,50,168,0.3)" stroke-width="2.10" stroke-linecap="round"><path d="M235.2 641.5h0"/><path d="M273.8 690.7h0"/><path d="M224.6 633.3h0"/><path d="M267.1 704.6h0"/><path d="M328.2 625.7h0"/><path d="M256.1 685.3h0"/><path d="M289.7 699.3h0"/><path d="M351.5 599.2h0"/><path d="M242.6 684.4h0"/><path d="M290.7 680.1h0"/><path d="M222.6 635.4h0"/><path d="M299.1 665.0h0"/><path d="M369.1 638.5h0"/><path d="M272.4 678.6h0"/><path d="M280.5 675.0h0"/><path d="M358.0 629.2h0"/><path d="M228.9 646.2h0"/><path d="M369.4 627.3h0"/><path d="M306.8 663.0h0"/><path d="M309.8 615.7h0"/><path d="M369.0 638.6h0"/><path d="M361.6 590.4h0"/><path d="M312.3 585.5h0"/><path d="M259.9 673.2h0"/><path d="M292.6 653.1h0"/><path d="M224.9 646.5h0"/><path d="M301.1 634.4h0"/><path d="M367.2 649.8h0"/><path d="M307.8 656.8h0"/><path d="M354.2 608.1h0"/><path d="M358.0 681.4h0"/><path d="M284.7 606.4h0"/><path d="M366.1 634.7h0"/><path d="M355.9 648.0h0"/><path d="M260.6 638.7h0"/><path d="M366.9 599.1h0"/><path d="M274.7 688.6h0"/><path d="M330.2 700.4h0"/><path d="M261.2 599.0h0"/><path d="M257.9 646.1h0"/><path d="M312.2 677.6h0"/><path d="M281.1 669.7h0"/><path d="M357.0 667.4h0"/><path d="M272.9 692.1h0"/><path d="M348.1 651.9h0"/><path d="M360.6 640.3h0"/></g><path d="M221.20,631.20C222.03,632.13 224.43,634.67 226.20,636.80C227.97,638.93 229.93,641.58 231.80,644.00C233.67,646.42 235.53,648.87 237.40,651.30C239.27,653.73 241.13,656.27 243.00,658.60C244.87,660.93 246.75,663.25 248.60,665.30C250.45,667.35 252.25,669.32 254.10,670.90C255.95,672.48 257.83,673.82 259.70,674.80C261.57,675.78 263.43,676.38 265.30,676.80C267.17,677.22 269.03,677.48 270.90,677.30C272.77,677.12 274.63,676.58 276.50,675.70C278.37,674.82 280.23,673.45 282.10,672.00C283.97,670.55 285.83,668.87 287.70,667.00C289.57,665.13 291.20,663.27 293.30,660.80C295.40,658.33 298.15,654.97 300.30,652.20C302.45,649.43 304.28,646.75 306.20,644.20C308.12,641.65 309.93,639.23 311.80,636.90C313.67,634.57 315.53,632.33 317.40,630.20C319.27,628.07 321.13,625.97 323.00,624.10C324.87,622.23 326.75,620.50 328.60,619.00C330.45,617.50 332.25,616.12 334.10,615.10C335.95,614.08 337.83,613.37 339.70,612.90C341.57,612.43 343.43,612.30 345.30,612.30C347.17,612.30 349.03,612.43 350.90,612.90C352.77,613.37 354.63,614.17 356.50,615.10C358.37,616.03 360.23,617.10 362.10,618.50C363.97,619.90 365.83,621.45 367.70,623.50C369.57,625.55 372.37,629.58 373.30,630.80" fill="none" stroke="#ff1a1a" stroke-width="1.15" stroke-opacity="0.85"/><path d="M227.2,614.8V637.9M224.5,614.8H229.9M224.5,637.9H229.9" stroke="rgba(0,0,0,0.8)" stroke-width="1" fill="none"/><path d="M229.0,623.8V643.0M226.3,623.8H231.7M226.3,643.0H231.7" stroke="rgba(153,50,168,0.6)" stroke-width="1" fill="none"/><path d="M229.8,638.7V644.3M227.1,638.7H232.5M227.1,644.3H232.5" stroke="rgba(230,0,0,0.5)" stroke-width="1" fill="none"/><path d="M230.5,644.3V651.2M227.8,644.3H233.2M227.8,651.2H233.2" stroke="rgba(44,160,44,0.6)" stroke-width="1" fill="none"/><path d="M246.5,633.5V647.4M243.8,633.5H249.2M243.8,647.4H249.2" stroke="rgba(153,50,168,0.6)" stroke-width="1" fill="none"/><path d="M243.1,652.8V659.7M240.4,652.8H245.8M240.4,659.7H245.8" stroke="rgba(44,160,44,0.6)" stroke-width="1" fill="none"/><path d="M240.8,658.4V702.0M238.1,658.4H243.5M238.1,702.0H243.5" stroke="rgba(0,0,0,0.8)" stroke-width="1" fill="none"/><path d="M245.2,665.6V670.7M242.5,665.6H247.9M242.5,670.7H247.9" stroke="rgba(230,0,0,0.5)" stroke-width="1" fill="none"/><path d="M256.7,668.7V678.9M254.0,668.7H259.4M254.0,678.9H259.4" stroke="rgba(153,50,168,0.6)" stroke-width="1" fill="none"/><path d="M255.4,672.5V685.4M252.7,672.5H258.1M252.7,685.4H258.1" stroke="rgba(0,0,0,0.8)" stroke-width="1" fill="none"/><path d="M259.3,671.8V676.4M256.6,671.8H262.0M256.6,676.4H262.0" stroke="rgba(230,0,0,0.5)" stroke-width="1" fill="none"/><path d="M262.4,676.4V681.5M259.7,676.4H265.1M259.7,681.5H265.1" stroke="rgba(44,160,44,0.6)" stroke-width="1" fill="none"/><path d="M273.9,679.5V702.0M271.2,679.5H276.6M271.2,702.0H276.6" stroke="rgba(0,0,0,0.8)" stroke-width="1" fill="none"/><path d="M273.9,665.6V672.5M271.2,665.6H276.6M271.2,672.5H276.6" stroke="rgba(44,160,44,0.6)" stroke-width="1" fill="none"/><path d="M276.5,665.6V675.1M273.8,665.6H279.2M273.8,675.1H279.2" stroke="rgba(153,50,168,0.6)" stroke-width="1" fill="none"/><path d="M275.5,671.2V676.4M272.8,671.2H278.2M272.8,676.4H278.2" stroke="rgba(230,0,0,0.5)" stroke-width="1" fill="none"/><path d="M285.5,676.4V702.0M282.8,676.4H288.2M282.8,702.0H288.2" stroke="rgba(0,0,0,0.8)" stroke-width="1" fill="none"/><path d="M288.0,664.1V668.7M285.3,664.1H290.7M285.3,668.7H290.7" stroke="rgba(230,0,0,0.5)" stroke-width="1" fill="none"/><path d="M292.1,664.1V670.7M289.4,664.1H294.8M289.4,670.7H294.8" stroke="rgba(44,160,44,0.6)" stroke-width="1" fill="none"/><path d="M292.6,669.2V687.2M289.9,669.2H295.3M289.9,687.2H295.3" stroke="rgba(153,50,168,0.6)" stroke-width="1" fill="none"/><path d="M302.1,611.7V634.6M299.4,611.7H304.8M299.4,634.6H304.8" stroke="rgba(0,0,0,0.8)" stroke-width="1" fill="none"/><path d="M302.4,641.7V656.4M299.7,641.7H305.1M299.7,656.4H305.1" stroke="rgba(153,50,168,0.6)" stroke-width="1" fill="none"/><path d="M304.7,639.7V647.4M302.0,639.7H307.4M302.0,647.4H307.4" stroke="rgba(44,160,44,0.6)" stroke-width="1" fill="none"/><path d="M305.0,625.8V634.0M302.3,625.8H307.7M302.3,634.0H307.7" stroke="rgba(230,0,0,0.5)" stroke-width="1" fill="none"/><path d="M308.0,628.9V643.0M305.3,628.9H310.7M305.3,643.0H310.7" stroke="rgba(0,225,235,0.85)" stroke-width="1" fill="none"/><path d="M315.7,637.4V660.2M313.0,637.4H318.4M313.0,660.2H318.4" stroke="rgba(0,0,0,0.8)" stroke-width="1" fill="none"/><path d="M319.6,631.5V637.9M316.9,631.5H322.3M316.9,637.9H322.3" stroke="rgba(230,0,0,0.5)" stroke-width="1" fill="none"/><path d="M318.3,605.8V619.9M315.6,605.8H321.0M315.6,619.9H321.0" stroke="rgba(153,50,168,0.6)" stroke-width="1" fill="none"/><path d="M318.3,617.4V622.5M315.6,617.4H321.0M315.6,622.5H321.0" stroke="rgba(44,160,44,0.6)" stroke-width="1" fill="none"/><path d="M328.6,614.3V632.8M325.9,614.3H331.3M325.9,632.8H331.3" stroke="rgba(0,0,0,0.8)" stroke-width="1" fill="none"/><path d="M334.5,619.9V631.5M331.8,619.9H337.2M331.8,631.5H337.2" stroke="rgba(153,50,168,0.6)" stroke-width="1" fill="none"/><path d="M333.2,619.9V626.3M330.5,619.9H335.9M330.5,626.3H335.9" stroke="rgba(44,160,44,0.6)" stroke-width="1" fill="none"/><path d="M336.3,606.6V611.7M333.6,606.6H339.0M333.6,611.7H339.0" stroke="rgba(230,0,0,0.5)" stroke-width="1" fill="none"/><path d="M341.4,591.2V604.0M338.7,591.2H344.1M338.7,604.0H344.1" stroke="rgba(0,0,0,0.8)" stroke-width="1" fill="none"/><path d="M349.1,596.8V613.5M346.4,596.8H351.8M346.4,613.5H351.8" stroke="rgba(153,50,168,0.6)" stroke-width="1" fill="none"/><path d="M350.4,605.8V611.7M347.7,605.8H353.1M347.7,611.7H353.1" stroke="rgba(44,160,44,0.6)" stroke-width="1" fill="none"/><path d="M349.1,615.3V621.2M346.4,615.3H351.8M346.4,621.2H351.8" stroke="rgba(230,0,0,0.5)" stroke-width="1" fill="none"/><path d="M361.4,621.2V631.5M358.7,621.2H364.1M358.7,631.5H364.1" stroke="rgba(153,50,168,0.6)" stroke-width="1" fill="none"/><path d="M361.9,622.5V628.9M359.2,622.5H364.6M359.2,628.9H364.6" stroke="rgba(230,0,0,0.5)" stroke-width="1" fill="none"/><path d="M361.2,627.1V643.5M358.5,627.1H363.9M358.5,643.5H363.9" stroke="rgba(0,0,0,0.8)" stroke-width="1" fill="none"/><path d="M365.0,627.6V635.3M362.3,627.6H367.7M362.3,635.3H367.7" stroke="rgba(44,160,44,0.6)" stroke-width="1" fill="none"/><circle cx="227.2" cy="626.3" r="1.2" fill="#000000"/><circle cx="229.0" cy="634.0" r="1.2" fill="#9932a8"/><circle cx="229.8" cy="641.7" r="1.2" fill="#e60000"/><circle cx="230.5" cy="647.6" r="1.2" fill="#2ca02c"/><circle cx="246.5" cy="639.9" r="1.2" fill="#9932a8"/><circle cx="243.1" cy="656.6" r="1.2" fill="#2ca02c"/><circle cx="240.8" cy="685.4" r="1.2" fill="#000000"/><circle cx="245.2" cy="668.2" r="1.2" fill="#e60000"/><circle cx="256.7" cy="673.8" r="1.2" fill="#9932a8"/><circle cx="255.4" cy="678.9" r="1.2" fill="#000000"/><circle cx="259.3" cy="673.8" r="1.2" fill="#e60000"/><circle cx="262.4" cy="678.9" r="1.2" fill="#2ca02c"/><circle cx="273.9" cy="693.1" r="1.2" fill="#000000"/><circle cx="273.9" cy="668.7" r="1.2" fill="#2ca02c"/><circle cx="276.5" cy="670.5" r="1.2" fill="#9932a8"/><circle cx="275.5" cy="674.3" r="1.2" fill="#e60000"/><circle cx="285.5" cy="697.7" r="1.2" fill="#000000"/><circle cx="288.0" cy="666.6" r="1.2" fill="#e60000"/><circle cx="292.1" cy="666.9" r="1.2" fill="#2ca02c"/><circle cx="292.6" cy="677.7" r="1.2" fill="#9932a8"/><circle cx="302.1" cy="623.0" r="1.2" fill="#000000"/><circle cx="302.4" cy="648.9" r="1.2" fill="#9932a8"/><circle cx="304.7" cy="643.5" r="1.2" fill="#2ca02c"/><circle cx="305.0" cy="630.2" r="1.2" fill="#e60000"/><circle cx="308.0" cy="636.1" r="1.2" fill="#00e8f0"/><circle cx="315.7" cy="648.9" r="1.2" fill="#000000"/><circle cx="319.6" cy="634.6" r="1.2" fill="#e60000"/><circle cx="318.3" cy="613.5" r="1.2" fill="#9932a8"/><circle cx="318.3" cy="619.9" r="1.2" fill="#2ca02c"/><circle cx="328.6" cy="623.3" r="1.2" fill="#000000"/><circle cx="334.5" cy="625.6" r="1.2" fill="#9932a8"/><circle cx="333.2" cy="623.0" r="1.2" fill="#2ca02c"/><circle cx="336.3" cy="609.1" r="1.2" fill="#e60000"/><circle cx="341.4" cy="594.8" r="1.2" fill="#000000"/><circle cx="349.1" cy="604.5" r="1.2" fill="#9932a8"/><circle cx="350.4" cy="608.4" r="1.2" fill="#2ca02c"/><circle cx="349.1" cy="618.1" r="1.2" fill="#e60000"/><circle cx="361.4" cy="625.6" r="1.2" fill="#9932a8"/><circle cx="361.9" cy="625.6" r="1.2" fill="#e60000"/><circle cx="361.2" cy="634.8" r="1.2" fill="#000000"/><circle cx="365.0" cy="631.0" r="1.2" fill="#2ca02c"/></g><g clip-path="url(#c31b)"><g stroke="rgba(0,0,0,0.3)" stroke-width="2.10" stroke-linecap="round"><path d="M325.6 737.4h0"/><path d="M243.6 738.6h0"/><path d="M236.7 738.2h0"/><path d="M329.4 740.2h0"/><path d="M267.7 744.8h0"/><path d="M245.1 735.0h0"/><path d="M352.3 731.4h0"/><path d="M340.9 734.9h0"/><path d="M324.0 736.7h0"/><path d="M370.0 734.2h0"/><path d="M360.0 728.5h0"/><path d="M278.4 731.1h0"/><path d="M290.4 737.8h0"/><path d="M295.0 730.9h0"/><path d="M269.5 732.4h0"/><path d="M294.1 726.4h0"/><path d="M357.4 725.9h0"/><path d="M241.3 730.2h0"/><path d="M357.5 731.1h0"/><path d="M245.2 738.6h0"/><path d="M328.4 736.1h0"/><path d="M235.2 741.9h0"/><path d="M317.2 727.0h0"/><path d="M284.9 737.5h0"/><path d="M301.1 736.3h0"/><path d="M268.1 736.8h0"/><path d="M236.5 731.7h0"/><path d="M264.2 734.2h0"/><path d="M349.8 738.7h0"/><path d="M234.2 728.1h0"/><path d="M314.8 732.5h0"/><path d="M336.4 733.2h0"/><path d="M286.0 733.7h0"/><path d="M274.1 735.0h0"/><path d="M321.7 736.5h0"/><path d="M241.2 734.8h0"/><path d="M298.3 737.4h0"/><path d="M335.9 722.4h0"/><path d="M364.7 730.9h0"/><path d="M318.2 737.2h0"/><path d="M299.7 732.8h0"/><path d="M318.2 733.0h0"/><path d="M368.3 730.2h0"/><path d="M317.2 728.1h0"/><path d="M356.8 733.0h0"/><path d="M299.3 730.0h0"/><path d="M364.3 734.0h0"/><path d="M346.6 731.4h0"/><path d="M346.4 728.0h0"/><path d="M232.5 731.0h0"/><path d="M302.5 737.6h0"/><path d="M243.6 732.1h0"/><path d="M292.9 739.0h0"/><path d="M256.7 735.4h0"/><path d="M373.4 734.8h0"/><path d="M328.7 735.8h0"/><path d="M300.4 729.4h0"/><path d="M280.1 737.3h0"/><path d="M249.4 739.6h0"/><path d="M306.8 731.3h0"/><path d="M316.0 738.2h0"/><path d="M315.0 735.7h0"/><path d="M255.7 740.2h0"/><path d="M372.9 730.6h0"/><path d="M263.1 739.0h0"/><path d="M342.2 734.5h0"/><path d="M335.2 734.0h0"/><path d="M244.6 735.7h0"/><path d="M255.0 727.4h0"/><path d="M313.9 731.3h0"/><path d="M250.3 737.8h0"/><path d="M315.3 733.5h0"/><path d="M307.0 736.3h0"/><path d="M290.7 741.3h0"/><path d="M371.4 731.3h0"/><path d="M325.4 729.9h0"/><path d="M244.3 740.3h0"/><path d="M361.8 734.0h0"/><path d="M296.3 728.0h0"/><path d="M244.0 730.3h0"/><path d="M294.1 731.7h0"/><path d="M291.3 727.3h0"/><path d="M301.2 734.7h0"/><path d="M238.6 739.4h0"/><path d="M330.5 732.4h0"/><path d="M336.2 725.8h0"/><path d="M246.3 733.2h0"/><path d="M302.7 742.7h0"/><path d="M295.3 739.5h0"/><path d="M317.7 739.4h0"/><path d="M343.9 736.3h0"/><path d="M233.1 737.7h0"/><path d="M321.1 735.3h0"/><path d="M285.1 735.3h0"/><path d="M288.6 735.7h0"/><path d="M251.2 730.5h0"/><path d="M265.6 739.2h0"/><path d="M341.8 730.8h0"/><path d="M239.5 732.1h0"/><path d="M283.2 738.5h0"/><path d="M223.5 735.0h0"/><path d="M346.9 735.3h0"/><path d="M308.7 734.8h0"/><path d="M350.0 740.8h0"/><path d="M315.0 738.9h0"/><path d="M287.9 731.6h0"/><path d="M273.9 742.1h0"/><path d="M292.5 743.5h0"/><path d="M270.7 732.8h0"/><path d="M354.6 739.9h0"/><path d="M263.7 738.9h0"/><path d="M322.6 738.1h0"/><path d="M331.2 737.2h0"/><path d="M263.6 737.2h0"/><path d="M340.6 734.6h0"/><path d="M297.5 733.0h0"/><path d="M313.9 742.8h0"/><path d="M350.2 730.8h0"/><path d="M342.5 731.1h0"/><path d="M264.9 740.6h0"/><path d="M300.7 728.8h0"/><path d="M310.4 737.2h0"/><path d="M256.6 732.7h0"/><path d="M288.2 737.6h0"/><path d="M337.1 737.9h0"/><path d="M229.6 735.8h0"/><path d="M222.5 730.2h0"/><path d="M358.5 729.9h0"/><path d="M304.4 745.5h0"/><path d="M312.5 729.8h0"/><path d="M244.5 729.8h0"/><path d="M258.7 732.7h0"/><path d="M290.7 728.3h0"/><path d="M231.1 742.6h0"/><path d="M338.1 737.0h0"/><path d="M269.8 733.9h0"/><path d="M284.7 744.7h0"/><path d="M269.2 731.7h0"/><path d="M348.7 737.2h0"/><path d="M300.6 723.6h0"/><path d="M271.9 747.0h0"/><path d="M320.0 735.1h0"/><path d="M297.0 743.3h0"/><path d="M343.4 740.8h0"/><path d="M283.5 741.4h0"/><path d="M221.1 744.3h0"/><path d="M293.2 743.0h0"/><path d="M254.0 732.7h0"/><path d="M353.9 749.7h0"/><path d="M229.1 728.6h0"/><path d="M307.0 722.2h0"/><path d="M300.6 739.8h0"/><path d="M295.2 730.1h0"/><path d="M358.8 735.9h0"/><path d="M235.7 745.5h0"/><path d="M271.0 734.3h0"/><path d="M353.4 721.9h0"/><path d="M371.5 732.1h0"/><path d="M297.8 745.7h0"/><path d="M364.2 731.0h0"/><path d="M341.7 731.4h0"/></g><g stroke="rgba(44,160,44,0.3)" stroke-width="2.10" stroke-linecap="round"><path d="M294.8 728.0h0"/><path d="M263.0 737.0h0"/><path d="M227.7 733.4h0"/><path d="M241.6 739.5h0"/><path d="M331.1 735.8h0"/><path d="M329.3 731.6h0"/><path d="M280.1 727.7h0"/><path d="M256.7 736.9h0"/><path d="M225.2 738.1h0"/><path d="M311.3 735.8h0"/><path d="M352.5 734.4h0"/><path d="M258.8 732.6h0"/><path d="M363.9 737.3h0"/><path d="M311.3 736.6h0"/><path d="M271.7 735.9h0"/><path d="M288.6 739.3h0"/><path d="M310.1 740.5h0"/><path d="M316.8 725.0h0"/><path d="M332.1 738.4h0"/><path d="M289.6 734.6h0"/><path d="M289.1 733.4h0"/><path d="M341.0 741.7h0"/><path d="M315.1 740.5h0"/><path d="M264.0 738.5h0"/><path d="M310.2 726.7h0"/><path d="M243.4 733.7h0"/><path d="M285.7 737.1h0"/><path d="M233.1 724.6h0"/><path d="M246.2 735.5h0"/><path d="M367.2 730.1h0"/><path d="M320.4 732.0h0"/><path d="M272.9 736.3h0"/><path d="M311.4 738.5h0"/><path d="M221.3 734.8h0"/><path d="M237.5 737.0h0"/><path d="M225.3 733.2h0"/><path d="M286.2 727.5h0"/><path d="M268.3 739.3h0"/><path d="M226.4 732.4h0"/><path d="M244.8 733.9h0"/><path d="M334.9 729.8h0"/><path d="M234.1 728.7h0"/><path d="M361.6 733.6h0"/><path d="M271.9 740.2h0"/><path d="M274.0 729.1h0"/><path d="M324.3 739.7h0"/><path d="M369.0 736.8h0"/><path d="M313.5 731.6h0"/><path d="M300.6 730.6h0"/><path d="M347.5 735.5h0"/><path d="M286.6 736.4h0"/><path d="M337.4 741.2h0"/><path d="M252.1 734.7h0"/><path d="M365.7 727.8h0"/><path d="M323.3 731.0h0"/><path d="M225.0 733.9h0"/><path d="M302.6 738.1h0"/><path d="M355.6 737.4h0"/><path d="M287.4 728.6h0"/><path d="M340.6 729.2h0"/><path d="M254.3 741.4h0"/><path d="M238.7 728.4h0"/><path d="M224.5 734.5h0"/><path d="M278.3 730.9h0"/><path d="M224.1 736.4h0"/><path d="M266.5 737.6h0"/><path d="M343.4 736.3h0"/><path d="M296.0 731.3h0"/><path d="M333.9 734.3h0"/><path d="M275.4 737.5h0"/><path d="M348.1 731.6h0"/><path d="M319.9 732.8h0"/><path d="M244.2 733.8h0"/><path d="M243.5 731.5h0"/><path d="M287.6 731.2h0"/><path d="M301.1 733.7h0"/><path d="M330.7 742.3h0"/><path d="M264.7 734.4h0"/><path d="M270.5 726.3h0"/><path d="M369.0 740.9h0"/><path d="M334.6 731.1h0"/><path d="M271.1 731.7h0"/><path d="M300.1 731.4h0"/><path d="M293.1 741.2h0"/><path d="M328.1 734.1h0"/><path d="M364.1 733.0h0"/><path d="M303.2 734.7h0"/><path d="M249.2 733.8h0"/><path d="M221.5 732.2h0"/><path d="M231.8 734.2h0"/><path d="M345.2 732.3h0"/><path d="M360.7 736.2h0"/><path d="M334.7 732.2h0"/><path d="M353.8 736.8h0"/><path d="M227.9 732.7h0"/><path d="M288.5 738.1h0"/><path d="M321.1 739.1h0"/><path d="M224.7 741.1h0"/><path d="M254.9 735.8h0"/><path d="M347.2 732.4h0"/><path d="M262.4 732.0h0"/><path d="M330.2 733.6h0"/><path d="M324.5 740.9h0"/><path d="M246.8 739.9h0"/><path d="M280.4 732.9h0"/><path d="M263.1 736.4h0"/><path d="M258.8 736.7h0"/><path d="M236.0 739.7h0"/><path d="M297.3 730.8h0"/><path d="M263.2 724.7h0"/><path d="M243.5 732.6h0"/><path d="M357.0 728.2h0"/><path d="M347.8 730.3h0"/><path d="M247.6 735.1h0"/><path d="M240.6 735.1h0"/><path d="M291.1 738.9h0"/><path d="M226.4 738.4h0"/><path d="M301.1 738.1h0"/><path d="M354.7 730.8h0"/><path d="M250.6 739.2h0"/><path d="M356.0 721.1h0"/><path d="M288.6 744.3h0"/><path d="M224.4 723.8h0"/><path d="M372.3 730.8h0"/><path d="M302.1 728.5h0"/><path d="M310.1 729.5h0"/><path d="M321.4 737.4h0"/><path d="M353.2 733.7h0"/><path d="M269.5 724.6h0"/><path d="M221.5 734.0h0"/><path d="M335.6 742.4h0"/><path d="M293.4 732.2h0"/><path d="M283.3 731.3h0"/></g><g stroke="rgba(230,0,0,0.28)" stroke-width="2.10" stroke-linecap="round"><path d="M344.6 740.8h0"/><path d="M317.7 735.1h0"/><path d="M367.6 733.7h0"/><path d="M283.6 738.2h0"/><path d="M262.6 723.3h0"/><path d="M362.3 733.4h0"/><path d="M325.6 730.3h0"/><path d="M285.8 734.5h0"/><path d="M224.3 725.7h0"/><path d="M323.9 736.9h0"/><path d="M286.6 724.5h0"/><path d="M271.3 740.3h0"/><path d="M299.8 733.5h0"/><path d="M245.2 736.5h0"/><path d="M362.9 741.9h0"/><path d="M300.4 740.9h0"/><path d="M348.8 737.3h0"/><path d="M260.5 736.9h0"/><path d="M351.3 739.4h0"/><path d="M248.1 740.3h0"/><path d="M317.4 738.9h0"/><path d="M264.2 733.4h0"/><path d="M339.4 731.8h0"/><path d="M372.9 733.2h0"/><path d="M292.4 728.5h0"/><path d="M328.9 732.6h0"/><path d="M246.8 736.4h0"/><path d="M351.1 735.3h0"/><path d="M316.8 734.1h0"/><path d="M314.7 734.9h0"/><path d="M234.7 731.5h0"/><path d="M305.8 736.9h0"/><path d="M336.7 735.5h0"/><path d="M342.6 735.3h0"/><path d="M276.0 726.5h0"/><path d="M256.9 734.0h0"/><path d="M307.7 735.1h0"/><path d="M285.1 738.1h0"/><path d="M330.7 733.2h0"/><path d="M231.2 734.9h0"/><path d="M368.0 737.6h0"/><path d="M248.6 734.7h0"/><path d="M243.9 738.4h0"/><path d="M225.2 733.4h0"/><path d="M237.7 733.9h0"/><path d="M329.1 737.0h0"/><path d="M276.0 733.3h0"/><path d="M304.3 728.4h0"/><path d="M229.6 732.6h0"/><path d="M264.9 729.9h0"/><path d="M240.3 738.8h0"/><path d="M344.8 744.5h0"/><path d="M286.6 733.8h0"/><path d="M286.5 741.6h0"/><path d="M223.2 732.8h0"/><path d="M306.7 741.3h0"/><path d="M222.3 728.5h0"/><path d="M232.4 734.2h0"/><path d="M266.0 735.4h0"/><path d="M229.2 738.6h0"/><path d="M324.6 733.3h0"/><path d="M287.4 736.6h0"/><path d="M242.2 736.1h0"/><path d="M347.0 734.0h0"/><path d="M277.1 740.1h0"/><path d="M360.0 736.4h0"/><path d="M255.3 732.1h0"/><path d="M249.2 735.4h0"/><path d="M237.9 735.0h0"/><path d="M232.6 740.4h0"/><path d="M292.9 742.0h0"/><path d="M354.6 735.9h0"/><path d="M302.7 724.6h0"/><path d="M321.5 728.3h0"/><path d="M285.1 727.7h0"/><path d="M309.3 745.5h0"/><path d="M308.0 734.4h0"/><path d="M330.3 734.1h0"/><path d="M327.1 731.7h0"/><path d="M259.6 734.0h0"/><path d="M222.0 740.4h0"/><path d="M222.0 742.3h0"/><path d="M341.1 730.7h0"/><path d="M271.7 749.9h0"/><path d="M224.1 738.0h0"/><path d="M241.1 741.1h0"/><path d="M332.9 737.7h0"/><path d="M369.4 739.2h0"/><path d="M333.5 733.4h0"/><path d="M294.0 738.4h0"/><path d="M264.7 737.0h0"/></g><g stroke="rgba(153,50,168,0.3)" stroke-width="2.10" stroke-linecap="round"><path d="M339.7 736.1h0"/><path d="M336.1 731.9h0"/><path d="M233.1 736.2h0"/><path d="M335.7 734.1h0"/><path d="M350.3 731.2h0"/><path d="M313.3 737.9h0"/><path d="M361.5 728.7h0"/><path d="M347.3 733.9h0"/><path d="M321.4 737.5h0"/><path d="M252.4 740.0h0"/><path d="M280.8 730.4h0"/><path d="M245.0 728.8h0"/><path d="M273.1 733.3h0"/><path d="M262.8 741.3h0"/><path d="M308.4 741.2h0"/><path d="M328.4 732.6h0"/><path d="M286.8 734.1h0"/><path d="M226.1 735.9h0"/><path d="M301.0 742.1h0"/><path d="M333.2 737.6h0"/><path d="M331.4 737.7h0"/><path d="M224.5 730.9h0"/><path d="M361.0 737.6h0"/><path d="M346.1 737.6h0"/><path d="M259.6 735.2h0"/><path d="M341.1 740.5h0"/><path d="M327.8 736.2h0"/><path d="M253.4 731.0h0"/><path d="M317.4 737.5h0"/><path d="M292.9 731.6h0"/><path d="M221.2 736.7h0"/><path d="M252.1 728.5h0"/><path d="M254.8 738.4h0"/><path d="M222.4 732.1h0"/><path d="M247.7 737.1h0"/><path d="M238.7 743.2h0"/><path d="M247.4 725.9h0"/><path d="M293.2 729.1h0"/><path d="M243.2 743.8h0"/><path d="M351.4 745.2h0"/><path d="M241.4 737.2h0"/><path d="M225.4 729.4h0"/><path d="M318.5 732.8h0"/><path d="M278.3 741.2h0"/><path d="M315.8 737.8h0"/><path d="M254.6 741.8h0"/><path d="M303.3 745.2h0"/><path d="M364.5 741.1h0"/><path d="M320.1 724.9h0"/><path d="M309.2 735.1h0"/><path d="M331.6 734.1h0"/><path d="M366.5 739.9h0"/><path d="M278.6 736.9h0"/><path d="M268.2 739.9h0"/><path d="M283.0 736.6h0"/></g></g><line x1="219.6" y1="734.6" x2="376.9" y2="734.6" stroke="#222" stroke-width="0.95" stroke-dasharray="2.3,2.7"/><path d="M215.45,590.60H378.45V750.60H215.45ZM215.45,701.90H378.45" fill="none" stroke="#646464" stroke-width="1.00"/><path d="M211.4,598.6H215.4M211.4,621.5H215.4M211.4,644.3H215.4M211.4,667.1H215.4M211.4,690.0H215.4M211.4,712.1H215.4M211.4,723.4H215.4M211.4,734.6H215.4M211.4,745.9H215.4M221.3,750.6V754.6M221.3,701.9V705.9M262.4,750.6V754.6M262.4,701.9V705.9M303.5,750.6V754.6M303.5,701.9V705.9M344.6,750.6V754.6M344.6,701.9V705.9" stroke="#646464" stroke-width="1.00" fill="none"/><text transform="translate(207.4,598.6) rotate(-90)" font-size="5.6" text-anchor="middle" fill="#222">4</text><text transform="translate(207.4,621.5) rotate(-90)" font-size="5.6" text-anchor="middle" fill="#222">2</text><text transform="translate(207.4,644.3) rotate(-90)" font-size="5.6" text-anchor="middle" fill="#222">0</text><text transform="translate(207.4,667.1) rotate(-90)" font-size="5.6" text-anchor="middle" fill="#222">&#8722;2</text><text transform="translate(207.4,690.0) rotate(-90)" font-size="5.6" text-anchor="middle" fill="#222">&#8722;4</text><text transform="translate(207.4,712.1) rotate(-90)" font-size="5.6" text-anchor="middle" fill="#222">10</text><text transform="translate(207.4,723.4) rotate(-90)" font-size="5.6" text-anchor="middle" fill="#222">5</text><text transform="translate(207.4,734.6) rotate(-90)" font-size="5.6" text-anchor="middle" fill="#222">0</text><text transform="translate(207.4,745.9) rotate(-90)" font-size="5.6" text-anchor="middle" fill="#222">&#8722;5</text><text x="221.3" y="763.3" font-size="5.6" text-anchor="middle" fill="#222">0</text><text x="262.4" y="763.3" font-size="5.6" text-anchor="middle" fill="#222">2</text><text x="303.5" y="763.3" font-size="5.6" text-anchor="middle" fill="#222">4</text><text x="344.6" y="763.3" font-size="5.6" text-anchor="middle" fill="#222">6</text><text transform="translate(196.6,646.3) rotate(-90)" font-size="8.5" text-anchor="middle" fill="#000" class="s">RV [m/s]</text><text transform="translate(196.6,726.3) rotate(-90)" font-size="8.5" text-anchor="middle" fill="#000" class="s">O-C [m/s]</text><text x="374.6" y="712.4" font-size="8.5" text-anchor="end" fill="#000" class="s">RMS=2.1 m/s</text><text x="296.9" y="777.2" font-size="8.5" text-anchor="middle" fill="#000" class="s">Orbital phase [day]</text>
<clipPath id="c32a"><rect x="405.4" y="590.6" width="163.0" height="111.3"/></clipPath><clipPath id="c32b"><rect x="405.4" y="701.9" width="163.0" height="48.7"/></clipPath><text x="487.0" y="587.1" font-size="8.6" font-weight="bold" text-anchor="middle" fill="#000">GJ 620 c</text><g clip-path="url(#c32a)"><g stroke="rgba(44,160,44,0.3)" stroke-width="2.10" stroke-linecap="round"><path d="M555.0 644.6h0"/></g><g stroke="rgba(230,0,0,0.28)" stroke-width="2.10" stroke-linecap="round"><path d="M421.8 605.1h0"/><path d="M418.0 629.9h0"/><path d="M424.4 640.7h0"/><path d="M433.1 672.0h0"/><path d="M440.0 688.2h0"/><path d="M479.0 658.6h0"/><path d="M474.1 651.5h0"/><path d="M490.2 645.0h0"/><path d="M512.9 650.9h0"/><path d="M534.5 619.1h0"/><path d="M562.1 624.1h0"/><path d="M507.5 591.7h0"/><path d="M546.3 591.1h0"/></g><path d="M411.10,611.20C412.12,613.00 415.17,618.18 417.20,622.00C419.23,625.82 421.27,629.63 423.30,634.10C425.33,638.57 427.37,643.92 429.40,648.80C431.43,653.68 433.47,658.93 435.50,663.40C437.53,667.87 439.57,672.15 441.60,675.60C443.63,679.05 445.67,681.87 447.70,684.10C449.73,686.33 451.92,687.92 453.80,689.00C455.68,690.08 457.03,690.65 459.00,690.60C460.97,690.55 463.32,689.95 465.60,688.70C467.88,687.45 470.58,685.22 472.70,683.10C474.82,680.98 476.55,678.48 478.30,676.00C480.05,673.52 481.55,670.78 483.20,668.20C484.85,665.62 486.55,663.08 488.20,660.50C489.85,657.92 491.10,655.97 493.10,652.70C495.10,649.43 497.88,644.67 500.20,640.90C502.52,637.13 504.75,633.58 507.00,630.10C509.25,626.62 511.47,623.25 513.70,620.00C515.93,616.75 518.15,613.52 520.40,610.60C522.65,607.68 524.95,604.75 527.20,602.50C529.45,600.25 531.67,598.40 533.90,597.10C536.13,595.80 538.35,594.92 540.60,594.70C542.85,594.48 545.15,594.83 547.40,595.80C549.65,596.77 551.63,598.03 554.10,600.50C556.57,602.97 560.85,608.92 562.20,610.60" fill="none" stroke="#ff1a1a" stroke-width="1.15" stroke-opacity="0.85"/><path d="M426.2,631.0V645.1M423.5,631.0H428.9M423.5,645.1H428.9" stroke="rgba(230,0,0,0.5)" stroke-width="1" fill="none"/><path d="M433.1,605.8V632.2M430.4,605.8H435.8M430.4,632.2H435.8" stroke="rgba(44,160,44,0.6)" stroke-width="1" fill="none"/><path d="M435.2,666.1V686.1M432.5,666.1H437.9M432.5,686.1H437.9" stroke="rgba(230,0,0,0.5)" stroke-width="1" fill="none"/><path d="M471.6,648.9V677.7M468.9,648.9H474.3M468.9,677.7H474.3" stroke="rgba(230,0,0,0.5)" stroke-width="1" fill="none"/><path d="M483.2,667.4V691.3M480.5,667.4H485.9M480.5,691.3H485.9" stroke="rgba(230,0,0,0.5)" stroke-width="1" fill="none"/><path d="M485.2,681.5V702.0M482.5,681.5H487.9M482.5,702.0H487.9" stroke="rgba(44,160,44,0.6)" stroke-width="1" fill="none"/><path d="M493.7,633.5V658.4M491.0,633.5H496.4M491.0,658.4H496.4" stroke="rgba(230,0,0,0.5)" stroke-width="1" fill="none"/><path d="M499.8,642.5V666.9M497.1,642.5H502.5M497.1,666.9H502.5" stroke="rgba(44,160,44,0.6)" stroke-width="1" fill="none"/><path d="M507.5,626.3V655.3M504.8,626.3H510.2M504.8,655.3H510.2" stroke="rgba(230,0,0,0.5)" stroke-width="1" fill="none"/><path d="M528.1,594.8V632.0M525.4,594.8H530.8M525.4,632.0H530.8" stroke="rgba(230,0,0,0.5)" stroke-width="1" fill="none"/><path d="M540.9,591.7V613.5M538.2,591.7H543.6M538.2,613.5H543.6" stroke="rgba(230,0,0,0.5)" stroke-width="1" fill="none"/><circle cx="426.2" cy="638.4" r="1.2" fill="#e60000"/><circle cx="433.1" cy="619.2" r="1.2" fill="#2ca02c"/><circle cx="435.2" cy="675.9" r="1.2" fill="#e60000"/><circle cx="471.6" cy="663.0" r="1.2" fill="#e60000"/><circle cx="483.2" cy="678.9" r="1.2" fill="#e60000"/><circle cx="485.2" cy="697.7" r="1.2" fill="#2ca02c"/><circle cx="493.7" cy="645.6" r="1.2" fill="#e60000"/><circle cx="499.8" cy="654.6" r="1.2" fill="#2ca02c"/><circle cx="507.5" cy="641.0" r="1.2" fill="#e60000"/><circle cx="528.1" cy="613.0" r="1.2" fill="#e60000"/><circle cx="540.9" cy="602.0" r="1.2" fill="#e60000"/></g><g clip-path="url(#c32b)"><g stroke="rgba(0,0,0,0.3)" stroke-width="2.10" stroke-linecap="round"><path d="M424.4 718.6h0"/><path d="M411.5 738.3h0"/><path d="M418.0 741.5h0"/><path d="M421.8 743.0h0"/><path d="M429.2 741.5h0"/><path d="M432.6 732.2h0"/><path d="M433.1 743.0h0"/><path d="M440.0 739.1h0"/><path d="M469.3 739.1h0"/><path d="M473.6 744.1h0"/><path d="M479.0 736.1h0"/><path d="M484.4 732.9h0"/><path d="M490.2 742.6h0"/><path d="M495.6 739.1h0"/><path d="M507.5 730.7h0"/><path d="M512.9 748.4h0"/><path d="M528.0 746.2h0"/><path d="M534.5 738.3h0"/><path d="M546.3 736.1h0"/><path d="M555.0 735.4h0"/><path d="M562.1 746.2h0"/></g><g stroke="rgba(44,160,44,0.3)" stroke-width="2.10" stroke-linecap="round"><path d="M411.5 718.8h0"/><path d="M432.6 730.7h0"/><path d="M485.3 746.9h0"/><path d="M500.0 742.4h0"/><path d="M555.0 747.3h0"/></g><g stroke="rgba(230,0,0,0.28)" stroke-width="2.10" stroke-linecap="round"><path d="M421.8 732.9h0"/><path d="M424.0 738.3h0"/><path d="M428.7 739.1h0"/><path d="M433.1 741.9h0"/><path d="M440.0 743.0h0"/><path d="M468.0 739.1h0"/><path d="M473.6 732.6h0"/><path d="M479.4 736.5h0"/><path d="M485.3 744.1h0"/><path d="M490.2 736.1h0"/><path d="M495.6 740.8h0"/><path d="M506.4 730.7h0"/><path d="M506.0 741.9h0"/><path d="M512.9 746.2h0"/><path d="M528.0 741.9h0"/><path d="M534.5 744.1h0"/><path d="M545.7 737.6h0"/><path d="M562.1 741.9h0"/></g></g><line x1="409.6" y1="739.4" x2="567.0" y2="739.4" stroke="#222" stroke-width="0.95" stroke-dasharray="2.3,2.7"/><path d="M405.45,590.60H568.45V750.60H405.45ZM405.45,701.90H568.45" fill="none" stroke="#646464" stroke-width="1.00"/><path d="M401.4,594.3H405.4M401.4,609.9H405.4M401.4,625.4H405.4M401.4,641.0H405.4M401.4,656.5H405.4M401.4,672.0H405.4M401.4,687.6H405.4M401.4,703.8H405.4M401.4,711.0H405.4M401.4,718.1H405.4M401.4,725.2H405.4M401.4,732.3H405.4M401.4,739.4H405.4M401.4,746.5H405.4M411.3,750.6V754.6M411.3,701.9V705.9M439.0,750.6V754.6M439.0,701.9V705.9M466.7,750.6V754.6M466.7,701.9V705.9M494.4,750.6V754.6M494.4,701.9V705.9M522.1,750.6V754.6M522.1,701.9V705.9M549.8,750.6V754.6M549.8,701.9V705.9" stroke="#646464" stroke-width="1.00" fill="none"/><text transform="translate(397.4,594.3) rotate(-90)" font-size="5.6" text-anchor="middle" fill="#222">3</text><text transform="translate(397.4,609.9) rotate(-90)" font-size="5.6" text-anchor="middle" fill="#222">2</text><text transform="translate(397.4,625.4) rotate(-90)" font-size="5.6" text-anchor="middle" fill="#222">1</text><text transform="translate(397.4,641.0) rotate(-90)" font-size="5.6" text-anchor="middle" fill="#222">0</text><text transform="translate(397.4,656.5) rotate(-90)" font-size="5.6" text-anchor="middle" fill="#222">&#8722;1</text><text transform="translate(397.4,672.0) rotate(-90)" font-size="5.6" text-anchor="middle" fill="#222">&#8722;2</text><text transform="translate(397.4,687.6) rotate(-90)" font-size="5.6" text-anchor="middle" fill="#222">&#8722;3</text><text transform="translate(397.4,703.8) rotate(-90)" font-size="5.6" text-anchor="middle" fill="#222">10</text><text transform="translate(397.4,718.1) rotate(-90)" font-size="5.6" text-anchor="middle" fill="#222">6</text><text transform="translate(397.4,732.3) rotate(-90)" font-size="5.6" text-anchor="middle" fill="#222">2</text><text transform="translate(397.4,746.5) rotate(-90)" font-size="5.6" text-anchor="middle" fill="#222">&#8722;2</text><text x="411.3" y="763.3" font-size="5.6" text-anchor="middle" fill="#222">0</text><text x="439.0" y="763.3" font-size="5.6" text-anchor="middle" fill="#222">5</text><text x="466.7" y="763.3" font-size="5.6" text-anchor="middle" fill="#222">10</text><text x="494.4" y="763.3" font-size="5.6" text-anchor="middle" fill="#222">15</text><text x="522.1" y="763.3" font-size="5.6" text-anchor="middle" fill="#222">20</text><text x="549.8" y="763.3" font-size="5.6" text-anchor="middle" fill="#222">25</text><text transform="translate(386.6,646.3) rotate(-90)" font-size="8.5" text-anchor="middle" fill="#000" class="s">RV [m/s]</text><text transform="translate(386.6,726.3) rotate(-90)" font-size="8.5" text-anchor="middle" fill="#000" class="s">O-C [m/s]</text><text x="564.6" y="712.4" font-size="8.5" text-anchor="end" fill="#000" class="s">RMS=1.7 m/s</text><text x="487.0" y="777.2" font-size="8.5" text-anchor="middle" fill="#000" class="s">Orbital phase [day]</text>
<clipPath id="c33a"><rect x="595.5" y="590.6" width="163.0" height="111.3"/></clipPath><clipPath id="c33b"><rect x="595.5" y="701.9" width="163.0" height="48.7"/></clipPath><text x="677.0" y="587.1" font-size="8.6" font-weight="bold" text-anchor="middle" fill="#000">GJ 3082 b</text><g clip-path="url(#c33a)"><g stroke="rgba(44,160,44,0.3)" stroke-width="2.10" stroke-linecap="round"><path d="M601.5 633.2h0"/><path d="M710.5 696.2h0"/><path d="M742.8 660.8h0"/></g><g stroke="rgba(230,0,0,0.28)" stroke-width="2.10" stroke-linecap="round"><path d="M606.9 627.8h0"/><path d="M605.4 660.8h0"/><path d="M621.3 664.4h0"/><path d="M626.9 596.0h0"/><path d="M631.7 622.8h0"/><path d="M637.7 633.2h0"/><path d="M636.0 612.7h0"/><path d="M645.1 618.1h0"/><path d="M652.2 591.7h0"/><path d="M656.5 643.5h0"/><path d="M661.9 612.7h0"/><path d="M665.1 615.9h0"/><path d="M678.7 625.6h0"/><path d="M683.9 614.2h0"/><path d="M688.2 651.5h0"/><path d="M690.0 641.4h0"/><path d="M700.7 667.7h0"/><path d="M702.5 654.3h0"/><path d="M713.7 648.7h0"/><path d="M714.8 675.2h0"/><path d="M722.3 666.0h0"/><path d="M729.9 616.3h0"/><path d="M735.7 677.4h0"/><path d="M739.6 619.1h0"/><path d="M742.8 622.8h0"/><path d="M740.0 640.7h0"/><path d="M747.1 666.6h0"/><path d="M748.6 668.1h0"/><path d="M752.1 625.6h0"/></g><path d="M601.25,640.60C602.29,639.77 605.42,637.27 607.50,635.60C609.58,633.93 611.67,632.27 613.75,630.60C615.83,628.93 617.92,627.27 620.00,625.60C622.08,623.93 624.17,622.16 626.25,620.60C628.33,619.04 630.42,617.64 632.50,616.25C634.58,614.86 636.67,613.50 638.75,612.25C640.83,611.00 642.92,609.86 645.00,608.75C647.08,607.64 649.17,606.43 651.25,605.60C653.33,604.77 655.73,604.17 657.50,603.75C659.27,603.33 660.23,603.06 661.90,603.10C663.57,603.14 665.73,603.48 667.50,604.00C669.27,604.52 670.83,605.04 672.50,606.25C674.17,607.46 676.25,609.86 677.50,611.25C678.75,612.64 678.70,612.44 680.00,614.60C681.30,616.76 683.55,620.85 685.30,624.20C687.05,627.55 688.75,631.02 690.50,634.70C692.25,638.38 694.03,642.62 695.80,646.30C697.57,649.98 699.35,653.98 701.10,656.80C702.85,659.62 704.55,661.62 706.30,663.20C708.05,664.78 709.93,665.63 711.60,666.30C713.27,666.97 714.55,667.23 716.30,667.20C718.05,667.17 720.25,666.68 722.10,666.10C723.95,665.52 725.65,664.63 727.40,663.70C729.15,662.77 730.85,661.73 732.60,660.50C734.35,659.27 736.13,657.78 737.90,656.30C739.67,654.82 741.45,653.27 743.20,651.60C744.95,649.93 746.30,648.18 748.40,646.30C750.50,644.42 754.57,641.30 755.80,640.30" fill="none" stroke="#ff1a1a" stroke-width="1.15" stroke-opacity="0.85"/><path d="M610.0,611.5V625.2M607.3,611.5H612.7M607.3,625.2H612.7" stroke="rgba(230,0,0,0.5)" stroke-width="1" fill="none"/><path d="M620.5,610.8V628.5M617.8,610.8H623.2M617.8,628.5H623.2" stroke="rgba(44,160,44,0.6)" stroke-width="1" fill="none"/><path d="M626.2,619.0V631.0M623.5,619.0H629.0M623.5,631.0H629.0" stroke="rgba(230,0,0,0.5)" stroke-width="1" fill="none"/><path d="M642.5,609.8V621.5M639.8,609.8H645.2M639.8,621.5H645.2" stroke="rgba(230,0,0,0.5)" stroke-width="1" fill="none"/><path d="M656.8,591.5V604.0M654.0,591.5H659.5M654.0,604.0H659.5" stroke="rgba(44,160,44,0.6)" stroke-width="1" fill="none"/><path d="M657.0,605.2V612.8M654.3,605.2H659.7M654.3,612.8H659.7" stroke="rgba(230,0,0,0.5)" stroke-width="1" fill="none"/><path d="M660.8,591.5V602.8M658.0,591.5H663.5M658.0,602.8H663.5" stroke="rgba(44,160,44,0.6)" stroke-width="1" fill="none"/><path d="M671.2,604.0V615.2M668.5,604.0H674.0M668.5,615.2H674.0" stroke="rgba(230,0,0,0.5)" stroke-width="1" fill="none"/><path d="M686.8,617.2V626.5M684.0,617.2H689.5M684.0,626.5H689.5" stroke="rgba(230,0,0,0.5)" stroke-width="1" fill="none"/><path d="M692.0,631.5V642.0M689.3,631.5H694.7M689.3,642.0H694.7" stroke="rgba(44,160,44,0.6)" stroke-width="1" fill="none"/><path d="M699.2,651.5V664.0M696.5,651.5H702.0M696.5,664.0H702.0" stroke="rgba(230,0,0,0.5)" stroke-width="1" fill="none"/><path d="M716.8,656.5V669.0M714.0,656.5H719.5M714.0,669.0H719.5" stroke="rgba(230,0,0,0.5)" stroke-width="1" fill="none"/><path d="M710.8,672.8V686.0M708.0,672.8H713.5M708.0,686.0H713.5" stroke="rgba(44,160,44,0.6)" stroke-width="1" fill="none"/><path d="M734.2,654.5V673.2M731.5,654.5H737.0M731.5,673.2H737.0" stroke="rgba(230,0,0,0.5)" stroke-width="1" fill="none"/><path d="M737.0,685.8V700.2M734.3,685.8H739.7M734.3,700.2H739.7" stroke="rgba(44,160,44,0.6)" stroke-width="1" fill="none"/><path d="M743.2,634.8V646.5M740.5,634.8H746.0M740.5,646.5H746.0" stroke="rgba(230,0,0,0.5)" stroke-width="1" fill="none"/><circle cx="610.0" cy="618.5" r="1.2" fill="#e60000"/><circle cx="620.5" cy="619.8" r="1.2" fill="#2ca02c"/><circle cx="626.2" cy="624.8" r="1.2" fill="#e60000"/><circle cx="642.5" cy="615.8" r="1.2" fill="#e60000"/><circle cx="656.8" cy="595.2" r="1.2" fill="#2ca02c"/><circle cx="657.0" cy="609.0" r="1.2" fill="#e60000"/><circle cx="660.8" cy="594.8" r="1.2" fill="#2ca02c"/><circle cx="671.2" cy="609.5" r="1.2" fill="#e60000"/><circle cx="686.8" cy="622.0" r="1.2" fill="#e60000"/><circle cx="692.0" cy="637.2" r="1.2" fill="#2ca02c"/><circle cx="699.2" cy="657.8" r="1.2" fill="#e60000"/><circle cx="716.8" cy="662.8" r="1.2" fill="#e60000"/><circle cx="710.8" cy="679.5" r="1.2" fill="#2ca02c"/><circle cx="734.2" cy="664.0" r="1.2" fill="#e60000"/><circle cx="737.0" cy="697.8" r="1.2" fill="#2ca02c"/><circle cx="743.2" cy="640.8" r="1.2" fill="#e60000"/></g><g clip-path="url(#c33b)"><g stroke="rgba(0,0,0,0.3)" stroke-width="2.10" stroke-linecap="round"><path d="M601.5 735.4h0"/><path d="M605.8 726.2h0"/><path d="M607.5 740.8h0"/><path d="M611.8 731.1h0"/><path d="M620.5 737.6h0"/><path d="M621.3 725.7h0"/><path d="M626.9 742.6h0"/><path d="M625.2 733.9h0"/><path d="M635.6 729.6h0"/><path d="M640.3 733.9h0"/><path d="M645.1 732.2h0"/><path d="M649.0 733.9h0"/><path d="M653.3 741.3h0"/><path d="M657.1 722.5h0"/><path d="M657.6 737.6h0"/><path d="M657.1 741.9h0"/><path d="M661.5 740.4h0"/><path d="M662.3 737.6h0"/><path d="M669.5 737.6h0"/><path d="M671.6 732.2h0"/><path d="M683.5 720.3h0"/><path d="M687.8 718.8h0"/><path d="M683.5 731.1h0"/><path d="M688.2 738.3h0"/><path d="M696.4 736.1h0"/><path d="M698.1 728.3h0"/><path d="M700.7 724.6h0"/><path d="M701.8 748.8h0"/><path d="M711.5 728.3h0"/><path d="M714.8 737.0h0"/><path d="M714.8 744.7h0"/><path d="M722.3 730.5h0"/><path d="M730.9 734.4h0"/><path d="M735.3 728.3h0"/><path d="M737.0 734.4h0"/><path d="M741.7 732.2h0"/><path d="M740.0 747.7h0"/><path d="M742.8 747.7h0"/><path d="M747.1 731.1h0"/><path d="M748.2 736.1h0"/><path d="M752.5 740.8h0"/></g><g stroke="rgba(44,160,44,0.3)" stroke-width="2.10" stroke-linecap="round"><path d="M601.5 731.1h0"/><path d="M621.3 732.2h0"/><path d="M655.4 731.1h0"/><path d="M659.7 731.1h0"/><path d="M690.0 731.1h0"/><path d="M711.5 744.7h0"/><path d="M742.8 737.0h0"/></g><g stroke="rgba(230,0,0,0.28)" stroke-width="2.10" stroke-linecap="round"><path d="M606.9 732.2h0"/><path d="M605.8 742.6h0"/><path d="M611.2 728.3h0"/><path d="M610.5 737.0h0"/><path d="M626.9 725.7h0"/><path d="M621.3 747.7h0"/><path d="M632.1 736.5h0"/><path d="M637.7 741.3h0"/><path d="M644.6 734.4h0"/><path d="M644.6 737.6h0"/><path d="M652.8 727.5h0"/><path d="M653.3 731.1h0"/><path d="M657.6 734.4h0"/><path d="M656.5 747.7h0"/><path d="M665.1 738.3h0"/><path d="M672.7 725.7h0"/><path d="M678.1 738.7h0"/><path d="M683.5 721.0h0"/><path d="M683.5 734.4h0"/><path d="M688.2 741.3h0"/><path d="M697.5 734.4h0"/><path d="M700.7 737.0h0"/><path d="M714.1 727.9h0"/><path d="M714.1 734.4h0"/><path d="M723.4 734.4h0"/><path d="M729.9 718.8h0"/><path d="M736.4 741.3h0"/><path d="M739.6 721.9h0"/><path d="M742.8 724.0h0"/><path d="M740.0 730.1h0"/><path d="M742.8 734.4h0"/><path d="M747.1 740.8h0"/><path d="M748.2 741.9h0"/><path d="M752.5 728.3h0"/></g></g><line x1="599.7" y1="734.2" x2="757.0" y2="734.2" stroke="#222" stroke-width="0.95" stroke-dasharray="2.3,2.7"/><path d="M595.45,590.60H758.45V750.60H595.45ZM595.45,701.90H758.45" fill="none" stroke="#646464" stroke-width="1.00"/><path d="M591.5,603.2H595.5M591.5,618.6H595.5M591.5,633.9H595.5M591.5,649.2H595.5M591.5,664.6H595.5M591.5,679.9H595.5M591.5,695.2H595.5M591.5,707.2H595.5M591.5,720.8H595.5M591.5,734.2H595.5M591.5,747.8H595.5M601.2,750.6V754.6M601.2,701.9V705.9M627.2,750.6V754.6M627.2,701.9V705.9M653.1,750.6V754.6M653.1,701.9V705.9M679.0,750.6V754.6M679.0,701.9V705.9M704.9,750.6V754.6M704.9,701.9V705.9M730.8,750.6V754.6M730.8,701.9V705.9M756.7,750.6V754.6M756.7,701.9V705.9" stroke="#646464" stroke-width="1.00" fill="none"/><text transform="translate(587.5,603.2) rotate(-90)" font-size="5.6" text-anchor="middle" fill="#222">4</text><text transform="translate(587.5,618.6) rotate(-90)" font-size="5.6" text-anchor="middle" fill="#222">2</text><text transform="translate(587.5,633.9) rotate(-90)" font-size="5.6" text-anchor="middle" fill="#222">0</text><text transform="translate(587.5,649.2) rotate(-90)" font-size="5.6" text-anchor="middle" fill="#222">&#8722;2</text><text transform="translate(587.5,664.6) rotate(-90)" font-size="5.6" text-anchor="middle" fill="#222">&#8722;4</text><text transform="translate(587.5,679.9) rotate(-90)" font-size="5.6" text-anchor="middle" fill="#222">&#8722;6</text><text transform="translate(587.5,695.2) rotate(-90)" font-size="5.6" text-anchor="middle" fill="#222">&#8722;8</text><text transform="translate(587.5,707.2) rotate(-90)" font-size="5.6" text-anchor="middle" fill="#222">10</text><text transform="translate(587.5,720.8) rotate(-90)" font-size="5.6" text-anchor="middle" fill="#222">5</text><text transform="translate(587.5,734.2) rotate(-90)" font-size="5.6" text-anchor="middle" fill="#222">0</text><text transform="translate(587.5,747.8) rotate(-90)" font-size="5.6" text-anchor="middle" fill="#222">&#8722;5</text><text x="601.2" y="763.3" font-size="5.6" text-anchor="middle" fill="#222">0</text><text x="627.2" y="763.3" font-size="5.6" text-anchor="middle" fill="#222">2</text><text x="653.1" y="763.3" font-size="5.6" text-anchor="middle" fill="#222">4</text><text x="679.0" y="763.3" font-size="5.6" text-anchor="middle" fill="#222">6</text><text x="704.9" y="763.3" font-size="5.6" text-anchor="middle" fill="#222">8</text><text x="730.8" y="763.3" font-size="5.6" text-anchor="middle" fill="#222">10</text><text x="756.7" y="763.3" font-size="5.6" text-anchor="middle" fill="#222">12</text><text transform="translate(576.7,646.3) rotate(-90)" font-size="8.5" text-anchor="middle" fill="#000" class="s">RV [m/s]</text><text transform="translate(576.7,726.3) rotate(-90)" font-size="8.5" text-anchor="middle" fill="#000" class="s">O-C [m/s]</text><text x="754.6" y="712.4" font-size="8.5" text-anchor="end" fill="#000" class="s">RMS=2.5 m/s</text><text x="677.0" y="777.2" font-size="8.5" text-anchor="middle" fill="#000" class="s">Orbital phase [day]</text>
</svg></body></html>
